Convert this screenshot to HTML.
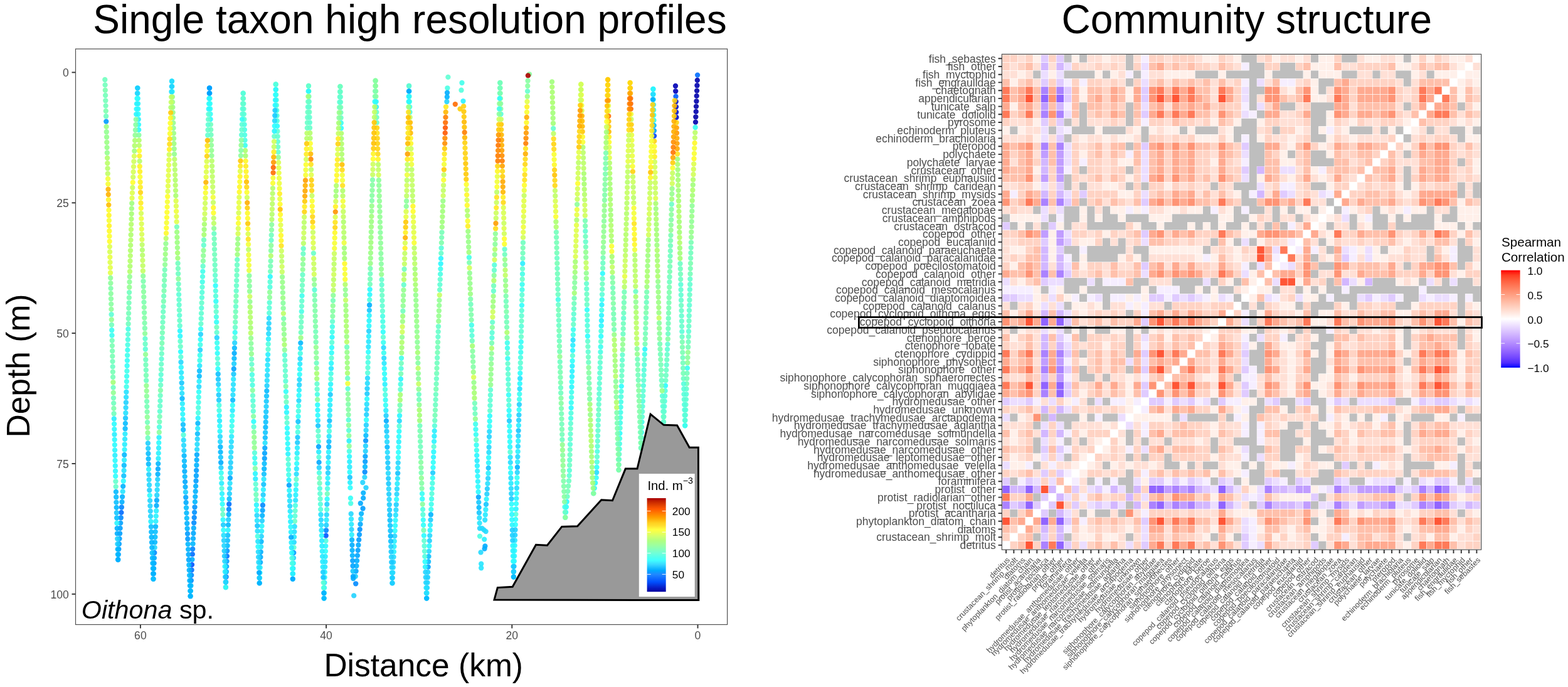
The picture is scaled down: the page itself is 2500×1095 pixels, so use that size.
<!DOCTYPE html>
<html lang="en"><head><meta charset="utf-8"><title>Single taxon high resolution profiles / Community structure</title>
<style>html,body{margin:0;padding:0;background:#fff}svg{display:block}text{font-family:"Liberation Sans", sans-serif}</style></head><body>
<svg width="2500" height="1095" viewBox="0 0 2500 1095">
<rect width="2500" height="1095" fill="#fff"/>
<text x="653.5" y="52.8" font-size="64" text-anchor="middle" fill="#000">Single taxon high resolution profiles</text>
<text x="1987.8" y="52.8" font-size="64" text-anchor="middle" fill="#000">Community structure</text>
<text transform="translate(46.5,583) rotate(-90)" font-size="51.5" text-anchor="middle" fill="#000">Depth (m)</text>
<text x="675.2" y="1078.2" font-size="51.5" text-anchor="middle" fill="#000">Distance (km)</text>
<g stroke="#333" stroke-width="1.9">
<line x1="114.5" y1="115.4" x2="120.5" y2="115.4"/>
<line x1="114.5" y1="323.3" x2="120.5" y2="323.3"/>
<line x1="114.5" y1="531.1" x2="120.5" y2="531.1"/>
<line x1="114.5" y1="739" x2="120.5" y2="739"/>
<line x1="114.5" y1="946.9" x2="120.5" y2="946.9"/>
<line x1="223.9" y1="995.5" x2="223.9" y2="1001.5"/>
<line x1="520.1" y1="995.5" x2="520.1" y2="1001.5"/>
<line x1="816.3" y1="995.5" x2="816.3" y2="1001.5"/>
<line x1="1112.5" y1="995.5" x2="1112.5" y2="1001.5"/>
</g>
<g font-size="17.6" fill="#4d4d4d">
<text x="109.8" y="122.3" text-anchor="end">0</text>
<text x="109.8" y="330.2" text-anchor="end">25</text>
<text x="109.8" y="538" text-anchor="end">50</text>
<text x="109.8" y="745.9" text-anchor="end">75</text>
<text x="109.8" y="953.8" text-anchor="end">100</text>
<text x="223.9" y="1018.8" text-anchor="middle">60</text>
<text x="520.1" y="1018.8" text-anchor="middle">40</text>
<text x="816.3" y="1018.8" text-anchor="middle">20</text>
<text x="1112.5" y="1018.8" text-anchor="middle">0</text>
</g>
<g fill-opacity="0.9">
<circle cx="844" cy="118.3" r="4.15" fill="#8cff9c"/><circle cx="1112.1" cy="119.6" r="4.15" fill="#006dff"/><circle cx="1111.8" cy="127.9" r="4.15" fill="#0000ab"/><circle cx="1111.4" cy="136.2" r="4.15" fill="#0000af"/><circle cx="1111.1" cy="144.6" r="4.15" fill="#0000a7"/><circle cx="1110.7" cy="152.9" r="4.15" fill="#0000ad"/><circle cx="1110.4" cy="161.3" r="4.15" fill="#0000ab"/><circle cx="1110" cy="169.6" r="4.15" fill="#0000a7"/><circle cx="1109.7" cy="177.9" r="4.15" fill="#0000ad"/><circle cx="1109.3" cy="186.3" r="4.15" fill="#0000a6"/><circle cx="1109" cy="194.6" r="4.15" fill="#0000ac"/><circle cx="1108.6" cy="203" r="4.15" fill="#39fff2"/><circle cx="1108.3" cy="211.3" r="4.15" fill="#bbff68"/><circle cx="1107.9" cy="219.6" r="4.15" fill="#c3ff64"/><circle cx="1107.6" cy="228" r="4.15" fill="#fff827"/><circle cx="1107.2" cy="236.3" r="4.15" fill="#f7ff33"/><circle cx="1106.9" cy="244.7" r="4.15" fill="#f9ff31"/><circle cx="1106.5" cy="253" r="4.15" fill="#fffe2a"/><circle cx="1106.2" cy="261.3" r="4.15" fill="#deff4d"/><circle cx="1105.8" cy="269.7" r="4.15" fill="#d5ff55"/><circle cx="1105.5" cy="278" r="4.15" fill="#d1ff5a"/><circle cx="1105.1" cy="286.4" r="4.15" fill="#b4ff6c"/><circle cx="1104.8" cy="294.7" r="4.15" fill="#a2ff7b"/><circle cx="1104.4" cy="303" r="4.15" fill="#b1ff6d"/><circle cx="1104.1" cy="311.4" r="4.15" fill="#a5ff75"/><circle cx="1103.7" cy="319.7" r="4.15" fill="#a3ff79"/><circle cx="1103.5" cy="328.1" r="4.15" fill="#8fff98"/><circle cx="1103.3" cy="336.4" r="4.15" fill="#92ff94"/><circle cx="1103" cy="344.7" r="4.15" fill="#99ff88"/><circle cx="1102.8" cy="353.1" r="4.15" fill="#90ff96"/><circle cx="1102.6" cy="361.4" r="4.15" fill="#96ff8e"/><circle cx="1102.3" cy="369.8" r="4.15" fill="#97ff8c"/><circle cx="1102.1" cy="378.1" r="4.15" fill="#93ff92"/><circle cx="1101.9" cy="386.4" r="4.15" fill="#78ffb4"/><circle cx="1101.7" cy="394.8" r="4.15" fill="#70ffbe"/><circle cx="1101.4" cy="403.1" r="4.15" fill="#70ffbe"/><circle cx="1101.2" cy="411.5" r="4.15" fill="#72ffbb"/><circle cx="1101" cy="419.8" r="4.15" fill="#7affb1"/><circle cx="1100.8" cy="428.1" r="4.15" fill="#76ffb6"/><circle cx="1100.5" cy="436.5" r="4.15" fill="#74ffb9"/><circle cx="1100.3" cy="444.8" r="4.15" fill="#65ffcd"/><circle cx="1100.1" cy="453.2" r="4.15" fill="#63ffd0"/><circle cx="1099.8" cy="461.5" r="4.15" fill="#60ffd4"/><circle cx="1099.6" cy="469.8" r="4.15" fill="#68ffc9"/><circle cx="1099.4" cy="478.2" r="4.15" fill="#67ffcb"/><circle cx="1099.2" cy="486.5" r="4.15" fill="#5fffd5"/><circle cx="1098.9" cy="494.8" r="4.15" fill="#65ffce"/><circle cx="1098.7" cy="503.2" r="4.15" fill="#64ffcf"/><circle cx="1098.5" cy="511.5" r="4.15" fill="#6affc7"/><circle cx="1098.3" cy="519.9" r="4.15" fill="#67ffca"/><circle cx="1098" cy="528.2" r="4.15" fill="#60ffd4"/><circle cx="1097.8" cy="536.5" r="4.15" fill="#6bffc5"/><circle cx="1097.5" cy="544.9" r="4.15" fill="#71ffbd"/><circle cx="1097.2" cy="553.2" r="4.15" fill="#76ffb7"/><circle cx="1096.9" cy="561.6" r="4.15" fill="#93ff92"/><circle cx="1096.5" cy="569.9" r="4.15" fill="#89ff9f"/><circle cx="1096.2" cy="578.2" r="4.15" fill="#8fff98"/><circle cx="1095.9" cy="586.6" r="4.15" fill="#38fff2"/><circle cx="1095.5" cy="594.9" r="4.15" fill="#73ffba"/><circle cx="1095.2" cy="603.3" r="4.15" fill="#75ffb8"/><circle cx="1094.9" cy="611.6" r="4.15" fill="#72ffbc"/><circle cx="1094.5" cy="619.9" r="4.15" fill="#63ffd0"/><circle cx="1094.2" cy="628.3" r="4.15" fill="#58ffda"/><circle cx="1093.9" cy="636.6" r="4.15" fill="#60ffd4"/><circle cx="1093.5" cy="645" r="4.15" fill="#5effd5"/><circle cx="1093.2" cy="653.3" r="4.15" fill="#5effd6"/><circle cx="1092.9" cy="661.6" r="4.15" fill="#5bffd8"/><circle cx="1092.5" cy="670" r="4.15" fill="#62ffd1"/><circle cx="1092.2" cy="678.3" r="4.15" fill="#33fff7"/><circle cx="1077" cy="137" r="4.15" fill="#0000b5"/><circle cx="1077.2" cy="145.3" r="4.15" fill="#0000b7"/><circle cx="1077.5" cy="153.7" r="4.15" fill="#005dff"/><circle cx="1077.7" cy="162" r="4.15" fill="#000bc6"/><circle cx="1077.9" cy="170.3" r="4.15" fill="#000ac5"/><circle cx="1078.1" cy="178.7" r="4.15" fill="#000eca"/><circle cx="1078.4" cy="187" r="4.15" fill="#000cc8"/><circle cx="1078.6" cy="195.3" r="4.15" fill="#ffd20e"/><circle cx="1078.8" cy="203.6" r="4.15" fill="#ffa100"/><circle cx="1079" cy="212" r="4.15" fill="#ff9900"/><circle cx="1079.3" cy="220.3" r="4.15" fill="#ffab00"/><circle cx="1079.5" cy="228.6" r="4.15" fill="#ff9f00"/><circle cx="1079.7" cy="237" r="4.15" fill="#ffa700"/><circle cx="1080" cy="245.3" r="4.15" fill="#ffe01b"/><circle cx="1080.2" cy="253.6" r="4.15" fill="#a2ff7a"/><circle cx="1080.4" cy="261.9" r="4.15" fill="#afff6e"/><circle cx="1080.6" cy="270.3" r="4.15" fill="#a3ff79"/><circle cx="1080.9" cy="278.6" r="4.15" fill="#a4ff76"/><circle cx="1081.1" cy="286.9" r="4.15" fill="#a6ff73"/><circle cx="1081.3" cy="295.2" r="4.15" fill="#b1ff6d"/><circle cx="1081.6" cy="303.6" r="4.15" fill="#a2ff7a"/><circle cx="1081.8" cy="311.9" r="4.15" fill="#a7ff72"/><circle cx="1082" cy="320.2" r="4.15" fill="#aaff71"/><circle cx="1082.2" cy="328.6" r="4.15" fill="#b2ff6d"/><circle cx="1082.4" cy="336.9" r="4.15" fill="#b0ff6d"/><circle cx="1082.6" cy="345.2" r="4.15" fill="#b1ff6d"/><circle cx="1082.9" cy="353.5" r="4.15" fill="#a5ff76"/><circle cx="1083.1" cy="361.9" r="4.15" fill="#a7ff73"/><circle cx="1083.3" cy="370.2" r="4.15" fill="#a6ff74"/><circle cx="1083.5" cy="378.5" r="4.15" fill="#b2ff6d"/><circle cx="1083.7" cy="386.9" r="4.15" fill="#b3ff6c"/><circle cx="1083.9" cy="395.2" r="4.15" fill="#a3ff78"/><circle cx="1084.1" cy="403.5" r="4.15" fill="#a3ff78"/><circle cx="1084.3" cy="411.8" r="4.15" fill="#a4ff77"/><circle cx="1084.5" cy="420.2" r="4.15" fill="#6cffc3"/><circle cx="1084.8" cy="428.5" r="4.15" fill="#70ffbe"/><circle cx="1085" cy="436.8" r="4.15" fill="#72ffbc"/><circle cx="1085.2" cy="445.1" r="4.15" fill="#6dffc3"/><circle cx="1085.4" cy="453.5" r="4.15" fill="#5affd8"/><circle cx="1085.6" cy="461.8" r="4.15" fill="#62ffd1"/><circle cx="1085.8" cy="470.1" r="4.15" fill="#61ffd2"/><circle cx="1086" cy="478.5" r="4.15" fill="#65ffce"/><circle cx="1086.2" cy="486.8" r="4.15" fill="#6bffc5"/><circle cx="1086.5" cy="495.1" r="4.15" fill="#67ffcb"/><circle cx="1086.7" cy="503.4" r="4.15" fill="#64ffcf"/><circle cx="1086.9" cy="511.8" r="4.15" fill="#65ffcd"/><circle cx="1087.1" cy="520.1" r="4.15" fill="#66ffcb"/><circle cx="1087.3" cy="528.4" r="4.15" fill="#5bffd8"/><circle cx="1087.5" cy="536.8" r="4.15" fill="#6affc6"/><circle cx="1087.8" cy="545.1" r="4.15" fill="#79ffb3"/><circle cx="1088" cy="553.4" r="4.15" fill="#7affb1"/><circle cx="1088.3" cy="561.7" r="4.15" fill="#79ffb3"/><circle cx="1088.6" cy="570.1" r="4.15" fill="#72ffbc"/><circle cx="1088.9" cy="578.4" r="4.15" fill="#72ffbb"/><circle cx="1089.1" cy="586.7" r="4.15" fill="#6dffc2"/><circle cx="1089.4" cy="595" r="4.15" fill="#76ffb6"/><circle cx="1089.7" cy="603.4" r="4.15" fill="#6dffc3"/><circle cx="1090" cy="611.7" r="4.15" fill="#57ffdb"/><circle cx="1090.3" cy="620" r="4.15" fill="#5affd8"/><circle cx="1090.5" cy="628.4" r="4.15" fill="#59ffd9"/><circle cx="1090.8" cy="636.7" r="4.15" fill="#5dffd6"/><circle cx="1091.1" cy="645" r="4.15" fill="#56ffdb"/><circle cx="1091.4" cy="653.3" r="4.15" fill="#55ffdc"/><circle cx="1091.6" cy="661.7" r="4.15" fill="#59ffd9"/><circle cx="1091.9" cy="670" r="4.15" fill="#57ffda"/><circle cx="1092.2" cy="678.3" r="4.15" fill="#3effed"/><circle cx="1075.6" cy="160.3" r="4.15" fill="#ffd612"/><circle cx="1075.4" cy="168.6" r="4.15" fill="#ffba00"/><circle cx="1075.1" cy="176.8" r="4.15" fill="#ffc101"/><circle cx="1074.9" cy="185.1" r="4.15" fill="#ffcd09"/><circle cx="1074.6" cy="193.3" r="4.15" fill="#ffb000"/><circle cx="1074.4" cy="201.6" r="4.15" fill="#ffad00"/><circle cx="1074.2" cy="209.9" r="4.15" fill="#ffad00"/><circle cx="1073.9" cy="218.1" r="4.15" fill="#ffa300"/><circle cx="1073.7" cy="226.4" r="4.15" fill="#ff8f00"/><circle cx="1073.5" cy="234.7" r="4.15" fill="#ff8000"/><circle cx="1073.2" cy="242.9" r="4.15" fill="#ff7300"/><circle cx="1073" cy="251.2" r="4.15" fill="#ffa900"/><circle cx="1072.7" cy="259.4" r="4.15" fill="#ffce0b"/><circle cx="1072.5" cy="267.7" r="4.15" fill="#faff30"/><circle cx="1072.3" cy="276" r="4.15" fill="#c6ff62"/><circle cx="1072" cy="284.2" r="4.15" fill="#c4ff63"/><circle cx="1071.8" cy="292.5" r="4.15" fill="#d2ff59"/><circle cx="1071.6" cy="300.7" r="4.15" fill="#98ff8a"/><circle cx="1071.3" cy="309" r="4.15" fill="#96ff8d"/><circle cx="1071.1" cy="317.3" r="4.15" fill="#a3ff78"/><circle cx="1070.8" cy="325.5" r="4.15" fill="#6bffc6"/><circle cx="1070.6" cy="333.8" r="4.15" fill="#86ffa3"/><circle cx="1070.4" cy="342.1" r="4.15" fill="#8cff9b"/><circle cx="1070.2" cy="350.3" r="4.15" fill="#84ffa6"/><circle cx="1069.9" cy="358.6" r="4.15" fill="#8cff9b"/><circle cx="1069.7" cy="366.8" r="4.15" fill="#93ff92"/><circle cx="1069.5" cy="375.1" r="4.15" fill="#7affb1"/><circle cx="1069.2" cy="383.4" r="4.15" fill="#77ffb5"/><circle cx="1069" cy="391.6" r="4.15" fill="#70ffbe"/><circle cx="1068.8" cy="399.9" r="4.15" fill="#72ffbc"/><circle cx="1068.6" cy="408.1" r="4.15" fill="#6effc1"/><circle cx="1068.3" cy="416.4" r="4.15" fill="#78ffb3"/><circle cx="1068.1" cy="424.7" r="4.15" fill="#75ffb8"/><circle cx="1067.9" cy="432.9" r="4.15" fill="#79ffb3"/><circle cx="1067.6" cy="441.2" r="4.15" fill="#71ffbd"/><circle cx="1067.4" cy="449.4" r="4.15" fill="#6fffbf"/><circle cx="1067.2" cy="457.7" r="4.15" fill="#79ffb2"/><circle cx="1067" cy="466" r="4.15" fill="#7cffaf"/><circle cx="1066.7" cy="474.2" r="4.15" fill="#7affb1"/><circle cx="1066.5" cy="482.5" r="4.15" fill="#79ffb2"/><circle cx="1066.3" cy="490.8" r="4.15" fill="#79ffb2"/><circle cx="1066" cy="499" r="4.15" fill="#78ffb4"/><circle cx="1065.8" cy="507.3" r="4.15" fill="#6fffbf"/><circle cx="1065.6" cy="515.5" r="4.15" fill="#74ffb9"/><circle cx="1065.4" cy="523.8" r="4.15" fill="#72ffbc"/><circle cx="1065.1" cy="532.1" r="4.15" fill="#6cffc4"/><circle cx="1064.9" cy="540.3" r="4.15" fill="#84ffa6"/><circle cx="1064.5" cy="548.6" r="4.15" fill="#60ffd4"/><circle cx="1064" cy="556.8" r="4.15" fill="#5fffd4"/><circle cx="1063.6" cy="565.1" r="4.15" fill="#67ffcb"/><circle cx="1063.2" cy="573.4" r="4.15" fill="#6bffc5"/><circle cx="1062.7" cy="581.6" r="4.15" fill="#63ffd0"/><circle cx="1062.3" cy="589.9" r="4.15" fill="#6bffc6"/><circle cx="1061.9" cy="598.2" r="4.15" fill="#6cffc4"/><circle cx="1061.4" cy="606.4" r="4.15" fill="#6bffc5"/><circle cx="1061" cy="614.7" r="4.15" fill="#2afdff"/><circle cx="1060.6" cy="622.9" r="4.15" fill="#56ffdc"/><circle cx="1060.2" cy="631.2" r="4.15" fill="#56ffdb"/><circle cx="1059.7" cy="639.5" r="4.15" fill="#55ffdc"/><circle cx="1059.3" cy="647.7" r="4.15" fill="#55ffdc"/><circle cx="1058.9" cy="656" r="4.15" fill="#5fffd5"/><circle cx="1058.4" cy="664.2" r="4.15" fill="#63ffcf"/><circle cx="1058" cy="672.5" r="4.15" fill="#62ffd0"/><circle cx="1041.4" cy="142" r="4.15" fill="#29f8ff"/><circle cx="1041.6" cy="150.3" r="4.15" fill="#2afbff"/><circle cx="1041.8" cy="158.6" r="4.15" fill="#2afaff"/><circle cx="1042" cy="166.9" r="4.15" fill="#27edff"/><circle cx="1042.1" cy="175.2" r="4.15" fill="#29f7ff"/><circle cx="1042.3" cy="183.5" r="4.15" fill="#2afcff"/><circle cx="1042.5" cy="191.7" r="4.15" fill="#2afaff"/><circle cx="1042.7" cy="200" r="4.15" fill="#07bdff"/><circle cx="1042.9" cy="208.3" r="4.15" fill="#00a2ff"/><circle cx="1043.1" cy="216.6" r="4.15" fill="#0044ff"/><circle cx="1043.3" cy="224.9" r="4.15" fill="#ffd310"/><circle cx="1043.4" cy="233.2" r="4.15" fill="#feff2c"/><circle cx="1043.6" cy="241.5" r="4.15" fill="#fff325"/><circle cx="1043.8" cy="249.8" r="4.15" fill="#ffef22"/><circle cx="1044" cy="258.1" r="4.15" fill="#d1ff5a"/><circle cx="1044.2" cy="266.3" r="4.15" fill="#d1ff5a"/><circle cx="1044.4" cy="274.6" r="4.15" fill="#deff4d"/><circle cx="1044.6" cy="282.9" r="4.15" fill="#d9ff52"/><circle cx="1044.8" cy="291.2" r="4.15" fill="#ccff5f"/><circle cx="1044.9" cy="299.5" r="4.15" fill="#cbff60"/><circle cx="1045.1" cy="307.8" r="4.15" fill="#cbff60"/><circle cx="1045.3" cy="316.1" r="4.15" fill="#ddff4e"/><circle cx="1045.5" cy="324.4" r="4.15" fill="#abff70"/><circle cx="1045.8" cy="332.7" r="4.15" fill="#a0ff7d"/><circle cx="1046" cy="340.9" r="4.15" fill="#abff70"/><circle cx="1046.2" cy="349.2" r="4.15" fill="#afff6e"/><circle cx="1046.5" cy="357.5" r="4.15" fill="#a7ff72"/><circle cx="1046.7" cy="365.8" r="4.15" fill="#a3ff78"/><circle cx="1046.9" cy="374.1" r="4.15" fill="#a6ff74"/><circle cx="1047.2" cy="382.4" r="4.15" fill="#a0ff7d"/><circle cx="1047.4" cy="390.7" r="4.15" fill="#9fff80"/><circle cx="1047.7" cy="399" r="4.15" fill="#afff6e"/><circle cx="1047.9" cy="407.3" r="4.15" fill="#a7ff72"/><circle cx="1048.1" cy="415.5" r="4.15" fill="#a6ff75"/><circle cx="1048.4" cy="423.8" r="4.15" fill="#aeff6e"/><circle cx="1048.6" cy="432.1" r="4.15" fill="#a4ff77"/><circle cx="1048.8" cy="440.4" r="4.15" fill="#adff6f"/><circle cx="1049.1" cy="448.7" r="4.15" fill="#97ff8d"/><circle cx="1049.3" cy="457" r="4.15" fill="#8dff9a"/><circle cx="1049.6" cy="465.3" r="4.15" fill="#9cff83"/><circle cx="1049.8" cy="473.6" r="4.15" fill="#9dff82"/><circle cx="1050" cy="481.9" r="4.15" fill="#9cff84"/><circle cx="1050.3" cy="490.1" r="4.15" fill="#a1ff7c"/><circle cx="1050.5" cy="498.4" r="4.15" fill="#9cff83"/><circle cx="1050.7" cy="506.7" r="4.15" fill="#c8ff61"/><circle cx="1051" cy="515" r="4.15" fill="#89ff9f"/><circle cx="1051.2" cy="523.3" r="4.15" fill="#95ff8f"/><circle cx="1051.5" cy="531.6" r="4.15" fill="#8cff9b"/><circle cx="1051.7" cy="539.9" r="4.15" fill="#8eff99"/><circle cx="1052.1" cy="548.2" r="4.15" fill="#75ffb7"/><circle cx="1052.5" cy="556.5" r="4.15" fill="#7bffb0"/><circle cx="1052.9" cy="564.7" r="4.15" fill="#73ffbb"/><circle cx="1053.3" cy="573" r="4.15" fill="#7bffb0"/><circle cx="1053.7" cy="581.3" r="4.15" fill="#74ffb9"/><circle cx="1054.1" cy="589.6" r="4.15" fill="#75ffb8"/><circle cx="1054.4" cy="597.9" r="4.15" fill="#74ffb9"/><circle cx="1054.8" cy="606.2" r="4.15" fill="#6cffc4"/><circle cx="1055.2" cy="614.5" r="4.15" fill="#73ffba"/><circle cx="1055.6" cy="622.8" r="4.15" fill="#9bff85"/><circle cx="1056" cy="631.1" r="4.15" fill="#5affd8"/><circle cx="1056.4" cy="639.3" r="4.15" fill="#68ffc9"/><circle cx="1056.8" cy="647.6" r="4.15" fill="#5dffd6"/><circle cx="1057.2" cy="655.9" r="4.15" fill="#63ffd0"/><circle cx="1057.6" cy="664.2" r="4.15" fill="#67ffca"/><circle cx="1058" cy="672.5" r="4.15" fill="#64ffce"/><circle cx="1041.4" cy="142" r="4.15" fill="#29f5ff"/><circle cx="1041.1" cy="150.3" r="4.15" fill="#23dbff"/><circle cx="1040.9" cy="158.6" r="4.15" fill="#00adff"/><circle cx="1040.6" cy="166.9" r="4.15" fill="#ffd310"/><circle cx="1040.4" cy="175.2" r="4.15" fill="#ffce0a"/><circle cx="1040.1" cy="183.5" r="4.15" fill="#ffc302"/><circle cx="1039.8" cy="191.8" r="4.15" fill="#ffdc19"/><circle cx="1039.6" cy="200" r="4.15" fill="#ffdc18"/><circle cx="1039.3" cy="208.3" r="4.15" fill="#ffe920"/><circle cx="1039.1" cy="216.6" r="4.15" fill="#f7ff33"/><circle cx="1038.8" cy="224.9" r="4.15" fill="#f8ff32"/><circle cx="1038.5" cy="233.2" r="4.15" fill="#fbff2f"/><circle cx="1038.3" cy="241.5" r="4.15" fill="#feff2c"/><circle cx="1038" cy="249.8" r="4.15" fill="#f6ff35"/><circle cx="1037.7" cy="258.1" r="4.15" fill="#f9ff32"/><circle cx="1037.5" cy="266.4" r="4.15" fill="#fff123"/><circle cx="1037.2" cy="274.7" r="4.15" fill="#ffc403"/><circle cx="1037" cy="283" r="4.15" fill="#fff626"/><circle cx="1036.7" cy="291.2" r="4.15" fill="#c9ff61"/><circle cx="1036.4" cy="299.5" r="4.15" fill="#cbff60"/><circle cx="1036.2" cy="307.8" r="4.15" fill="#c9ff61"/><circle cx="1035.9" cy="316.1" r="4.15" fill="#d5ff56"/><circle cx="1035.7" cy="324.4" r="4.15" fill="#cfff5c"/><circle cx="1035.4" cy="332.7" r="4.15" fill="#d3ff58"/><circle cx="1035.1" cy="341" r="4.15" fill="#d5ff56"/><circle cx="1034.9" cy="349.3" r="4.15" fill="#c4ff63"/><circle cx="1034.6" cy="357.6" r="4.15" fill="#cbff5f"/><circle cx="1034.3" cy="365.9" r="4.15" fill="#d5ff56"/><circle cx="1034.1" cy="374.2" r="4.15" fill="#d2ff59"/><circle cx="1033.8" cy="382.4" r="4.15" fill="#a0ff7d"/><circle cx="1033.6" cy="390.7" r="4.15" fill="#a0ff7d"/><circle cx="1033.3" cy="399" r="4.15" fill="#a4ff76"/><circle cx="1033" cy="407.3" r="4.15" fill="#9fff7e"/><circle cx="1032.8" cy="415.6" r="4.15" fill="#a2ff7b"/><circle cx="1032.5" cy="423.9" r="4.15" fill="#9fff7e"/><circle cx="1032.2" cy="432.2" r="4.15" fill="#a8ff72"/><circle cx="1032" cy="440.5" r="4.15" fill="#aaff70"/><circle cx="1031.7" cy="448.8" r="4.15" fill="#adff6f"/><circle cx="1031.4" cy="457.1" r="4.15" fill="#a0ff7d"/><circle cx="1031.2" cy="465.4" r="4.15" fill="#78ffb4"/><circle cx="1030.9" cy="473.6" r="4.15" fill="#77ffb6"/><circle cx="1030.7" cy="481.9" r="4.15" fill="#6effc1"/><circle cx="1030.4" cy="490.2" r="4.15" fill="#7affb1"/><circle cx="1030.1" cy="498.5" r="4.15" fill="#7cffaf"/><circle cx="1029.9" cy="506.8" r="4.15" fill="#6fffbf"/><circle cx="1029.6" cy="515.1" r="4.15" fill="#7bffaf"/><circle cx="1029.3" cy="523.4" r="4.15" fill="#72ffbb"/><circle cx="1029.1" cy="531.7" r="4.15" fill="#74ffb9"/><circle cx="1028.8" cy="540" r="4.15" fill="#7cffaf"/><circle cx="1028.5" cy="548.3" r="4.15" fill="#76ffb6"/><circle cx="1028.2" cy="556.6" r="4.15" fill="#2af9ff"/><circle cx="1027.8" cy="564.8" r="4.15" fill="#44ffe9"/><circle cx="1027.5" cy="573.1" r="4.15" fill="#60ffd3"/><circle cx="1027.2" cy="581.4" r="4.15" fill="#58ffda"/><circle cx="1026.8" cy="589.7" r="4.15" fill="#55ffdc"/><circle cx="1026.5" cy="598" r="4.15" fill="#58ffda"/><circle cx="1026.2" cy="606.3" r="4.15" fill="#61ffd3"/><circle cx="1025.9" cy="614.6" r="4.15" fill="#51ffdf"/><circle cx="1025.5" cy="622.9" r="4.15" fill="#5dffd6"/><circle cx="1025.2" cy="631.2" r="4.15" fill="#5affd8"/><circle cx="1024.9" cy="639.5" r="4.15" fill="#51ffdf"/><circle cx="1024.5" cy="647.8" r="4.15" fill="#58ffda"/><circle cx="1024.2" cy="656" r="4.15" fill="#5fffd5"/><circle cx="1023.9" cy="664.3" r="4.15" fill="#5cffd7"/><circle cx="1023.5" cy="672.6" r="4.15" fill="#41ffeb"/><circle cx="1023.2" cy="680.9" r="4.15" fill="#55ffdc"/><circle cx="1022.9" cy="689.2" r="4.15" fill="#3dffee"/><circle cx="1022.6" cy="697.5" r="4.15" fill="#55ffdc"/><circle cx="1022.2" cy="705.8" r="4.15" fill="#41ffeb"/><circle cx="1021.9" cy="714.1" r="4.15" fill="#45ffe8"/><circle cx="1004.6" cy="132" r="4.15" fill="#fffd2a"/><circle cx="1004.9" cy="140.3" r="4.15" fill="#ffb200"/><circle cx="1005.1" cy="148.7" r="4.15" fill="#ffb800"/><circle cx="1005.4" cy="157" r="4.15" fill="#ff6b00"/><circle cx="1005.6" cy="165.3" r="4.15" fill="#ff6700"/><circle cx="1005.9" cy="173.6" r="4.15" fill="#ff6d00"/><circle cx="1006.1" cy="181.9" r="4.15" fill="#f2ff39"/><circle cx="1006.4" cy="190.2" r="4.15" fill="#ccff5f"/><circle cx="1006.6" cy="198.6" r="4.15" fill="#ffcd09"/><circle cx="1006.9" cy="206.9" r="4.15" fill="#ffd10d"/><circle cx="1007.1" cy="215.2" r="4.15" fill="#e8ff42"/><circle cx="1007.4" cy="223.5" r="4.15" fill="#ecff3f"/><circle cx="1007.6" cy="231.8" r="4.15" fill="#ddff4e"/><circle cx="1007.9" cy="240.1" r="4.15" fill="#dcff4f"/><circle cx="1008.1" cy="248.4" r="4.15" fill="#ebff40"/><circle cx="1008.4" cy="256.8" r="4.15" fill="#e5ff46"/><circle cx="1008.6" cy="265.1" r="4.15" fill="#faff30"/><circle cx="1008.9" cy="273.4" r="4.15" fill="#ffd10d"/><circle cx="1009.1" cy="281.7" r="4.15" fill="#c8ff61"/><circle cx="1009.4" cy="290" r="4.15" fill="#ccff5e"/><circle cx="1009.6" cy="298.3" r="4.15" fill="#bbff68"/><circle cx="1009.9" cy="306.6" r="4.15" fill="#ceff5d"/><circle cx="1010.1" cy="315" r="4.15" fill="#bbff68"/><circle cx="1010.4" cy="323.3" r="4.15" fill="#ceff5d"/><circle cx="1010.6" cy="331.6" r="4.15" fill="#f6ff34"/><circle cx="1010.7" cy="339.9" r="4.15" fill="#f4ff37"/><circle cx="1010.9" cy="348.2" r="4.15" fill="#f8ff33"/><circle cx="1011.1" cy="356.5" r="4.15" fill="#ffe51d"/><circle cx="1011.3" cy="364.9" r="4.15" fill="#fff727"/><circle cx="1011.5" cy="373.2" r="4.15" fill="#fffb29"/><circle cx="1011.6" cy="381.5" r="4.15" fill="#fff023"/><circle cx="1011.8" cy="389.8" r="4.15" fill="#fff827"/><circle cx="1012" cy="398.1" r="4.15" fill="#f0ff3b"/><circle cx="1012.2" cy="406.4" r="4.15" fill="#b8ff69"/><circle cx="1012.4" cy="414.7" r="4.15" fill="#b6ff6b"/><circle cx="1012.5" cy="423.1" r="4.15" fill="#b9ff69"/><circle cx="1012.7" cy="431.4" r="4.15" fill="#bcff68"/><circle cx="1012.9" cy="439.7" r="4.15" fill="#bcff68"/><circle cx="1013.1" cy="448" r="4.15" fill="#c7ff62"/><circle cx="1013.3" cy="456.3" r="4.15" fill="#bbff68"/><circle cx="1013.5" cy="464.6" r="4.15" fill="#6affc6"/><circle cx="1013.6" cy="472.9" r="4.15" fill="#aaff70"/><circle cx="1013.8" cy="481.3" r="4.15" fill="#90ff97"/><circle cx="1014" cy="489.6" r="4.15" fill="#9aff87"/><circle cx="1014.2" cy="497.9" r="4.15" fill="#b1ff6d"/><circle cx="1014.4" cy="506.2" r="4.15" fill="#abff70"/><circle cx="1014.5" cy="514.5" r="4.15" fill="#bcff67"/><circle cx="1014.7" cy="522.8" r="4.15" fill="#b8ff69"/><circle cx="1014.9" cy="531.1" r="4.15" fill="#c3ff64"/><circle cx="1015.1" cy="539.5" r="4.15" fill="#bbff68"/><circle cx="1015.4" cy="547.8" r="4.15" fill="#bcff67"/><circle cx="1015.7" cy="556.1" r="4.15" fill="#88ffa0"/><circle cx="1016" cy="564.4" r="4.15" fill="#94ff91"/><circle cx="1016.4" cy="572.7" r="4.15" fill="#73ffbb"/><circle cx="1016.7" cy="581" r="4.15" fill="#74ffb9"/><circle cx="1017" cy="589.4" r="4.15" fill="#7affb2"/><circle cx="1017.3" cy="597.7" r="4.15" fill="#72ffbc"/><circle cx="1017.7" cy="606" r="4.15" fill="#74ffb9"/><circle cx="1018" cy="614.3" r="4.15" fill="#81ffa8"/><circle cx="1018.3" cy="622.6" r="4.15" fill="#86ffa2"/><circle cx="1018.6" cy="630.9" r="4.15" fill="#7bffaf"/><circle cx="1019" cy="639.2" r="4.15" fill="#84ffa6"/><circle cx="1019.3" cy="647.6" r="4.15" fill="#81ffa8"/><circle cx="1019.6" cy="655.9" r="4.15" fill="#80ffaa"/><circle cx="1019.9" cy="664.2" r="4.15" fill="#7cffae"/><circle cx="1020.3" cy="672.5" r="4.15" fill="#7bffaf"/><circle cx="1020.6" cy="680.8" r="4.15" fill="#77ffb6"/><circle cx="1020.9" cy="689.1" r="4.15" fill="#78ffb4"/><circle cx="1021.2" cy="697.4" r="4.15" fill="#77ffb5"/><circle cx="1021.6" cy="705.8" r="4.15" fill="#82ffa7"/><circle cx="1021.9" cy="714.1" r="4.15" fill="#7affb1"/><circle cx="1004.6" cy="132" r="4.15" fill="#ffd410"/><circle cx="1004.4" cy="140.4" r="4.15" fill="#ffd511"/><circle cx="1004.2" cy="148.7" r="4.15" fill="#ffa500"/><circle cx="1003.9" cy="157" r="4.15" fill="#ff7900"/><circle cx="1003.7" cy="165.4" r="4.15" fill="#ff7e00"/><circle cx="1003.5" cy="173.7" r="4.15" fill="#ff8900"/><circle cx="1003.3" cy="182.1" r="4.15" fill="#ffd20f"/><circle cx="1003" cy="190.4" r="4.15" fill="#ffd10e"/><circle cx="1002.8" cy="198.7" r="4.15" fill="#ffd30f"/><circle cx="1002.6" cy="207.1" r="4.15" fill="#ffdf1a"/><circle cx="1002.4" cy="215.4" r="4.15" fill="#d2ff59"/><circle cx="1002.2" cy="223.7" r="4.15" fill="#ceff5d"/><circle cx="1001.9" cy="232.1" r="4.15" fill="#dfff4c"/><circle cx="1001.7" cy="240.4" r="4.15" fill="#dfff4c"/><circle cx="1001.5" cy="248.8" r="4.15" fill="#d5ff56"/><circle cx="1001.3" cy="257.1" r="4.15" fill="#e5ff45"/><circle cx="1001.1" cy="265.4" r="4.15" fill="#d0ff5b"/><circle cx="1000.8" cy="273.8" r="4.15" fill="#c1ff65"/><circle cx="1000.6" cy="282.1" r="4.15" fill="#c2ff65"/><circle cx="1000.4" cy="290.4" r="4.15" fill="#b9ff69"/><circle cx="1000.2" cy="298.8" r="4.15" fill="#c2ff64"/><circle cx="999.9" cy="307.1" r="4.15" fill="#c5ff63"/><circle cx="999.7" cy="315.5" r="4.15" fill="#c5ff63"/><circle cx="999.5" cy="323.8" r="4.15" fill="#b9ff69"/><circle cx="999.2" cy="332.1" r="4.15" fill="#c0ff65"/><circle cx="999" cy="340.5" r="4.15" fill="#b5ff6b"/><circle cx="998.8" cy="348.8" r="4.15" fill="#bbff68"/><circle cx="998.5" cy="357.1" r="4.15" fill="#b7ff6a"/><circle cx="998.3" cy="365.5" r="4.15" fill="#beff67"/><circle cx="998" cy="373.8" r="4.15" fill="#b5ff6b"/><circle cx="997.8" cy="382.2" r="4.15" fill="#b5ff6b"/><circle cx="997.6" cy="390.5" r="4.15" fill="#bcff68"/><circle cx="997.3" cy="398.8" r="4.15" fill="#baff69"/><circle cx="997.1" cy="407.2" r="4.15" fill="#c2ff64"/><circle cx="996.8" cy="415.5" r="4.15" fill="#cbff60"/><circle cx="996.6" cy="423.8" r="4.15" fill="#d0ff5b"/><circle cx="996.3" cy="432.2" r="4.15" fill="#ceff5d"/><circle cx="996.1" cy="440.5" r="4.15" fill="#e7ff44"/><circle cx="995.9" cy="448.9" r="4.15" fill="#c5ff63"/><circle cx="995.6" cy="457.2" r="4.15" fill="#b9ff69"/><circle cx="995.4" cy="465.5" r="4.15" fill="#74ffb9"/><circle cx="995.1" cy="473.9" r="4.15" fill="#7fffab"/><circle cx="994.9" cy="482.2" r="4.15" fill="#71ffbc"/><circle cx="994.6" cy="490.5" r="4.15" fill="#7bffb0"/><circle cx="994.4" cy="498.9" r="4.15" fill="#6cffc3"/><circle cx="994.2" cy="507.2" r="4.15" fill="#63ffd0"/><circle cx="993.9" cy="515.6" r="4.15" fill="#70ffbf"/><circle cx="993.7" cy="523.9" r="4.15" fill="#71ffbe"/><circle cx="993.4" cy="532.2" r="4.15" fill="#6cffc4"/><circle cx="993.2" cy="540.6" r="4.15" fill="#93ff93"/><circle cx="992.9" cy="548.9" r="4.15" fill="#94ff91"/><circle cx="992.7" cy="557.2" r="4.15" fill="#89ff9f"/><circle cx="992.4" cy="565.6" r="4.15" fill="#64ffcf"/><circle cx="992.1" cy="573.9" r="4.15" fill="#64ffcf"/><circle cx="991.9" cy="582.3" r="4.15" fill="#69ffc8"/><circle cx="991.6" cy="590.6" r="4.15" fill="#69ffc8"/><circle cx="991.3" cy="598.9" r="4.15" fill="#69ffc8"/><circle cx="991.1" cy="607.3" r="4.15" fill="#65ffcd"/><circle cx="990.8" cy="615.6" r="4.15" fill="#2bffff"/><circle cx="990.5" cy="623.9" r="4.15" fill="#4effe1"/><circle cx="990.2" cy="632.3" r="4.15" fill="#4effe1"/><circle cx="990" cy="640.6" r="4.15" fill="#44ffe9"/><circle cx="989.7" cy="649" r="4.15" fill="#40ffec"/><circle cx="989.4" cy="657.3" r="4.15" fill="#42ffea"/><circle cx="989.2" cy="665.6" r="4.15" fill="#47ffe6"/><circle cx="988.9" cy="674" r="4.15" fill="#41ffeb"/><circle cx="988.6" cy="682.3" r="4.15" fill="#52ffdf"/><circle cx="988.4" cy="690.6" r="4.15" fill="#2cfffe"/><circle cx="988.1" cy="699" r="4.15" fill="#44ffe9"/><circle cx="987.8" cy="707.3" r="4.15" fill="#44ffe9"/><circle cx="987.6" cy="715.7" r="4.15" fill="#45ffe8"/><circle cx="987.3" cy="724" r="4.15" fill="#5cffd7"/><circle cx="987" cy="732.3" r="4.15" fill="#51ffdf"/><circle cx="986.8" cy="740.7" r="4.15" fill="#62ffd1"/><circle cx="986.5" cy="749" r="4.15" fill="#61ffd3"/><circle cx="969.1" cy="127" r="4.15" fill="#ffd815"/><circle cx="969.3" cy="135.3" r="4.15" fill="#ffd814"/><circle cx="969.4" cy="143.6" r="4.15" fill="#ffd512"/><circle cx="969.6" cy="151.9" r="4.15" fill="#ffe11b"/><circle cx="969.8" cy="160.2" r="4.15" fill="#ffa200"/><circle cx="970" cy="168.5" r="4.15" fill="#e6ff45"/><circle cx="970.1" cy="176.8" r="4.15" fill="#e1ff4a"/><circle cx="970.3" cy="185.1" r="4.15" fill="#ff6e00"/><circle cx="970.5" cy="193.4" r="4.15" fill="#ffbe00"/><circle cx="970.6" cy="201.7" r="4.15" fill="#ffcc08"/><circle cx="970.8" cy="210" r="4.15" fill="#ffbe00"/><circle cx="971" cy="218.3" r="4.15" fill="#ffef22"/><circle cx="971.2" cy="226.6" r="4.15" fill="#fffc29"/><circle cx="971.3" cy="234.8" r="4.15" fill="#daff51"/><circle cx="971.5" cy="243.1" r="4.15" fill="#ddff4e"/><circle cx="971.7" cy="251.4" r="4.15" fill="#e2ff49"/><circle cx="971.9" cy="259.7" r="4.15" fill="#b4ff6c"/><circle cx="972" cy="268" r="4.15" fill="#b0ff6d"/><circle cx="972.2" cy="276.3" r="4.15" fill="#b1ff6d"/><circle cx="972.4" cy="284.6" r="4.15" fill="#a5ff76"/><circle cx="972.5" cy="292.9" r="4.15" fill="#a6ff74"/><circle cx="972.7" cy="301.2" r="4.15" fill="#a7ff72"/><circle cx="972.9" cy="309.5" r="4.15" fill="#b3ff6c"/><circle cx="973.1" cy="317.8" r="4.15" fill="#a9ff71"/><circle cx="973.3" cy="326.1" r="4.15" fill="#afff6e"/><circle cx="973.5" cy="334.4" r="4.15" fill="#a4ff77"/><circle cx="973.8" cy="342.7" r="4.15" fill="#a5ff76"/><circle cx="974" cy="350.9" r="4.15" fill="#a8ff72"/><circle cx="974.2" cy="359.2" r="4.15" fill="#b1ff6d"/><circle cx="974.5" cy="367.5" r="4.15" fill="#b2ff6d"/><circle cx="974.7" cy="375.8" r="4.15" fill="#b1ff6d"/><circle cx="975" cy="384.1" r="4.15" fill="#a8ff71"/><circle cx="975.2" cy="392.4" r="4.15" fill="#faff30"/><circle cx="975.4" cy="400.7" r="4.15" fill="#faff31"/><circle cx="975.7" cy="409" r="4.15" fill="#a8ff72"/><circle cx="975.9" cy="417.3" r="4.15" fill="#a3ff79"/><circle cx="976.2" cy="425.6" r="4.15" fill="#c5ff63"/><circle cx="976.4" cy="433.9" r="4.15" fill="#b4ff6b"/><circle cx="976.6" cy="442.2" r="4.15" fill="#83ffa7"/><circle cx="976.9" cy="450.5" r="4.15" fill="#82ffa7"/><circle cx="977.1" cy="458.8" r="4.15" fill="#73ffbb"/><circle cx="977.4" cy="467" r="4.15" fill="#7affb1"/><circle cx="977.6" cy="475.3" r="4.15" fill="#80ffaa"/><circle cx="977.9" cy="483.6" r="4.15" fill="#83ffa7"/><circle cx="978.1" cy="491.9" r="4.15" fill="#7affb1"/><circle cx="978.3" cy="500.2" r="4.15" fill="#77ffb5"/><circle cx="978.6" cy="508.5" r="4.15" fill="#76ffb7"/><circle cx="978.8" cy="516.8" r="4.15" fill="#82ffa7"/><circle cx="979.1" cy="525.1" r="4.15" fill="#76ffb7"/><circle cx="979.3" cy="533.4" r="4.15" fill="#99ff89"/><circle cx="979.5" cy="541.7" r="4.15" fill="#b3ff6c"/><circle cx="979.8" cy="550" r="4.15" fill="#aeff6f"/><circle cx="980.1" cy="558.3" r="4.15" fill="#b8ff69"/><circle cx="980.4" cy="566.6" r="4.15" fill="#a6ff74"/><circle cx="980.7" cy="574.9" r="4.15" fill="#a4ff77"/><circle cx="980.9" cy="583.1" r="4.15" fill="#a0ff7e"/><circle cx="981.2" cy="591.4" r="4.15" fill="#a5ff75"/><circle cx="981.5" cy="599.7" r="4.15" fill="#b7ff6a"/><circle cx="981.8" cy="608" r="4.15" fill="#8aff9d"/><circle cx="982" cy="616.3" r="4.15" fill="#95ff8f"/><circle cx="982.3" cy="624.6" r="4.15" fill="#8fff98"/><circle cx="982.6" cy="632.9" r="4.15" fill="#87ffa2"/><circle cx="982.9" cy="641.2" r="4.15" fill="#b0ff6e"/><circle cx="983.2" cy="649.5" r="4.15" fill="#bbff68"/><circle cx="983.4" cy="657.8" r="4.15" fill="#7dffad"/><circle cx="983.7" cy="666.1" r="4.15" fill="#7bffb0"/><circle cx="984" cy="674.4" r="4.15" fill="#78ffb4"/><circle cx="984.3" cy="682.7" r="4.15" fill="#7bffaf"/><circle cx="984.6" cy="691" r="4.15" fill="#7bffb0"/><circle cx="984.8" cy="699.2" r="4.15" fill="#84ffa5"/><circle cx="985.1" cy="707.5" r="4.15" fill="#76ffb7"/><circle cx="985.4" cy="715.8" r="4.15" fill="#82ffa7"/><circle cx="985.7" cy="724.1" r="4.15" fill="#84ffa5"/><circle cx="985.9" cy="732.4" r="4.15" fill="#78ffb4"/><circle cx="986.2" cy="740.7" r="4.15" fill="#85ffa4"/><circle cx="986.5" cy="749" r="4.15" fill="#82ffa8"/><circle cx="969.1" cy="127" r="4.15" fill="#ffca07"/><circle cx="968.9" cy="135.4" r="4.15" fill="#ffd511"/><circle cx="968.7" cy="143.7" r="4.15" fill="#ffd310"/><circle cx="968.4" cy="152.1" r="4.15" fill="#ffd310"/><circle cx="968.2" cy="160.4" r="4.15" fill="#ff9b00"/><circle cx="968" cy="168.8" r="4.15" fill="#ffc201"/><circle cx="967.8" cy="177.1" r="4.15" fill="#ffda17"/><circle cx="967.5" cy="185.5" r="4.15" fill="#ffd916"/><circle cx="967.3" cy="193.8" r="4.15" fill="#fdff2d"/><circle cx="967.1" cy="202.2" r="4.15" fill="#ceff5d"/><circle cx="966.9" cy="210.5" r="4.15" fill="#a2ff7a"/><circle cx="966.6" cy="218.9" r="4.15" fill="#b0ff6d"/><circle cx="966.4" cy="227.2" r="4.15" fill="#a5ff75"/><circle cx="966.2" cy="235.5" r="4.15" fill="#b3ff6c"/><circle cx="966" cy="243.9" r="4.15" fill="#7affb1"/><circle cx="965.7" cy="252.2" r="4.15" fill="#7affb1"/><circle cx="965.5" cy="260.6" r="4.15" fill="#7effac"/><circle cx="965.3" cy="268.9" r="4.15" fill="#79ffb3"/><circle cx="965.1" cy="277.3" r="4.15" fill="#7cffaf"/><circle cx="964.8" cy="285.6" r="4.15" fill="#86ffa3"/><circle cx="964.6" cy="294" r="4.15" fill="#85ffa4"/><circle cx="964.4" cy="302.3" r="4.15" fill="#83ffa6"/><circle cx="964.2" cy="310.7" r="4.15" fill="#80ffaa"/><circle cx="963.9" cy="319" r="4.15" fill="#85ffa4"/><circle cx="963.7" cy="327.4" r="4.15" fill="#98ff8a"/><circle cx="963.5" cy="335.7" r="4.15" fill="#93ff93"/><circle cx="963.3" cy="344.1" r="4.15" fill="#95ff8f"/><circle cx="963" cy="352.4" r="4.15" fill="#8bff9d"/><circle cx="962.8" cy="360.7" r="4.15" fill="#95ff8f"/><circle cx="962.6" cy="369.1" r="4.15" fill="#91ff95"/><circle cx="962.4" cy="377.4" r="4.15" fill="#96ff8e"/><circle cx="962.2" cy="385.8" r="4.15" fill="#94ff91"/><circle cx="961.9" cy="394.1" r="4.15" fill="#8fff98"/><circle cx="961.7" cy="402.5" r="4.15" fill="#8bff9d"/><circle cx="961.5" cy="410.8" r="4.15" fill="#78ffb4"/><circle cx="961.3" cy="419.2" r="4.15" fill="#6bffc6"/><circle cx="961.1" cy="427.5" r="4.15" fill="#70ffbe"/><circle cx="960.8" cy="435.9" r="4.15" fill="#2afdff"/><circle cx="960.6" cy="444.2" r="4.15" fill="#67ffcb"/><circle cx="960.4" cy="452.6" r="4.15" fill="#6effc1"/><circle cx="960.2" cy="460.9" r="4.15" fill="#68ffc9"/><circle cx="960" cy="469.3" r="4.15" fill="#5bffd8"/><circle cx="959.8" cy="477.6" r="4.15" fill="#39fff2"/><circle cx="959.5" cy="485.9" r="4.15" fill="#29f4ff"/><circle cx="959.3" cy="494.3" r="4.15" fill="#43ffea"/><circle cx="959.1" cy="502.6" r="4.15" fill="#29f6ff"/><circle cx="958.9" cy="511" r="4.15" fill="#28f2ff"/><circle cx="958.7" cy="519.3" r="4.15" fill="#2af9ff"/><circle cx="958.4" cy="527.7" r="4.15" fill="#4dffe2"/><circle cx="958.2" cy="536" r="4.15" fill="#2bffff"/><circle cx="958" cy="544.4" r="4.15" fill="#60ffd4"/><circle cx="957.7" cy="552.7" r="4.15" fill="#3bffef"/><circle cx="957.4" cy="561.1" r="4.15" fill="#4affe4"/><circle cx="957.2" cy="569.4" r="4.15" fill="#68ffc9"/><circle cx="956.9" cy="577.8" r="4.15" fill="#5fffd4"/><circle cx="956.6" cy="586.1" r="4.15" fill="#5dffd6"/><circle cx="956.3" cy="594.4" r="4.15" fill="#5effd5"/><circle cx="956.1" cy="602.8" r="4.15" fill="#5cffd7"/><circle cx="955.8" cy="611.1" r="4.15" fill="#61ffd3"/><circle cx="955.5" cy="619.5" r="4.15" fill="#5cffd7"/><circle cx="955.3" cy="627.8" r="4.15" fill="#5fffd5"/><circle cx="955" cy="636.2" r="4.15" fill="#5fffd4"/><circle cx="954.7" cy="644.5" r="4.15" fill="#65ffce"/><circle cx="954.5" cy="652.9" r="4.15" fill="#6affc7"/><circle cx="954.2" cy="661.2" r="4.15" fill="#68ffca"/><circle cx="953.9" cy="669.6" r="4.15" fill="#62ffd1"/><circle cx="953.6" cy="677.9" r="4.15" fill="#62ffd1"/><circle cx="953.4" cy="686.3" r="4.15" fill="#64ffcf"/><circle cx="953.1" cy="694.6" r="4.15" fill="#61ffd2"/><circle cx="952.8" cy="703" r="4.15" fill="#61ffd3"/><circle cx="952.6" cy="711.3" r="4.15" fill="#5bffd8"/><circle cx="952.3" cy="719.6" r="4.15" fill="#4effe1"/><circle cx="952" cy="728" r="4.15" fill="#61ffd2"/><circle cx="951.8" cy="736.3" r="4.15" fill="#4fffe0"/><circle cx="951.5" cy="744.7" r="4.15" fill="#31fff9"/><circle cx="951.2" cy="753" r="4.15" fill="#24ddff"/><circle cx="950.7" cy="761.4" r="4.15" fill="#32fff9"/><circle cx="949.2" cy="769.7" r="4.15" fill="#2afaff"/><circle cx="947.8" cy="778.1" r="4.15" fill="#2afbff"/><circle cx="946.3" cy="786.4" r="4.15" fill="#2afbff"/><circle cx="926.3" cy="134.5" r="4.15" fill="#e4ff47"/><circle cx="926.6" cy="142.9" r="4.15" fill="#e5ff45"/><circle cx="926.8" cy="151.2" r="4.15" fill="#f1ff3a"/><circle cx="927.1" cy="159.6" r="4.15" fill="#efff3c"/><circle cx="927.4" cy="168" r="4.15" fill="#efff3c"/><circle cx="927.7" cy="176.3" r="4.15" fill="#dbff50"/><circle cx="927.9" cy="184.7" r="4.15" fill="#ffb600"/><circle cx="928.2" cy="193" r="4.15" fill="#ffbf00"/><circle cx="928.5" cy="201.4" r="4.15" fill="#ffba00"/><circle cx="928.7" cy="209.7" r="4.15" fill="#ffc504"/><circle cx="929" cy="218.1" r="4.15" fill="#fff928"/><circle cx="929.3" cy="226.5" r="4.15" fill="#f8ff32"/><circle cx="929.5" cy="234.8" r="4.15" fill="#afff6e"/><circle cx="929.8" cy="243.2" r="4.15" fill="#bcff67"/><circle cx="930.1" cy="251.5" r="4.15" fill="#baff69"/><circle cx="930.4" cy="259.9" r="4.15" fill="#bbff68"/><circle cx="930.6" cy="268.2" r="4.15" fill="#bdff67"/><circle cx="930.9" cy="276.6" r="4.15" fill="#acff70"/><circle cx="931.2" cy="285" r="4.15" fill="#a9ff71"/><circle cx="931.4" cy="293.3" r="4.15" fill="#aaff71"/><circle cx="931.7" cy="301.7" r="4.15" fill="#b3ff6c"/><circle cx="932" cy="310" r="4.15" fill="#b6ff6a"/><circle cx="932.2" cy="318.4" r="4.15" fill="#bdff67"/><circle cx="932.4" cy="326.8" r="4.15" fill="#cfff5c"/><circle cx="932.6" cy="335.1" r="4.15" fill="#ceff5d"/><circle cx="932.8" cy="343.5" r="4.15" fill="#d0ff5b"/><circle cx="933" cy="351.8" r="4.15" fill="#77ffb6"/><circle cx="933.2" cy="360.2" r="4.15" fill="#78ffb4"/><circle cx="933.3" cy="368.5" r="4.15" fill="#62ffd1"/><circle cx="933.5" cy="376.9" r="4.15" fill="#6fffc0"/><circle cx="933.7" cy="385.3" r="4.15" fill="#66ffcc"/><circle cx="933.9" cy="393.6" r="4.15" fill="#71ffbd"/><circle cx="934" cy="402" r="4.15" fill="#94ff91"/><circle cx="934.2" cy="410.3" r="4.15" fill="#8fff98"/><circle cx="934.4" cy="418.7" r="4.15" fill="#c1ff65"/><circle cx="934.6" cy="427" r="4.15" fill="#c4ff63"/><circle cx="934.8" cy="435.4" r="4.15" fill="#94ff91"/><circle cx="934.9" cy="443.8" r="4.15" fill="#95ff8f"/><circle cx="935.1" cy="452.1" r="4.15" fill="#64ffcf"/><circle cx="935.3" cy="460.5" r="4.15" fill="#63ffd0"/><circle cx="935.5" cy="468.8" r="4.15" fill="#6affc6"/><circle cx="935.7" cy="477.2" r="4.15" fill="#6bffc5"/><circle cx="935.8" cy="485.5" r="4.15" fill="#68ffc9"/><circle cx="936" cy="493.9" r="4.15" fill="#31fff9"/><circle cx="936.2" cy="502.3" r="4.15" fill="#5affd9"/><circle cx="936.4" cy="510.6" r="4.15" fill="#4dffe2"/><circle cx="936.5" cy="519" r="4.15" fill="#53ffdd"/><circle cx="936.7" cy="527.3" r="4.15" fill="#57ffdb"/><circle cx="936.9" cy="535.7" r="4.15" fill="#2cfffe"/><circle cx="937.1" cy="544" r="4.15" fill="#63ffd0"/><circle cx="937.4" cy="552.4" r="4.15" fill="#67ffcb"/><circle cx="937.7" cy="560.8" r="4.15" fill="#60ffd4"/><circle cx="938" cy="569.1" r="4.15" fill="#6cffc3"/><circle cx="938.3" cy="577.5" r="4.15" fill="#6dffc3"/><circle cx="938.5" cy="585.8" r="4.15" fill="#89ff9f"/><circle cx="938.8" cy="594.2" r="4.15" fill="#85ffa4"/><circle cx="939.1" cy="602.6" r="4.15" fill="#7effac"/><circle cx="939.4" cy="610.9" r="4.15" fill="#79ffb2"/><circle cx="939.7" cy="619.3" r="4.15" fill="#81ffa8"/><circle cx="939.9" cy="627.6" r="4.15" fill="#84ffa5"/><circle cx="940.2" cy="636" r="4.15" fill="#80ffaa"/><circle cx="940.5" cy="644.3" r="4.15" fill="#a2ff7a"/><circle cx="940.8" cy="652.7" r="4.15" fill="#a8ff72"/><circle cx="941.1" cy="661.1" r="4.15" fill="#98ff8a"/><circle cx="941.4" cy="669.4" r="4.15" fill="#abff70"/><circle cx="941.6" cy="677.8" r="4.15" fill="#a7ff72"/><circle cx="941.9" cy="686.1" r="4.15" fill="#aeff6e"/><circle cx="942.2" cy="694.5" r="4.15" fill="#b0ff6d"/><circle cx="942.5" cy="702.8" r="4.15" fill="#b6ff6a"/><circle cx="942.8" cy="711.2" r="4.15" fill="#abff70"/><circle cx="943" cy="719.6" r="4.15" fill="#a4ff77"/><circle cx="943.3" cy="727.9" r="4.15" fill="#a3ff79"/><circle cx="943.6" cy="736.3" r="4.15" fill="#b2ff6c"/><circle cx="943.9" cy="744.6" r="4.15" fill="#9cff84"/><circle cx="944.2" cy="753" r="4.15" fill="#a6ff74"/><circle cx="944.5" cy="761.3" r="4.15" fill="#9dff82"/><circle cx="945.1" cy="769.7" r="4.15" fill="#a4ff77"/><circle cx="945.7" cy="778.1" r="4.15" fill="#9cff84"/><circle cx="946.3" cy="786.4" r="4.15" fill="#8eff99"/><circle cx="926.3" cy="134.5" r="4.15" fill="#d0ff5b"/><circle cx="926" cy="142.8" r="4.15" fill="#c5ff63"/><circle cx="925.8" cy="151.2" r="4.15" fill="#d5ff56"/><circle cx="925.5" cy="159.5" r="4.15" fill="#caff61"/><circle cx="925.2" cy="167.8" r="4.15" fill="#ffcc09"/><circle cx="925" cy="176.1" r="4.15" fill="#ffa000"/><circle cx="924.7" cy="184.4" r="4.15" fill="#ff9b00"/><circle cx="924.4" cy="192.7" r="4.15" fill="#ffb500"/><circle cx="924.1" cy="201" r="4.15" fill="#ffad00"/><circle cx="923.9" cy="209.4" r="4.15" fill="#ffd714"/><circle cx="923.6" cy="217.7" r="4.15" fill="#ffd310"/><circle cx="923.3" cy="226" r="4.15" fill="#ffd613"/><circle cx="923.1" cy="234.3" r="4.15" fill="#ffc805"/><circle cx="922.8" cy="242.6" r="4.15" fill="#e3ff48"/><circle cx="922.5" cy="250.9" r="4.15" fill="#e1ff4a"/><circle cx="922.3" cy="259.2" r="4.15" fill="#bfff66"/><circle cx="922" cy="267.6" r="4.15" fill="#c7ff62"/><circle cx="921.7" cy="275.9" r="4.15" fill="#d4ff57"/><circle cx="921.5" cy="284.2" r="4.15" fill="#d3ff58"/><circle cx="921.2" cy="292.5" r="4.15" fill="#feff2c"/><circle cx="920.9" cy="300.8" r="4.15" fill="#d6ff55"/><circle cx="920.6" cy="309.1" r="4.15" fill="#d4ff57"/><circle cx="920.4" cy="317.5" r="4.15" fill="#c6ff63"/><circle cx="920.1" cy="325.8" r="4.15" fill="#8dff9a"/><circle cx="919.9" cy="334.1" r="4.15" fill="#ecff3e"/><circle cx="919.6" cy="342.4" r="4.15" fill="#e8ff43"/><circle cx="919.4" cy="350.7" r="4.15" fill="#b0ff6d"/><circle cx="919.1" cy="359" r="4.15" fill="#e6ff45"/><circle cx="918.9" cy="367.3" r="4.15" fill="#dfff4c"/><circle cx="918.6" cy="375.7" r="4.15" fill="#dfff4c"/><circle cx="918.4" cy="384" r="4.15" fill="#deff4d"/><circle cx="918.1" cy="392.3" r="4.15" fill="#daff51"/><circle cx="917.8" cy="400.6" r="4.15" fill="#d6ff55"/><circle cx="917.6" cy="408.9" r="4.15" fill="#ddff4e"/><circle cx="917.3" cy="417.2" r="4.15" fill="#a6ff74"/><circle cx="917.1" cy="425.5" r="4.15" fill="#b3ff6c"/><circle cx="916.8" cy="433.9" r="4.15" fill="#a3ff79"/><circle cx="916.6" cy="442.2" r="4.15" fill="#93ff92"/><circle cx="916.3" cy="450.5" r="4.15" fill="#87ffa2"/><circle cx="916.1" cy="458.8" r="4.15" fill="#89ff9f"/><circle cx="915.8" cy="467.1" r="4.15" fill="#a4ff77"/><circle cx="915.6" cy="475.4" r="4.15" fill="#76ffb6"/><circle cx="915.3" cy="483.8" r="4.15" fill="#70ffbf"/><circle cx="915.1" cy="492.1" r="4.15" fill="#69ffc7"/><circle cx="914.8" cy="500.4" r="4.15" fill="#60ffd4"/><circle cx="914.6" cy="508.7" r="4.15" fill="#5dffd6"/><circle cx="914.3" cy="517" r="4.15" fill="#67ffca"/><circle cx="914.1" cy="525.3" r="4.15" fill="#3bfff0"/><circle cx="913.8" cy="533.6" r="4.15" fill="#3effed"/><circle cx="913.6" cy="542" r="4.15" fill="#25e2ff"/><circle cx="913.3" cy="550.3" r="4.15" fill="#28efff"/><circle cx="913.1" cy="558.6" r="4.15" fill="#29f6ff"/><circle cx="912.9" cy="566.9" r="4.15" fill="#5affd8"/><circle cx="912.6" cy="575.2" r="4.15" fill="#30fffa"/><circle cx="912.4" cy="583.5" r="4.15" fill="#28f3ff"/><circle cx="912.2" cy="591.8" r="4.15" fill="#28f3ff"/><circle cx="912" cy="600.2" r="4.15" fill="#28f4ff"/><circle cx="911.7" cy="608.5" r="4.15" fill="#2ffffb"/><circle cx="911.5" cy="616.8" r="4.15" fill="#29f7ff"/><circle cx="911.3" cy="625.1" r="4.15" fill="#3effed"/><circle cx="911.1" cy="633.4" r="4.15" fill="#41ffeb"/><circle cx="910.8" cy="641.7" r="4.15" fill="#36fff4"/><circle cx="910.6" cy="650.1" r="4.15" fill="#2afbff"/><circle cx="910.4" cy="658.4" r="4.15" fill="#50ffe0"/><circle cx="910.1" cy="666.7" r="4.15" fill="#48ffe5"/><circle cx="909.9" cy="675" r="4.15" fill="#5fffd4"/><circle cx="909.7" cy="683.3" r="4.15" fill="#67ffca"/><circle cx="909.5" cy="691.6" r="4.15" fill="#60ffd3"/><circle cx="909.2" cy="699.9" r="4.15" fill="#60ffd4"/><circle cx="909" cy="708.3" r="4.15" fill="#5affd8"/><circle cx="908.8" cy="716.6" r="4.15" fill="#68ffca"/><circle cx="908.6" cy="724.9" r="4.15" fill="#6affc6"/><circle cx="908.3" cy="733.2" r="4.15" fill="#66ffcc"/><circle cx="908.1" cy="741.5" r="4.15" fill="#6bffc5"/><circle cx="907.9" cy="749.8" r="4.15" fill="#5affd8"/><circle cx="907.6" cy="758.1" r="4.15" fill="#5fffd5"/><circle cx="907" cy="766.5" r="4.15" fill="#6dffc3"/><circle cx="906.1" cy="774.8" r="4.15" fill="#75ffb8"/><circle cx="905.3" cy="783.1" r="4.15" fill="#75ffb8"/><circle cx="904.5" cy="791.4" r="4.15" fill="#6cffc4"/><circle cx="903.7" cy="799.7" r="4.15" fill="#2afbff"/><circle cx="902.9" cy="808" r="4.15" fill="#2bfeff"/><circle cx="902.1" cy="816.4" r="4.15" fill="#2bffff"/><circle cx="901.3" cy="824.7" r="4.15" fill="#33fff8"/><circle cx="880.1" cy="130.4" r="4.15" fill="#a1ff7c"/><circle cx="880.3" cy="138.6" r="4.15" fill="#abff70"/><circle cx="880.6" cy="146.9" r="4.15" fill="#a9ff71"/><circle cx="880.8" cy="155.2" r="4.15" fill="#abff70"/><circle cx="881" cy="163.4" r="4.15" fill="#aaff70"/><circle cx="881.3" cy="171.7" r="4.15" fill="#a7ff73"/><circle cx="881.5" cy="180" r="4.15" fill="#a3ff79"/><circle cx="881.7" cy="188.2" r="4.15" fill="#a3ff79"/><circle cx="882" cy="196.5" r="4.15" fill="#a3ff78"/><circle cx="882.2" cy="204.8" r="4.15" fill="#65ffcd"/><circle cx="882.5" cy="213" r="4.15" fill="#c0ff66"/><circle cx="882.7" cy="221.3" r="4.15" fill="#ffde1a"/><circle cx="882.9" cy="229.6" r="4.15" fill="#ffd410"/><circle cx="883.2" cy="237.8" r="4.15" fill="#ffdc19"/><circle cx="883.4" cy="246.1" r="4.15" fill="#faff31"/><circle cx="883.6" cy="254.3" r="4.15" fill="#f9ff31"/><circle cx="883.9" cy="262.6" r="4.15" fill="#fffa28"/><circle cx="884.1" cy="270.9" r="4.15" fill="#ffd10d"/><circle cx="884.3" cy="279.1" r="4.15" fill="#ffc202"/><circle cx="884.6" cy="287.4" r="4.15" fill="#ffd815"/><circle cx="884.8" cy="295.7" r="4.15" fill="#ffd713"/><circle cx="885" cy="303.9" r="4.15" fill="#c4ff63"/><circle cx="885.3" cy="312.2" r="4.15" fill="#c0ff66"/><circle cx="885.5" cy="320.5" r="4.15" fill="#d8ff53"/><circle cx="885.7" cy="328.7" r="4.15" fill="#e2ff49"/><circle cx="886" cy="337" r="4.15" fill="#e7ff44"/><circle cx="886.2" cy="345.3" r="4.15" fill="#f9ff31"/><circle cx="886.4" cy="353.5" r="4.15" fill="#acff70"/><circle cx="886.7" cy="361.8" r="4.15" fill="#b0ff6e"/><circle cx="886.9" cy="370.1" r="4.15" fill="#73ffbb"/><circle cx="887.1" cy="378.3" r="4.15" fill="#74ffba"/><circle cx="887.4" cy="386.6" r="4.15" fill="#75ffb8"/><circle cx="887.6" cy="394.9" r="4.15" fill="#76ffb6"/><circle cx="887.8" cy="403.1" r="4.15" fill="#73ffba"/><circle cx="888.1" cy="411.4" r="4.15" fill="#6affc6"/><circle cx="888.3" cy="419.7" r="4.15" fill="#76ffb6"/><circle cx="888.5" cy="427.9" r="4.15" fill="#6dffc2"/><circle cx="888.8" cy="436.2" r="4.15" fill="#72ffbc"/><circle cx="889" cy="444.5" r="4.15" fill="#6fffc0"/><circle cx="889.2" cy="452.7" r="4.15" fill="#75ffb8"/><circle cx="889.5" cy="461" r="4.15" fill="#6cffc4"/><circle cx="889.7" cy="469.3" r="4.15" fill="#6dffc3"/><circle cx="889.9" cy="477.5" r="4.15" fill="#45ffe8"/><circle cx="890.2" cy="485.8" r="4.15" fill="#68ffca"/><circle cx="890.4" cy="494" r="4.15" fill="#74ffba"/><circle cx="890.6" cy="502.3" r="4.15" fill="#6fffc0"/><circle cx="890.9" cy="510.6" r="4.15" fill="#6bffc6"/><circle cx="891.1" cy="518.8" r="4.15" fill="#6cffc4"/><circle cx="891.3" cy="527.1" r="4.15" fill="#76ffb7"/><circle cx="891.6" cy="535.4" r="4.15" fill="#6dffc2"/><circle cx="891.8" cy="543.6" r="4.15" fill="#70ffbf"/><circle cx="892" cy="551.9" r="4.15" fill="#79ffb2"/><circle cx="892.3" cy="560.2" r="4.15" fill="#77ffb6"/><circle cx="892.5" cy="568.4" r="4.15" fill="#93ff92"/><circle cx="892.8" cy="576.7" r="4.15" fill="#6dffc2"/><circle cx="893" cy="585" r="4.15" fill="#74ffba"/><circle cx="893.3" cy="593.2" r="4.15" fill="#79ffb2"/><circle cx="893.5" cy="601.5" r="4.15" fill="#7affb2"/><circle cx="893.8" cy="609.8" r="4.15" fill="#7bffb0"/><circle cx="894" cy="618" r="4.15" fill="#6cffc3"/><circle cx="894.2" cy="626.3" r="4.15" fill="#71ffbe"/><circle cx="894.5" cy="634.6" r="4.15" fill="#85ffa4"/><circle cx="894.7" cy="642.8" r="4.15" fill="#86ffa2"/><circle cx="895" cy="651.1" r="4.15" fill="#7cffaf"/><circle cx="895.2" cy="659.4" r="4.15" fill="#75ffb7"/><circle cx="895.5" cy="667.6" r="4.15" fill="#7bffb0"/><circle cx="895.7" cy="675.9" r="4.15" fill="#72ffbc"/><circle cx="896" cy="684.2" r="4.15" fill="#7affb1"/><circle cx="896.2" cy="692.4" r="4.15" fill="#73ffba"/><circle cx="896.4" cy="700.7" r="4.15" fill="#70ffbe"/><circle cx="896.7" cy="709" r="4.15" fill="#93ff92"/><circle cx="896.9" cy="717.2" r="4.15" fill="#95ff8e"/><circle cx="897.2" cy="725.5" r="4.15" fill="#88ffa0"/><circle cx="897.4" cy="733.7" r="4.15" fill="#91ff96"/><circle cx="897.7" cy="742" r="4.15" fill="#91ff95"/><circle cx="897.9" cy="750.3" r="4.15" fill="#8aff9e"/><circle cx="898.2" cy="758.5" r="4.15" fill="#8dff9b"/><circle cx="898.5" cy="766.8" r="4.15" fill="#7fffab"/><circle cx="898.9" cy="775.1" r="4.15" fill="#80ffaa"/><circle cx="899.3" cy="783.3" r="4.15" fill="#81ffa9"/><circle cx="899.7" cy="791.6" r="4.15" fill="#86ffa2"/><circle cx="900.1" cy="799.9" r="4.15" fill="#87ffa1"/><circle cx="900.5" cy="808.1" r="4.15" fill="#44ffe9"/><circle cx="900.9" cy="816.4" r="4.15" fill="#69ffc7"/><circle cx="901.3" cy="824.7" r="4.15" fill="#8fff97"/><circle cx="841.9" cy="120.4" r="4.15" fill="#ad0000"/><circle cx="841.6" cy="128.7" r="4.15" fill="#86ffa2"/><circle cx="841.3" cy="137" r="4.15" fill="#88ffa0"/><circle cx="841.1" cy="145.4" r="4.15" fill="#65ffcd"/><circle cx="840.8" cy="153.7" r="4.15" fill="#9cff85"/><circle cx="840.5" cy="162" r="4.15" fill="#e3ff48"/><circle cx="840.2" cy="170.3" r="4.15" fill="#fff224"/><circle cx="840" cy="178.7" r="4.15" fill="#faff30"/><circle cx="839.7" cy="187" r="4.15" fill="#ffac00"/><circle cx="839.4" cy="195.3" r="4.15" fill="#fffa28"/><circle cx="839.1" cy="203.6" r="4.15" fill="#ffb600"/><circle cx="838.9" cy="211.9" r="4.15" fill="#ff9900"/><circle cx="838.6" cy="220.3" r="4.15" fill="#ff8c00"/><circle cx="838.3" cy="228.6" r="4.15" fill="#ff7d00"/><circle cx="838" cy="236.9" r="4.15" fill="#ffe31c"/><circle cx="837.8" cy="245.2" r="4.15" fill="#ffaf00"/><circle cx="837.5" cy="253.6" r="4.15" fill="#ffdb18"/><circle cx="837.2" cy="261.9" r="4.15" fill="#ffd714"/><circle cx="836.9" cy="270.2" r="4.15" fill="#feff2c"/><circle cx="836.7" cy="278.5" r="4.15" fill="#ffdf1a"/><circle cx="836.4" cy="286.9" r="4.15" fill="#ffe41d"/><circle cx="836.1" cy="295.2" r="4.15" fill="#fffe2a"/><circle cx="835.8" cy="303.5" r="4.15" fill="#ebff40"/><circle cx="835.6" cy="311.8" r="4.15" fill="#c7ff62"/><circle cx="835.3" cy="320.2" r="4.15" fill="#e3ff47"/><circle cx="835.1" cy="328.5" r="4.15" fill="#dfff4b"/><circle cx="835" cy="336.8" r="4.15" fill="#ecff3f"/><circle cx="834.8" cy="345.1" r="4.15" fill="#e0ff4b"/><circle cx="834.6" cy="353.5" r="4.15" fill="#dbff50"/><circle cx="834.5" cy="361.8" r="4.15" fill="#f0ff3b"/><circle cx="834.3" cy="370.1" r="4.15" fill="#e5ff46"/><circle cx="834.1" cy="378.4" r="4.15" fill="#d2ff59"/><circle cx="834" cy="386.7" r="4.15" fill="#6fffc0"/><circle cx="833.8" cy="395.1" r="4.15" fill="#77ffb5"/><circle cx="833.6" cy="403.4" r="4.15" fill="#70ffbe"/><circle cx="833.5" cy="411.7" r="4.15" fill="#6bffc5"/><circle cx="833.3" cy="420" r="4.15" fill="#28efff"/><circle cx="833.1" cy="428.4" r="4.15" fill="#61ffd2"/><circle cx="833" cy="436.7" r="4.15" fill="#44ffe8"/><circle cx="832.8" cy="445" r="4.15" fill="#67ffcb"/><circle cx="832.6" cy="453.3" r="4.15" fill="#39fff2"/><circle cx="832.5" cy="461.7" r="4.15" fill="#44ffe9"/><circle cx="832.3" cy="470" r="4.15" fill="#5dffd6"/><circle cx="832.1" cy="478.3" r="4.15" fill="#60ffd3"/><circle cx="832" cy="486.6" r="4.15" fill="#30fffb"/><circle cx="831.8" cy="495" r="4.15" fill="#5bffd7"/><circle cx="831.6" cy="503.3" r="4.15" fill="#61ffd3"/><circle cx="831.5" cy="511.6" r="4.15" fill="#67ffca"/><circle cx="831.3" cy="519.9" r="4.15" fill="#58ffda"/><circle cx="831.1" cy="528.2" r="4.15" fill="#60ffd4"/><circle cx="831" cy="536.6" r="4.15" fill="#65ffcd"/><circle cx="830.8" cy="544.9" r="4.15" fill="#33fff7"/><circle cx="830.5" cy="553.2" r="4.15" fill="#3bfff0"/><circle cx="830.3" cy="561.5" r="4.15" fill="#3afff1"/><circle cx="830" cy="569.9" r="4.15" fill="#4bffe3"/><circle cx="829.8" cy="578.2" r="4.15" fill="#5dffd6"/><circle cx="829.6" cy="586.5" r="4.15" fill="#53ffde"/><circle cx="829.3" cy="594.8" r="4.15" fill="#2efffc"/><circle cx="829.1" cy="603.2" r="4.15" fill="#25e2ff"/><circle cx="828.8" cy="611.5" r="4.15" fill="#2afdff"/><circle cx="828.6" cy="619.8" r="4.15" fill="#25e2ff"/><circle cx="828.3" cy="628.1" r="4.15" fill="#38fff3"/><circle cx="828.1" cy="636.5" r="4.15" fill="#3cffef"/><circle cx="827.9" cy="644.8" r="4.15" fill="#22d4ff"/><circle cx="827.6" cy="653.1" r="4.15" fill="#30fffa"/><circle cx="827.4" cy="661.4" r="4.15" fill="#20d2ff"/><circle cx="827.1" cy="669.8" r="4.15" fill="#22d5ff"/><circle cx="826.9" cy="678.1" r="4.15" fill="#27ecff"/><circle cx="826.6" cy="686.4" r="4.15" fill="#14c8ff"/><circle cx="826.4" cy="694.7" r="4.15" fill="#22d5ff"/><circle cx="826.2" cy="703" r="4.15" fill="#28f3ff"/><circle cx="825.9" cy="711.4" r="4.15" fill="#23d9ff"/><circle cx="825.7" cy="719.7" r="4.15" fill="#28f1ff"/><circle cx="825.4" cy="728" r="4.15" fill="#23d8ff"/><circle cx="825.2" cy="736.3" r="4.15" fill="#26eaff"/><circle cx="824.9" cy="744.7" r="4.15" fill="#00b5ff"/><circle cx="824.7" cy="753" r="4.15" fill="#23d7ff"/><circle cx="824.4" cy="761.3" r="4.15" fill="#32fff8"/><circle cx="824.2" cy="769.6" r="4.15" fill="#29f7ff"/><circle cx="823.9" cy="778" r="4.15" fill="#24dcff"/><circle cx="823.6" cy="786.3" r="4.15" fill="#2cfffe"/><circle cx="823.3" cy="794.6" r="4.15" fill="#28f3ff"/><circle cx="823" cy="802.9" r="4.15" fill="#2efffc"/><circle cx="822.7" cy="811.3" r="4.15" fill="#29f5ff"/><circle cx="822.4" cy="819.6" r="4.15" fill="#55ffdc"/><circle cx="822.1" cy="827.9" r="4.15" fill="#2cfffe"/><circle cx="821.8" cy="836.2" r="4.15" fill="#2dfffd"/><circle cx="821.5" cy="844.5" r="4.15" fill="#1dd0ff"/><circle cx="821.2" cy="852.9" r="4.15" fill="#20d2ff"/><circle cx="820.9" cy="861.2" r="4.15" fill="#26e7ff"/><circle cx="820.7" cy="869.5" r="4.15" fill="#29f7ff"/><circle cx="820.4" cy="877.8" r="4.15" fill="#2afbff"/><circle cx="820.1" cy="886.2" r="4.15" fill="#29f7ff"/><circle cx="819.8" cy="894.5" r="4.15" fill="#29f7ff"/><circle cx="819.5" cy="902.8" r="4.15" fill="#10c5ff"/><circle cx="819.2" cy="911.1" r="4.15" fill="#1cceff"/><circle cx="818.9" cy="919.5" r="4.15" fill="#19ccff"/><circle cx="797.3" cy="132" r="4.15" fill="#7affb2"/><circle cx="797.5" cy="140.3" r="4.15" fill="#82ffa7"/><circle cx="797.7" cy="148.6" r="4.15" fill="#83ffa7"/><circle cx="798" cy="156.9" r="4.15" fill="#8bff9d"/><circle cx="798.2" cy="165.2" r="4.15" fill="#86ffa3"/><circle cx="798.4" cy="173.5" r="4.15" fill="#8bff9d"/><circle cx="798.6" cy="181.8" r="4.15" fill="#58ffda"/><circle cx="798.9" cy="190.1" r="4.15" fill="#c6ff62"/><circle cx="799.1" cy="198.3" r="4.15" fill="#ffc704"/><circle cx="799.3" cy="206.6" r="4.15" fill="#ffce0a"/><circle cx="799.5" cy="214.9" r="4.15" fill="#ffb700"/><circle cx="799.8" cy="223.2" r="4.15" fill="#ffa300"/><circle cx="800" cy="231.5" r="4.15" fill="#ffb000"/><circle cx="800.2" cy="239.8" r="4.15" fill="#ffa000"/><circle cx="800.4" cy="248.1" r="4.15" fill="#ff8e00"/><circle cx="800.7" cy="256.4" r="4.15" fill="#ff7c00"/><circle cx="800.9" cy="264.6" r="4.15" fill="#ffa100"/><circle cx="801.1" cy="272.9" r="4.15" fill="#ffd814"/><circle cx="801.3" cy="281.2" r="4.15" fill="#ffcf0b"/><circle cx="801.6" cy="289.5" r="4.15" fill="#ffa900"/><circle cx="801.8" cy="297.8" r="4.15" fill="#ffac00"/><circle cx="802" cy="306.1" r="4.15" fill="#ffb800"/><circle cx="802.2" cy="314.4" r="4.15" fill="#fff023"/><circle cx="802.5" cy="322.7" r="4.15" fill="#ffd915"/><circle cx="802.7" cy="331" r="4.15" fill="#dfff4b"/><circle cx="802.9" cy="339.2" r="4.15" fill="#d9ff52"/><circle cx="803.2" cy="347.5" r="4.15" fill="#dbff50"/><circle cx="803.4" cy="355.8" r="4.15" fill="#ccff5f"/><circle cx="803.6" cy="364.1" r="4.15" fill="#dfff4c"/><circle cx="803.9" cy="372.4" r="4.15" fill="#d3ff58"/><circle cx="804.1" cy="380.7" r="4.15" fill="#ffff2b"/><circle cx="804.3" cy="389" r="4.15" fill="#feff2c"/><circle cx="804.6" cy="397.3" r="4.15" fill="#65ffce"/><circle cx="804.8" cy="405.6" r="4.15" fill="#6fffc0"/><circle cx="805" cy="413.8" r="4.15" fill="#98ff8a"/><circle cx="805.3" cy="422.1" r="4.15" fill="#8bff9d"/><circle cx="805.5" cy="430.4" r="4.15" fill="#b8ff69"/><circle cx="805.7" cy="438.7" r="4.15" fill="#c2ff65"/><circle cx="806" cy="447" r="4.15" fill="#93ff92"/><circle cx="806.2" cy="455.3" r="4.15" fill="#9dff82"/><circle cx="806.4" cy="463.6" r="4.15" fill="#94ff90"/><circle cx="806.7" cy="471.9" r="4.15" fill="#7dffae"/><circle cx="806.9" cy="480.2" r="4.15" fill="#71ffbd"/><circle cx="807.1" cy="488.4" r="4.15" fill="#77ffb5"/><circle cx="807.4" cy="496.7" r="4.15" fill="#7effac"/><circle cx="807.6" cy="505" r="4.15" fill="#72ffbb"/><circle cx="807.8" cy="513.3" r="4.15" fill="#73ffba"/><circle cx="808.1" cy="521.6" r="4.15" fill="#77ffb5"/><circle cx="808.3" cy="529.9" r="4.15" fill="#aeff6f"/><circle cx="808.5" cy="538.2" r="4.15" fill="#84ffa5"/><circle cx="808.8" cy="546.5" r="4.15" fill="#3fffed"/><circle cx="809" cy="554.8" r="4.15" fill="#3effed"/><circle cx="809.2" cy="563" r="4.15" fill="#67ffca"/><circle cx="809.4" cy="571.3" r="4.15" fill="#39fff2"/><circle cx="809.6" cy="579.6" r="4.15" fill="#63ffcf"/><circle cx="809.9" cy="587.9" r="4.15" fill="#55ffdc"/><circle cx="810.1" cy="596.2" r="4.15" fill="#62ffd2"/><circle cx="810.3" cy="604.5" r="4.15" fill="#53ffdd"/><circle cx="810.5" cy="612.8" r="4.15" fill="#5cffd6"/><circle cx="810.7" cy="621.1" r="4.15" fill="#5fffd5"/><circle cx="811" cy="629.4" r="4.15" fill="#33fff7"/><circle cx="811.2" cy="637.6" r="4.15" fill="#57ffdb"/><circle cx="811.4" cy="645.9" r="4.15" fill="#50ffe0"/><circle cx="811.6" cy="654.2" r="4.15" fill="#2dfffd"/><circle cx="811.8" cy="662.5" r="4.15" fill="#29f8ff"/><circle cx="812" cy="670.8" r="4.15" fill="#1acdff"/><circle cx="812.3" cy="679.1" r="4.15" fill="#2dfffd"/><circle cx="812.5" cy="687.4" r="4.15" fill="#2afbff"/><circle cx="812.7" cy="695.7" r="4.15" fill="#2afaff"/><circle cx="812.9" cy="704" r="4.15" fill="#2dfffd"/><circle cx="813.1" cy="712.2" r="4.15" fill="#29f7ff"/><circle cx="813.4" cy="720.5" r="4.15" fill="#55ffdc"/><circle cx="813.6" cy="728.8" r="4.15" fill="#25e3ff"/><circle cx="813.8" cy="737.1" r="4.15" fill="#24dfff"/><circle cx="814" cy="745.4" r="4.15" fill="#2afdff"/><circle cx="814.2" cy="753.7" r="4.15" fill="#29f7ff"/><circle cx="814.5" cy="762" r="4.15" fill="#24e0ff"/><circle cx="814.7" cy="770.3" r="4.15" fill="#26eaff"/><circle cx="814.9" cy="778.6" r="4.15" fill="#24ddff"/><circle cx="815.2" cy="786.8" r="4.15" fill="#22d5ff"/><circle cx="815.4" cy="795.1" r="4.15" fill="#19ccff"/><circle cx="815.6" cy="803.4" r="4.15" fill="#2afbff"/><circle cx="815.9" cy="811.7" r="4.15" fill="#2dfffd"/><circle cx="816.1" cy="820" r="4.15" fill="#2afaff"/><circle cx="816.3" cy="828.3" r="4.15" fill="#2afbff"/><circle cx="816.6" cy="836.6" r="4.15" fill="#29f5ff"/><circle cx="816.8" cy="844.9" r="4.15" fill="#1bceff"/><circle cx="817" cy="853.2" r="4.15" fill="#1ccfff"/><circle cx="817.3" cy="861.4" r="4.15" fill="#1ed1ff"/><circle cx="817.5" cy="869.7" r="4.15" fill="#29f7ff"/><circle cx="817.7" cy="878" r="4.15" fill="#28f3ff"/><circle cx="818" cy="886.3" r="4.15" fill="#29f5ff"/><circle cx="818.2" cy="894.6" r="4.15" fill="#2afcff"/><circle cx="818.4" cy="902.9" r="4.15" fill="#1acdff"/><circle cx="818.7" cy="911.2" r="4.15" fill="#1ccfff"/><circle cx="818.9" cy="919.5" r="4.15" fill="#06bbff"/><circle cx="797.3" cy="132" r="4.15" fill="#73ffbb"/><circle cx="797.1" cy="140.3" r="4.15" fill="#72ffbb"/><circle cx="796.8" cy="148.6" r="4.15" fill="#78ffb4"/><circle cx="796.6" cy="156.9" r="4.15" fill="#2ffffb"/><circle cx="796.3" cy="165.2" r="4.15" fill="#90ff97"/><circle cx="796.1" cy="173.5" r="4.15" fill="#44ffe9"/><circle cx="795.8" cy="181.8" r="4.15" fill="#8bff9d"/><circle cx="795.6" cy="190.1" r="4.15" fill="#ccff5f"/><circle cx="795.3" cy="198.4" r="4.15" fill="#ffd30f"/><circle cx="795.1" cy="206.7" r="4.15" fill="#ffc805"/><circle cx="794.8" cy="215" r="4.15" fill="#ff9900"/><circle cx="794.6" cy="223.3" r="4.15" fill="#ff7c00"/><circle cx="794.3" cy="231.6" r="4.15" fill="#ff7700"/><circle cx="794.1" cy="239.9" r="4.15" fill="#ff8a00"/><circle cx="793.8" cy="248.2" r="4.15" fill="#ff7c00"/><circle cx="793.6" cy="256.5" r="4.15" fill="#ff7d00"/><circle cx="793.3" cy="264.8" r="4.15" fill="#ffd612"/><circle cx="793.1" cy="273" r="4.15" fill="#fff727"/><circle cx="792.9" cy="281.3" r="4.15" fill="#e9ff42"/><circle cx="792.6" cy="289.6" r="4.15" fill="#f2ff38"/><circle cx="792.4" cy="297.9" r="4.15" fill="#fdff2d"/><circle cx="792.1" cy="306.2" r="4.15" fill="#beff66"/><circle cx="791.9" cy="314.5" r="4.15" fill="#ffe21c"/><circle cx="791.6" cy="322.8" r="4.15" fill="#cbff5f"/><circle cx="791.3" cy="331.1" r="4.15" fill="#ffea20"/><circle cx="791" cy="339.4" r="4.15" fill="#cdff5d"/><circle cx="790.8" cy="347.7" r="4.15" fill="#c9ff61"/><circle cx="790.5" cy="356" r="4.15" fill="#ff9d00"/><circle cx="790.2" cy="364.3" r="4.15" fill="#ffdb17"/><circle cx="789.9" cy="372.6" r="4.15" fill="#8eff99"/><circle cx="789.7" cy="380.9" r="4.15" fill="#98ff8b"/><circle cx="789.4" cy="389.2" r="4.15" fill="#8bff9d"/><circle cx="789.1" cy="397.5" r="4.15" fill="#b3ff6c"/><circle cx="788.8" cy="405.8" r="4.15" fill="#91ff96"/><circle cx="788.5" cy="414.1" r="4.15" fill="#d2ff59"/><circle cx="788.3" cy="422.4" r="4.15" fill="#56ffdb"/><circle cx="788" cy="430.7" r="4.15" fill="#65ffcd"/><circle cx="787.7" cy="439" r="4.15" fill="#8aff9e"/><circle cx="787.4" cy="447.2" r="4.15" fill="#b3ff6c"/><circle cx="787.1" cy="455.5" r="4.15" fill="#71ffbd"/><circle cx="786.9" cy="463.8" r="4.15" fill="#64ffce"/><circle cx="786.6" cy="472.1" r="4.15" fill="#9cff84"/><circle cx="786.3" cy="480.4" r="4.15" fill="#a1ff7c"/><circle cx="786" cy="488.7" r="4.15" fill="#a0ff7e"/><circle cx="785.8" cy="497" r="4.15" fill="#cdff5e"/><circle cx="785.5" cy="505.3" r="4.15" fill="#d1ff59"/><circle cx="785.2" cy="513.6" r="4.15" fill="#65ffce"/><circle cx="784.9" cy="521.9" r="4.15" fill="#88ffa0"/><circle cx="784.6" cy="530.2" r="4.15" fill="#5cffd7"/><circle cx="784.4" cy="538.5" r="4.15" fill="#56ffdb"/><circle cx="784.1" cy="546.8" r="4.15" fill="#77ffb5"/><circle cx="783.9" cy="555.1" r="4.15" fill="#afff6e"/><circle cx="783.7" cy="563.4" r="4.15" fill="#8fff98"/><circle cx="783.4" cy="571.7" r="4.15" fill="#83ffa6"/><circle cx="783.2" cy="580" r="4.15" fill="#91ff95"/><circle cx="783" cy="588.3" r="4.15" fill="#98ff8a"/><circle cx="782.8" cy="596.6" r="4.15" fill="#94ff90"/><circle cx="782.5" cy="604.9" r="4.15" fill="#98ff8a"/><circle cx="782.3" cy="613.2" r="4.15" fill="#94ff90"/><circle cx="782.1" cy="621.4" r="4.15" fill="#5fffd5"/><circle cx="781.9" cy="629.7" r="4.15" fill="#5cffd7"/><circle cx="781.6" cy="638" r="4.15" fill="#5fffd5"/><circle cx="781.4" cy="646.3" r="4.15" fill="#5affd8"/><circle cx="781.2" cy="654.6" r="4.15" fill="#61ffd3"/><circle cx="780.9" cy="662.9" r="4.15" fill="#2afdff"/><circle cx="780.7" cy="671.2" r="4.15" fill="#2ffffb"/><circle cx="780.5" cy="679.5" r="4.15" fill="#31fff9"/><circle cx="780.3" cy="687.8" r="4.15" fill="#23dbff"/><circle cx="780" cy="696.1" r="4.15" fill="#21d3ff"/><circle cx="779.8" cy="704.4" r="4.15" fill="#2af9ff"/><circle cx="779.6" cy="712.7" r="4.15" fill="#23d9ff"/><circle cx="779.4" cy="721" r="4.15" fill="#24e0ff"/><circle cx="779.1" cy="729.3" r="4.15" fill="#29f9ff"/><circle cx="778.9" cy="737.6" r="4.15" fill="#28f4ff"/><circle cx="778.7" cy="745.9" r="4.15" fill="#11c5ff"/><circle cx="778.5" cy="754.2" r="4.15" fill="#27eeff"/><circle cx="778.1" cy="762.5" r="4.15" fill="#22d5ff"/><circle cx="777.5" cy="770.8" r="4.15" fill="#25e1ff"/><circle cx="776.9" cy="779.1" r="4.15" fill="#1cceff"/><circle cx="776.3" cy="787.4" r="4.15" fill="#20d2ff"/><circle cx="775.6" cy="795.6" r="4.15" fill="#28f3ff"/><circle cx="775" cy="803.9" r="4.15" fill="#13c7ff"/><circle cx="774.4" cy="812.2" r="4.15" fill="#27eeff"/><circle cx="773.8" cy="820.5" r="4.15" fill="#26eaff"/><circle cx="773.2" cy="828.8" r="4.15" fill="#25e2ff"/><circle cx="739.2" cy="169.4" r="4.15" fill="#ffd20e"/><circle cx="739.5" cy="177.8" r="4.15" fill="#ffc906"/><circle cx="739.8" cy="186.1" r="4.15" fill="#ffcb08"/><circle cx="740.1" cy="194.4" r="4.15" fill="#ffb900"/><circle cx="740.4" cy="202.7" r="4.15" fill="#ffc101"/><circle cx="740.7" cy="211" r="4.15" fill="#ff7e00"/><circle cx="741" cy="219.3" r="4.15" fill="#ffb500"/><circle cx="741.2" cy="227.6" r="4.15" fill="#ffd00c"/><circle cx="741.5" cy="235.9" r="4.15" fill="#ffd915"/><circle cx="741.8" cy="244.2" r="4.15" fill="#ffd20f"/><circle cx="742.1" cy="252.5" r="4.15" fill="#ffd511"/><circle cx="742.4" cy="260.8" r="4.15" fill="#ffc604"/><circle cx="742.7" cy="269.1" r="4.15" fill="#ffcf0b"/><circle cx="743" cy="277.4" r="4.15" fill="#ffc906"/><circle cx="743.3" cy="285.7" r="4.15" fill="#ffcd09"/><circle cx="743.6" cy="294" r="4.15" fill="#feff2c"/><circle cx="743.9" cy="302.3" r="4.15" fill="#dbff50"/><circle cx="744.2" cy="310.6" r="4.15" fill="#fff827"/><circle cx="744.5" cy="318.9" r="4.15" fill="#d8ff53"/><circle cx="744.8" cy="327.2" r="4.15" fill="#fffb29"/><circle cx="745.1" cy="335.5" r="4.15" fill="#b3ff6c"/><circle cx="745.4" cy="343.8" r="4.15" fill="#b0ff6d"/><circle cx="745.7" cy="352.2" r="4.15" fill="#faff30"/><circle cx="746" cy="360.5" r="4.15" fill="#fff023"/><circle cx="746.3" cy="368.8" r="4.15" fill="#9eff81"/><circle cx="746.6" cy="377.1" r="4.15" fill="#9bff86"/><circle cx="746.9" cy="385.4" r="4.15" fill="#99ff88"/><circle cx="747.2" cy="393.7" r="4.15" fill="#99ff88"/><circle cx="747.6" cy="402" r="4.15" fill="#a2ff7a"/><circle cx="747.9" cy="410.3" r="4.15" fill="#44ffe8"/><circle cx="748.2" cy="418.6" r="4.15" fill="#7bffb0"/><circle cx="748.5" cy="426.9" r="4.15" fill="#d0ff5b"/><circle cx="748.8" cy="435.2" r="4.15" fill="#92ff94"/><circle cx="749.1" cy="443.5" r="4.15" fill="#99ff89"/><circle cx="749.4" cy="451.8" r="4.15" fill="#96ff8e"/><circle cx="749.7" cy="460.1" r="4.15" fill="#9cff84"/><circle cx="750" cy="468.4" r="4.15" fill="#9cff84"/><circle cx="750.3" cy="476.7" r="4.15" fill="#7effac"/><circle cx="750.6" cy="485" r="4.15" fill="#70ffbe"/><circle cx="751" cy="493.3" r="4.15" fill="#7dffad"/><circle cx="751.3" cy="501.6" r="4.15" fill="#7effac"/><circle cx="751.6" cy="509.9" r="4.15" fill="#7fffab"/><circle cx="751.9" cy="518.2" r="4.15" fill="#42ffeb"/><circle cx="752.2" cy="526.6" r="4.15" fill="#5affd8"/><circle cx="752.5" cy="534.9" r="4.15" fill="#58ffda"/><circle cx="752.8" cy="543.2" r="4.15" fill="#70ffbf"/><circle cx="753.2" cy="551.5" r="4.15" fill="#a4ff76"/><circle cx="753.5" cy="559.8" r="4.15" fill="#87ffa2"/><circle cx="753.8" cy="568.1" r="4.15" fill="#84ffa5"/><circle cx="754.2" cy="576.4" r="4.15" fill="#87ffa2"/><circle cx="754.5" cy="584.7" r="4.15" fill="#84ffa6"/><circle cx="754.8" cy="593" r="4.15" fill="#9dff83"/><circle cx="755.2" cy="601.3" r="4.15" fill="#d8ff53"/><circle cx="755.5" cy="609.6" r="4.15" fill="#98ff8b"/><circle cx="755.8" cy="617.9" r="4.15" fill="#a0ff7d"/><circle cx="756.2" cy="626.2" r="4.15" fill="#a7ff73"/><circle cx="756.5" cy="634.5" r="4.15" fill="#a9ff71"/><circle cx="756.9" cy="642.8" r="4.15" fill="#73ffbb"/><circle cx="757.2" cy="651.1" r="4.15" fill="#6cffc4"/><circle cx="757.5" cy="659.4" r="4.15" fill="#70ffbf"/><circle cx="757.9" cy="667.7" r="4.15" fill="#95ff90"/><circle cx="758.2" cy="676" r="4.15" fill="#3dffee"/><circle cx="758.5" cy="684.3" r="4.15" fill="#37fff4"/><circle cx="758.9" cy="692.6" r="4.15" fill="#36fff4"/><circle cx="759.2" cy="701" r="4.15" fill="#68ffc9"/><circle cx="759.6" cy="709.3" r="4.15" fill="#36fff5"/><circle cx="759.9" cy="717.6" r="4.15" fill="#3cffef"/><circle cx="760.2" cy="725.9" r="4.15" fill="#29f7ff"/><circle cx="760.6" cy="734.2" r="4.15" fill="#27ecff"/><circle cx="760.9" cy="742.5" r="4.15" fill="#28f3ff"/><circle cx="761.2" cy="750.8" r="4.15" fill="#28f3ff"/><circle cx="761.6" cy="759.1" r="4.15" fill="#2af9ff"/><circle cx="761.9" cy="767.4" r="4.15" fill="#29f5ff"/><circle cx="762.2" cy="775.7" r="4.15" fill="#2afcff"/><circle cx="762.6" cy="784" r="4.15" fill="#2af9ff"/><circle cx="762.9" cy="792.3" r="4.15" fill="#00a7ff"/><circle cx="763.3" cy="800.6" r="4.15" fill="#15c9ff"/><circle cx="763.6" cy="808.9" r="4.15" fill="#06bcff"/><circle cx="763.9" cy="817.2" r="4.15" fill="#14c8ff"/><circle cx="764.3" cy="825.5" r="4.15" fill="#24dfff"/><circle cx="764.6" cy="833.8" r="4.15" fill="#26e7ff"/><circle cx="764.9" cy="842.1" r="4.15" fill="#22d5ff"/><circle cx="711" cy="170.3" r="4.15" fill="#ffea20"/><circle cx="710.7" cy="178.6" r="4.15" fill="#ffb700"/><circle cx="710.5" cy="186.9" r="4.15" fill="#ff8000"/><circle cx="710.2" cy="195.3" r="4.15" fill="#ff6b00"/><circle cx="710" cy="203.6" r="4.15" fill="#ff5400"/><circle cx="709.7" cy="211.9" r="4.15" fill="#ff5800"/><circle cx="709.4" cy="220.3" r="4.15" fill="#ff8b00"/><circle cx="709.2" cy="228.6" r="4.15" fill="#ff8e00"/><circle cx="708.9" cy="236.9" r="4.15" fill="#ffc906"/><circle cx="708.6" cy="245.3" r="4.15" fill="#ffe81f"/><circle cx="708.4" cy="253.6" r="4.15" fill="#fff727"/><circle cx="708.1" cy="261.9" r="4.15" fill="#f4ff37"/><circle cx="707.9" cy="270.3" r="4.15" fill="#ffcb07"/><circle cx="707.6" cy="278.6" r="4.15" fill="#c3ff64"/><circle cx="707.3" cy="286.9" r="4.15" fill="#faff30"/><circle cx="707.1" cy="295.3" r="4.15" fill="#caff61"/><circle cx="706.8" cy="303.6" r="4.15" fill="#c1ff65"/><circle cx="706.6" cy="311.9" r="4.15" fill="#cdff5e"/><circle cx="706.3" cy="320.3" r="4.15" fill="#9aff87"/><circle cx="706" cy="328.6" r="4.15" fill="#a4ff78"/><circle cx="705.7" cy="336.9" r="4.15" fill="#a2ff7a"/><circle cx="705.4" cy="345.3" r="4.15" fill="#a4ff78"/><circle cx="705.1" cy="353.6" r="4.15" fill="#a1ff7b"/><circle cx="704.8" cy="361.9" r="4.15" fill="#9eff81"/><circle cx="704.5" cy="370.3" r="4.15" fill="#76ffb7"/><circle cx="704.2" cy="378.6" r="4.15" fill="#76ffb7"/><circle cx="703.9" cy="386.9" r="4.15" fill="#7effac"/><circle cx="703.6" cy="395.3" r="4.15" fill="#57ffda"/><circle cx="703.3" cy="403.6" r="4.15" fill="#67ffcb"/><circle cx="703" cy="411.9" r="4.15" fill="#29f7ff"/><circle cx="702.7" cy="420.3" r="4.15" fill="#2afaff"/><circle cx="702.4" cy="428.6" r="4.15" fill="#3cffef"/><circle cx="702.1" cy="436.9" r="4.15" fill="#4affe4"/><circle cx="701.8" cy="445.3" r="4.15" fill="#60ffd4"/><circle cx="701.4" cy="453.6" r="4.15" fill="#5effd6"/><circle cx="701.1" cy="461.9" r="4.15" fill="#67ffcb"/><circle cx="700.8" cy="470.3" r="4.15" fill="#c4ff64"/><circle cx="700.5" cy="478.6" r="4.15" fill="#92ff95"/><circle cx="700.2" cy="486.9" r="4.15" fill="#93ff93"/><circle cx="699.9" cy="495.3" r="4.15" fill="#96ff8e"/><circle cx="699.6" cy="503.6" r="4.15" fill="#96ff8e"/><circle cx="699.3" cy="511.9" r="4.15" fill="#94ff91"/><circle cx="699" cy="520.3" r="4.15" fill="#68ffca"/><circle cx="698.7" cy="528.6" r="4.15" fill="#67ffca"/><circle cx="698.4" cy="536.9" r="4.15" fill="#64ffce"/><circle cx="698.1" cy="545.3" r="4.15" fill="#76ffb6"/><circle cx="697.8" cy="553.6" r="4.15" fill="#73ffba"/><circle cx="697.5" cy="561.9" r="4.15" fill="#75ffb8"/><circle cx="697.2" cy="570.2" r="4.15" fill="#6bffc5"/><circle cx="696.8" cy="578.6" r="4.15" fill="#70ffbf"/><circle cx="696.5" cy="586.9" r="4.15" fill="#75ffb8"/><circle cx="696.2" cy="595.2" r="4.15" fill="#72ffbc"/><circle cx="695.9" cy="603.6" r="4.15" fill="#6bffc6"/><circle cx="695.6" cy="611.9" r="4.15" fill="#70ffbe"/><circle cx="695.2" cy="620.2" r="4.15" fill="#77ffb5"/><circle cx="694.9" cy="628.6" r="4.15" fill="#6cffc3"/><circle cx="694.6" cy="636.9" r="4.15" fill="#6cffc4"/><circle cx="694.3" cy="645.2" r="4.15" fill="#6dffc2"/><circle cx="694" cy="653.6" r="4.15" fill="#74ffb9"/><circle cx="693.6" cy="661.9" r="4.15" fill="#76ffb6"/><circle cx="693.3" cy="670.2" r="4.15" fill="#6bffc5"/><circle cx="693" cy="678.6" r="4.15" fill="#59ffd9"/><circle cx="692.7" cy="686.9" r="4.15" fill="#28f0ff"/><circle cx="692.4" cy="695.2" r="4.15" fill="#28f1ff"/><circle cx="692.1" cy="703.6" r="4.15" fill="#29f5ff"/><circle cx="691.7" cy="711.9" r="4.15" fill="#59ffd9"/><circle cx="691.4" cy="720.2" r="4.15" fill="#29f9ff"/><circle cx="691.1" cy="728.6" r="4.15" fill="#29f6ff"/><circle cx="690.8" cy="736.9" r="4.15" fill="#30fffa"/><circle cx="690.5" cy="745.2" r="4.15" fill="#2cfffe"/><circle cx="690.1" cy="753.6" r="4.15" fill="#1acdff"/><circle cx="689.8" cy="761.9" r="4.15" fill="#33fff7"/><circle cx="689.4" cy="770.2" r="4.15" fill="#4affe4"/><circle cx="689" cy="778.6" r="4.15" fill="#3fffed"/><circle cx="688.5" cy="786.9" r="4.15" fill="#55ffdc"/><circle cx="688.1" cy="795.2" r="4.15" fill="#3fffec"/><circle cx="687.7" cy="803.6" r="4.15" fill="#3effed"/><circle cx="687.3" cy="811.9" r="4.15" fill="#38fff2"/><circle cx="686.9" cy="820.2" r="4.15" fill="#00b4ff"/><circle cx="686.5" cy="828.6" r="4.15" fill="#1ccfff"/><circle cx="686" cy="836.9" r="4.15" fill="#28f1ff"/><circle cx="685.6" cy="845.2" r="4.15" fill="#28f3ff"/><circle cx="685.2" cy="853.6" r="4.15" fill="#23d8ff"/><circle cx="684.8" cy="861.9" r="4.15" fill="#20d2ff"/><circle cx="684.4" cy="870.2" r="4.15" fill="#29f6ff"/><circle cx="684" cy="878.6" r="4.15" fill="#23d8ff"/><circle cx="683.5" cy="886.9" r="4.15" fill="#0abfff"/><circle cx="683.1" cy="895.2" r="4.15" fill="#07bcff"/><circle cx="682.7" cy="903.6" r="4.15" fill="#00a4ff"/><circle cx="682.3" cy="911.9" r="4.15" fill="#20d2ff"/><circle cx="681.9" cy="920.2" r="4.15" fill="#1acdff"/><circle cx="681.5" cy="928.6" r="4.15" fill="#22d5ff"/><circle cx="681" cy="936.9" r="4.15" fill="#1fd2ff"/><circle cx="680.6" cy="945.2" r="4.15" fill="#29f5ff"/><circle cx="680.2" cy="953.6" r="4.15" fill="#03b9ff"/><circle cx="652.1" cy="137" r="4.15" fill="#20d2ff"/><circle cx="652.4" cy="145.4" r="4.15" fill="#22d4ff"/><circle cx="652.6" cy="153.7" r="4.15" fill="#47ffe7"/><circle cx="652.9" cy="162" r="4.15" fill="#40ffec"/><circle cx="653.2" cy="170.3" r="4.15" fill="#3cffef"/><circle cx="653.5" cy="178.7" r="4.15" fill="#46ffe7"/><circle cx="653.7" cy="187" r="4.15" fill="#c5ff63"/><circle cx="654" cy="195.3" r="4.15" fill="#ffbd00"/><circle cx="654.3" cy="203.7" r="4.15" fill="#ffbf00"/><circle cx="654.6" cy="212" r="4.15" fill="#ffbb00"/><circle cx="654.8" cy="220.3" r="4.15" fill="#fff727"/><circle cx="655.1" cy="228.7" r="4.15" fill="#fff827"/><circle cx="655.4" cy="237" r="4.15" fill="#ceff5d"/><circle cx="655.7" cy="245.3" r="4.15" fill="#f3ff37"/><circle cx="655.9" cy="253.7" r="4.15" fill="#f9ff31"/><circle cx="656.2" cy="262" r="4.15" fill="#f0ff3b"/><circle cx="656.5" cy="270.3" r="4.15" fill="#beff66"/><circle cx="656.7" cy="278.7" r="4.15" fill="#c7ff62"/><circle cx="657" cy="287" r="4.15" fill="#c5ff63"/><circle cx="657.3" cy="295.3" r="4.15" fill="#c3ff64"/><circle cx="657.6" cy="303.7" r="4.15" fill="#baff68"/><circle cx="657.8" cy="312" r="4.15" fill="#bfff66"/><circle cx="658.1" cy="320.3" r="4.15" fill="#bfff66"/><circle cx="658.4" cy="328.7" r="4.15" fill="#fff827"/><circle cx="658.6" cy="337" r="4.15" fill="#fffe2a"/><circle cx="658.9" cy="345.3" r="4.15" fill="#e6ff45"/><circle cx="659.2" cy="353.7" r="4.15" fill="#ecff3f"/><circle cx="659.5" cy="362" r="4.15" fill="#daff51"/><circle cx="659.7" cy="370.3" r="4.15" fill="#e6ff45"/><circle cx="660" cy="378.6" r="4.15" fill="#e9ff42"/><circle cx="660.3" cy="387" r="4.15" fill="#f8ff32"/><circle cx="660.5" cy="395.3" r="4.15" fill="#bbff68"/><circle cx="660.8" cy="403.6" r="4.15" fill="#c7ff62"/><circle cx="661.1" cy="412" r="4.15" fill="#b1ff6d"/><circle cx="661.3" cy="420.3" r="4.15" fill="#bdff67"/><circle cx="661.6" cy="428.6" r="4.15" fill="#a3ff78"/><circle cx="661.9" cy="437" r="4.15" fill="#afff6e"/><circle cx="662.1" cy="445.3" r="4.15" fill="#b3ff6c"/><circle cx="662.4" cy="453.6" r="4.15" fill="#a9ff71"/><circle cx="662.7" cy="462" r="4.15" fill="#a2ff7a"/><circle cx="662.9" cy="470.3" r="4.15" fill="#96ff8e"/><circle cx="663.2" cy="478.6" r="4.15" fill="#95ff8e"/><circle cx="663.5" cy="487" r="4.15" fill="#98ff8b"/><circle cx="663.7" cy="495.3" r="4.15" fill="#95ff8f"/><circle cx="664" cy="503.6" r="4.15" fill="#97ff8c"/><circle cx="664.3" cy="512" r="4.15" fill="#99ff88"/><circle cx="664.6" cy="520.3" r="4.15" fill="#95ff8f"/><circle cx="664.8" cy="528.6" r="4.15" fill="#94ff91"/><circle cx="665.1" cy="537" r="4.15" fill="#9bff86"/><circle cx="665.4" cy="545.3" r="4.15" fill="#8dff9a"/><circle cx="665.6" cy="553.6" r="4.15" fill="#95ff90"/><circle cx="665.9" cy="561.9" r="4.15" fill="#a6ff73"/><circle cx="666.1" cy="570.3" r="4.15" fill="#90ff97"/><circle cx="666.4" cy="578.6" r="4.15" fill="#85ffa4"/><circle cx="666.6" cy="586.9" r="4.15" fill="#beff67"/><circle cx="666.9" cy="595.3" r="4.15" fill="#90ff97"/><circle cx="667.1" cy="603.6" r="4.15" fill="#8bff9d"/><circle cx="667.4" cy="611.9" r="4.15" fill="#c5ff63"/><circle cx="667.6" cy="620.3" r="4.15" fill="#91ff96"/><circle cx="667.9" cy="628.6" r="4.15" fill="#6cffc4"/><circle cx="668.1" cy="636.9" r="4.15" fill="#73ffbb"/><circle cx="668.4" cy="645.3" r="4.15" fill="#91ff95"/><circle cx="668.6" cy="653.6" r="4.15" fill="#a8ff71"/><circle cx="668.9" cy="661.9" r="4.15" fill="#a3ff78"/><circle cx="669.1" cy="670.3" r="4.15" fill="#a2ff7a"/><circle cx="669.4" cy="678.6" r="4.15" fill="#6fffbf"/><circle cx="669.6" cy="686.9" r="4.15" fill="#78ffb4"/><circle cx="669.9" cy="695.3" r="4.15" fill="#7bffb0"/><circle cx="670.1" cy="703.6" r="4.15" fill="#74ffb9"/><circle cx="670.4" cy="711.9" r="4.15" fill="#6fffbf"/><circle cx="670.6" cy="720.3" r="4.15" fill="#79ffb3"/><circle cx="670.9" cy="728.6" r="4.15" fill="#72ffbc"/><circle cx="671.1" cy="736.9" r="4.15" fill="#87ffa2"/><circle cx="671.4" cy="745.3" r="4.15" fill="#85ffa4"/><circle cx="671.6" cy="753.6" r="4.15" fill="#79ffb3"/><circle cx="671.9" cy="761.9" r="4.15" fill="#91ff96"/><circle cx="672.3" cy="770.2" r="4.15" fill="#84ffa5"/><circle cx="672.6" cy="778.6" r="4.15" fill="#81ffa9"/><circle cx="673" cy="786.9" r="4.15" fill="#37fff4"/><circle cx="673.3" cy="795.2" r="4.15" fill="#31fff9"/><circle cx="673.7" cy="803.6" r="4.15" fill="#89ff9f"/><circle cx="674.1" cy="811.9" r="4.15" fill="#50ffe0"/><circle cx="674.4" cy="820.2" r="4.15" fill="#56ffdb"/><circle cx="674.8" cy="828.6" r="4.15" fill="#31fff9"/><circle cx="675.1" cy="836.9" r="4.15" fill="#31fff9"/><circle cx="675.5" cy="845.2" r="4.15" fill="#77ffb5"/><circle cx="675.9" cy="853.6" r="4.15" fill="#2afcff"/><circle cx="676.2" cy="861.9" r="4.15" fill="#61ffd3"/><circle cx="676.6" cy="870.2" r="4.15" fill="#58ffda"/><circle cx="676.9" cy="878.6" r="4.15" fill="#5affd8"/><circle cx="677.3" cy="886.9" r="4.15" fill="#50ffe0"/><circle cx="677.7" cy="895.2" r="4.15" fill="#2bffff"/><circle cx="678" cy="903.6" r="4.15" fill="#28f4ff"/><circle cx="678.4" cy="911.9" r="4.15" fill="#22d4ff"/><circle cx="678.8" cy="920.2" r="4.15" fill="#20d2ff"/><circle cx="679.1" cy="928.6" r="4.15" fill="#22d5ff"/><circle cx="679.5" cy="936.9" r="4.15" fill="#24e0ff"/><circle cx="679.8" cy="945.2" r="4.15" fill="#24dcff"/><circle cx="680.2" cy="953.6" r="4.15" fill="#07bdff"/><circle cx="652.1" cy="137" r="4.15" fill="#66ffcb"/><circle cx="651.9" cy="145.4" r="4.15" fill="#00a8ff"/><circle cx="651.7" cy="153.7" r="4.15" fill="#29f4ff"/><circle cx="651.6" cy="162" r="4.15" fill="#29f8ff"/><circle cx="651.4" cy="170.4" r="4.15" fill="#9fff7f"/><circle cx="651.2" cy="178.7" r="4.15" fill="#ffe21c"/><circle cx="651" cy="187.1" r="4.15" fill="#ffc000"/><circle cx="650.8" cy="195.4" r="4.15" fill="#ffc806"/><circle cx="650.6" cy="203.7" r="4.15" fill="#ffe51d"/><circle cx="650.5" cy="212.1" r="4.15" fill="#ffe71e"/><circle cx="650.3" cy="220.4" r="4.15" fill="#ffcf0b"/><circle cx="650.1" cy="228.8" r="4.15" fill="#ffbc00"/><circle cx="649.9" cy="237.1" r="4.15" fill="#d4ff57"/><circle cx="649.7" cy="245.5" r="4.15" fill="#ffa100"/><circle cx="649.5" cy="253.8" r="4.15" fill="#ffea20"/><circle cx="649.4" cy="262.1" r="4.15" fill="#c4ff64"/><circle cx="649.2" cy="270.5" r="4.15" fill="#bfff66"/><circle cx="649" cy="278.8" r="4.15" fill="#eeff3d"/><circle cx="648.8" cy="287.2" r="4.15" fill="#b9ff69"/><circle cx="648.6" cy="295.5" r="4.15" fill="#d0ff5b"/><circle cx="648.5" cy="303.8" r="4.15" fill="#c9ff61"/><circle cx="648.3" cy="312.2" r="4.15" fill="#bfff66"/><circle cx="648.1" cy="320.5" r="4.15" fill="#8cff9c"/><circle cx="647.8" cy="328.9" r="4.15" fill="#8cff9b"/><circle cx="647.5" cy="337.2" r="4.15" fill="#dcff4f"/><circle cx="647.3" cy="345.6" r="4.15" fill="#e9ff42"/><circle cx="647" cy="353.9" r="4.15" fill="#ffc906"/><circle cx="646.7" cy="362.2" r="4.15" fill="#ffcd09"/><circle cx="646.5" cy="370.6" r="4.15" fill="#fff123"/><circle cx="646.2" cy="378.9" r="4.15" fill="#ffb100"/><circle cx="645.9" cy="387.3" r="4.15" fill="#daff51"/><circle cx="645.7" cy="395.6" r="4.15" fill="#fff124"/><circle cx="645.4" cy="403.9" r="4.15" fill="#c3ff64"/><circle cx="645.1" cy="412.3" r="4.15" fill="#c7ff62"/><circle cx="644.9" cy="420.6" r="4.15" fill="#c4ff63"/><circle cx="644.6" cy="429" r="4.15" fill="#71ffbe"/><circle cx="644.3" cy="437.3" r="4.15" fill="#b9ff69"/><circle cx="644" cy="445.6" r="4.15" fill="#baff68"/><circle cx="643.8" cy="454" r="4.15" fill="#65ffcd"/><circle cx="643.5" cy="462.3" r="4.15" fill="#95ff8f"/><circle cx="643.2" cy="470.7" r="4.15" fill="#93ff93"/><circle cx="643" cy="479" r="4.15" fill="#95ff8e"/><circle cx="642.7" cy="487.4" r="4.15" fill="#91ff95"/><circle cx="642.4" cy="495.7" r="4.15" fill="#70ffbe"/><circle cx="642.2" cy="504" r="4.15" fill="#a0ff7d"/><circle cx="641.9" cy="512.4" r="4.15" fill="#9dff83"/><circle cx="641.6" cy="520.7" r="4.15" fill="#d2ff59"/><circle cx="641.4" cy="529.1" r="4.15" fill="#d0ff5b"/><circle cx="641.1" cy="537.4" r="4.15" fill="#92ff94"/><circle cx="640.8" cy="545.7" r="4.15" fill="#b1ff6d"/><circle cx="640.6" cy="554.1" r="4.15" fill="#a5ff76"/><circle cx="640.3" cy="562.4" r="4.15" fill="#a0ff7d"/><circle cx="640" cy="570.8" r="4.15" fill="#41ffeb"/><circle cx="639.8" cy="579.1" r="4.15" fill="#71ffbe"/><circle cx="639.5" cy="587.4" r="4.15" fill="#54ffdd"/><circle cx="639.2" cy="595.8" r="4.15" fill="#77ffb6"/><circle cx="639" cy="604.1" r="4.15" fill="#29f6ff"/><circle cx="638.7" cy="612.5" r="4.15" fill="#49ffe5"/><circle cx="638.4" cy="620.8" r="4.15" fill="#5fffd4"/><circle cx="638.2" cy="629.2" r="4.15" fill="#a6ff74"/><circle cx="637.9" cy="637.5" r="4.15" fill="#a8ff72"/><circle cx="637.6" cy="645.8" r="4.15" fill="#76ffb6"/><circle cx="637.4" cy="654.2" r="4.15" fill="#6fffc0"/><circle cx="637.1" cy="662.5" r="4.15" fill="#29f7ff"/><circle cx="636.8" cy="670.9" r="4.15" fill="#24dcff"/><circle cx="636.6" cy="679.2" r="4.15" fill="#57ffdb"/><circle cx="636.3" cy="687.5" r="4.15" fill="#2bfeff"/><circle cx="636" cy="695.9" r="4.15" fill="#2bfeff"/><circle cx="635.8" cy="704.2" r="4.15" fill="#28f3ff"/><circle cx="635.5" cy="712.6" r="4.15" fill="#2bfeff"/><circle cx="635.2" cy="720.9" r="4.15" fill="#2bffff"/><circle cx="635" cy="729.2" r="4.15" fill="#2ffffb"/><circle cx="634.7" cy="737.6" r="4.15" fill="#23d7ff"/><circle cx="634.4" cy="745.9" r="4.15" fill="#25e3ff"/><circle cx="634.2" cy="754.3" r="4.15" fill="#0ec3ff"/><circle cx="633.9" cy="762.6" r="4.15" fill="#25e5ff"/><circle cx="633.4" cy="771" r="4.15" fill="#27edff"/><circle cx="633" cy="779.3" r="4.15" fill="#24ddff"/><circle cx="632.6" cy="787.6" r="4.15" fill="#23d7ff"/><circle cx="632.2" cy="796" r="4.15" fill="#2afaff"/><circle cx="631.8" cy="804.3" r="4.15" fill="#1ed0ff"/><circle cx="631.4" cy="812.7" r="4.15" fill="#23daff"/><circle cx="630.9" cy="821" r="4.15" fill="#25e3ff"/><circle cx="630.5" cy="829.3" r="4.15" fill="#2afbff"/><circle cx="630.1" cy="837.7" r="4.15" fill="#2afcff"/><circle cx="629.7" cy="846" r="4.15" fill="#2cfffd"/><circle cx="629.3" cy="854.4" r="4.15" fill="#22d5ff"/><circle cx="628.8" cy="862.7" r="4.15" fill="#28efff"/><circle cx="628.4" cy="871" r="4.15" fill="#28efff"/><circle cx="628" cy="879.4" r="4.15" fill="#28f2ff"/><circle cx="627.6" cy="887.7" r="4.15" fill="#24ddff"/><circle cx="627.2" cy="896.1" r="4.15" fill="#21d3ff"/><circle cx="626.8" cy="904.4" r="4.15" fill="#24ddff"/><circle cx="626.3" cy="912.8" r="4.15" fill="#22d5ff"/><circle cx="625.9" cy="921.1" r="4.15" fill="#23d7ff"/><circle cx="625.5" cy="929.4" r="4.15" fill="#21d3ff"/><circle cx="598.6" cy="128.7" r="4.15" fill="#85ffa4"/><circle cx="598.9" cy="137" r="4.15" fill="#8dff9a"/><circle cx="599.2" cy="145.4" r="4.15" fill="#87ffa1"/><circle cx="599.4" cy="153.7" r="4.15" fill="#8aff9e"/><circle cx="599.7" cy="162.1" r="4.15" fill="#29f5ff"/><circle cx="600" cy="170.4" r="4.15" fill="#29f5ff"/><circle cx="600.3" cy="178.7" r="4.15" fill="#67ffcb"/><circle cx="600.6" cy="187.1" r="4.15" fill="#6cffc4"/><circle cx="600.8" cy="195.4" r="4.15" fill="#6cffc3"/><circle cx="601.1" cy="203.8" r="4.15" fill="#ffd310"/><circle cx="601.4" cy="212.1" r="4.15" fill="#ffe21c"/><circle cx="601.7" cy="220.5" r="4.15" fill="#ffd411"/><circle cx="601.9" cy="228.8" r="4.15" fill="#ffd20e"/><circle cx="602.2" cy="237.1" r="4.15" fill="#ffd410"/><circle cx="602.5" cy="245.5" r="4.15" fill="#ffdc19"/><circle cx="602.8" cy="253.8" r="4.15" fill="#fff626"/><circle cx="603.1" cy="262.2" r="4.15" fill="#beff66"/><circle cx="603.3" cy="270.5" r="4.15" fill="#c3ff64"/><circle cx="603.6" cy="278.8" r="4.15" fill="#d4ff57"/><circle cx="603.9" cy="287.2" r="4.15" fill="#8dff9a"/><circle cx="604.2" cy="295.5" r="4.15" fill="#8eff99"/><circle cx="604.5" cy="303.9" r="4.15" fill="#90ff96"/><circle cx="604.7" cy="312.2" r="4.15" fill="#92ff93"/><circle cx="605" cy="320.5" r="4.15" fill="#91ff96"/><circle cx="605.2" cy="328.9" r="4.15" fill="#91ff96"/><circle cx="605.5" cy="337.2" r="4.15" fill="#91ff95"/><circle cx="605.7" cy="345.6" r="4.15" fill="#92ff94"/><circle cx="605.9" cy="353.9" r="4.15" fill="#91ff96"/><circle cx="606.2" cy="362.3" r="4.15" fill="#92ff94"/><circle cx="606.4" cy="370.6" r="4.15" fill="#8aff9e"/><circle cx="606.6" cy="378.9" r="4.15" fill="#92ff94"/><circle cx="606.9" cy="387.3" r="4.15" fill="#8eff99"/><circle cx="607.1" cy="395.6" r="4.15" fill="#93ff92"/><circle cx="607.3" cy="404" r="4.15" fill="#88ffa0"/><circle cx="607.6" cy="412.3" r="4.15" fill="#8aff9e"/><circle cx="607.8" cy="420.6" r="4.15" fill="#87ffa1"/><circle cx="608" cy="429" r="4.15" fill="#93ff92"/><circle cx="608.2" cy="437.3" r="4.15" fill="#95ff8f"/><circle cx="608.5" cy="445.7" r="4.15" fill="#66ffcc"/><circle cx="608.7" cy="454" r="4.15" fill="#61ffd2"/><circle cx="608.9" cy="462.3" r="4.15" fill="#69ffc8"/><circle cx="609.2" cy="470.7" r="4.15" fill="#68ffc9"/><circle cx="609.4" cy="479" r="4.15" fill="#65ffce"/><circle cx="609.6" cy="487.4" r="4.15" fill="#5fffd4"/><circle cx="609.9" cy="495.7" r="4.15" fill="#60ffd4"/><circle cx="610.1" cy="504" r="4.15" fill="#48ffe5"/><circle cx="610.3" cy="512.4" r="4.15" fill="#46ffe7"/><circle cx="610.6" cy="520.7" r="4.15" fill="#49ffe5"/><circle cx="610.8" cy="529.1" r="4.15" fill="#2efffc"/><circle cx="611" cy="537.4" r="4.15" fill="#5dffd6"/><circle cx="611.3" cy="545.8" r="4.15" fill="#39fff2"/><circle cx="611.6" cy="554.1" r="4.15" fill="#24dcff"/><circle cx="611.9" cy="562.4" r="4.15" fill="#38fff2"/><circle cx="612.2" cy="570.8" r="4.15" fill="#24deff"/><circle cx="612.5" cy="579.1" r="4.15" fill="#27ebff"/><circle cx="612.8" cy="587.5" r="4.15" fill="#2afdff"/><circle cx="613.1" cy="595.8" r="4.15" fill="#2ffffb"/><circle cx="613.4" cy="604.1" r="4.15" fill="#2afbff"/><circle cx="613.7" cy="612.5" r="4.15" fill="#28f3ff"/><circle cx="614" cy="620.8" r="4.15" fill="#48ffe6"/><circle cx="614.3" cy="629.2" r="4.15" fill="#4cffe3"/><circle cx="614.6" cy="637.5" r="4.15" fill="#33fff7"/><circle cx="614.9" cy="645.8" r="4.15" fill="#34fff7"/><circle cx="615.3" cy="654.2" r="4.15" fill="#28f0ff"/><circle cx="615.6" cy="662.5" r="4.15" fill="#20d2ff"/><circle cx="615.9" cy="670.9" r="4.15" fill="#00acff"/><circle cx="616.2" cy="679.2" r="4.15" fill="#20d2ff"/><circle cx="616.5" cy="687.5" r="4.15" fill="#18cbff"/><circle cx="616.8" cy="695.9" r="4.15" fill="#23dbff"/><circle cx="617.1" cy="704.2" r="4.15" fill="#23d9ff"/><circle cx="617.4" cy="712.6" r="4.15" fill="#05bbff"/><circle cx="617.7" cy="720.9" r="4.15" fill="#24deff"/><circle cx="618" cy="729.3" r="4.15" fill="#22d3ff"/><circle cx="618.3" cy="737.6" r="4.15" fill="#17caff"/><circle cx="618.6" cy="745.9" r="4.15" fill="#19ccff"/><circle cx="618.9" cy="754.3" r="4.15" fill="#23daff"/><circle cx="619.2" cy="762.6" r="4.15" fill="#1acdff"/><circle cx="619.5" cy="771" r="4.15" fill="#18cbff"/><circle cx="619.8" cy="779.3" r="4.15" fill="#23d7ff"/><circle cx="620.1" cy="787.6" r="4.15" fill="#1ccfff"/><circle cx="620.5" cy="796" r="4.15" fill="#23d7ff"/><circle cx="620.8" cy="804.3" r="4.15" fill="#1bceff"/><circle cx="621.1" cy="812.7" r="4.15" fill="#19ccff"/><circle cx="621.4" cy="821" r="4.15" fill="#10c4ff"/><circle cx="621.7" cy="829.3" r="4.15" fill="#0ec3ff"/><circle cx="622" cy="837.7" r="4.15" fill="#11c5ff"/><circle cx="622.4" cy="846" r="4.15" fill="#0fc3ff"/><circle cx="622.7" cy="854.4" r="4.15" fill="#02b9ff"/><circle cx="623" cy="862.7" r="4.15" fill="#0dc2ff"/><circle cx="623.3" cy="871.1" r="4.15" fill="#1ed0ff"/><circle cx="623.6" cy="879.4" r="4.15" fill="#19ccff"/><circle cx="623.9" cy="887.7" r="4.15" fill="#22d4ff"/><circle cx="624.2" cy="896.1" r="4.15" fill="#15c9ff"/><circle cx="624.6" cy="904.4" r="4.15" fill="#22d4ff"/><circle cx="624.9" cy="912.8" r="4.15" fill="#23dbff"/><circle cx="625.2" cy="921.1" r="4.15" fill="#1cceff"/><circle cx="625.5" cy="929.4" r="4.15" fill="#1cceff"/><circle cx="598.6" cy="128.7" r="4.15" fill="#87ffa1"/><circle cx="598.4" cy="137" r="4.15" fill="#8aff9e"/><circle cx="598.1" cy="145.3" r="4.15" fill="#7effad"/><circle cx="597.9" cy="153.6" r="4.15" fill="#82ffa8"/><circle cx="597.6" cy="162" r="4.15" fill="#2ffffb"/><circle cx="597.4" cy="170.3" r="4.15" fill="#b4ff6c"/><circle cx="597.1" cy="178.6" r="4.15" fill="#c4ff63"/><circle cx="596.9" cy="186.9" r="4.15" fill="#bbff68"/><circle cx="596.7" cy="195.2" r="4.15" fill="#ffc604"/><circle cx="596.4" cy="203.5" r="4.15" fill="#ffc806"/><circle cx="596.2" cy="211.9" r="4.15" fill="#ffc302"/><circle cx="595.9" cy="220.2" r="4.15" fill="#ffc604"/><circle cx="595.7" cy="228.5" r="4.15" fill="#ffc000"/><circle cx="595.4" cy="236.8" r="4.15" fill="#ffcd0a"/><circle cx="595.2" cy="245.1" r="4.15" fill="#fff425"/><circle cx="594.9" cy="253.4" r="4.15" fill="#ffff2b"/><circle cx="594.7" cy="261.7" r="4.15" fill="#cdff5d"/><circle cx="594.5" cy="270.1" r="4.15" fill="#cdff5e"/><circle cx="594.2" cy="278.4" r="4.15" fill="#c8ff61"/><circle cx="594" cy="286.7" r="4.15" fill="#7fffab"/><circle cx="593.7" cy="295" r="4.15" fill="#86ffa2"/><circle cx="593.5" cy="303.3" r="4.15" fill="#89ff9f"/><circle cx="593.2" cy="311.6" r="4.15" fill="#86ffa2"/><circle cx="593" cy="319.9" r="4.15" fill="#83ffa7"/><circle cx="592.8" cy="328.3" r="4.15" fill="#97ff8b"/><circle cx="592.6" cy="336.6" r="4.15" fill="#94ff90"/><circle cx="592.4" cy="344.9" r="4.15" fill="#a1ff7c"/><circle cx="592.2" cy="353.2" r="4.15" fill="#9dff82"/><circle cx="592" cy="361.5" r="4.15" fill="#9fff7f"/><circle cx="591.8" cy="369.8" r="4.15" fill="#98ff8a"/><circle cx="591.6" cy="378.2" r="4.15" fill="#9cff84"/><circle cx="591.4" cy="386.5" r="4.15" fill="#a1ff7c"/><circle cx="591.2" cy="394.8" r="4.15" fill="#9fff7f"/><circle cx="591" cy="403.1" r="4.15" fill="#9cff84"/><circle cx="590.8" cy="411.4" r="4.15" fill="#98ff8b"/><circle cx="590.6" cy="419.7" r="4.15" fill="#99ff88"/><circle cx="590.4" cy="428" r="4.15" fill="#77ffb5"/><circle cx="590.3" cy="436.4" r="4.15" fill="#6fffc0"/><circle cx="590.1" cy="444.7" r="4.15" fill="#74ffba"/><circle cx="589.9" cy="453" r="4.15" fill="#72ffbb"/><circle cx="589.7" cy="461.3" r="4.15" fill="#2afcff"/><circle cx="589.5" cy="469.6" r="4.15" fill="#2afaff"/><circle cx="589.3" cy="477.9" r="4.15" fill="#4effe1"/><circle cx="589.1" cy="486.2" r="4.15" fill="#00b1ff"/><circle cx="588.9" cy="494.6" r="4.15" fill="#15c9ff"/><circle cx="588.7" cy="502.9" r="4.15" fill="#28f3ff"/><circle cx="588.5" cy="511.2" r="4.15" fill="#29f6ff"/><circle cx="588.3" cy="519.5" r="4.15" fill="#2afaff"/><circle cx="588.1" cy="527.8" r="4.15" fill="#21d3ff"/><circle cx="587.9" cy="536.1" r="4.15" fill="#28f0ff"/><circle cx="587.7" cy="544.5" r="4.15" fill="#26e8ff"/><circle cx="587.4" cy="552.8" r="4.15" fill="#26e8ff"/><circle cx="587.2" cy="561.1" r="4.15" fill="#2bffff"/><circle cx="587" cy="569.4" r="4.15" fill="#50ffe0"/><circle cx="586.7" cy="577.7" r="4.15" fill="#4affe5"/><circle cx="586.5" cy="586" r="4.15" fill="#56ffdb"/><circle cx="586.2" cy="594.3" r="4.15" fill="#55ffdc"/><circle cx="586" cy="602.7" r="4.15" fill="#23daff"/><circle cx="585.8" cy="611" r="4.15" fill="#24deff"/><circle cx="585.5" cy="619.3" r="4.15" fill="#1ed1ff"/><circle cx="585.3" cy="627.6" r="4.15" fill="#19ccff"/><circle cx="585.1" cy="635.9" r="4.15" fill="#2af9ff"/><circle cx="584.8" cy="644.2" r="4.15" fill="#24e0ff"/><circle cx="584.6" cy="652.5" r="4.15" fill="#22d5ff"/><circle cx="584.3" cy="660.9" r="4.15" fill="#1ed1ff"/><circle cx="584.1" cy="669.2" r="4.15" fill="#2cfffe"/><circle cx="583.9" cy="677.5" r="4.15" fill="#20d2ff"/><circle cx="583.6" cy="685.8" r="4.15" fill="#23d9ff"/><circle cx="583.4" cy="694.1" r="4.15" fill="#06bcff"/><circle cx="583.1" cy="702.4" r="4.15" fill="#0097ff"/><circle cx="582.9" cy="710.8" r="4.15" fill="#1fd2ff"/><circle cx="582.7" cy="719.1" r="4.15" fill="#20d2ff"/><circle cx="582.4" cy="727.4" r="4.15" fill="#00a6ff"/><circle cx="582.2" cy="735.7" r="4.15" fill="#009dff"/><circle cx="582" cy="744" r="4.15" fill="#02b8ff"/><circle cx="581.7" cy="752.3" r="4.15" fill="#008aff"/><circle cx="581.4" cy="760.6" r="4.15" fill="#22d5ff"/><circle cx="578.3" cy="769" r="4.15" fill="#22d4ff"/><circle cx="583.5" cy="777.3" r="4.15" fill="#1fd1ff"/><circle cx="579.3" cy="785.6" r="4.15" fill="#00b2ff"/><circle cx="579.2" cy="793.9" r="4.15" fill="#00abff"/><circle cx="574.8" cy="802.2" r="4.15" fill="#00abff"/><circle cx="578.6" cy="810.5" r="4.15" fill="#009dff"/><circle cx="576.1" cy="818.8" r="4.15" fill="#00b5ff"/><circle cx="575.3" cy="827.2" r="4.15" fill="#1bceff"/><circle cx="574.5" cy="835.5" r="4.15" fill="#00aaff"/><circle cx="573.7" cy="843.8" r="4.15" fill="#0092ff"/><circle cx="573" cy="852.1" r="4.15" fill="#009cff"/><circle cx="572.2" cy="860.4" r="4.15" fill="#009bff"/><circle cx="571.4" cy="868.7" r="4.15" fill="#00aaff"/><circle cx="570.7" cy="877.1" r="4.15" fill="#00a0ff"/><circle cx="569.9" cy="885.4" r="4.15" fill="#00a5ff"/><circle cx="569.1" cy="893.7" r="4.15" fill="#00aeff"/><circle cx="568.4" cy="902" r="4.15" fill="#00b1ff"/><circle cx="567.6" cy="910.3" r="4.15" fill="#00a6ff"/><circle cx="566.8" cy="918.6" r="4.15" fill="#1bceff"/><circle cx="542.4" cy="137.9" r="4.15" fill="#68ffca"/><circle cx="542.6" cy="146.2" r="4.15" fill="#6affc6"/><circle cx="542.8" cy="154.5" r="4.15" fill="#62ffd1"/><circle cx="543" cy="162.8" r="4.15" fill="#62ffd1"/><circle cx="543.2" cy="171.1" r="4.15" fill="#72ffbc"/><circle cx="543.4" cy="179.4" r="4.15" fill="#70ffbe"/><circle cx="543.6" cy="187.7" r="4.15" fill="#6affc7"/><circle cx="543.8" cy="196" r="4.15" fill="#37fff4"/><circle cx="544" cy="204.3" r="4.15" fill="#32fff9"/><circle cx="544.2" cy="212.6" r="4.15" fill="#afff6e"/><circle cx="544.4" cy="220.9" r="4.15" fill="#a7ff72"/><circle cx="544.6" cy="229.2" r="4.15" fill="#b3ff6c"/><circle cx="544.8" cy="237.5" r="4.15" fill="#afff6e"/><circle cx="545" cy="245.8" r="4.15" fill="#b0ff6d"/><circle cx="545.2" cy="254.1" r="4.15" fill="#b4ff6c"/><circle cx="545.4" cy="262.4" r="4.15" fill="#ffc000"/><circle cx="545.6" cy="270.7" r="4.15" fill="#ffd916"/><circle cx="545.8" cy="279.1" r="4.15" fill="#f5ff35"/><circle cx="546" cy="287.4" r="4.15" fill="#f5ff36"/><circle cx="546.2" cy="295.7" r="4.15" fill="#ffe11b"/><circle cx="546.4" cy="304" r="4.15" fill="#b1ff6d"/><circle cx="546.6" cy="312.3" r="4.15" fill="#bdff67"/><circle cx="546.8" cy="320.6" r="4.15" fill="#f3ff38"/><circle cx="547" cy="328.9" r="4.15" fill="#ebff40"/><circle cx="547.3" cy="337.2" r="4.15" fill="#c6ff62"/><circle cx="547.5" cy="345.5" r="4.15" fill="#c5ff63"/><circle cx="547.7" cy="353.8" r="4.15" fill="#b1ff6d"/><circle cx="547.9" cy="362.1" r="4.15" fill="#beff67"/><circle cx="548.2" cy="370.4" r="4.15" fill="#b9ff69"/><circle cx="548.4" cy="378.7" r="4.15" fill="#b2ff6c"/><circle cx="548.6" cy="387" r="4.15" fill="#edff3e"/><circle cx="548.9" cy="395.3" r="4.15" fill="#a2ff7a"/><circle cx="549.1" cy="403.6" r="4.15" fill="#a6ff74"/><circle cx="549.3" cy="412" r="4.15" fill="#a7ff72"/><circle cx="549.5" cy="420.3" r="4.15" fill="#fffa28"/><circle cx="549.8" cy="428.6" r="4.15" fill="#fdff2d"/><circle cx="550" cy="436.9" r="4.15" fill="#f8ff32"/><circle cx="550.2" cy="445.2" r="4.15" fill="#f9ff31"/><circle cx="550.4" cy="453.5" r="4.15" fill="#b3ff6c"/><circle cx="550.7" cy="461.8" r="4.15" fill="#93ff92"/><circle cx="550.9" cy="470.1" r="4.15" fill="#93ff92"/><circle cx="551.1" cy="478.4" r="4.15" fill="#c3ff64"/><circle cx="551.3" cy="486.7" r="4.15" fill="#9fff7f"/><circle cx="551.6" cy="495" r="4.15" fill="#a2ff7b"/><circle cx="551.8" cy="503.3" r="4.15" fill="#a3ff78"/><circle cx="552" cy="511.6" r="4.15" fill="#adff6f"/><circle cx="552.2" cy="519.9" r="4.15" fill="#adff6f"/><circle cx="552.5" cy="528.2" r="4.15" fill="#acff70"/><circle cx="552.7" cy="536.5" r="4.15" fill="#9fff7f"/><circle cx="552.9" cy="544.9" r="4.15" fill="#b9ff69"/><circle cx="553.1" cy="553.2" r="4.15" fill="#6effc2"/><circle cx="553.3" cy="561.5" r="4.15" fill="#97ff8c"/><circle cx="553.5" cy="569.8" r="4.15" fill="#9bff85"/><circle cx="553.7" cy="578.1" r="4.15" fill="#9fff7f"/><circle cx="553.8" cy="586.4" r="4.15" fill="#a0ff7d"/><circle cx="554" cy="594.7" r="4.15" fill="#aaff71"/><circle cx="554.2" cy="603" r="4.15" fill="#67ffca"/><circle cx="554.4" cy="611.3" r="4.15" fill="#efff3b"/><circle cx="554.6" cy="619.6" r="4.15" fill="#5cffd7"/><circle cx="554.8" cy="627.9" r="4.15" fill="#8aff9e"/><circle cx="555" cy="636.2" r="4.15" fill="#8dff9b"/><circle cx="555.2" cy="644.5" r="4.15" fill="#81ffa8"/><circle cx="555.4" cy="652.8" r="4.15" fill="#85ffa4"/><circle cx="555.6" cy="661.1" r="4.15" fill="#84ffa5"/><circle cx="555.7" cy="669.4" r="4.15" fill="#58ffda"/><circle cx="555.9" cy="677.8" r="4.15" fill="#8bff9c"/><circle cx="556.1" cy="686.1" r="4.15" fill="#59ffd9"/><circle cx="556.3" cy="694.4" r="4.15" fill="#8eff99"/><circle cx="556.5" cy="702.7" r="4.15" fill="#28f1ff"/><circle cx="556.7" cy="711" r="4.15" fill="#8fff98"/><circle cx="556.9" cy="719.3" r="4.15" fill="#48ffe6"/><circle cx="557.1" cy="727.6" r="4.15" fill="#29f8ff"/><circle cx="557.3" cy="735.9" r="4.15" fill="#27efff"/><circle cx="557.4" cy="744.2" r="4.15" fill="#27ecff"/><circle cx="557.6" cy="752.5" r="4.15" fill="#2afcff"/><circle cx="557.8" cy="760.8" r="4.15" fill="#14c8ff"/><circle cx="558.1" cy="769.1" r="4.15" fill="#28f1ff"/><circle cx="558.4" cy="777.4" r="4.15" fill="#2bffff"/><circle cx="558.9" cy="794" r="4.15" fill="#32fff8"/><circle cx="559.2" cy="802.3" r="4.15" fill="#48ffe5"/><circle cx="559.7" cy="819" r="4.15" fill="#23d9ff"/><circle cx="560" cy="827.3" r="4.15" fill="#26e8ff"/><circle cx="560.3" cy="835.6" r="4.15" fill="#26eaff"/><circle cx="560.5" cy="843.9" r="4.15" fill="#22d5ff"/><circle cx="560.8" cy="852.2" r="4.15" fill="#28f0ff"/><circle cx="561.1" cy="860.5" r="4.15" fill="#00b6ff"/><circle cx="561.4" cy="868.8" r="4.15" fill="#00adff"/><circle cx="561.6" cy="877.1" r="4.15" fill="#00b3ff"/><circle cx="561.9" cy="885.4" r="4.15" fill="#00b2ff"/><circle cx="562.2" cy="893.7" r="4.15" fill="#00a2ff"/><circle cx="562.5" cy="902" r="4.15" fill="#00a4ff"/><circle cx="562.7" cy="910.3" r="4.15" fill="#13c7ff"/><circle cx="563" cy="918.6" r="4.15" fill="#00a8ff"/><circle cx="542.4" cy="137.9" r="4.15" fill="#70ffbf"/><circle cx="542.1" cy="146.2" r="4.15" fill="#67ffca"/><circle cx="541.8" cy="154.5" r="4.15" fill="#65ffce"/><circle cx="541.4" cy="162.8" r="4.15" fill="#60ffd4"/><circle cx="541.1" cy="171.1" r="4.15" fill="#77ffb5"/><circle cx="540.8" cy="179.5" r="4.15" fill="#98ff8b"/><circle cx="540.5" cy="187.8" r="4.15" fill="#8cff9c"/><circle cx="540.1" cy="196.1" r="4.15" fill="#a9ff71"/><circle cx="539.8" cy="204.4" r="4.15" fill="#b1ff6d"/><circle cx="539.5" cy="212.8" r="4.15" fill="#c5ff63"/><circle cx="539.2" cy="221.1" r="4.15" fill="#ffec21"/><circle cx="538.8" cy="229.4" r="4.15" fill="#ffd30f"/><circle cx="538.5" cy="237.7" r="4.15" fill="#e1ff49"/><circle cx="538.2" cy="246.1" r="4.15" fill="#ddff4e"/><circle cx="537.9" cy="254.4" r="4.15" fill="#ffec21"/><circle cx="537.5" cy="262.7" r="4.15" fill="#ffee22"/><circle cx="537.2" cy="271" r="4.15" fill="#f8ff32"/><circle cx="536.9" cy="279.3" r="4.15" fill="#fff928"/><circle cx="536.6" cy="287.7" r="4.15" fill="#fff928"/><circle cx="536.2" cy="296" r="4.15" fill="#b3ff6c"/><circle cx="535.9" cy="304.3" r="4.15" fill="#a2ff7a"/><circle cx="535.6" cy="312.6" r="4.15" fill="#a5ff75"/><circle cx="535.3" cy="321" r="4.15" fill="#d3ff57"/><circle cx="535" cy="329.3" r="4.15" fill="#fff224"/><circle cx="534.8" cy="337.6" r="4.15" fill="#ff9200"/><circle cx="534.6" cy="345.9" r="4.15" fill="#ddff4e"/><circle cx="534.4" cy="354.3" r="4.15" fill="#ffe41d"/><circle cx="534.2" cy="362.6" r="4.15" fill="#ffd613"/><circle cx="533.9" cy="370.9" r="4.15" fill="#fff928"/><circle cx="533.7" cy="379.2" r="4.15" fill="#fbff2f"/><circle cx="533.5" cy="387.6" r="4.15" fill="#f7ff33"/><circle cx="533.3" cy="395.9" r="4.15" fill="#f5ff35"/><circle cx="533" cy="404.2" r="4.15" fill="#cdff5e"/><circle cx="532.8" cy="412.5" r="4.15" fill="#c6ff63"/><circle cx="532.6" cy="420.8" r="4.15" fill="#beff67"/><circle cx="532.4" cy="429.2" r="4.15" fill="#c4ff64"/><circle cx="532.2" cy="437.5" r="4.15" fill="#cfff5c"/><circle cx="531.9" cy="445.8" r="4.15" fill="#beff66"/><circle cx="531.7" cy="454.1" r="4.15" fill="#c7ff62"/><circle cx="531.5" cy="462.5" r="4.15" fill="#bcff67"/><circle cx="531.3" cy="470.8" r="4.15" fill="#8dff9a"/><circle cx="531" cy="479.1" r="4.15" fill="#75ffb8"/><circle cx="530.8" cy="487.4" r="4.15" fill="#8fff98"/><circle cx="530.6" cy="495.8" r="4.15" fill="#86ffa2"/><circle cx="530.4" cy="504.1" r="4.15" fill="#84ffa5"/><circle cx="530.1" cy="512.4" r="4.15" fill="#63ffcf"/><circle cx="529.9" cy="520.7" r="4.15" fill="#44ffe9"/><circle cx="529.7" cy="529.1" r="4.15" fill="#41ffeb"/><circle cx="529.5" cy="537.4" r="4.15" fill="#2afbff"/><circle cx="529.2" cy="545.7" r="4.15" fill="#5affd8"/><circle cx="529" cy="554" r="4.15" fill="#2dfffd"/><circle cx="528.7" cy="562.3" r="4.15" fill="#2ffffb"/><circle cx="528.5" cy="570.7" r="4.15" fill="#5affd8"/><circle cx="528.2" cy="579" r="4.15" fill="#2afaff"/><circle cx="528" cy="587.3" r="4.15" fill="#27ebff"/><circle cx="527.7" cy="595.6" r="4.15" fill="#45ffe8"/><circle cx="527.5" cy="604" r="4.15" fill="#54ffdd"/><circle cx="527.2" cy="612.3" r="4.15" fill="#29f6ff"/><circle cx="526.9" cy="620.6" r="4.15" fill="#2afcff"/><circle cx="526.7" cy="628.9" r="4.15" fill="#19ccff"/><circle cx="526.4" cy="637.3" r="4.15" fill="#29f6ff"/><circle cx="526.2" cy="645.6" r="4.15" fill="#27eeff"/><circle cx="525.9" cy="653.9" r="4.15" fill="#27ecff"/><circle cx="525.7" cy="662.2" r="4.15" fill="#27ecff"/><circle cx="525.4" cy="670.6" r="4.15" fill="#0ec3ff"/><circle cx="525.2" cy="678.9" r="4.15" fill="#26e8ff"/><circle cx="524.9" cy="687.2" r="4.15" fill="#4affe4"/><circle cx="524.7" cy="695.5" r="4.15" fill="#25e5ff"/><circle cx="524.4" cy="703.8" r="4.15" fill="#0ec2ff"/><circle cx="524.2" cy="712.2" r="4.15" fill="#02b8ff"/><circle cx="523.9" cy="720.5" r="4.15" fill="#28f2ff"/><circle cx="523.6" cy="728.8" r="4.15" fill="#23d9ff"/><circle cx="523.4" cy="737.1" r="4.15" fill="#29f6ff"/><circle cx="523.1" cy="745.5" r="4.15" fill="#1bceff"/><circle cx="522.9" cy="753.8" r="4.15" fill="#1fd1ff"/><circle cx="522.6" cy="762.1" r="4.15" fill="#29f6ff"/><circle cx="522.4" cy="770.4" r="4.15" fill="#27ebff"/><circle cx="522.1" cy="778.8" r="4.15" fill="#4bffe4"/><circle cx="521.8" cy="787.1" r="4.15" fill="#70ffbf"/><circle cx="521.6" cy="795.4" r="4.15" fill="#2bfffe"/><circle cx="521.3" cy="803.7" r="4.15" fill="#22d3ff"/><circle cx="521.1" cy="812.1" r="4.15" fill="#4fffe1"/><circle cx="520.8" cy="820.4" r="4.15" fill="#23d9ff"/><circle cx="520.5" cy="828.7" r="4.15" fill="#27ecff"/><circle cx="520.3" cy="837" r="4.15" fill="#1ed0ff"/><circle cx="520" cy="845.3" r="4.15" fill="#0084ff"/><circle cx="519.7" cy="853.7" r="4.15" fill="#0055ff"/><circle cx="519.5" cy="862" r="4.15" fill="#50ffe0"/><circle cx="519.2" cy="870.3" r="4.15" fill="#29f7ff"/><circle cx="519" cy="878.6" r="4.15" fill="#32fff8"/><circle cx="518.7" cy="887" r="4.15" fill="#27eeff"/><circle cx="518.4" cy="895.3" r="4.15" fill="#26e5ff"/><circle cx="518.2" cy="903.6" r="4.15" fill="#26e6ff"/><circle cx="517.9" cy="911.9" r="4.15" fill="#28f1ff"/><circle cx="517.6" cy="920.3" r="4.15" fill="#28f1ff"/><circle cx="517.4" cy="928.6" r="4.15" fill="#26e8ff"/><circle cx="517.1" cy="936.9" r="4.15" fill="#2af9ff"/><circle cx="516.9" cy="945.2" r="4.15" fill="#27ecff"/><circle cx="516.6" cy="953.6" r="4.15" fill="#27ebff"/><circle cx="492" cy="137" r="4.15" fill="#60ffd4"/><circle cx="492.3" cy="145.4" r="4.15" fill="#63ffd0"/><circle cx="492.5" cy="153.7" r="4.15" fill="#6cffc4"/><circle cx="492.8" cy="162" r="4.15" fill="#5fffd5"/><circle cx="493" cy="170.3" r="4.15" fill="#60ffd4"/><circle cx="493.3" cy="178.7" r="4.15" fill="#6affc6"/><circle cx="493.5" cy="187" r="4.15" fill="#62ffd1"/><circle cx="493.8" cy="195.3" r="4.15" fill="#5effd5"/><circle cx="494" cy="203.7" r="4.15" fill="#68ffc9"/><circle cx="494.3" cy="212" r="4.15" fill="#b4ff6c"/><circle cx="494.6" cy="220.3" r="4.15" fill="#b3ff6c"/><circle cx="494.8" cy="228.7" r="4.15" fill="#feff2c"/><circle cx="495.1" cy="237" r="4.15" fill="#f3ff37"/><circle cx="495.3" cy="245.3" r="4.15" fill="#ffba00"/><circle cx="495.6" cy="253.7" r="4.15" fill="#ff8800"/><circle cx="495.8" cy="262" r="4.15" fill="#ffe21c"/><circle cx="496.1" cy="270.3" r="4.15" fill="#c1ff65"/><circle cx="496.3" cy="278.7" r="4.15" fill="#e2ff49"/><circle cx="496.6" cy="287" r="4.15" fill="#ffce0a"/><circle cx="496.8" cy="295.3" r="4.15" fill="#ffd20e"/><circle cx="497.1" cy="303.7" r="4.15" fill="#ffd411"/><circle cx="497.4" cy="312" r="4.15" fill="#c8ff62"/><circle cx="497.6" cy="320.3" r="4.15" fill="#fbff2f"/><circle cx="497.8" cy="328.7" r="4.15" fill="#fff928"/><circle cx="498.1" cy="337" r="4.15" fill="#fff224"/><circle cx="498.3" cy="345.3" r="4.15" fill="#ffd714"/><circle cx="498.5" cy="353.7" r="4.15" fill="#ffd00c"/><circle cx="498.7" cy="362" r="4.15" fill="#fff526"/><circle cx="499" cy="370.3" r="4.15" fill="#ccff5f"/><circle cx="499.2" cy="378.6" r="4.15" fill="#dbff50"/><circle cx="499.4" cy="387" r="4.15" fill="#deff4d"/><circle cx="499.7" cy="395.3" r="4.15" fill="#d1ff5a"/><circle cx="499.9" cy="403.6" r="4.15" fill="#69ffc8"/><circle cx="500.1" cy="412" r="4.15" fill="#d2ff59"/><circle cx="500.3" cy="420.3" r="4.15" fill="#cbff60"/><circle cx="500.6" cy="428.6" r="4.15" fill="#c7ff62"/><circle cx="500.8" cy="437" r="4.15" fill="#d5ff56"/><circle cx="501" cy="445.3" r="4.15" fill="#96ff8e"/><circle cx="501.2" cy="453.6" r="4.15" fill="#90ff97"/><circle cx="501.5" cy="462" r="4.15" fill="#5affd8"/><circle cx="501.7" cy="470.3" r="4.15" fill="#78ffb4"/><circle cx="501.9" cy="478.6" r="4.15" fill="#7affb2"/><circle cx="502.1" cy="487" r="4.15" fill="#83ffa7"/><circle cx="502.4" cy="495.3" r="4.15" fill="#80ffaa"/><circle cx="502.6" cy="503.6" r="4.15" fill="#82ffa8"/><circle cx="502.8" cy="512" r="4.15" fill="#80ffaa"/><circle cx="503.1" cy="520.3" r="4.15" fill="#80ffa9"/><circle cx="503.3" cy="528.6" r="4.15" fill="#73ffba"/><circle cx="503.5" cy="537" r="4.15" fill="#7bffb0"/><circle cx="503.7" cy="545.3" r="4.15" fill="#78ffb4"/><circle cx="503.9" cy="553.6" r="4.15" fill="#95ff8f"/><circle cx="504.2" cy="561.9" r="4.15" fill="#8bff9d"/><circle cx="504.4" cy="570.3" r="4.15" fill="#8eff99"/><circle cx="504.6" cy="578.6" r="4.15" fill="#6cffc3"/><circle cx="504.8" cy="586.9" r="4.15" fill="#90ff97"/><circle cx="505" cy="595.3" r="4.15" fill="#a9ff71"/><circle cx="505.2" cy="603.6" r="4.15" fill="#a2ff7a"/><circle cx="505.4" cy="611.9" r="4.15" fill="#62ffd1"/><circle cx="505.6" cy="620.3" r="4.15" fill="#64ffcf"/><circle cx="505.9" cy="628.6" r="4.15" fill="#48ffe5"/><circle cx="506.1" cy="636.9" r="4.15" fill="#85ffa3"/><circle cx="506.3" cy="645.3" r="4.15" fill="#2afdff"/><circle cx="506.5" cy="653.6" r="4.15" fill="#2afaff"/><circle cx="506.7" cy="661.9" r="4.15" fill="#2afdff"/><circle cx="506.9" cy="670.3" r="4.15" fill="#26e8ff"/><circle cx="507.1" cy="678.6" r="4.15" fill="#14c8ff"/><circle cx="507.3" cy="686.9" r="4.15" fill="#63ffd0"/><circle cx="507.6" cy="695.3" r="4.15" fill="#63ffd0"/><circle cx="507.8" cy="703.6" r="4.15" fill="#52ffdf"/><circle cx="508" cy="711.9" r="4.15" fill="#00a4ff"/><circle cx="508.2" cy="720.3" r="4.15" fill="#27ecff"/><circle cx="508.4" cy="728.6" r="4.15" fill="#57ffdb"/><circle cx="508.6" cy="736.9" r="4.15" fill="#00a8ff"/><circle cx="508.8" cy="745.3" r="4.15" fill="#22d4ff"/><circle cx="509" cy="753.6" r="4.15" fill="#4bffe4"/><circle cx="509.3" cy="761.9" r="4.15" fill="#73ffbb"/><circle cx="509.6" cy="770.2" r="4.15" fill="#6dffc3"/><circle cx="509.9" cy="778.6" r="4.15" fill="#53ffdd"/><circle cx="510.2" cy="786.9" r="4.15" fill="#5fffd5"/><circle cx="510.6" cy="795.2" r="4.15" fill="#61ffd2"/><circle cx="510.9" cy="803.6" r="4.15" fill="#53ffde"/><circle cx="511.2" cy="811.9" r="4.15" fill="#53ffdd"/><circle cx="511.5" cy="820.2" r="4.15" fill="#25e1ff"/><circle cx="511.8" cy="828.6" r="4.15" fill="#23d7ff"/><circle cx="512.1" cy="836.9" r="4.15" fill="#24e0ff"/><circle cx="512.5" cy="845.2" r="4.15" fill="#26e7ff"/><circle cx="512.8" cy="853.6" r="4.15" fill="#29f8ff"/><circle cx="513.1" cy="861.9" r="4.15" fill="#27ecff"/><circle cx="513.4" cy="870.2" r="4.15" fill="#28f0ff"/><circle cx="513.7" cy="878.6" r="4.15" fill="#28f1ff"/><circle cx="514.1" cy="886.9" r="4.15" fill="#27eaff"/><circle cx="514.4" cy="895.2" r="4.15" fill="#26eaff"/><circle cx="514.7" cy="903.6" r="4.15" fill="#26eaff"/><circle cx="515" cy="911.9" r="4.15" fill="#1dd0ff"/><circle cx="515.3" cy="920.2" r="4.15" fill="#15c9ff"/><circle cx="515.6" cy="928.6" r="4.15" fill="#5cffd7"/><circle cx="516" cy="936.9" r="4.15" fill="#4dffe2"/><circle cx="516.3" cy="945.2" r="4.15" fill="#00afff"/><circle cx="516.6" cy="953.6" r="4.15" fill="#00b6ff"/><circle cx="492" cy="137" r="4.15" fill="#66ffcc"/><circle cx="491.7" cy="145.4" r="4.15" fill="#2afaff"/><circle cx="491.4" cy="153.7" r="4.15" fill="#a1ff7c"/><circle cx="491.2" cy="162.1" r="4.15" fill="#69ffc7"/><circle cx="490.9" cy="170.5" r="4.15" fill="#62ffd1"/><circle cx="490.6" cy="178.8" r="4.15" fill="#6affc6"/><circle cx="490.3" cy="187.2" r="4.15" fill="#66ffcc"/><circle cx="490" cy="195.5" r="4.15" fill="#68ffca"/><circle cx="489.8" cy="203.9" r="4.15" fill="#69ffc8"/><circle cx="489.5" cy="212.3" r="4.15" fill="#bbff68"/><circle cx="489.2" cy="220.6" r="4.15" fill="#b7ff6a"/><circle cx="488.9" cy="229" r="4.15" fill="#ffcb08"/><circle cx="488.7" cy="237.3" r="4.15" fill="#fff325"/><circle cx="488.4" cy="245.7" r="4.15" fill="#ffeb20"/><circle cx="488.1" cy="254" r="4.15" fill="#d6ff55"/><circle cx="487.8" cy="262.4" r="4.15" fill="#fcff2e"/><circle cx="487.5" cy="270.8" r="4.15" fill="#f2ff39"/><circle cx="487.3" cy="279.1" r="4.15" fill="#f8ff33"/><circle cx="487" cy="287.5" r="4.15" fill="#ff9f00"/><circle cx="486.7" cy="295.8" r="4.15" fill="#ffb000"/><circle cx="486.4" cy="304.2" r="4.15" fill="#ffa700"/><circle cx="486.1" cy="312.6" r="4.15" fill="#ffa900"/><circle cx="485.9" cy="320.9" r="4.15" fill="#ffcb07"/><circle cx="485.6" cy="329.3" r="4.15" fill="#ffee22"/><circle cx="485.4" cy="337.6" r="4.15" fill="#ffd511"/><circle cx="485.1" cy="346" r="4.15" fill="#ccff5f"/><circle cx="484.9" cy="354.4" r="4.15" fill="#bdff67"/><circle cx="484.7" cy="362.7" r="4.15" fill="#bbff68"/><circle cx="484.4" cy="371.1" r="4.15" fill="#ceff5d"/><circle cx="484.2" cy="379.4" r="4.15" fill="#c4ff64"/><circle cx="483.9" cy="387.8" r="4.15" fill="#bbff68"/><circle cx="483.7" cy="396.2" r="4.15" fill="#68ffc9"/><circle cx="483.4" cy="404.5" r="4.15" fill="#69ffc8"/><circle cx="483.2" cy="412.9" r="4.15" fill="#95ff8f"/><circle cx="483" cy="421.2" r="4.15" fill="#8cff9c"/><circle cx="482.7" cy="429.6" r="4.15" fill="#8eff99"/><circle cx="482.5" cy="438" r="4.15" fill="#68ffc9"/><circle cx="482.2" cy="446.3" r="4.15" fill="#75ffb8"/><circle cx="482" cy="454.7" r="4.15" fill="#6bffc5"/><circle cx="481.7" cy="463" r="4.15" fill="#6effc1"/><circle cx="481.5" cy="471.4" r="4.15" fill="#3effed"/><circle cx="481.3" cy="479.7" r="4.15" fill="#63ffd0"/><circle cx="481" cy="488.1" r="4.15" fill="#62ffd1"/><circle cx="480.8" cy="496.5" r="4.15" fill="#49ffe5"/><circle cx="480.5" cy="504.8" r="4.15" fill="#6fffbf"/><circle cx="480.3" cy="513.2" r="4.15" fill="#6affc6"/><circle cx="480" cy="521.5" r="4.15" fill="#6effc1"/><circle cx="479.8" cy="529.9" r="4.15" fill="#6effc1"/><circle cx="479.6" cy="538.3" r="4.15" fill="#9bff85"/><circle cx="479.3" cy="546.6" r="4.15" fill="#02b9ff"/><circle cx="479" cy="555" r="4.15" fill="#24e0ff"/><circle cx="478.8" cy="563.3" r="4.15" fill="#46ffe7"/><circle cx="478.5" cy="571.7" r="4.15" fill="#23dbff"/><circle cx="478.2" cy="580.1" r="4.15" fill="#27edff"/><circle cx="478" cy="588.4" r="4.15" fill="#2afbff"/><circle cx="477.7" cy="596.8" r="4.15" fill="#2dfffd"/><circle cx="477.4" cy="605.1" r="4.15" fill="#24dcff"/><circle cx="477.2" cy="613.5" r="4.15" fill="#23d8ff"/><circle cx="476.9" cy="621.9" r="4.15" fill="#29f4ff"/><circle cx="476.6" cy="630.2" r="4.15" fill="#2afdff"/><circle cx="476.4" cy="638.6" r="4.15" fill="#24dcff"/><circle cx="476.1" cy="646.9" r="4.15" fill="#40ffec"/><circle cx="475.8" cy="655.3" r="4.15" fill="#48ffe6"/><circle cx="475.6" cy="663.7" r="4.15" fill="#32fff8"/><circle cx="475.3" cy="672" r="4.15" fill="#10c4ff"/><circle cx="475" cy="680.4" r="4.15" fill="#4cffe3"/><circle cx="474.8" cy="688.7" r="4.15" fill="#4effe2"/><circle cx="474.5" cy="697.1" r="4.15" fill="#15c9ff"/><circle cx="474.2" cy="705.4" r="4.15" fill="#1acdff"/><circle cx="474" cy="713.8" r="4.15" fill="#27edff"/><circle cx="473.7" cy="722.2" r="4.15" fill="#27efff"/><circle cx="473.4" cy="730.5" r="4.15" fill="#43ffea"/><circle cx="473.2" cy="738.9" r="4.15" fill="#2afdff"/><circle cx="472.9" cy="747.2" r="4.15" fill="#27eaff"/><circle cx="472.6" cy="755.6" r="4.15" fill="#24e0ff"/><circle cx="472.4" cy="764" r="4.15" fill="#63ffd0"/><circle cx="472.1" cy="772.3" r="4.15" fill="#3fffed"/><circle cx="471.8" cy="780.7" r="4.15" fill="#29f7ff"/><circle cx="471.5" cy="789" r="4.15" fill="#28f2ff"/><circle cx="471.2" cy="797.4" r="4.15" fill="#26e6ff"/><circle cx="470.9" cy="805.8" r="4.15" fill="#4bffe3"/><circle cx="470.6" cy="814.1" r="4.15" fill="#61ffd2"/><circle cx="470.3" cy="822.5" r="4.15" fill="#5cffd7"/><circle cx="470" cy="830.8" r="4.15" fill="#6affc7"/><circle cx="469.7" cy="839.2" r="4.15" fill="#25e2ff"/><circle cx="469.4" cy="847.6" r="4.15" fill="#24dfff"/><circle cx="469.1" cy="855.9" r="4.15" fill="#26e8ff"/><circle cx="468.8" cy="864.3" r="4.15" fill="#23d9ff"/><circle cx="468.6" cy="872.6" r="4.15" fill="#5dffd6"/><circle cx="468.3" cy="881" r="4.15" fill="#009dff"/><circle cx="468" cy="889.3" r="4.15" fill="#20d2ff"/><circle cx="467.7" cy="897.7" r="4.15" fill="#27edff"/><circle cx="467.4" cy="906.1" r="4.15" fill="#26e6ff"/><circle cx="467.1" cy="914.4" r="4.15" fill="#28f0ff"/><circle cx="466.8" cy="922.8" r="4.15" fill="#2af9ff"/><circle cx="439.7" cy="134.5" r="4.15" fill="#57ffda"/><circle cx="440" cy="142.8" r="4.15" fill="#61ffd3"/><circle cx="440.3" cy="151.1" r="4.15" fill="#5dffd6"/><circle cx="440.6" cy="159.4" r="4.15" fill="#4bffe3"/><circle cx="440.9" cy="167.7" r="4.15" fill="#55ffdc"/><circle cx="441.2" cy="176" r="4.15" fill="#4bffe4"/><circle cx="441.5" cy="184.3" r="4.15" fill="#4bffe4"/><circle cx="441.8" cy="192.6" r="4.15" fill="#4effe1"/><circle cx="442.1" cy="200.9" r="4.15" fill="#2afdff"/><circle cx="442.4" cy="209.2" r="4.15" fill="#5dffd6"/><circle cx="442.7" cy="217.5" r="4.15" fill="#62ffd1"/><circle cx="442.9" cy="225.8" r="4.15" fill="#5dffd6"/><circle cx="443.2" cy="234.1" r="4.15" fill="#68ffca"/><circle cx="443.5" cy="242.4" r="4.15" fill="#63ffd0"/><circle cx="443.8" cy="250.7" r="4.15" fill="#92ff93"/><circle cx="444.1" cy="259" r="4.15" fill="#d8ff53"/><circle cx="444.4" cy="267.3" r="4.15" fill="#dfff4c"/><circle cx="444.7" cy="275.6" r="4.15" fill="#e9ff42"/><circle cx="445" cy="283.9" r="4.15" fill="#edff3e"/><circle cx="445.3" cy="292.2" r="4.15" fill="#edff3e"/><circle cx="445.6" cy="300.5" r="4.15" fill="#f3ff38"/><circle cx="445.9" cy="308.8" r="4.15" fill="#ffef23"/><circle cx="446.2" cy="317.1" r="4.15" fill="#ebff40"/><circle cx="446.5" cy="325.4" r="4.15" fill="#fffd2a"/><circle cx="446.7" cy="333.7" r="4.15" fill="#ffc101"/><circle cx="447" cy="342" r="4.15" fill="#fff928"/><circle cx="447.2" cy="350.3" r="4.15" fill="#f7ff33"/><circle cx="447.5" cy="358.6" r="4.15" fill="#e3ff48"/><circle cx="447.8" cy="366.9" r="4.15" fill="#eaff41"/><circle cx="448" cy="375.2" r="4.15" fill="#fffa28"/><circle cx="448.3" cy="383.4" r="4.15" fill="#fff626"/><circle cx="448.5" cy="391.7" r="4.15" fill="#ffe41d"/><circle cx="448.8" cy="400" r="4.15" fill="#cdff5e"/><circle cx="449.1" cy="408.3" r="4.15" fill="#c5ff63"/><circle cx="449.3" cy="416.6" r="4.15" fill="#bcff68"/><circle cx="449.6" cy="424.9" r="4.15" fill="#cfff5c"/><circle cx="449.8" cy="433.2" r="4.15" fill="#caff61"/><circle cx="450.1" cy="441.5" r="4.15" fill="#96ff8d"/><circle cx="450.4" cy="449.8" r="4.15" fill="#99ff89"/><circle cx="450.6" cy="458.1" r="4.15" fill="#97ff8b"/><circle cx="450.9" cy="466.4" r="4.15" fill="#91ff95"/><circle cx="451.1" cy="474.7" r="4.15" fill="#9bff85"/><circle cx="451.4" cy="483" r="4.15" fill="#88ffa0"/><circle cx="451.7" cy="491.3" r="4.15" fill="#8cff9c"/><circle cx="451.9" cy="499.6" r="4.15" fill="#bcff68"/><circle cx="452.2" cy="507.9" r="4.15" fill="#7cffaf"/><circle cx="452.4" cy="516.2" r="4.15" fill="#8dff9a"/><circle cx="452.7" cy="524.5" r="4.15" fill="#94ff91"/><circle cx="453" cy="532.8" r="4.15" fill="#93ff91"/><circle cx="453.2" cy="541.1" r="4.15" fill="#a0ff7d"/><circle cx="453.5" cy="549.4" r="4.15" fill="#abff70"/><circle cx="453.8" cy="557.7" r="4.15" fill="#8eff99"/><circle cx="454" cy="566" r="4.15" fill="#5bffd8"/><circle cx="454.3" cy="574.3" r="4.15" fill="#62ffd1"/><circle cx="454.6" cy="582.6" r="4.15" fill="#68ffc9"/><circle cx="454.9" cy="590.9" r="4.15" fill="#60ffd3"/><circle cx="455.1" cy="599.2" r="4.15" fill="#67ffcb"/><circle cx="455.4" cy="607.5" r="4.15" fill="#5affd8"/><circle cx="455.7" cy="615.8" r="4.15" fill="#7effac"/><circle cx="455.9" cy="624.1" r="4.15" fill="#31fff9"/><circle cx="456.2" cy="632.4" r="4.15" fill="#6bffc4"/><circle cx="456.5" cy="640.7" r="4.15" fill="#6dffc3"/><circle cx="456.8" cy="649" r="4.15" fill="#28f2ff"/><circle cx="457" cy="657.3" r="4.15" fill="#29f8ff"/><circle cx="457.3" cy="665.6" r="4.15" fill="#61ffd2"/><circle cx="457.6" cy="673.9" r="4.15" fill="#5bffd7"/><circle cx="457.9" cy="682.2" r="4.15" fill="#2bffff"/><circle cx="458.1" cy="690.5" r="4.15" fill="#2afcff"/><circle cx="458.4" cy="698.8" r="4.15" fill="#30fffa"/><circle cx="458.7" cy="707.1" r="4.15" fill="#2afdff"/><circle cx="458.9" cy="715.3" r="4.15" fill="#2afaff"/><circle cx="459.2" cy="723.6" r="4.15" fill="#29f5ff"/><circle cx="459.5" cy="731.9" r="4.15" fill="#59ffd9"/><circle cx="459.8" cy="740.2" r="4.15" fill="#50ffe0"/><circle cx="460" cy="748.5" r="4.15" fill="#42ffeb"/><circle cx="460.3" cy="756.8" r="4.15" fill="#41ffeb"/><circle cx="460.6" cy="765.1" r="4.15" fill="#28f2ff"/><circle cx="460.9" cy="773.4" r="4.15" fill="#00a2ff"/><circle cx="461.3" cy="781.7" r="4.15" fill="#29f7ff"/><circle cx="461.6" cy="790" r="4.15" fill="#24e0ff"/><circle cx="461.9" cy="798.3" r="4.15" fill="#25e4ff"/><circle cx="462.2" cy="806.6" r="4.15" fill="#22d6ff"/><circle cx="462.6" cy="814.9" r="4.15" fill="#27ebff"/><circle cx="462.9" cy="823.2" r="4.15" fill="#2af9ff"/><circle cx="463.2" cy="831.5" r="4.15" fill="#28f1ff"/><circle cx="463.5" cy="839.8" r="4.15" fill="#29f8ff"/><circle cx="463.9" cy="848.1" r="4.15" fill="#28f2ff"/><circle cx="464.2" cy="856.4" r="4.15" fill="#00adff"/><circle cx="464.5" cy="864.7" r="4.15" fill="#28f0ff"/><circle cx="464.8" cy="873" r="4.15" fill="#27edff"/><circle cx="465.2" cy="881.3" r="4.15" fill="#2afcff"/><circle cx="465.5" cy="889.6" r="4.15" fill="#4cffe3"/><circle cx="465.8" cy="897.9" r="4.15" fill="#47ffe7"/><circle cx="466.1" cy="906.2" r="4.15" fill="#2ffffb"/><circle cx="466.5" cy="914.5" r="4.15" fill="#27efff"/><circle cx="466.8" cy="922.8" r="4.15" fill="#00a5ff"/><circle cx="439.7" cy="134.5" r="4.15" fill="#53ffde"/><circle cx="439.5" cy="142.8" r="4.15" fill="#2afaff"/><circle cx="439.2" cy="151.1" r="4.15" fill="#2cfffe"/><circle cx="439" cy="159.4" r="4.15" fill="#29f7ff"/><circle cx="438.7" cy="167.6" r="4.15" fill="#2afaff"/><circle cx="438.5" cy="175.9" r="4.15" fill="#1ccfff"/><circle cx="438.3" cy="184.2" r="4.15" fill="#18ccff"/><circle cx="438" cy="192.5" r="4.15" fill="#23dbff"/><circle cx="437.8" cy="200.8" r="4.15" fill="#2bffff"/><circle cx="437.5" cy="209" r="4.15" fill="#29f5ff"/><circle cx="437.3" cy="217.3" r="4.15" fill="#67ffcb"/><circle cx="437" cy="225.6" r="4.15" fill="#d2ff59"/><circle cx="436.8" cy="233.9" r="4.15" fill="#c5ff63"/><circle cx="436.6" cy="242.2" r="4.15" fill="#ffee22"/><circle cx="436.3" cy="250.4" r="4.15" fill="#ffb800"/><circle cx="436.1" cy="258.7" r="4.15" fill="#ff9800"/><circle cx="435.8" cy="267" r="4.15" fill="#ff6600"/><circle cx="435.6" cy="275.3" r="4.15" fill="#ff6e00"/><circle cx="435.4" cy="283.6" r="4.15" fill="#f5ff36"/><circle cx="435.1" cy="291.9" r="4.15" fill="#faff30"/><circle cx="434.9" cy="300.1" r="4.15" fill="#b5ff6b"/><circle cx="434.6" cy="308.4" r="4.15" fill="#b7ff6a"/><circle cx="434.4" cy="316.7" r="4.15" fill="#c5ff63"/><circle cx="434.2" cy="325" r="4.15" fill="#bbff68"/><circle cx="433.9" cy="333.3" r="4.15" fill="#c3ff64"/><circle cx="433.7" cy="341.5" r="4.15" fill="#b5ff6b"/><circle cx="433.4" cy="349.8" r="4.15" fill="#b4ff6c"/><circle cx="433.2" cy="358.1" r="4.15" fill="#89ff9f"/><circle cx="433" cy="366.4" r="4.15" fill="#86ffa2"/><circle cx="432.7" cy="374.7" r="4.15" fill="#72ffbc"/><circle cx="432.5" cy="382.9" r="4.15" fill="#67ffcb"/><circle cx="432.3" cy="391.2" r="4.15" fill="#8dff9b"/><circle cx="432" cy="399.5" r="4.15" fill="#85ffa4"/><circle cx="431.8" cy="407.8" r="4.15" fill="#b3ff6c"/><circle cx="431.6" cy="416.1" r="4.15" fill="#75ffb7"/><circle cx="431.3" cy="424.3" r="4.15" fill="#76ffb7"/><circle cx="431.1" cy="432.6" r="4.15" fill="#70ffbe"/><circle cx="430.8" cy="440.9" r="4.15" fill="#29f9ff"/><circle cx="430.6" cy="449.2" r="4.15" fill="#5affd8"/><circle cx="430.4" cy="457.5" r="4.15" fill="#50ffe0"/><circle cx="430.1" cy="465.7" r="4.15" fill="#8eff99"/><circle cx="429.9" cy="474" r="4.15" fill="#8dff9a"/><circle cx="429.7" cy="482.3" r="4.15" fill="#5bffd7"/><circle cx="429.4" cy="490.6" r="4.15" fill="#5affd8"/><circle cx="429.2" cy="498.9" r="4.15" fill="#56ffdb"/><circle cx="428.9" cy="507.1" r="4.15" fill="#24ddff"/><circle cx="428.7" cy="515.4" r="4.15" fill="#23d7ff"/><circle cx="428.5" cy="523.7" r="4.15" fill="#22d4ff"/><circle cx="428.2" cy="532" r="4.15" fill="#24deff"/><circle cx="428" cy="540.3" r="4.15" fill="#28f1ff"/><circle cx="427.7" cy="548.5" r="4.15" fill="#4effe1"/><circle cx="427.5" cy="556.8" r="4.15" fill="#5affd8"/><circle cx="427.2" cy="565.1" r="4.15" fill="#28f1ff"/><circle cx="426.9" cy="573.4" r="4.15" fill="#25e1ff"/><circle cx="426.6" cy="581.7" r="4.15" fill="#26e8ff"/><circle cx="426.4" cy="589.9" r="4.15" fill="#26e7ff"/><circle cx="426.1" cy="598.2" r="4.15" fill="#23dcff"/><circle cx="425.8" cy="606.5" r="4.15" fill="#24dfff"/><circle cx="425.6" cy="614.8" r="4.15" fill="#20d2ff"/><circle cx="425.3" cy="623.1" r="4.15" fill="#04baff"/><circle cx="425" cy="631.3" r="4.15" fill="#0fc4ff"/><circle cx="424.7" cy="639.6" r="4.15" fill="#16caff"/><circle cx="424.5" cy="647.9" r="4.15" fill="#1ed1ff"/><circle cx="424.2" cy="656.2" r="4.15" fill="#16c9ff"/><circle cx="423.9" cy="664.5" r="4.15" fill="#11c5ff"/><circle cx="423.7" cy="672.7" r="4.15" fill="#0dc2ff"/><circle cx="423.4" cy="681" r="4.15" fill="#07bdff"/><circle cx="423.1" cy="689.3" r="4.15" fill="#12c6ff"/><circle cx="422.8" cy="697.6" r="4.15" fill="#0abfff"/><circle cx="422.6" cy="705.9" r="4.15" fill="#25e2ff"/><circle cx="422.3" cy="714.1" r="4.15" fill="#00a7ff"/><circle cx="422" cy="722.4" r="4.15" fill="#00a3ff"/><circle cx="421.8" cy="730.7" r="4.15" fill="#00a1ff"/><circle cx="421.5" cy="739" r="4.15" fill="#09beff"/><circle cx="421.2" cy="747.3" r="4.15" fill="#01b8ff"/><circle cx="420.9" cy="755.6" r="4.15" fill="#0ec2ff"/><circle cx="420.6" cy="763.8" r="4.15" fill="#26eaff"/><circle cx="420.3" cy="772.1" r="4.15" fill="#0ec3ff"/><circle cx="419.9" cy="780.4" r="4.15" fill="#28f1ff"/><circle cx="419.6" cy="788.7" r="4.15" fill="#1dcfff"/><circle cx="419.2" cy="797" r="4.15" fill="#29f6ff"/><circle cx="418.9" cy="805.2" r="4.15" fill="#0089ff"/><circle cx="418.6" cy="813.5" r="4.15" fill="#00a5ff"/><circle cx="418.2" cy="821.8" r="4.15" fill="#00b4ff"/><circle cx="417.9" cy="830.1" r="4.15" fill="#1ed0ff"/><circle cx="417.5" cy="838.4" r="4.15" fill="#29f6ff"/><circle cx="417.2" cy="846.6" r="4.15" fill="#28f0ff"/><circle cx="416.8" cy="854.9" r="4.15" fill="#22d4ff"/><circle cx="416.5" cy="863.2" r="4.15" fill="#02b8ff"/><circle cx="416.1" cy="871.5" r="4.15" fill="#25e2ff"/><circle cx="415.8" cy="879.8" r="4.15" fill="#00afff"/><circle cx="415.4" cy="888" r="4.15" fill="#00acff"/><circle cx="415.1" cy="896.3" r="4.15" fill="#00adff"/><circle cx="414.7" cy="904.6" r="4.15" fill="#27eeff"/><circle cx="414.4" cy="912.9" r="4.15" fill="#28f1ff"/><circle cx="414" cy="921.2" r="4.15" fill="#27edff"/><circle cx="413.7" cy="929.4" r="4.15" fill="#26e9ff"/><circle cx="387.7" cy="148.7" r="4.15" fill="#5cffd7"/><circle cx="388" cy="157" r="4.15" fill="#5affd8"/><circle cx="388.3" cy="165.3" r="4.15" fill="#58ffda"/><circle cx="388.6" cy="173.6" r="4.15" fill="#64ffcf"/><circle cx="388.9" cy="181.9" r="4.15" fill="#5bffd7"/><circle cx="389.3" cy="190.2" r="4.15" fill="#5effd5"/><circle cx="389.6" cy="198.5" r="4.15" fill="#4affe4"/><circle cx="389.9" cy="206.8" r="4.15" fill="#47ffe6"/><circle cx="390.2" cy="215.1" r="4.15" fill="#4affe4"/><circle cx="390.5" cy="223.4" r="4.15" fill="#49ffe5"/><circle cx="390.8" cy="231.7" r="4.15" fill="#3afff1"/><circle cx="391.1" cy="240" r="4.15" fill="#adff6f"/><circle cx="391.4" cy="248.3" r="4.15" fill="#a7ff72"/><circle cx="391.7" cy="256.6" r="4.15" fill="#fff727"/><circle cx="392" cy="264.9" r="4.15" fill="#ffec21"/><circle cx="392.4" cy="273.3" r="4.15" fill="#fff526"/><circle cx="392.7" cy="281.6" r="4.15" fill="#fff325"/><circle cx="393" cy="289.9" r="4.15" fill="#ffc000"/><circle cx="393.3" cy="298.2" r="4.15" fill="#ffd714"/><circle cx="393.6" cy="306.5" r="4.15" fill="#fdff2d"/><circle cx="393.9" cy="314.8" r="4.15" fill="#d2ff59"/><circle cx="394.2" cy="323.1" r="4.15" fill="#ffad00"/><circle cx="394.4" cy="331.4" r="4.15" fill="#ffcc09"/><circle cx="394.6" cy="339.7" r="4.15" fill="#fff928"/><circle cx="394.9" cy="348" r="4.15" fill="#fffb29"/><circle cx="395.1" cy="356.3" r="4.15" fill="#ffca07"/><circle cx="395.3" cy="364.6" r="4.15" fill="#fff727"/><circle cx="395.5" cy="372.9" r="4.15" fill="#ddff4d"/><circle cx="395.8" cy="381.2" r="4.15" fill="#ffe21c"/><circle cx="396" cy="389.5" r="4.15" fill="#f2ff38"/><circle cx="396.2" cy="397.8" r="4.15" fill="#c2ff65"/><circle cx="396.4" cy="406.2" r="4.15" fill="#eeff3d"/><circle cx="396.7" cy="414.5" r="4.15" fill="#f0ff3b"/><circle cx="396.9" cy="422.8" r="4.15" fill="#f1ff3a"/><circle cx="397.1" cy="431.1" r="4.15" fill="#eaff41"/><circle cx="397.4" cy="439.4" r="4.15" fill="#88ffa0"/><circle cx="397.6" cy="447.7" r="4.15" fill="#8eff99"/><circle cx="397.8" cy="456" r="4.15" fill="#86ffa2"/><circle cx="398" cy="464.3" r="4.15" fill="#91ff95"/><circle cx="398.3" cy="472.6" r="4.15" fill="#ccff5f"/><circle cx="398.5" cy="480.9" r="4.15" fill="#95ff8f"/><circle cx="398.7" cy="489.2" r="4.15" fill="#acff6f"/><circle cx="398.9" cy="497.5" r="4.15" fill="#b0ff6d"/><circle cx="399.2" cy="505.8" r="4.15" fill="#b6ff6a"/><circle cx="399.4" cy="514.1" r="4.15" fill="#aeff6e"/><circle cx="399.6" cy="522.4" r="4.15" fill="#a7ff73"/><circle cx="399.8" cy="530.7" r="4.15" fill="#baff68"/><circle cx="400.1" cy="539" r="4.15" fill="#96ff8e"/><circle cx="400.3" cy="547.4" r="4.15" fill="#8bff9c"/><circle cx="400.6" cy="555.7" r="4.15" fill="#87ffa1"/><circle cx="400.9" cy="564" r="4.15" fill="#94ff90"/><circle cx="401.1" cy="572.3" r="4.15" fill="#6cffc4"/><circle cx="401.4" cy="580.6" r="4.15" fill="#63ffd0"/><circle cx="401.7" cy="588.9" r="4.15" fill="#83ffa6"/><circle cx="401.9" cy="597.2" r="4.15" fill="#4affe4"/><circle cx="402.2" cy="605.5" r="4.15" fill="#59ffd9"/><circle cx="402.5" cy="613.8" r="4.15" fill="#4dffe2"/><circle cx="402.7" cy="622.1" r="4.15" fill="#88ffa0"/><circle cx="403" cy="630.4" r="4.15" fill="#64ffce"/><circle cx="403.3" cy="638.7" r="4.15" fill="#57ffda"/><circle cx="403.6" cy="647" r="4.15" fill="#63ffcf"/><circle cx="403.8" cy="655.3" r="4.15" fill="#5effd5"/><circle cx="404.1" cy="663.6" r="4.15" fill="#86ffa3"/><circle cx="404.4" cy="671.9" r="4.15" fill="#2bfeff"/><circle cx="404.6" cy="680.3" r="4.15" fill="#5bffd7"/><circle cx="404.9" cy="688.6" r="4.15" fill="#88ffa0"/><circle cx="405.2" cy="696.9" r="4.15" fill="#95ff8e"/><circle cx="405.4" cy="705.2" r="4.15" fill="#8eff99"/><circle cx="405.7" cy="713.5" r="4.15" fill="#95ff8f"/><circle cx="406" cy="721.8" r="4.15" fill="#55ffdc"/><circle cx="406.2" cy="730.1" r="4.15" fill="#3afff1"/><circle cx="406.5" cy="738.4" r="4.15" fill="#3cffef"/><circle cx="406.8" cy="746.7" r="4.15" fill="#84ffa6"/><circle cx="407" cy="755" r="4.15" fill="#29f7ff"/><circle cx="407.3" cy="763.3" r="4.15" fill="#28f0ff"/><circle cx="407.7" cy="771.6" r="4.15" fill="#60ffd4"/><circle cx="408" cy="779.9" r="4.15" fill="#5affd8"/><circle cx="408.3" cy="788.2" r="4.15" fill="#71ffbd"/><circle cx="408.6" cy="796.5" r="4.15" fill="#67ffca"/><circle cx="408.9" cy="804.8" r="4.15" fill="#29f5ff"/><circle cx="409.2" cy="813.2" r="4.15" fill="#2cfffe"/><circle cx="409.6" cy="821.5" r="4.15" fill="#23d9ff"/><circle cx="409.9" cy="829.8" r="4.15" fill="#26e6ff"/><circle cx="410.2" cy="838.1" r="4.15" fill="#14c8ff"/><circle cx="410.5" cy="846.4" r="4.15" fill="#25e1ff"/><circle cx="410.8" cy="854.7" r="4.15" fill="#4bffe3"/><circle cx="411.2" cy="863" r="4.15" fill="#25e3ff"/><circle cx="411.5" cy="871.3" r="4.15" fill="#2afbff"/><circle cx="411.8" cy="879.6" r="4.15" fill="#23dbff"/><circle cx="412.1" cy="887.9" r="4.15" fill="#22d6ff"/><circle cx="412.4" cy="896.2" r="4.15" fill="#24ddff"/><circle cx="412.7" cy="904.5" r="4.15" fill="#25e3ff"/><circle cx="413.1" cy="912.8" r="4.15" fill="#00aaff"/><circle cx="413.4" cy="921.1" r="4.15" fill="#14c8ff"/><circle cx="413.7" cy="929.4" r="4.15" fill="#00afff"/><circle cx="387.7" cy="148.7" r="4.15" fill="#58ffda"/><circle cx="387.4" cy="156.9" r="4.15" fill="#64ffcf"/><circle cx="387.1" cy="165.2" r="4.15" fill="#63ffd0"/><circle cx="386.7" cy="173.5" r="4.15" fill="#5affd8"/><circle cx="386.4" cy="181.8" r="4.15" fill="#5bffd8"/><circle cx="386.1" cy="190.1" r="4.15" fill="#36fff4"/><circle cx="385.8" cy="198.4" r="4.15" fill="#5bffd8"/><circle cx="385.5" cy="206.7" r="4.15" fill="#64ffce"/><circle cx="385.1" cy="215" r="4.15" fill="#59ffd9"/><circle cx="384.8" cy="223.3" r="4.15" fill="#88ffa0"/><circle cx="384.5" cy="231.5" r="4.15" fill="#92ff94"/><circle cx="384.2" cy="239.8" r="4.15" fill="#85ffa3"/><circle cx="383.9" cy="248.1" r="4.15" fill="#8dff9b"/><circle cx="383.5" cy="256.4" r="4.15" fill="#ffc906"/><circle cx="383.2" cy="264.7" r="4.15" fill="#ffe81f"/><circle cx="382.9" cy="273" r="4.15" fill="#e3ff48"/><circle cx="382.6" cy="281.3" r="4.15" fill="#fff525"/><circle cx="382.3" cy="289.6" r="4.15" fill="#fbff2f"/><circle cx="382" cy="297.9" r="4.15" fill="#fff727"/><circle cx="381.6" cy="306.1" r="4.15" fill="#fff928"/><circle cx="381.3" cy="314.4" r="4.15" fill="#e1ff4a"/><circle cx="381" cy="322.7" r="4.15" fill="#e8ff43"/><circle cx="380.8" cy="331" r="4.15" fill="#eaff41"/><circle cx="380.5" cy="339.3" r="4.15" fill="#d9ff52"/><circle cx="380.3" cy="347.6" r="4.15" fill="#faff30"/><circle cx="380" cy="355.9" r="4.15" fill="#fbff2f"/><circle cx="379.8" cy="364.2" r="4.15" fill="#dbff50"/><circle cx="379.5" cy="372.5" r="4.15" fill="#d7ff53"/><circle cx="379.3" cy="380.7" r="4.15" fill="#9dff83"/><circle cx="379" cy="389" r="4.15" fill="#9cff85"/><circle cx="378.7" cy="397.3" r="4.15" fill="#a2ff7a"/><circle cx="378.5" cy="405.6" r="4.15" fill="#9fff7f"/><circle cx="378.2" cy="413.9" r="4.15" fill="#67ffca"/><circle cx="378" cy="422.2" r="4.15" fill="#6affc6"/><circle cx="377.7" cy="430.5" r="4.15" fill="#6dffc3"/><circle cx="377.5" cy="438.8" r="4.15" fill="#6bffc5"/><circle cx="377.2" cy="447.1" r="4.15" fill="#68ffc9"/><circle cx="377" cy="455.3" r="4.15" fill="#66ffcb"/><circle cx="376.7" cy="463.6" r="4.15" fill="#65ffcd"/><circle cx="376.5" cy="471.9" r="4.15" fill="#75ffb7"/><circle cx="376.2" cy="480.2" r="4.15" fill="#72ffbc"/><circle cx="376" cy="488.5" r="4.15" fill="#67ffcb"/><circle cx="375.7" cy="496.8" r="4.15" fill="#71ffbd"/><circle cx="375.5" cy="505.1" r="4.15" fill="#75ffb7"/><circle cx="375.2" cy="513.4" r="4.15" fill="#6effc1"/><circle cx="375" cy="521.7" r="4.15" fill="#67ffcb"/><circle cx="374.7" cy="529.9" r="4.15" fill="#36fff5"/><circle cx="374.5" cy="538.2" r="4.15" fill="#5fffd5"/><circle cx="374.2" cy="546.5" r="4.15" fill="#22d5ff"/><circle cx="373.9" cy="554.8" r="4.15" fill="#04baff"/><circle cx="373.6" cy="563.1" r="4.15" fill="#00aeff"/><circle cx="373.4" cy="571.4" r="4.15" fill="#07bdff"/><circle cx="373.1" cy="579.7" r="4.15" fill="#1ccfff"/><circle cx="372.8" cy="588" r="4.15" fill="#00a4ff"/><circle cx="372.5" cy="596.3" r="4.15" fill="#16caff"/><circle cx="372.2" cy="604.5" r="4.15" fill="#26e8ff"/><circle cx="372" cy="612.8" r="4.15" fill="#25e1ff"/><circle cx="371.7" cy="621.1" r="4.15" fill="#25e1ff"/><circle cx="371.4" cy="629.4" r="4.15" fill="#24dfff"/><circle cx="371.1" cy="637.7" r="4.15" fill="#05bbff"/><circle cx="370.8" cy="646" r="4.15" fill="#30fffa"/><circle cx="370.6" cy="654.3" r="4.15" fill="#27ecff"/><circle cx="370.3" cy="662.6" r="4.15" fill="#36fff5"/><circle cx="370" cy="670.9" r="4.15" fill="#34fff7"/><circle cx="369.7" cy="679.1" r="4.15" fill="#3cffef"/><circle cx="369.4" cy="687.4" r="4.15" fill="#40ffec"/><circle cx="369.2" cy="695.7" r="4.15" fill="#27edff"/><circle cx="368.9" cy="704" r="4.15" fill="#24dfff"/><circle cx="368.6" cy="712.3" r="4.15" fill="#24dcff"/><circle cx="368.3" cy="720.6" r="4.15" fill="#24ddff"/><circle cx="368" cy="728.9" r="4.15" fill="#23dbff"/><circle cx="367.8" cy="737.2" r="4.15" fill="#1ed0ff"/><circle cx="367.5" cy="745.4" r="4.15" fill="#1bceff"/><circle cx="367.2" cy="753.7" r="4.15" fill="#23d9ff"/><circle cx="366.9" cy="762" r="4.15" fill="#00a9ff"/><circle cx="366.6" cy="770.3" r="4.15" fill="#25e3ff"/><circle cx="366.2" cy="778.6" r="4.15" fill="#22d4ff"/><circle cx="365.9" cy="786.9" r="4.15" fill="#1fd1ff"/><circle cx="365.6" cy="795.2" r="4.15" fill="#09beff"/><circle cx="365.2" cy="803.5" r="4.15" fill="#0170ff"/><circle cx="364.9" cy="811.8" r="4.15" fill="#008aff"/><circle cx="364.6" cy="820" r="4.15" fill="#00b3ff"/><circle cx="364.2" cy="828.3" r="4.15" fill="#1ccfff"/><circle cx="363.9" cy="836.6" r="4.15" fill="#01b8ff"/><circle cx="363.6" cy="844.9" r="4.15" fill="#29f5ff"/><circle cx="363.2" cy="853.2" r="4.15" fill="#0ac0ff"/><circle cx="362.9" cy="861.5" r="4.15" fill="#0bc0ff"/><circle cx="362.6" cy="869.8" r="4.15" fill="#03b9ff"/><circle cx="362.2" cy="878.1" r="4.15" fill="#0098ff"/><circle cx="361.9" cy="886.4" r="4.15" fill="#0272ff"/><circle cx="361.6" cy="894.6" r="4.15" fill="#009fff"/><circle cx="361.2" cy="902.9" r="4.15" fill="#00a3ff"/><circle cx="360.9" cy="911.2" r="4.15" fill="#00acff"/><circle cx="360.6" cy="919.5" r="4.15" fill="#0374ff"/><circle cx="360.2" cy="927.8" r="4.15" fill="#00adff"/><circle cx="359.9" cy="936.1" r="4.15" fill="#00b1ff"/><circle cx="334" cy="140.3" r="4.15" fill="#04baff"/><circle cx="334.3" cy="148.6" r="4.15" fill="#00acff"/><circle cx="334.5" cy="156.9" r="4.15" fill="#2afbff"/><circle cx="334.8" cy="165.2" r="4.15" fill="#2efffc"/><circle cx="335.1" cy="173.5" r="4.15" fill="#2afeff"/><circle cx="335.4" cy="181.8" r="4.15" fill="#33fff8"/><circle cx="335.6" cy="190.1" r="4.15" fill="#2afaff"/><circle cx="335.9" cy="198.4" r="4.15" fill="#70ffbf"/><circle cx="336.2" cy="206.7" r="4.15" fill="#70ffbf"/><circle cx="336.5" cy="214.9" r="4.15" fill="#6fffc0"/><circle cx="336.7" cy="223.2" r="4.15" fill="#91ff95"/><circle cx="337" cy="231.5" r="4.15" fill="#8fff98"/><circle cx="337.3" cy="239.8" r="4.15" fill="#94ff90"/><circle cx="337.5" cy="248.1" r="4.15" fill="#92ff93"/><circle cx="337.8" cy="256.4" r="4.15" fill="#baff69"/><circle cx="338.1" cy="264.7" r="4.15" fill="#b8ff6a"/><circle cx="338.4" cy="273" r="4.15" fill="#baff68"/><circle cx="338.6" cy="281.3" r="4.15" fill="#c0ff66"/><circle cx="338.9" cy="289.5" r="4.15" fill="#c3ff64"/><circle cx="339.2" cy="297.8" r="4.15" fill="#c5ff63"/><circle cx="339.4" cy="306.1" r="4.15" fill="#d4ff57"/><circle cx="339.7" cy="314.4" r="4.15" fill="#f3ff37"/><circle cx="340" cy="322.7" r="4.15" fill="#c9ff61"/><circle cx="340.2" cy="331" r="4.15" fill="#fffa28"/><circle cx="340.4" cy="339.3" r="4.15" fill="#feff2b"/><circle cx="340.7" cy="347.6" r="4.15" fill="#c3ff64"/><circle cx="340.9" cy="355.9" r="4.15" fill="#c0ff65"/><circle cx="341.1" cy="364.1" r="4.15" fill="#8fff97"/><circle cx="341.3" cy="372.4" r="4.15" fill="#69ffc7"/><circle cx="341.6" cy="380.7" r="4.15" fill="#72ffbc"/><circle cx="341.8" cy="389" r="4.15" fill="#71ffbd"/><circle cx="342" cy="397.3" r="4.15" fill="#70ffbe"/><circle cx="342.2" cy="405.6" r="4.15" fill="#72ffbc"/><circle cx="342.5" cy="413.9" r="4.15" fill="#72ffbc"/><circle cx="342.7" cy="422.2" r="4.15" fill="#6cffc4"/><circle cx="342.9" cy="430.5" r="4.15" fill="#6fffc0"/><circle cx="343.1" cy="438.7" r="4.15" fill="#63ffd0"/><circle cx="343.4" cy="447" r="4.15" fill="#5effd5"/><circle cx="343.6" cy="455.3" r="4.15" fill="#2dfffd"/><circle cx="343.8" cy="463.6" r="4.15" fill="#4fffe1"/><circle cx="344" cy="471.9" r="4.15" fill="#55ffdc"/><circle cx="344.3" cy="480.2" r="4.15" fill="#33fff7"/><circle cx="344.5" cy="488.5" r="4.15" fill="#60ffd4"/><circle cx="344.7" cy="496.8" r="4.15" fill="#63ffd0"/><circle cx="344.9" cy="505.1" r="4.15" fill="#47ffe6"/><circle cx="345.2" cy="513.4" r="4.15" fill="#33fff7"/><circle cx="345.4" cy="521.6" r="4.15" fill="#70ffbe"/><circle cx="345.6" cy="529.9" r="4.15" fill="#62ffd1"/><circle cx="345.8" cy="538.2" r="4.15" fill="#22d5ff"/><circle cx="346.1" cy="546.5" r="4.15" fill="#39fff2"/><circle cx="346.4" cy="554.8" r="4.15" fill="#35fff6"/><circle cx="346.6" cy="563.1" r="4.15" fill="#2efffc"/><circle cx="346.9" cy="571.4" r="4.15" fill="#57ffdb"/><circle cx="347.2" cy="579.7" r="4.15" fill="#50ffe0"/><circle cx="347.4" cy="588" r="4.15" fill="#2dfffd"/><circle cx="347.7" cy="596.2" r="4.15" fill="#0dc1ff"/><circle cx="347.9" cy="604.5" r="4.15" fill="#17caff"/><circle cx="348.2" cy="612.8" r="4.15" fill="#22d4ff"/><circle cx="348.5" cy="621.1" r="4.15" fill="#29f6ff"/><circle cx="348.7" cy="629.4" r="4.15" fill="#1acdff"/><circle cx="349" cy="637.7" r="4.15" fill="#1bceff"/><circle cx="349.3" cy="646" r="4.15" fill="#4affe4"/><circle cx="349.5" cy="654.3" r="4.15" fill="#42ffea"/><circle cx="349.8" cy="662.6" r="4.15" fill="#29f8ff"/><circle cx="350.1" cy="670.8" r="4.15" fill="#27edff"/><circle cx="350.3" cy="679.1" r="4.15" fill="#2afbff"/><circle cx="350.6" cy="687.4" r="4.15" fill="#29f8ff"/><circle cx="350.9" cy="695.7" r="4.15" fill="#23dbff"/><circle cx="351.1" cy="704" r="4.15" fill="#22d6ff"/><circle cx="351.4" cy="712.3" r="4.15" fill="#02b9ff"/><circle cx="351.6" cy="720.6" r="4.15" fill="#04baff"/><circle cx="351.9" cy="728.9" r="4.15" fill="#14c8ff"/><circle cx="352.2" cy="737.2" r="4.15" fill="#00adff"/><circle cx="352.4" cy="745.4" r="4.15" fill="#21d3ff"/><circle cx="352.7" cy="753.7" r="4.15" fill="#36fff4"/><circle cx="353" cy="762" r="4.15" fill="#4cffe3"/><circle cx="353.3" cy="770.3" r="4.15" fill="#28f0ff"/><circle cx="353.6" cy="778.6" r="4.15" fill="#51ffdf"/><circle cx="354" cy="786.9" r="4.15" fill="#29f4ff"/><circle cx="354.3" cy="795.2" r="4.15" fill="#2afbff"/><circle cx="354.6" cy="803.5" r="4.15" fill="#2efffc"/><circle cx="355" cy="811.8" r="4.15" fill="#64ffce"/><circle cx="355.3" cy="820" r="4.15" fill="#67ffca"/><circle cx="355.6" cy="828.3" r="4.15" fill="#2afdff"/><circle cx="356" cy="836.6" r="4.15" fill="#1acdff"/><circle cx="356.3" cy="844.9" r="4.15" fill="#2dfffd"/><circle cx="356.6" cy="853.2" r="4.15" fill="#24dfff"/><circle cx="356.9" cy="861.5" r="4.15" fill="#21d3ff"/><circle cx="357.3" cy="869.8" r="4.15" fill="#22d5ff"/><circle cx="357.6" cy="878.1" r="4.15" fill="#1bceff"/><circle cx="357.9" cy="886.4" r="4.15" fill="#17caff"/><circle cx="358.3" cy="894.6" r="4.15" fill="#23d8ff"/><circle cx="358.6" cy="902.9" r="4.15" fill="#28f2ff"/><circle cx="358.9" cy="911.2" r="4.15" fill="#27ebff"/><circle cx="359.2" cy="919.5" r="4.15" fill="#1acdff"/><circle cx="359.6" cy="927.8" r="4.15" fill="#23d8ff"/><circle cx="359.9" cy="936.1" r="4.15" fill="#39fff2"/><circle cx="334" cy="140.3" r="4.15" fill="#009eff"/><circle cx="333.7" cy="148.7" r="4.15" fill="#00a0ff"/><circle cx="333.4" cy="157" r="4.15" fill="#29f7ff"/><circle cx="333.1" cy="165.4" r="4.15" fill="#2dfffd"/><circle cx="332.7" cy="173.7" r="4.15" fill="#2afaff"/><circle cx="332.4" cy="182.1" r="4.15" fill="#5cffd7"/><circle cx="332.1" cy="190.4" r="4.15" fill="#64ffcf"/><circle cx="331.8" cy="198.8" r="4.15" fill="#5fffd5"/><circle cx="331.5" cy="207.1" r="4.15" fill="#67ffcb"/><circle cx="331.2" cy="215.5" r="4.15" fill="#62ffd1"/><circle cx="330.8" cy="223.8" r="4.15" fill="#ffba00"/><circle cx="330.5" cy="232.2" r="4.15" fill="#ffe01b"/><circle cx="330.2" cy="240.5" r="4.15" fill="#fffb29"/><circle cx="329.9" cy="248.9" r="4.15" fill="#ffd20e"/><circle cx="329.6" cy="257.2" r="4.15" fill="#daff51"/><circle cx="329.3" cy="265.6" r="4.15" fill="#e8ff43"/><circle cx="328.9" cy="273.9" r="4.15" fill="#deff4d"/><circle cx="328.6" cy="282.3" r="4.15" fill="#e8ff43"/><circle cx="328.3" cy="290.6" r="4.15" fill="#ffb500"/><circle cx="328" cy="299" r="4.15" fill="#fff324"/><circle cx="327.7" cy="307.3" r="4.15" fill="#fbff30"/><circle cx="327.4" cy="315.7" r="4.15" fill="#e5ff46"/><circle cx="327.1" cy="324" r="4.15" fill="#d0ff5b"/><circle cx="326.8" cy="332.4" r="4.15" fill="#d5ff56"/><circle cx="326.5" cy="340.7" r="4.15" fill="#cfff5c"/><circle cx="326.2" cy="349.1" r="4.15" fill="#bfff66"/><circle cx="325.9" cy="357.4" r="4.15" fill="#abff70"/><circle cx="325.6" cy="365.8" r="4.15" fill="#a2ff7a"/><circle cx="325.3" cy="374.1" r="4.15" fill="#aaff71"/><circle cx="325" cy="382.5" r="4.15" fill="#6fffc0"/><circle cx="324.8" cy="390.8" r="4.15" fill="#64ffcf"/><circle cx="324.5" cy="399.2" r="4.15" fill="#92ff93"/><circle cx="324.2" cy="407.5" r="4.15" fill="#8fff98"/><circle cx="323.9" cy="415.9" r="4.15" fill="#87ffa1"/><circle cx="323.6" cy="424.2" r="4.15" fill="#65ffcd"/><circle cx="323.3" cy="432.6" r="4.15" fill="#40ffec"/><circle cx="323" cy="440.9" r="4.15" fill="#49ffe5"/><circle cx="322.7" cy="449.3" r="4.15" fill="#43ffe9"/><circle cx="322.5" cy="457.6" r="4.15" fill="#58ffda"/><circle cx="322.2" cy="466" r="4.15" fill="#56ffdc"/><circle cx="321.9" cy="474.3" r="4.15" fill="#58ffda"/><circle cx="321.6" cy="482.7" r="4.15" fill="#65ffcd"/><circle cx="321.3" cy="491" r="4.15" fill="#59ffd9"/><circle cx="321" cy="499.4" r="4.15" fill="#61ffd2"/><circle cx="320.7" cy="507.7" r="4.15" fill="#5cffd7"/><circle cx="320.4" cy="516.1" r="4.15" fill="#63ffcf"/><circle cx="320.1" cy="524.4" r="4.15" fill="#34fff7"/><circle cx="319.9" cy="532.8" r="4.15" fill="#22d4ff"/><circle cx="319.6" cy="541.1" r="4.15" fill="#2bffff"/><circle cx="319.3" cy="549.5" r="4.15" fill="#42ffea"/><circle cx="319.1" cy="557.8" r="4.15" fill="#22d6ff"/><circle cx="318.8" cy="566.2" r="4.15" fill="#3bfff0"/><circle cx="318.5" cy="574.5" r="4.15" fill="#3effed"/><circle cx="318.3" cy="582.9" r="4.15" fill="#26e8ff"/><circle cx="318" cy="591.2" r="4.15" fill="#0bc0ff"/><circle cx="317.8" cy="599.6" r="4.15" fill="#07bdff"/><circle cx="317.5" cy="607.9" r="4.15" fill="#28f1ff"/><circle cx="317.2" cy="616.3" r="4.15" fill="#23daff"/><circle cx="317" cy="624.6" r="4.15" fill="#30fffa"/><circle cx="316.7" cy="633" r="4.15" fill="#3cffef"/><circle cx="316.5" cy="641.3" r="4.15" fill="#3fffed"/><circle cx="316.2" cy="649.7" r="4.15" fill="#4dffe2"/><circle cx="316" cy="658" r="4.15" fill="#4affe4"/><circle cx="315.7" cy="666.4" r="4.15" fill="#29f6ff"/><circle cx="315.4" cy="674.7" r="4.15" fill="#02b9ff"/><circle cx="315.2" cy="683" r="4.15" fill="#27eaff"/><circle cx="314.9" cy="691.4" r="4.15" fill="#09bfff"/><circle cx="314.7" cy="699.7" r="4.15" fill="#22d5ff"/><circle cx="314.4" cy="708.1" r="4.15" fill="#24deff"/><circle cx="314.1" cy="716.4" r="4.15" fill="#23d9ff"/><circle cx="313.9" cy="724.8" r="4.15" fill="#00abff"/><circle cx="313.6" cy="733.1" r="4.15" fill="#00b0ff"/><circle cx="313.4" cy="741.5" r="4.15" fill="#00b4ff"/><circle cx="313.1" cy="749.8" r="4.15" fill="#009fff"/><circle cx="312.9" cy="758.2" r="4.15" fill="#00a4ff"/><circle cx="312.5" cy="766.5" r="4.15" fill="#009eff"/><circle cx="312.1" cy="774.9" r="4.15" fill="#00b0ff"/><circle cx="311.7" cy="783.2" r="4.15" fill="#00b3ff"/><circle cx="311.3" cy="791.6" r="4.15" fill="#00b5ff"/><circle cx="310.9" cy="799.9" r="4.15" fill="#00b7ff"/><circle cx="310.5" cy="808.3" r="4.15" fill="#0096ff"/><circle cx="310.1" cy="816.6" r="4.15" fill="#0092ff"/><circle cx="309.7" cy="825" r="4.15" fill="#008cff"/><circle cx="309.2" cy="833.3" r="4.15" fill="#008cff"/><circle cx="308.8" cy="841.7" r="4.15" fill="#00acff"/><circle cx="308.4" cy="850" r="4.15" fill="#00a7ff"/><circle cx="308" cy="858.4" r="4.15" fill="#00aeff"/><circle cx="307.6" cy="866.7" r="4.15" fill="#01b7ff"/><circle cx="307.2" cy="875.1" r="4.15" fill="#0083ff"/><circle cx="306.8" cy="883.4" r="4.15" fill="#006bff"/><circle cx="306.4" cy="891.8" r="4.15" fill="#00afff"/><circle cx="306" cy="900.1" r="4.15" fill="#0052ff"/><circle cx="305.6" cy="908.5" r="4.15" fill="#0170ff"/><circle cx="305.2" cy="916.8" r="4.15" fill="#008bff"/><circle cx="304.8" cy="925.2" r="4.15" fill="#008dff"/><circle cx="304.4" cy="933.5" r="4.15" fill="#08bdff"/><circle cx="304" cy="941.9" r="4.15" fill="#07bdff"/><circle cx="303.6" cy="950.2" r="4.15" fill="#0fc4ff"/><circle cx="274" cy="129.5" r="4.15" fill="#34fff6"/><circle cx="274.3" cy="137.8" r="4.15" fill="#29f7ff"/><circle cx="274.6" cy="146.1" r="4.15" fill="#2cfffe"/><circle cx="274.9" cy="154.4" r="4.15" fill="#9bff85"/><circle cx="275.1" cy="162.7" r="4.15" fill="#9dff83"/><circle cx="275.4" cy="171" r="4.15" fill="#9bff85"/><circle cx="275.7" cy="179.3" r="4.15" fill="#99ff88"/><circle cx="276" cy="187.6" r="4.15" fill="#99ff88"/><circle cx="276.3" cy="195.9" r="4.15" fill="#96ff8e"/><circle cx="276.6" cy="204.1" r="4.15" fill="#95ff90"/><circle cx="276.9" cy="212.4" r="4.15" fill="#9cff85"/><circle cx="277.2" cy="220.7" r="4.15" fill="#9dff83"/><circle cx="277.4" cy="229" r="4.15" fill="#9eff81"/><circle cx="277.7" cy="237.3" r="4.15" fill="#9aff87"/><circle cx="278" cy="245.6" r="4.15" fill="#95ff8f"/><circle cx="278.3" cy="253.9" r="4.15" fill="#bdff67"/><circle cx="278.6" cy="262.2" r="4.15" fill="#bdff67"/><circle cx="278.9" cy="270.5" r="4.15" fill="#b7ff6a"/><circle cx="279.2" cy="278.8" r="4.15" fill="#baff68"/><circle cx="279.5" cy="287" r="4.15" fill="#b3ff6c"/><circle cx="279.7" cy="295.3" r="4.15" fill="#b8ff69"/><circle cx="280" cy="303.6" r="4.15" fill="#b5ff6b"/><circle cx="280.3" cy="311.9" r="4.15" fill="#acff6f"/><circle cx="280.6" cy="320.2" r="4.15" fill="#deff4d"/><circle cx="280.9" cy="328.5" r="4.15" fill="#deff4d"/><circle cx="281.1" cy="336.8" r="4.15" fill="#eeff3d"/><circle cx="281.4" cy="345.1" r="4.15" fill="#e2ff49"/><circle cx="281.6" cy="353.4" r="4.15" fill="#dfff4c"/><circle cx="281.9" cy="361.6" r="4.15" fill="#73ffba"/><circle cx="282.1" cy="369.9" r="4.15" fill="#9fff7f"/><circle cx="282.4" cy="378.2" r="4.15" fill="#a0ff7d"/><circle cx="282.6" cy="386.5" r="4.15" fill="#9dff81"/><circle cx="282.9" cy="394.8" r="4.15" fill="#9cff84"/><circle cx="283.1" cy="403.1" r="4.15" fill="#a8ff72"/><circle cx="283.4" cy="411.4" r="4.15" fill="#a2ff7b"/><circle cx="283.6" cy="419.7" r="4.15" fill="#70ffbf"/><circle cx="283.9" cy="428" r="4.15" fill="#72ffbc"/><circle cx="284.1" cy="436.3" r="4.15" fill="#6dffc2"/><circle cx="284.4" cy="444.5" r="4.15" fill="#8dff9b"/><circle cx="284.6" cy="452.8" r="4.15" fill="#6affc7"/><circle cx="284.9" cy="461.1" r="4.15" fill="#6dffc2"/><circle cx="285.1" cy="469.4" r="4.15" fill="#5cffd7"/><circle cx="285.4" cy="477.7" r="4.15" fill="#64ffcf"/><circle cx="285.6" cy="486" r="4.15" fill="#61ffd2"/><circle cx="285.9" cy="494.3" r="4.15" fill="#67ffca"/><circle cx="286.2" cy="502.6" r="4.15" fill="#5dffd6"/><circle cx="286.4" cy="510.9" r="4.15" fill="#67ffca"/><circle cx="286.7" cy="519.2" r="4.15" fill="#62ffd2"/><circle cx="286.9" cy="527.4" r="4.15" fill="#29f8ff"/><circle cx="287.2" cy="535.7" r="4.15" fill="#2afaff"/><circle cx="287.4" cy="544" r="4.15" fill="#62ffd2"/><circle cx="287.7" cy="552.3" r="4.15" fill="#68ffc9"/><circle cx="288" cy="560.6" r="4.15" fill="#2afdff"/><circle cx="288.3" cy="568.9" r="4.15" fill="#59ffd9"/><circle cx="288.5" cy="577.2" r="4.15" fill="#23d9ff"/><circle cx="288.8" cy="585.5" r="4.15" fill="#29f8ff"/><circle cx="289.1" cy="593.8" r="4.15" fill="#26e9ff"/><circle cx="289.4" cy="602.1" r="4.15" fill="#28f0ff"/><circle cx="289.7" cy="610.3" r="4.15" fill="#16c9ff"/><circle cx="289.9" cy="618.6" r="4.15" fill="#25e1ff"/><circle cx="290.2" cy="626.9" r="4.15" fill="#25e1ff"/><circle cx="290.5" cy="635.2" r="4.15" fill="#05bbff"/><circle cx="290.8" cy="643.5" r="4.15" fill="#27eeff"/><circle cx="291.1" cy="651.8" r="4.15" fill="#28f0ff"/><circle cx="291.3" cy="660.1" r="4.15" fill="#29f8ff"/><circle cx="291.6" cy="668.4" r="4.15" fill="#28efff"/><circle cx="291.9" cy="676.7" r="4.15" fill="#0cc1ff"/><circle cx="292.2" cy="685" r="4.15" fill="#08beff"/><circle cx="292.5" cy="693.2" r="4.15" fill="#55ffdc"/><circle cx="292.7" cy="701.5" r="4.15" fill="#24ddff"/><circle cx="293" cy="709.8" r="4.15" fill="#23d9ff"/><circle cx="293.3" cy="718.1" r="4.15" fill="#1fd1ff"/><circle cx="293.6" cy="726.4" r="4.15" fill="#03b9ff"/><circle cx="293.9" cy="734.7" r="4.15" fill="#08bdff"/><circle cx="294.1" cy="743" r="4.15" fill="#01b7ff"/><circle cx="294.4" cy="751.3" r="4.15" fill="#00afff"/><circle cx="294.7" cy="759.6" r="4.15" fill="#05bbff"/><circle cx="295.1" cy="767.9" r="4.15" fill="#00a8ff"/><circle cx="295.5" cy="776.1" r="4.15" fill="#00b0ff"/><circle cx="295.9" cy="784.4" r="4.15" fill="#1acdff"/><circle cx="296.2" cy="792.7" r="4.15" fill="#00a7ff"/><circle cx="296.6" cy="801" r="4.15" fill="#00acff"/><circle cx="297" cy="809.3" r="4.15" fill="#06bcff"/><circle cx="297.4" cy="817.6" r="4.15" fill="#02b8ff"/><circle cx="297.8" cy="825.9" r="4.15" fill="#07bdff"/><circle cx="298.2" cy="834.2" r="4.15" fill="#00b1ff"/><circle cx="298.6" cy="842.5" r="4.15" fill="#00b3ff"/><circle cx="299" cy="850.7" r="4.15" fill="#009cff"/><circle cx="299.3" cy="859" r="4.15" fill="#009bff"/><circle cx="299.7" cy="867.3" r="4.15" fill="#01b7ff"/><circle cx="300.1" cy="875.6" r="4.15" fill="#00b2ff"/><circle cx="300.5" cy="883.9" r="4.15" fill="#00acff"/><circle cx="300.9" cy="892.2" r="4.15" fill="#00a8ff"/><circle cx="301.3" cy="900.5" r="4.15" fill="#01b8ff"/><circle cx="301.7" cy="908.8" r="4.15" fill="#00b2ff"/><circle cx="302.1" cy="917.1" r="4.15" fill="#05bbff"/><circle cx="302.4" cy="925.4" r="4.15" fill="#00b6ff"/><circle cx="302.8" cy="933.6" r="4.15" fill="#03b9ff"/><circle cx="303.2" cy="941.9" r="4.15" fill="#05bbff"/><circle cx="303.6" cy="950.2" r="4.15" fill="#00b5ff"/><circle cx="274" cy="129.5" r="4.15" fill="#23daff"/><circle cx="273.7" cy="137.9" r="4.15" fill="#20d2ff"/><circle cx="273.4" cy="146.2" r="4.15" fill="#25e2ff"/><circle cx="273.1" cy="154.6" r="4.15" fill="#bdff67"/><circle cx="272.8" cy="162.9" r="4.15" fill="#c7ff62"/><circle cx="272.5" cy="171.3" r="4.15" fill="#b1ff6d"/><circle cx="272.2" cy="179.6" r="4.15" fill="#ffcc08"/><circle cx="271.9" cy="188" r="4.15" fill="#fff626"/><circle cx="271.5" cy="196.3" r="4.15" fill="#feff2c"/><circle cx="271.2" cy="204.7" r="4.15" fill="#faff30"/><circle cx="270.9" cy="213" r="4.15" fill="#fbff2f"/><circle cx="270.6" cy="221.4" r="4.15" fill="#ffdf1a"/><circle cx="270.3" cy="229.7" r="4.15" fill="#ffdf1a"/><circle cx="270" cy="238.1" r="4.15" fill="#fff124"/><circle cx="269.7" cy="246.4" r="4.15" fill="#d2ff59"/><circle cx="269.4" cy="254.8" r="4.15" fill="#e0ff4b"/><circle cx="269.1" cy="263.1" r="4.15" fill="#e3ff48"/><circle cx="268.8" cy="271.5" r="4.15" fill="#e4ff47"/><circle cx="268.5" cy="279.8" r="4.15" fill="#e3ff48"/><circle cx="268.2" cy="288.2" r="4.15" fill="#e6ff45"/><circle cx="267.9" cy="296.5" r="4.15" fill="#e4ff47"/><circle cx="267.6" cy="304.9" r="4.15" fill="#deff4d"/><circle cx="267.2" cy="313.2" r="4.15" fill="#feff2b"/><circle cx="266.9" cy="321.6" r="4.15" fill="#f6ff34"/><circle cx="266.6" cy="329.9" r="4.15" fill="#feff2c"/><circle cx="266.3" cy="338.3" r="4.15" fill="#ffff2b"/><circle cx="266" cy="346.6" r="4.15" fill="#ffff2b"/><circle cx="265.6" cy="355" r="4.15" fill="#f7ff33"/><circle cx="265.3" cy="363.3" r="4.15" fill="#ffff2b"/><circle cx="265" cy="371.7" r="4.15" fill="#fffa28"/><circle cx="264.7" cy="380" r="4.15" fill="#baff68"/><circle cx="264.4" cy="388.4" r="4.15" fill="#95ff90"/><circle cx="264" cy="396.7" r="4.15" fill="#98ff8a"/><circle cx="263.7" cy="405.1" r="4.15" fill="#9eff81"/><circle cx="263.4" cy="413.4" r="4.15" fill="#93ff93"/><circle cx="263.1" cy="421.8" r="4.15" fill="#91ff96"/><circle cx="262.7" cy="430.1" r="4.15" fill="#74ffba"/><circle cx="262.4" cy="438.5" r="4.15" fill="#77ffb6"/><circle cx="262.1" cy="446.8" r="4.15" fill="#79ffb3"/><circle cx="261.8" cy="455.2" r="4.15" fill="#72ffbc"/><circle cx="261.5" cy="463.5" r="4.15" fill="#7cffaf"/><circle cx="261.1" cy="471.9" r="4.15" fill="#6fffbf"/><circle cx="260.8" cy="480.2" r="4.15" fill="#78ffb4"/><circle cx="260.5" cy="488.6" r="4.15" fill="#6dffc2"/><circle cx="260.2" cy="496.9" r="4.15" fill="#6cffc4"/><circle cx="259.9" cy="505.3" r="4.15" fill="#6effc1"/><circle cx="259.5" cy="513.6" r="4.15" fill="#6dffc3"/><circle cx="259.2" cy="522" r="4.15" fill="#74ffb9"/><circle cx="258.9" cy="530.3" r="4.15" fill="#75ffb8"/><circle cx="258.6" cy="538.7" r="4.15" fill="#6bffc5"/><circle cx="258.3" cy="547" r="4.15" fill="#78ffb4"/><circle cx="258" cy="555.4" r="4.15" fill="#6effc1"/><circle cx="257.8" cy="563.7" r="4.15" fill="#6bffc5"/><circle cx="257.5" cy="572.1" r="4.15" fill="#5dffd6"/><circle cx="257.2" cy="580.4" r="4.15" fill="#67ffca"/><circle cx="257" cy="588.8" r="4.15" fill="#6affc6"/><circle cx="256.7" cy="597.1" r="4.15" fill="#5dffd6"/><circle cx="256.4" cy="605.5" r="4.15" fill="#5affd8"/><circle cx="256.2" cy="613.8" r="4.15" fill="#68ffc9"/><circle cx="255.9" cy="622.2" r="4.15" fill="#7dffad"/><circle cx="255.6" cy="630.5" r="4.15" fill="#6bffc5"/><circle cx="255.4" cy="638.9" r="4.15" fill="#63ffcf"/><circle cx="255.1" cy="647.2" r="4.15" fill="#66ffcc"/><circle cx="254.8" cy="655.6" r="4.15" fill="#61ffd3"/><circle cx="254.6" cy="663.9" r="4.15" fill="#76ffb7"/><circle cx="254.3" cy="672.3" r="4.15" fill="#70ffbe"/><circle cx="254" cy="680.6" r="4.15" fill="#4fffe0"/><circle cx="253.8" cy="689" r="4.15" fill="#88ffa0"/><circle cx="253.5" cy="697.3" r="4.15" fill="#28f1ff"/><circle cx="253.2" cy="705.7" r="4.15" fill="#2afcff"/><circle cx="253" cy="714" r="4.15" fill="#28f0ff"/><circle cx="252.7" cy="722.4" r="4.15" fill="#28f3ff"/><circle cx="252.4" cy="730.7" r="4.15" fill="#27efff"/><circle cx="252.2" cy="739.1" r="4.15" fill="#02b8ff"/><circle cx="251.9" cy="747.4" r="4.15" fill="#00abff"/><circle cx="251.6" cy="755.8" r="4.15" fill="#00b3ff"/><circle cx="251.3" cy="764.1" r="4.15" fill="#1fd2ff"/><circle cx="251" cy="772.5" r="4.15" fill="#23dbff"/><circle cx="250.6" cy="780.8" r="4.15" fill="#23dbff"/><circle cx="250.2" cy="789.2" r="4.15" fill="#22d5ff"/><circle cx="249.9" cy="797.5" r="4.15" fill="#00aeff"/><circle cx="249.5" cy="805.9" r="4.15" fill="#00aeff"/><circle cx="249.2" cy="814.2" r="4.15" fill="#28f0ff"/><circle cx="248.8" cy="822.6" r="4.15" fill="#28f3ff"/><circle cx="248.4" cy="830.9" r="4.15" fill="#28efff"/><circle cx="248.1" cy="839.3" r="4.15" fill="#01b7ff"/><circle cx="247.7" cy="847.6" r="4.15" fill="#0bc0ff"/><circle cx="247.4" cy="856" r="4.15" fill="#09bfff"/><circle cx="247" cy="864.3" r="4.15" fill="#03b9ff"/><circle cx="246.7" cy="872.7" r="4.15" fill="#22d5ff"/><circle cx="246.3" cy="881" r="4.15" fill="#008cff"/><circle cx="245.9" cy="889.4" r="4.15" fill="#00a6ff"/><circle cx="245.6" cy="897.7" r="4.15" fill="#00a0ff"/><circle cx="245.2" cy="906.1" r="4.15" fill="#00abff"/><circle cx="244.9" cy="914.4" r="4.15" fill="#00abff"/><circle cx="244.5" cy="922.8" r="4.15" fill="#00a2ff"/><circle cx="219.3" cy="140.3" r="4.15" fill="#2afdff"/><circle cx="219.5" cy="148.7" r="4.15" fill="#2bfeff"/><circle cx="219.8" cy="157" r="4.15" fill="#29f4ff"/><circle cx="220" cy="165.3" r="4.15" fill="#29f5ff"/><circle cx="220.2" cy="173.6" r="4.15" fill="#29f8ff"/><circle cx="220.5" cy="182" r="4.15" fill="#2bffff"/><circle cx="220.7" cy="190.3" r="4.15" fill="#28f2ff"/><circle cx="221" cy="198.6" r="4.15" fill="#2afcff"/><circle cx="221.2" cy="206.9" r="4.15" fill="#2afaff"/><circle cx="221.4" cy="215.3" r="4.15" fill="#87ffa1"/><circle cx="221.7" cy="223.6" r="4.15" fill="#b4ff6c"/><circle cx="221.9" cy="231.9" r="4.15" fill="#bbff68"/><circle cx="222.1" cy="240.2" r="4.15" fill="#fcff2e"/><circle cx="222.4" cy="248.6" r="4.15" fill="#fff124"/><circle cx="222.6" cy="256.9" r="4.15" fill="#b8ff69"/><circle cx="222.8" cy="265.2" r="4.15" fill="#fff425"/><circle cx="223.1" cy="273.5" r="4.15" fill="#fff224"/><circle cx="223.3" cy="281.9" r="4.15" fill="#fcff2e"/><circle cx="223.6" cy="290.2" r="4.15" fill="#fff224"/><circle cx="223.8" cy="298.5" r="4.15" fill="#ffee22"/><circle cx="224" cy="306.8" r="4.15" fill="#ffd511"/><circle cx="224.3" cy="315.1" r="4.15" fill="#f9ff31"/><circle cx="224.5" cy="323.5" r="4.15" fill="#ffeb20"/><circle cx="224.8" cy="331.8" r="4.15" fill="#fff928"/><circle cx="225" cy="340.1" r="4.15" fill="#d6ff55"/><circle cx="225.3" cy="348.4" r="4.15" fill="#ecff3f"/><circle cx="225.6" cy="356.8" r="4.15" fill="#daff51"/><circle cx="225.8" cy="365.1" r="4.15" fill="#e8ff43"/><circle cx="226.1" cy="373.4" r="4.15" fill="#d8ff53"/><circle cx="226.4" cy="381.7" r="4.15" fill="#daff51"/><circle cx="226.6" cy="390.1" r="4.15" fill="#c0ff66"/><circle cx="226.9" cy="398.4" r="4.15" fill="#b2ff6d"/><circle cx="227.2" cy="406.7" r="4.15" fill="#b8ff6a"/><circle cx="227.4" cy="415" r="4.15" fill="#c6ff63"/><circle cx="227.7" cy="423.4" r="4.15" fill="#c1ff65"/><circle cx="227.9" cy="431.7" r="4.15" fill="#c5ff63"/><circle cx="228.2" cy="440" r="4.15" fill="#8dff9a"/><circle cx="228.5" cy="448.3" r="4.15" fill="#7dffae"/><circle cx="228.7" cy="456.7" r="4.15" fill="#80ffaa"/><circle cx="229" cy="465" r="4.15" fill="#8aff9e"/><circle cx="229.3" cy="473.3" r="4.15" fill="#88ffa0"/><circle cx="229.5" cy="481.6" r="4.15" fill="#7dffae"/><circle cx="229.8" cy="489.9" r="4.15" fill="#85ffa4"/><circle cx="230.1" cy="498.3" r="4.15" fill="#80ffaa"/><circle cx="230.3" cy="506.6" r="4.15" fill="#84ffa6"/><circle cx="230.6" cy="514.9" r="4.15" fill="#7effac"/><circle cx="230.9" cy="523.2" r="4.15" fill="#7dffae"/><circle cx="231.1" cy="531.6" r="4.15" fill="#8dff9a"/><circle cx="231.4" cy="539.9" r="4.15" fill="#60ffd3"/><circle cx="231.6" cy="548.2" r="4.15" fill="#6affc7"/><circle cx="231.8" cy="556.5" r="4.15" fill="#5cffd7"/><circle cx="232.1" cy="564.9" r="4.15" fill="#92ff94"/><circle cx="232.3" cy="573.2" r="4.15" fill="#6effc1"/><circle cx="232.5" cy="581.5" r="4.15" fill="#73ffbb"/><circle cx="232.8" cy="589.8" r="4.15" fill="#6fffc0"/><circle cx="233" cy="598.2" r="4.15" fill="#77ffb5"/><circle cx="233.2" cy="606.5" r="4.15" fill="#6effc1"/><circle cx="233.4" cy="614.8" r="4.15" fill="#95ff8f"/><circle cx="233.7" cy="623.1" r="4.15" fill="#92ff94"/><circle cx="233.9" cy="631.5" r="4.15" fill="#8cff9c"/><circle cx="234.1" cy="639.8" r="4.15" fill="#75ffb8"/><circle cx="234.3" cy="648.1" r="4.15" fill="#77ffb5"/><circle cx="234.6" cy="656.4" r="4.15" fill="#7effac"/><circle cx="234.8" cy="664.7" r="4.15" fill="#90ff97"/><circle cx="235" cy="673.1" r="4.15" fill="#73ffbb"/><circle cx="235.3" cy="681.4" r="4.15" fill="#93ff92"/><circle cx="235.5" cy="689.7" r="4.15" fill="#92ff94"/><circle cx="235.7" cy="698" r="4.15" fill="#6effc1"/><circle cx="235.9" cy="706.4" r="4.15" fill="#1dcfff"/><circle cx="236.2" cy="714.7" r="4.15" fill="#1bceff"/><circle cx="236.4" cy="723" r="4.15" fill="#0abfff"/><circle cx="236.6" cy="731.3" r="4.15" fill="#06bcff"/><circle cx="236.8" cy="739.7" r="4.15" fill="#05bbff"/><circle cx="237.1" cy="748" r="4.15" fill="#28f1ff"/><circle cx="237.3" cy="756.3" r="4.15" fill="#1fd2ff"/><circle cx="237.6" cy="764.6" r="4.15" fill="#23dbff"/><circle cx="238" cy="773" r="4.15" fill="#23d8ff"/><circle cx="238.3" cy="781.3" r="4.15" fill="#1fd2ff"/><circle cx="238.7" cy="789.6" r="4.15" fill="#2afcff"/><circle cx="239.1" cy="797.9" r="4.15" fill="#22d6ff"/><circle cx="239.4" cy="806.3" r="4.15" fill="#22d4ff"/><circle cx="239.8" cy="814.6" r="4.15" fill="#22d4ff"/><circle cx="240.1" cy="822.9" r="4.15" fill="#22d7ff"/><circle cx="240.5" cy="831.2" r="4.15" fill="#27efff"/><circle cx="240.9" cy="839.5" r="4.15" fill="#0abfff"/><circle cx="241.2" cy="847.9" r="4.15" fill="#07bcff"/><circle cx="241.6" cy="856.2" r="4.15" fill="#01b7ff"/><circle cx="242" cy="864.5" r="4.15" fill="#00b6ff"/><circle cx="242.3" cy="872.8" r="4.15" fill="#01b8ff"/><circle cx="242.7" cy="881.2" r="4.15" fill="#0cc1ff"/><circle cx="243" cy="889.5" r="4.15" fill="#01b7ff"/><circle cx="243.4" cy="897.8" r="4.15" fill="#01b7ff"/><circle cx="243.8" cy="906.1" r="4.15" fill="#01b7ff"/><circle cx="244.1" cy="914.5" r="4.15" fill="#00b3ff"/><circle cx="244.5" cy="922.8" r="4.15" fill="#0cc1ff"/><circle cx="219.3" cy="140.3" r="4.15" fill="#18cbff"/><circle cx="218.9" cy="148.7" r="4.15" fill="#22d5ff"/><circle cx="218.5" cy="157" r="4.15" fill="#2cfffe"/><circle cx="218" cy="165.4" r="4.15" fill="#28f4ff"/><circle cx="217.6" cy="173.8" r="4.15" fill="#2afaff"/><circle cx="217.2" cy="182.1" r="4.15" fill="#29f6ff"/><circle cx="216.8" cy="190.5" r="4.15" fill="#87ffa1"/><circle cx="216.4" cy="198.8" r="4.15" fill="#86ffa2"/><circle cx="216" cy="207.2" r="4.15" fill="#85ffa4"/><circle cx="215.5" cy="215.5" r="4.15" fill="#91ff95"/><circle cx="215.1" cy="223.9" r="4.15" fill="#afff6e"/><circle cx="214.7" cy="232.2" r="4.15" fill="#b2ff6c"/><circle cx="214.3" cy="240.6" r="4.15" fill="#a2ff7b"/><circle cx="213.9" cy="248.9" r="4.15" fill="#d8ff53"/><circle cx="213.4" cy="257.3" r="4.15" fill="#cfff5c"/><circle cx="213" cy="265.6" r="4.15" fill="#d7ff54"/><circle cx="212.6" cy="274" r="4.15" fill="#d5ff56"/><circle cx="212.2" cy="282.3" r="4.15" fill="#cfff5c"/><circle cx="211.8" cy="290.7" r="4.15" fill="#ffff2b"/><circle cx="211.3" cy="299" r="4.15" fill="#ccff5e"/><circle cx="210.9" cy="307.4" r="4.15" fill="#deff4d"/><circle cx="210.5" cy="315.7" r="4.15" fill="#e1ff4a"/><circle cx="210.2" cy="324.1" r="4.15" fill="#a0ff7e"/><circle cx="209.9" cy="332.4" r="4.15" fill="#a1ff7c"/><circle cx="209.7" cy="340.8" r="4.15" fill="#a6ff73"/><circle cx="209.5" cy="349.1" r="4.15" fill="#acff70"/><circle cx="209.2" cy="357.5" r="4.15" fill="#b5ff6b"/><circle cx="209" cy="365.8" r="4.15" fill="#b8ff6a"/><circle cx="208.7" cy="374.2" r="4.15" fill="#afff6e"/><circle cx="208.5" cy="382.6" r="4.15" fill="#b7ff6a"/><circle cx="208.2" cy="390.9" r="4.15" fill="#afff6e"/><circle cx="208" cy="399.3" r="4.15" fill="#b3ff6c"/><circle cx="207.8" cy="407.6" r="4.15" fill="#b5ff6b"/><circle cx="207.5" cy="416" r="4.15" fill="#b6ff6a"/><circle cx="207.3" cy="424.3" r="4.15" fill="#aeff6f"/><circle cx="207" cy="432.7" r="4.15" fill="#b5ff6b"/><circle cx="206.8" cy="441" r="4.15" fill="#93ff93"/><circle cx="206.5" cy="449.4" r="4.15" fill="#8eff99"/><circle cx="206.3" cy="457.7" r="4.15" fill="#94ff91"/><circle cx="206.1" cy="466.1" r="4.15" fill="#70ffbe"/><circle cx="205.8" cy="474.4" r="4.15" fill="#7bffb0"/><circle cx="205.6" cy="482.8" r="4.15" fill="#74ffba"/><circle cx="205.3" cy="491.1" r="4.15" fill="#78ffb4"/><circle cx="205.1" cy="499.5" r="4.15" fill="#74ffb9"/><circle cx="204.8" cy="507.8" r="4.15" fill="#74ffba"/><circle cx="204.6" cy="516.2" r="4.15" fill="#6fffbf"/><circle cx="204.4" cy="524.5" r="4.15" fill="#47ffe7"/><circle cx="204.1" cy="532.9" r="4.15" fill="#58ffda"/><circle cx="203.9" cy="541.2" r="4.15" fill="#4bffe4"/><circle cx="203.6" cy="549.6" r="4.15" fill="#4bffe4"/><circle cx="203.4" cy="557.9" r="4.15" fill="#3afff1"/><circle cx="203.1" cy="566.3" r="4.15" fill="#3fffec"/><circle cx="202.9" cy="574.6" r="4.15" fill="#35fff6"/><circle cx="202.6" cy="583" r="4.15" fill="#34fff7"/><circle cx="202.4" cy="591.4" r="4.15" fill="#40ffec"/><circle cx="202.1" cy="599.7" r="4.15" fill="#39fff2"/><circle cx="201.9" cy="608.1" r="4.15" fill="#3cffef"/><circle cx="201.6" cy="616.4" r="4.15" fill="#40ffec"/><circle cx="201.4" cy="624.8" r="4.15" fill="#25e2ff"/><circle cx="201.1" cy="633.1" r="4.15" fill="#25e1ff"/><circle cx="200.9" cy="641.5" r="4.15" fill="#20d2ff"/><circle cx="200.6" cy="649.8" r="4.15" fill="#23d8ff"/><circle cx="200.4" cy="658.2" r="4.15" fill="#25e1ff"/><circle cx="200.1" cy="666.5" r="4.15" fill="#14c8ff"/><circle cx="199.9" cy="674.9" r="4.15" fill="#07bdff"/><circle cx="199.6" cy="683.2" r="4.15" fill="#08bdff"/><circle cx="199.4" cy="691.6" r="4.15" fill="#27ecff"/><circle cx="199.1" cy="699.9" r="4.15" fill="#26e9ff"/><circle cx="198.8" cy="708.3" r="4.15" fill="#27eeff"/><circle cx="198.6" cy="716.6" r="4.15" fill="#29f6ff"/><circle cx="198.3" cy="725" r="4.15" fill="#03b9ff"/><circle cx="198.1" cy="733.3" r="4.15" fill="#28f0ff"/><circle cx="197.8" cy="741.7" r="4.15" fill="#06bcff"/><circle cx="197.6" cy="750" r="4.15" fill="#25e4ff"/><circle cx="197.3" cy="758.4" r="4.15" fill="#0cc1ff"/><circle cx="196.8" cy="766.7" r="4.15" fill="#2afcff"/><circle cx="196.2" cy="775.1" r="4.15" fill="#00b2ff"/><circle cx="195.7" cy="783.4" r="4.15" fill="#25e5ff"/><circle cx="195.1" cy="791.8" r="4.15" fill="#00b1ff"/><circle cx="194.5" cy="800.1" r="4.15" fill="#00b0ff"/><circle cx="193.9" cy="808.5" r="4.15" fill="#0085ff"/><circle cx="193.4" cy="816.9" r="4.15" fill="#006aff"/><circle cx="192.8" cy="825.2" r="4.15" fill="#0088ff"/><circle cx="192.2" cy="833.6" r="4.15" fill="#00a2ff"/><circle cx="191.6" cy="841.9" r="4.15" fill="#009eff"/><circle cx="191.1" cy="850.3" r="4.15" fill="#00a0ff"/><circle cx="190.5" cy="858.6" r="4.15" fill="#009fff"/><circle cx="189.9" cy="867" r="4.15" fill="#00a0ff"/><circle cx="189.3" cy="875.3" r="4.15" fill="#009aff"/><circle cx="188.8" cy="883.7" r="4.15" fill="#009dff"/><circle cx="188.2" cy="892" r="4.15" fill="#00a3ff"/><circle cx="167.3" cy="127" r="4.15" fill="#70ffbf"/><circle cx="167.6" cy="135.4" r="4.15" fill="#72ffbc"/><circle cx="167.8" cy="143.7" r="4.15" fill="#7bffb0"/><circle cx="168.1" cy="152" r="4.15" fill="#74ffba"/><circle cx="168.3" cy="160.3" r="4.15" fill="#74ffb9"/><circle cx="168.6" cy="168.6" r="4.15" fill="#73ffba"/><circle cx="168.8" cy="176.9" r="4.15" fill="#7dffae"/><circle cx="169.1" cy="185.2" r="4.15" fill="#71ffbe"/><circle cx="169.3" cy="193.6" r="4.15" fill="#009aff"/><circle cx="169.6" cy="201.9" r="4.15" fill="#9cff83"/><circle cx="169.8" cy="210.2" r="4.15" fill="#93ff91"/><circle cx="170.1" cy="218.5" r="4.15" fill="#96ff8d"/><circle cx="170.3" cy="226.8" r="4.15" fill="#9cff85"/><circle cx="170.6" cy="235.1" r="4.15" fill="#99ff88"/><circle cx="170.8" cy="243.5" r="4.15" fill="#96ff8e"/><circle cx="171.1" cy="251.8" r="4.15" fill="#b1ff6d"/><circle cx="171.3" cy="260.1" r="4.15" fill="#baff68"/><circle cx="171.6" cy="268.4" r="4.15" fill="#b8ff69"/><circle cx="171.8" cy="276.7" r="4.15" fill="#c1ff65"/><circle cx="172.1" cy="285" r="4.15" fill="#f3ff37"/><circle cx="172.3" cy="293.3" r="4.15" fill="#f5ff35"/><circle cx="172.5" cy="301.7" r="4.15" fill="#ffb500"/><circle cx="172.8" cy="310" r="4.15" fill="#ffb100"/><circle cx="173" cy="318.3" r="4.15" fill="#fff526"/><circle cx="173.3" cy="326.6" r="4.15" fill="#ffbd00"/><circle cx="173.5" cy="334.9" r="4.15" fill="#ffff2b"/><circle cx="173.7" cy="343.2" r="4.15" fill="#fff626"/><circle cx="173.9" cy="351.5" r="4.15" fill="#f8ff32"/><circle cx="174.1" cy="359.9" r="4.15" fill="#fff425"/><circle cx="174.3" cy="368.2" r="4.15" fill="#fffb29"/><circle cx="174.5" cy="376.5" r="4.15" fill="#fbff2f"/><circle cx="174.7" cy="384.8" r="4.15" fill="#fffd2a"/><circle cx="174.9" cy="393.1" r="4.15" fill="#deff4d"/><circle cx="175.1" cy="401.4" r="4.15" fill="#d8ff53"/><circle cx="175.3" cy="409.8" r="4.15" fill="#e8ff43"/><circle cx="175.5" cy="418.1" r="4.15" fill="#dfff4c"/><circle cx="175.8" cy="426.4" r="4.15" fill="#e3ff48"/><circle cx="176" cy="434.7" r="4.15" fill="#e2ff49"/><circle cx="176.2" cy="443" r="4.15" fill="#8fff98"/><circle cx="176.4" cy="451.3" r="4.15" fill="#8dff9b"/><circle cx="176.6" cy="459.6" r="4.15" fill="#80ffaa"/><circle cx="176.8" cy="468" r="4.15" fill="#8aff9e"/><circle cx="177" cy="476.3" r="4.15" fill="#88ffa1"/><circle cx="177.2" cy="484.6" r="4.15" fill="#88ffa1"/><circle cx="177.4" cy="492.9" r="4.15" fill="#8eff99"/><circle cx="177.6" cy="501.2" r="4.15" fill="#5effd5"/><circle cx="177.8" cy="509.5" r="4.15" fill="#92ff94"/><circle cx="178" cy="517.8" r="4.15" fill="#71ffbe"/><circle cx="178.2" cy="526.2" r="4.15" fill="#38fff2"/><circle cx="178.5" cy="534.5" r="4.15" fill="#39fff1"/><circle cx="178.7" cy="542.8" r="4.15" fill="#74ffb9"/><circle cx="178.9" cy="551.1" r="4.15" fill="#79ffb2"/><circle cx="179.1" cy="559.4" r="4.15" fill="#77ffb5"/><circle cx="179.3" cy="567.7" r="4.15" fill="#78ffb4"/><circle cx="179.5" cy="576.1" r="4.15" fill="#72ffbb"/><circle cx="179.7" cy="584.4" r="4.15" fill="#6cffc3"/><circle cx="179.9" cy="592.7" r="4.15" fill="#77ffb5"/><circle cx="180.1" cy="601" r="4.15" fill="#75ffb8"/><circle cx="180.4" cy="609.3" r="4.15" fill="#a3ff78"/><circle cx="180.6" cy="617.6" r="4.15" fill="#6fffc0"/><circle cx="180.8" cy="625.9" r="4.15" fill="#92ff93"/><circle cx="181" cy="634.3" r="4.15" fill="#73ffbb"/><circle cx="181.2" cy="642.6" r="4.15" fill="#70ffbe"/><circle cx="181.4" cy="650.9" r="4.15" fill="#7dffae"/><circle cx="181.6" cy="659.2" r="4.15" fill="#71ffbe"/><circle cx="181.8" cy="667.5" r="4.15" fill="#28f0ff"/><circle cx="182.1" cy="675.8" r="4.15" fill="#2afdff"/><circle cx="182.3" cy="684.1" r="4.15" fill="#2af9ff"/><circle cx="182.5" cy="692.5" r="4.15" fill="#28f0ff"/><circle cx="182.7" cy="700.8" r="4.15" fill="#2afbff"/><circle cx="182.9" cy="709.1" r="4.15" fill="#2afcff"/><circle cx="183.1" cy="717.4" r="4.15" fill="#29f8ff"/><circle cx="183.3" cy="725.7" r="4.15" fill="#28f0ff"/><circle cx="183.5" cy="734" r="4.15" fill="#2afcff"/><circle cx="183.8" cy="742.4" r="4.15" fill="#29f7ff"/><circle cx="184" cy="750.7" r="4.15" fill="#2afaff"/><circle cx="184.2" cy="759" r="4.15" fill="#2dfffd"/><circle cx="184.4" cy="767.3" r="4.15" fill="#65ffcd"/><circle cx="184.7" cy="775.6" r="4.15" fill="#66ffcb"/><circle cx="184.9" cy="783.9" r="4.15" fill="#04baff"/><circle cx="185.2" cy="792.2" r="4.15" fill="#07bdff"/><circle cx="185.4" cy="800.6" r="4.15" fill="#0bc0ff"/><circle cx="185.7" cy="808.9" r="4.15" fill="#01b7ff"/><circle cx="185.9" cy="817.2" r="4.15" fill="#14c7ff"/><circle cx="186.2" cy="825.5" r="4.15" fill="#06bcff"/><circle cx="186.4" cy="833.8" r="4.15" fill="#28f4ff"/><circle cx="186.7" cy="842.1" r="4.15" fill="#00afff"/><circle cx="186.9" cy="850.4" r="4.15" fill="#00aeff"/><circle cx="187.2" cy="858.8" r="4.15" fill="#20d2ff"/><circle cx="187.4" cy="867.1" r="4.15" fill="#1bcdff"/><circle cx="187.7" cy="875.4" r="4.15" fill="#03b9ff"/><circle cx="187.9" cy="883.7" r="4.15" fill="#01b8ff"/><circle cx="188.2" cy="892" r="4.15" fill="#00b2ff"/><circle cx="563.2" cy="922" r="4.15" fill="#00acff"/><circle cx="567.2" cy="930.3" r="4.15" fill="#008bff"/><circle cx="564.2" cy="949.4" r="4.15" fill="#21d3ff"/><circle cx="768.6" cy="842.1" r="4.15" fill="#23daff"/><circle cx="771.6" cy="844.6" r="4.15" fill="#23daff"/><circle cx="774.6" cy="847.1" r="4.15" fill="#23daff"/><circle cx="765" cy="854.6" r="4.15" fill="#4affe4"/><circle cx="772.2" cy="859.6" r="4.15" fill="#28f1ff"/><circle cx="773.4" cy="870.4" r="4.15" fill="#00acff"/><circle cx="772.6" cy="874.6" r="4.15" fill="#00acff"/><circle cx="766.6" cy="880.4" r="4.15" fill="#23daff"/><circle cx="767.2" cy="898.7" r="4.15" fill="#26e6ff"/><circle cx="767.2" cy="905.3" r="4.15" fill="#26e6ff"/><circle cx="714.4" cy="122.9" r="4.15" fill="#60ffd4"/><circle cx="713.4" cy="140.3" r="4.15" fill="#4affe4"/><circle cx="713" cy="147.8" r="4.15" fill="#00acff"/><circle cx="712.8" cy="154.5" r="4.15" fill="#00b2ff"/><circle cx="712.4" cy="162" r="4.15" fill="#21d3ff"/><circle cx="725.8" cy="166.1" r="4.15" fill="#ff6b00"/><circle cx="733.5" cy="173.6" r="4.15" fill="#ffce0a"/><circle cx="736.5" cy="132" r="4.15" fill="#41ffeb"/><circle cx="735.5" cy="143.7" r="4.15" fill="#53ffde"/><circle cx="738.5" cy="161.1" r="4.15" fill="#28f1ff"/>
</g>
<polygon points="788,956.1 793.3,936.6 817.2,935.3 854.5,868.3 872.5,869.2 895.8,839.4 920.6,838.8 958.8,796.8 976.5,797.8 997.3,747.1 1016,747.1 1037.1,660.2 1058.2,677.3 1079.6,677.9 1099.2,713.3 1113.4,713.3 1113.8,956.6" fill="#999" stroke="#000" stroke-width="3" stroke-linejoin="miter"/>
<rect x="1018.8" y="755.1" width="88.9" height="196" fill="#fff"/>
<defs><linearGradient id="jet" x1="0" y1="1" x2="0" y2="0">
<stop offset="0%" stop-color="#0000a0"/>
<stop offset="4.5%" stop-color="#0820c8"/>
<stop offset="10.5%" stop-color="#0050ff"/>
<stop offset="18.6%" stop-color="#2088ff"/>
<stop offset="22.7%" stop-color="#00a8ff"/>
<stop offset="29%" stop-color="#38d8ff"/>
<stop offset="33.5%" stop-color="#40ffff"/>
<stop offset="36.4%" stop-color="#50fff0"/>
<stop offset="41.1%" stop-color="#70ffd8"/>
<stop offset="45.8%" stop-color="#88ffb8"/>
<stop offset="49.6%" stop-color="#9cffa0"/>
<stop offset="54.6%" stop-color="#b0ff80"/>
<stop offset="59.1%" stop-color="#d0ff70"/>
<stop offset="63.6%" stop-color="#f0ff50"/>
<stop offset="66.5%" stop-color="#ffff40"/>
<stop offset="70.3%" stop-color="#ffe030"/>
<stop offset="73.5%" stop-color="#ffd020"/>
<stop offset="79.3%" stop-color="#ffa000"/>
<stop offset="86.1%" stop-color="#ff6a00"/>
<stop offset="88.8%" stop-color="#ff5500"/>
<stop offset="91.5%" stop-color="#e84800"/>
<stop offset="96%" stop-color="#c82800"/>
<stop offset="100%" stop-color="#a80000"/>
</linearGradient><linearGradient id="div" x1="0" y1="1" x2="0" y2="0">
<stop offset="0%" stop-color="#0000ff"/>
<stop offset="5%" stop-color="#502bff"/>
<stop offset="10%" stop-color="#7145ff"/>
<stop offset="15%" stop-color="#8a5dff"/>
<stop offset="20%" stop-color="#a074ff"/>
<stop offset="25%" stop-color="#b38bff"/>
<stop offset="30%" stop-color="#c4a2ff"/>
<stop offset="35%" stop-color="#d4b9ff"/>
<stop offset="40%" stop-color="#e3d0ff"/>
<stop offset="45%" stop-color="#f2e7ff"/>
<stop offset="50%" stop-color="#ffffff"/>
<stop offset="55%" stop-color="#ffece5"/>
<stop offset="60%" stop-color="#ffd9cb"/>
<stop offset="65%" stop-color="#ffc6b2"/>
<stop offset="70%" stop-color="#ffb299"/>
<stop offset="75%" stop-color="#ff9e81"/>
<stop offset="80%" stop-color="#ff8969"/>
<stop offset="85%" stop-color="#ff7352"/>
<stop offset="90%" stop-color="#ff5b3a"/>
<stop offset="95%" stop-color="#ff3e22"/>
<stop offset="100%" stop-color="#ff0000"/>
</linearGradient></defs>
<rect x="1031.6" y="794" width="30.1" height="149.2" fill="url(#jet)"/>
<g stroke="#fff" stroke-width="0.9">
<line x1="1031.6" y1="915.4" x2="1037.6" y2="915.4"/><line x1="1055.7" y1="915.4" x2="1061.7" y2="915.4"/>
<line x1="1031.6" y1="881.8" x2="1037.6" y2="881.8"/><line x1="1055.7" y1="881.8" x2="1061.7" y2="881.8"/>
<line x1="1031.6" y1="848.2" x2="1037.6" y2="848.2"/><line x1="1055.7" y1="848.2" x2="1061.7" y2="848.2"/>
<line x1="1031.6" y1="814.6" x2="1037.6" y2="814.6"/><line x1="1055.7" y1="814.6" x2="1061.7" y2="814.6"/>
</g>
<g font-size="17.3" fill="#000">
<text x="1071.8" y="921.6">50</text>
<text x="1071.8" y="888">100</text>
<text x="1071.8" y="854.4">150</text>
<text x="1071.8" y="820.8">200</text>
</g>
<text x="1032.4" y="780.5" font-size="20.3" fill="#000">Ind. m<tspan font-size="14.2" dy="-9.5">−3</tspan></text>
<rect x="120.5" y="78.0" width="1039.1" height="917.5" fill="none" stroke="#505050" stroke-width="1.2"/>
<text x="129.8" y="985.8" font-size="41.3" fill="#000"><tspan font-style="italic">Oithona</tspan> sp.</text>
<path fill="#bebebe" d="M1696.1 86.7h12.8v13.2h-12.8zM1720.7 86.7h12.8v13.2h-12.8zM1794.5 86.7h12.8v13.2h-12.8zM1979 86.7h12.8v13.2h-12.8zM1991.3 86.7h12.8v13.2h-12.8zM2089.7 86.7h12.8v13.2h-12.8zM2138.9 86.7h12.8v13.2h-12.8zM2151.2 86.7h12.8v13.2h-12.8zM2237.3 86.7h12.8v13.2h-12.8zM1794.5 99.4h12.8v13.2h-12.8zM1991.3 99.4h12.8v13.2h-12.8zM2003.6 99.4h12.8v13.2h-12.8zM2040.5 99.4h12.8v13.2h-12.8zM2052.8 99.4h12.8v13.2h-12.8zM1646.9 112.1h12.8v13.2h-12.8zM1696.1 112.1h12.8v13.2h-12.8zM1708.4 112.1h12.8v13.2h-12.8zM1720.7 112.1h12.8v13.2h-12.8zM1733 112.1h12.8v13.2h-12.8zM1757.6 112.1h12.8v13.2h-12.8zM1806.8 112.1h12.8v13.2h-12.8zM1905.2 112.1h12.8v13.2h-12.8zM1917.5 112.1h12.8v13.2h-12.8zM1929.8 112.1h12.8v13.2h-12.8zM1954.4 112.1h12.8v13.2h-12.8zM1966.7 112.1h12.8v13.2h-12.8zM1979 112.1h12.8v13.2h-12.8zM1991.3 112.1h12.8v13.2h-12.8zM2003.6 112.1h12.8v13.2h-12.8zM2028.2 112.1h12.8v13.2h-12.8zM2040.5 112.1h12.8v13.2h-12.8zM2052.8 112.1h12.8v13.2h-12.8zM2065.1 112.1h12.8v13.2h-12.8zM2089.7 112.1h12.8v13.2h-12.8zM2138.9 112.1h12.8v13.2h-12.8zM2151.2 112.1h12.8v13.2h-12.8zM2188.1 112.1h12.8v13.2h-12.8zM2225 112.1h12.8v13.2h-12.8zM2237.3 112.1h12.8v13.2h-12.8zM2274.2 112.1h12.8v13.2h-12.8zM1794.5 124.8h12.8v13.2h-12.8zM1991.3 124.8h12.8v13.2h-12.8zM2102 124.8h12.8v13.2h-12.8zM2114.3 124.8h12.8v13.2h-12.8zM2237.3 124.8h12.8v13.2h-12.8zM1991.3 137.6h12.8v13.2h-12.8zM2003.6 137.6h12.8v13.2h-12.8zM2102 137.6h12.8v13.2h-12.8zM1991.3 150.3h12.8v13.2h-12.8zM1720.7 163h12.8v13.2h-12.8zM1794.5 163h12.8v13.2h-12.8zM1991.3 163h12.8v13.2h-12.8zM2040.5 163h12.8v13.2h-12.8zM2052.8 163h12.8v13.2h-12.8zM2089.7 163h12.8v13.2h-12.8zM2102 163h12.8v13.2h-12.8zM2114.3 163h12.8v13.2h-12.8zM2237.3 163h12.8v13.2h-12.8zM2323.4 163h12.8v13.2h-12.8zM1720.7 175.7h12.8v13.2h-12.8zM1794.5 175.7h12.8v13.2h-12.8zM2003.6 175.7h12.8v13.2h-12.8zM2089.7 175.7h12.8v13.2h-12.8zM2102 175.7h12.8v13.2h-12.8zM1696.1 188.4h12.8v13.2h-12.8zM1720.7 188.4h12.8v13.2h-12.8zM1794.5 188.4h12.8v13.2h-12.8zM1979 188.4h12.8v13.2h-12.8zM1991.3 188.4h12.8v13.2h-12.8zM2089.7 188.4h12.8v13.2h-12.8zM2102 188.4h12.8v13.2h-12.8zM1610 201.1h12.8v13.2h-12.8zM1671.5 201.1h12.8v13.2h-12.8zM1708.4 201.1h12.8v13.2h-12.8zM1720.7 201.1h12.8v13.2h-12.8zM1733 201.1h12.8v13.2h-12.8zM1757.6 201.1h12.8v13.2h-12.8zM1769.9 201.1h12.8v13.2h-12.8zM1782.2 201.1h12.8v13.2h-12.8zM1819.1 201.1h12.8v13.2h-12.8zM1880.6 201.1h12.8v13.2h-12.8zM1905.2 201.1h12.8v13.2h-12.8zM1917.5 201.1h12.8v13.2h-12.8zM1929.8 201.1h12.8v13.2h-12.8zM1966.7 201.1h12.8v13.2h-12.8zM1979 201.1h12.8v13.2h-12.8zM1991.3 201.1h12.8v13.2h-12.8zM2028.2 201.1h12.8v13.2h-12.8zM2089.7 201.1h12.8v13.2h-12.8zM2151.2 201.1h12.8v13.2h-12.8zM2163.5 201.1h12.8v13.2h-12.8zM2175.8 201.1h12.8v13.2h-12.8zM2200.4 201.1h12.8v13.2h-12.8zM2225 201.1h12.8v13.2h-12.8zM2274.2 201.1h12.8v13.2h-12.8zM2311.1 201.1h12.8v13.2h-12.8zM2323.4 201.1h12.8v13.2h-12.8zM2348 201.1h12.8v13.2h-12.8zM1696.1 213.8h12.8v13.2h-12.8zM1819.1 213.8h12.8v13.2h-12.8zM1966.7 213.8h12.8v13.2h-12.8zM1991.3 213.8h12.8v13.2h-12.8zM2089.7 213.8h12.8v13.2h-12.8zM2102 213.8h12.8v13.2h-12.8zM2237.3 213.8h12.8v13.2h-12.8zM2323.4 213.8h12.8v13.2h-12.8zM1794.5 226.6h12.8v13.2h-12.8zM1991.3 226.6h12.8v13.2h-12.8zM2003.6 226.6h12.8v13.2h-12.8zM1991.3 239.3h12.8v13.2h-12.8zM2003.6 239.3h12.8v13.2h-12.8zM2052.8 239.3h12.8v13.2h-12.8zM2089.7 239.3h12.8v13.2h-12.8zM2102 239.3h12.8v13.2h-12.8zM2237.3 239.3h12.8v13.2h-12.8zM1991.3 252h12.8v13.2h-12.8zM2003.6 252h12.8v13.2h-12.8zM2089.7 252h12.8v13.2h-12.8zM2102 252h12.8v13.2h-12.8zM2114.3 252h12.8v13.2h-12.8zM2323.4 252h12.8v13.2h-12.8zM1720.7 264.7h12.8v13.2h-12.8zM1794.5 264.7h12.8v13.2h-12.8zM1991.3 264.7h12.8v13.2h-12.8zM2237.3 264.7h12.8v13.2h-12.8zM1696.1 277.4h12.8v13.2h-12.8zM1991.3 277.4h12.8v13.2h-12.8zM2237.3 277.4h12.8v13.2h-12.8zM1696.1 290.1h12.8v13.2h-12.8zM1720.7 290.1h12.8v13.2h-12.8zM1794.5 290.1h12.8v13.2h-12.8zM1819.1 290.1h12.8v13.2h-12.8zM1929.8 290.1h12.8v13.2h-12.8zM1966.7 290.1h12.8v13.2h-12.8zM1979 290.1h12.8v13.2h-12.8zM1991.3 290.1h12.8v13.2h-12.8zM2089.7 290.1h12.8v13.2h-12.8zM2102 290.1h12.8v13.2h-12.8zM2237.3 290.1h12.8v13.2h-12.8zM2323.4 290.1h12.8v13.2h-12.8zM2348 290.1h12.8v13.2h-12.8zM1979 302.8h12.8v13.2h-12.8zM2323.4 302.8h12.8v13.2h-12.8zM2348 302.8h12.8v13.2h-12.8zM1720.7 315.6h12.8v13.2h-12.8zM1979 315.6h12.8v13.2h-12.8zM1991.3 315.6h12.8v13.2h-12.8zM2114.3 315.6h12.8v13.2h-12.8zM1646.9 328.3h12.8v13.2h-12.8zM1696.1 328.3h12.8v13.2h-12.8zM1708.4 328.3h12.8v13.2h-12.8zM1733 328.3h12.8v13.2h-12.8zM1757.6 328.3h12.8v13.2h-12.8zM1917.5 328.3h12.8v13.2h-12.8zM1966.7 328.3h12.8v13.2h-12.8zM1991.3 328.3h12.8v13.2h-12.8zM2003.6 328.3h12.8v13.2h-12.8zM2028.2 328.3h12.8v13.2h-12.8zM2052.8 328.3h12.8v13.2h-12.8zM2089.7 328.3h12.8v13.2h-12.8zM2126.6 328.3h12.8v13.2h-12.8zM2188.1 328.3h12.8v13.2h-12.8zM2274.2 328.3h12.8v13.2h-12.8zM2311.1 328.3h12.8v13.2h-12.8zM1597.7 341h12.8v13.2h-12.8zM1671.5 341h12.8v13.2h-12.8zM1696.1 341h12.8v13.2h-12.8zM1708.4 341h12.8v13.2h-12.8zM1733 341h12.8v13.2h-12.8zM1757.6 341h12.8v13.2h-12.8zM1769.9 341h12.8v13.2h-12.8zM1794.5 341h12.8v13.2h-12.8zM1806.8 341h12.8v13.2h-12.8zM1819.1 341h12.8v13.2h-12.8zM1868.3 341h12.8v13.2h-12.8zM1880.6 341h12.8v13.2h-12.8zM1892.9 341h12.8v13.2h-12.8zM1905.2 341h12.8v13.2h-12.8zM1917.5 341h12.8v13.2h-12.8zM1929.8 341h12.8v13.2h-12.8zM1966.7 341h12.8v13.2h-12.8zM1979 341h12.8v13.2h-12.8zM2028.2 341h12.8v13.2h-12.8zM2065.1 341h12.8v13.2h-12.8zM2151.2 341h12.8v13.2h-12.8zM2188.1 341h12.8v13.2h-12.8zM2200.4 341h12.8v13.2h-12.8zM2225 341h12.8v13.2h-12.8zM2249.6 341h12.8v13.2h-12.8zM2261.9 341h12.8v13.2h-12.8zM2274.2 341h12.8v13.2h-12.8zM2298.8 341h12.8v13.2h-12.8zM2311.1 341h12.8v13.2h-12.8zM1610 353.7h12.8v13.2h-12.8zM1634.6 353.7h12.8v13.2h-12.8zM1659.2 353.7h12.8v13.2h-12.8zM1696.1 353.7h12.8v13.2h-12.8zM1733 353.7h12.8v13.2h-12.8zM1745.3 353.7h12.8v13.2h-12.8zM1757.6 353.7h12.8v13.2h-12.8zM1769.9 353.7h12.8v13.2h-12.8zM1782.2 353.7h12.8v13.2h-12.8zM1819.1 353.7h12.8v13.2h-12.8zM1831.4 353.7h12.8v13.2h-12.8zM1856 353.7h12.8v13.2h-12.8zM1868.3 353.7h12.8v13.2h-12.8zM1880.6 353.7h12.8v13.2h-12.8zM1905.2 353.7h12.8v13.2h-12.8zM1929.8 353.7h12.8v13.2h-12.8zM1954.4 353.7h12.8v13.2h-12.8zM1966.7 353.7h12.8v13.2h-12.8zM1991.3 353.7h12.8v13.2h-12.8zM2015.9 353.7h12.8v13.2h-12.8zM2040.5 353.7h12.8v13.2h-12.8zM2114.3 353.7h12.8v13.2h-12.8zM2151.2 353.7h12.8v13.2h-12.8zM2188.1 353.7h12.8v13.2h-12.8zM2200.4 353.7h12.8v13.2h-12.8zM2225 353.7h12.8v13.2h-12.8zM2237.3 353.7h12.8v13.2h-12.8zM2249.6 353.7h12.8v13.2h-12.8zM2261.9 353.7h12.8v13.2h-12.8zM2274.2 353.7h12.8v13.2h-12.8zM2323.4 353.7h12.8v13.2h-12.8zM2348 353.7h12.8v13.2h-12.8zM1757.6 379.1h12.8v13.2h-12.8zM1782.2 379.1h12.8v13.2h-12.8zM1929.8 379.1h12.8v13.2h-12.8zM1966.7 379.1h12.8v13.2h-12.8zM1991.3 379.1h12.8v13.2h-12.8zM2102 379.1h12.8v13.2h-12.8zM2323.4 379.1h12.8v13.2h-12.8zM1696.1 391.9h12.8v13.2h-12.8zM1708.4 391.9h12.8v13.2h-12.8zM1733 391.9h12.8v13.2h-12.8zM1745.3 391.9h12.8v13.2h-12.8zM1757.6 391.9h12.8v13.2h-12.8zM1769.9 391.9h12.8v13.2h-12.8zM1782.2 391.9h12.8v13.2h-12.8zM1806.8 391.9h12.8v13.2h-12.8zM1819.1 391.9h12.8v13.2h-12.8zM1917.5 391.9h12.8v13.2h-12.8zM2114.3 391.9h12.8v13.2h-12.8zM2200.4 391.9h12.8v13.2h-12.8zM2274.2 391.9h12.8v13.2h-12.8zM2323.4 391.9h12.8v13.2h-12.8zM2335.7 391.9h12.8v13.2h-12.8zM1708.4 404.6h12.8v13.2h-12.8zM1733 404.6h12.8v13.2h-12.8zM1745.3 404.6h12.8v13.2h-12.8zM1757.6 404.6h12.8v13.2h-12.8zM1769.9 404.6h12.8v13.2h-12.8zM1819.1 404.6h12.8v13.2h-12.8zM2089.7 404.6h12.8v13.2h-12.8zM2274.2 404.6h12.8v13.2h-12.8zM2323.4 404.6h12.8v13.2h-12.8zM2335.7 404.6h12.8v13.2h-12.8zM1991.3 417.3h12.8v13.2h-12.8zM2102 417.3h12.8v13.2h-12.8zM2114.3 417.3h12.8v13.2h-12.8zM2237.3 417.3h12.8v13.2h-12.8zM2323.4 417.3h12.8v13.2h-12.8zM2089.7 430h12.8v13.2h-12.8zM1696.1 442.7h12.8v13.2h-12.8zM1708.4 442.7h12.8v13.2h-12.8zM1720.7 442.7h12.8v13.2h-12.8zM1745.3 442.7h12.8v13.2h-12.8zM1806.8 442.7h12.8v13.2h-12.8zM1819.1 442.7h12.8v13.2h-12.8zM1868.3 442.7h12.8v13.2h-12.8zM1880.6 442.7h12.8v13.2h-12.8zM1892.9 442.7h12.8v13.2h-12.8zM1905.2 442.7h12.8v13.2h-12.8zM1929.8 442.7h12.8v13.2h-12.8zM1966.7 442.7h12.8v13.2h-12.8zM2114.3 442.7h12.8v13.2h-12.8zM2188.1 442.7h12.8v13.2h-12.8zM2200.4 442.7h12.8v13.2h-12.8zM2212.7 442.7h12.8v13.2h-12.8zM2261.9 442.7h12.8v13.2h-12.8zM2298.8 442.7h12.8v13.2h-12.8zM2323.4 442.7h12.8v13.2h-12.8zM2335.7 442.7h12.8v13.2h-12.8zM1659.2 455.4h12.8v13.2h-12.8zM1696.1 455.4h12.8v13.2h-12.8zM1708.4 455.4h12.8v13.2h-12.8zM1733 455.4h12.8v13.2h-12.8zM1745.3 455.4h12.8v13.2h-12.8zM1757.6 455.4h12.8v13.2h-12.8zM1769.9 455.4h12.8v13.2h-12.8zM1782.2 455.4h12.8v13.2h-12.8zM1794.5 455.4h12.8v13.2h-12.8zM1806.8 455.4h12.8v13.2h-12.8zM1831.4 455.4h12.8v13.2h-12.8zM1880.6 455.4h12.8v13.2h-12.8zM1892.9 455.4h12.8v13.2h-12.8zM1917.5 455.4h12.8v13.2h-12.8zM1942.1 455.4h12.8v13.2h-12.8zM1954.4 455.4h12.8v13.2h-12.8zM2028.2 455.4h12.8v13.2h-12.8zM2065.1 455.4h12.8v13.2h-12.8zM2089.7 455.4h12.8v13.2h-12.8zM2114.3 455.4h12.8v13.2h-12.8zM2126.6 455.4h12.8v13.2h-12.8zM2151.2 455.4h12.8v13.2h-12.8zM2163.5 455.4h12.8v13.2h-12.8zM2175.8 455.4h12.8v13.2h-12.8zM2188.1 455.4h12.8v13.2h-12.8zM2200.4 455.4h12.8v13.2h-12.8zM2212.7 455.4h12.8v13.2h-12.8zM2225 455.4h12.8v13.2h-12.8zM2237.3 455.4h12.8v13.2h-12.8zM2249.6 455.4h12.8v13.2h-12.8zM2274.2 455.4h12.8v13.2h-12.8zM2286.5 455.4h12.8v13.2h-12.8zM2298.8 455.4h12.8v13.2h-12.8zM2311.1 455.4h12.8v13.2h-12.8zM2323.4 455.4h12.8v13.2h-12.8zM2335.7 455.4h12.8v13.2h-12.8zM2348 455.4h12.8v13.2h-12.8zM1720.7 468.1h12.8v13.2h-12.8zM1757.6 468.1h12.8v13.2h-12.8zM1966.7 468.1h12.8v13.2h-12.8zM2102 468.1h12.8v13.2h-12.8zM2126.6 468.1h12.8v13.2h-12.8zM2138.9 468.1h12.8v13.2h-12.8zM2151.2 468.1h12.8v13.2h-12.8zM2237.3 468.1h12.8v13.2h-12.8zM2249.6 468.1h12.8v13.2h-12.8zM2323.4 468.1h12.8v13.2h-12.8zM2348 468.1h12.8v13.2h-12.8zM1610 480.9h12.8v13.2h-12.8zM1696.1 480.9h12.8v13.2h-12.8zM1757.6 480.9h12.8v13.2h-12.8zM1856 480.9h12.8v13.2h-12.8zM1979 480.9h12.8v13.2h-12.8zM2003.6 480.9h12.8v13.2h-12.8zM2065.1 480.9h12.8v13.2h-12.8zM2089.7 480.9h12.8v13.2h-12.8zM2102 480.9h12.8v13.2h-12.8zM2114.3 480.9h12.8v13.2h-12.8zM2151.2 480.9h12.8v13.2h-12.8zM2225 480.9h12.8v13.2h-12.8zM2237.3 480.9h12.8v13.2h-12.8zM2323.4 480.9h12.8v13.2h-12.8zM1794.5 493.6h12.8v13.2h-12.8zM1991.3 493.6h12.8v13.2h-12.8zM2089.7 493.6h12.8v13.2h-12.8zM2323.4 493.6h12.8v13.2h-12.8zM1991.3 506.3h12.8v13.2h-12.8zM1610 519h12.8v13.2h-12.8zM1696.1 519h12.8v13.2h-12.8zM1720.7 519h12.8v13.2h-12.8zM1745.3 519h12.8v13.2h-12.8zM1757.6 519h12.8v13.2h-12.8zM1794.5 519h12.8v13.2h-12.8zM1819.1 519h12.8v13.2h-12.8zM2003.6 519h12.8v13.2h-12.8zM2065.1 519h12.8v13.2h-12.8zM2089.7 519h12.8v13.2h-12.8zM2102 519h12.8v13.2h-12.8zM2151.2 519h12.8v13.2h-12.8zM2237.3 519h12.8v13.2h-12.8zM2323.4 519h12.8v13.2h-12.8zM1720.7 531.7h12.8v13.2h-12.8zM1794.5 531.7h12.8v13.2h-12.8zM1991.3 531.7h12.8v13.2h-12.8zM2052.8 531.7h12.8v13.2h-12.8zM2102 531.7h12.8v13.2h-12.8zM2114.3 531.7h12.8v13.2h-12.8zM2237.3 531.7h12.8v13.2h-12.8zM2323.4 531.7h12.8v13.2h-12.8zM1794.5 544.4h12.8v13.2h-12.8zM2003.6 544.4h12.8v13.2h-12.8zM2089.7 544.4h12.8v13.2h-12.8zM2102 544.4h12.8v13.2h-12.8zM2237.3 544.4h12.8v13.2h-12.8zM2323.4 544.4h12.8v13.2h-12.8zM1720.7 557.1h12.8v13.2h-12.8zM1794.5 557.1h12.8v13.2h-12.8zM1991.3 557.1h12.8v13.2h-12.8zM2003.6 557.1h12.8v13.2h-12.8zM2102 557.1h12.8v13.2h-12.8zM1991.3 569.9h12.8v13.2h-12.8zM2003.6 569.9h12.8v13.2h-12.8zM2089.7 569.9h12.8v13.2h-12.8zM2102 569.9h12.8v13.2h-12.8zM2237.3 569.9h12.8v13.2h-12.8zM1720.7 582.6h12.8v13.2h-12.8zM1794.5 582.6h12.8v13.2h-12.8zM2003.6 582.6h12.8v13.2h-12.8zM2089.7 582.6h12.8v13.2h-12.8zM2102 582.6h12.8v13.2h-12.8zM1720.7 595.3h12.8v13.2h-12.8zM1733 595.3h12.8v13.2h-12.8zM1757.6 595.3h12.8v13.2h-12.8zM1966.7 595.3h12.8v13.2h-12.8zM2089.7 595.3h12.8v13.2h-12.8zM1991.3 620.7h12.8v13.2h-12.8zM2089.7 620.7h12.8v13.2h-12.8zM1733 633.4h12.8v13.2h-12.8zM1757.6 633.4h12.8v13.2h-12.8zM1929.8 633.4h12.8v13.2h-12.8zM2003.6 633.4h12.8v13.2h-12.8zM2040.5 633.4h12.8v13.2h-12.8zM2052.8 633.4h12.8v13.2h-12.8zM2089.7 633.4h12.8v13.2h-12.8zM2102 633.4h12.8v13.2h-12.8zM2151.2 633.4h12.8v13.2h-12.8zM2225 633.4h12.8v13.2h-12.8zM2237.3 633.4h12.8v13.2h-12.8zM1991.3 646.2h12.8v13.2h-12.8zM2003.6 646.2h12.8v13.2h-12.8zM2052.8 646.2h12.8v13.2h-12.8zM2102 646.2h12.8v13.2h-12.8zM2323.4 646.2h12.8v13.2h-12.8zM1610 658.9h12.8v13.2h-12.8zM1659.2 658.9h12.8v13.2h-12.8zM1683.8 658.9h12.8v13.2h-12.8zM1696.1 658.9h12.8v13.2h-12.8zM1708.4 658.9h12.8v13.2h-12.8zM1733 658.9h12.8v13.2h-12.8zM1757.6 658.9h12.8v13.2h-12.8zM1769.9 658.9h12.8v13.2h-12.8zM1868.3 658.9h12.8v13.2h-12.8zM1892.9 658.9h12.8v13.2h-12.8zM1905.2 658.9h12.8v13.2h-12.8zM1917.5 658.9h12.8v13.2h-12.8zM1929.8 658.9h12.8v13.2h-12.8zM1954.4 658.9h12.8v13.2h-12.8zM1991.3 658.9h12.8v13.2h-12.8zM2102 658.9h12.8v13.2h-12.8zM2151.2 658.9h12.8v13.2h-12.8zM2175.8 658.9h12.8v13.2h-12.8zM2212.7 658.9h12.8v13.2h-12.8zM2249.6 658.9h12.8v13.2h-12.8zM2261.9 658.9h12.8v13.2h-12.8zM2274.2 658.9h12.8v13.2h-12.8zM2311.1 658.9h12.8v13.2h-12.8zM2335.7 658.9h12.8v13.2h-12.8zM2348 658.9h12.8v13.2h-12.8zM1646.9 671.6h12.8v13.2h-12.8zM1696.1 671.6h12.8v13.2h-12.8zM1991.3 671.6h12.8v13.2h-12.8zM2052.8 671.6h12.8v13.2h-12.8zM2065.1 671.6h12.8v13.2h-12.8zM2089.7 671.6h12.8v13.2h-12.8zM2237.3 671.6h12.8v13.2h-12.8zM1794.5 684.3h12.8v13.2h-12.8zM1991.3 684.3h12.8v13.2h-12.8zM2040.5 684.3h12.8v13.2h-12.8zM2052.8 684.3h12.8v13.2h-12.8zM2089.7 684.3h12.8v13.2h-12.8zM2102 684.3h12.8v13.2h-12.8zM2237.3 684.3h12.8v13.2h-12.8zM1646.9 697h12.8v13.2h-12.8zM1696.1 697h12.8v13.2h-12.8zM1720.7 697h12.8v13.2h-12.8zM1794.5 697h12.8v13.2h-12.8zM1819.1 697h12.8v13.2h-12.8zM1856 697h12.8v13.2h-12.8zM1929.8 697h12.8v13.2h-12.8zM1966.7 697h12.8v13.2h-12.8zM1979 697h12.8v13.2h-12.8zM1991.3 697h12.8v13.2h-12.8zM2040.5 697h12.8v13.2h-12.8zM2052.8 697h12.8v13.2h-12.8zM2065.1 697h12.8v13.2h-12.8zM2089.7 697h12.8v13.2h-12.8zM2102 697h12.8v13.2h-12.8zM2114.3 697h12.8v13.2h-12.8zM2237.3 697h12.8v13.2h-12.8zM2323.4 697h12.8v13.2h-12.8zM1646.9 709.7h12.8v13.2h-12.8zM1929.8 709.7h12.8v13.2h-12.8zM1991.3 709.7h12.8v13.2h-12.8zM2003.6 709.7h12.8v13.2h-12.8zM2040.5 709.7h12.8v13.2h-12.8zM2052.8 709.7h12.8v13.2h-12.8zM2089.7 709.7h12.8v13.2h-12.8zM1696.1 722.4h12.8v13.2h-12.8zM1794.5 722.4h12.8v13.2h-12.8zM1819.1 722.4h12.8v13.2h-12.8zM1856 722.4h12.8v13.2h-12.8zM1991.3 722.4h12.8v13.2h-12.8zM2040.5 722.4h12.8v13.2h-12.8zM2052.8 722.4h12.8v13.2h-12.8zM2089.7 722.4h12.8v13.2h-12.8zM2102 722.4h12.8v13.2h-12.8zM2114.3 722.4h12.8v13.2h-12.8zM2237.3 722.4h12.8v13.2h-12.8zM2323.4 722.4h12.8v13.2h-12.8zM1646.9 735.2h12.8v13.2h-12.8zM1757.6 735.2h12.8v13.2h-12.8zM1856 735.2h12.8v13.2h-12.8zM1868.3 735.2h12.8v13.2h-12.8zM1892.9 735.2h12.8v13.2h-12.8zM1917.5 735.2h12.8v13.2h-12.8zM1929.8 735.2h12.8v13.2h-12.8zM1979 735.2h12.8v13.2h-12.8zM2003.6 735.2h12.8v13.2h-12.8zM2126.6 735.2h12.8v13.2h-12.8zM2151.2 735.2h12.8v13.2h-12.8zM2175.8 735.2h12.8v13.2h-12.8zM2237.3 735.2h12.8v13.2h-12.8zM2249.6 735.2h12.8v13.2h-12.8zM2261.9 735.2h12.8v13.2h-12.8zM2274.2 735.2h12.8v13.2h-12.8zM2323.4 735.2h12.8v13.2h-12.8zM2348 735.2h12.8v13.2h-12.8zM1794.5 747.9h12.8v13.2h-12.8zM1991.3 747.9h12.8v13.2h-12.8zM2003.6 747.9h12.8v13.2h-12.8zM2040.5 747.9h12.8v13.2h-12.8zM2052.8 747.9h12.8v13.2h-12.8zM2102 747.9h12.8v13.2h-12.8zM2114.3 747.9h12.8v13.2h-12.8zM2237.3 747.9h12.8v13.2h-12.8zM2323.4 747.9h12.8v13.2h-12.8zM1610 760.6h12.8v13.2h-12.8zM1733 760.6h12.8v13.2h-12.8zM1757.6 760.6h12.8v13.2h-12.8zM1782.2 760.6h12.8v13.2h-12.8zM1794.5 760.6h12.8v13.2h-12.8zM1929.8 760.6h12.8v13.2h-12.8zM1966.7 760.6h12.8v13.2h-12.8zM1991.3 760.6h12.8v13.2h-12.8zM2003.6 760.6h12.8v13.2h-12.8zM2052.8 760.6h12.8v13.2h-12.8zM2089.7 760.6h12.8v13.2h-12.8zM2102 760.6h12.8v13.2h-12.8zM2114.3 760.6h12.8v13.2h-12.8zM2151.2 760.6h12.8v13.2h-12.8zM2163.5 760.6h12.8v13.2h-12.8zM2225 760.6h12.8v13.2h-12.8zM2249.6 760.6h12.8v13.2h-12.8zM2323.4 760.6h12.8v13.2h-12.8zM2348 760.6h12.8v13.2h-12.8zM1794.5 773.3h12.8v13.2h-12.8zM1646.9 786h12.8v13.2h-12.8zM2102 786h12.8v13.2h-12.8zM2237.3 786h12.8v13.2h-12.8zM1794.5 798.7h12.8v13.2h-12.8zM1991.3 798.7h12.8v13.2h-12.8zM2089.7 798.7h12.8v13.2h-12.8zM1610 811.4h12.8v13.2h-12.8zM1671.5 811.4h12.8v13.2h-12.8zM1720.7 811.4h12.8v13.2h-12.8zM1745.3 811.4h12.8v13.2h-12.8zM1757.6 811.4h12.8v13.2h-12.8zM1782.2 811.4h12.8v13.2h-12.8zM2114.3 811.4h12.8v13.2h-12.8zM2323.4 811.4h12.8v13.2h-12.8zM2089.7 824.2h12.8v13.2h-12.8zM1646.9 849.6h12.8v13.2h-12.8zM1696.1 849.6h12.8v13.2h-12.8zM1794.5 849.6h12.8v13.2h-12.8zM1929.8 849.6h12.8v13.2h-12.8zM1966.7 849.6h12.8v13.2h-12.8zM2089.7 849.6h12.8v13.2h-12.8zM2237.3 849.6h12.8v13.2h-12.8zM2102 862.3h12.8v13.2h-12.8z"/>
<path fill="#fff" d="M1597.9 86.9h98.5v12.8h-98.5zM1708.6 86.9h12.4v12.8h-12.4zM1733.2 86.9h61.6v12.8h-61.6zM1807 86.9h172.3v12.8h-172.3zM2003.8 86.9h86.2v12.8h-86.2zM2102.2 86.9h37v12.8h-37zM2163.7 86.9h73.9v12.8h-73.9zM2249.8 86.9h110.8v12.8h-110.8zM1597.9 99.6h196.9v12.8h-196.9zM1807 99.6h184.6v12.8h-184.6zM2016.1 99.6h24.7v12.8h-24.7zM2065.3 99.6h295.3v12.8h-295.3zM1597.9 112.3h49.3v12.8h-49.3zM1659.4 112.3h37v12.8h-37zM1745.5 112.3h12.4v12.8h-12.4zM1770.1 112.3h37v12.8h-37zM1819.3 112.3h86.2v12.8h-86.2zM1942.3 112.3h12.4v12.8h-12.4zM2016.1 112.3h12.4v12.8h-12.4zM2077.6 112.3h12.4v12.8h-12.4zM2102.2 112.3h37v12.8h-37zM2163.7 112.3h24.7v12.8h-24.7zM2200.6 112.3h24.7v12.8h-24.7zM2249.8 112.3h24.7v12.8h-24.7zM2286.7 112.3h73.9v12.8h-73.9zM1597.9 125h196.9v12.8h-196.9zM1807 125h184.6v12.8h-184.6zM2003.8 125h98.5v12.8h-98.5zM2126.8 125h110.8v12.8h-110.8zM2249.8 125h110.8v12.8h-110.8zM1597.9 137.8h393.7v12.8h-393.7zM2016.1 137.8h86.2v12.8h-86.2zM2114.5 137.8h246.1v12.8h-246.1zM1597.9 150.5h393.7v12.8h-393.7zM2003.8 150.5h356.8v12.8h-356.8zM1597.9 163.2h123.1v12.8h-123.1zM1733.2 163.2h61.6v12.8h-61.6zM1807 163.2h184.6v12.8h-184.6zM2003.8 163.2h37v12.8h-37zM2065.3 163.2h24.7v12.8h-24.7zM2126.8 163.2h110.8v12.8h-110.8zM2249.8 163.2h73.9v12.8h-73.9zM2335.9 163.2h24.7v12.8h-24.7zM1597.9 175.9h123.1v12.8h-123.1zM1733.2 175.9h61.6v12.8h-61.6zM1807 175.9h196.9v12.8h-196.9zM2016.1 175.9h73.9v12.8h-73.9zM2114.5 175.9h246.1v12.8h-246.1zM1597.9 188.6h98.5v12.8h-98.5zM1708.6 188.6h12.4v12.8h-12.4zM1733.2 188.6h61.6v12.8h-61.6zM1807 188.6h172.3v12.8h-172.3zM2003.8 188.6h86.2v12.8h-86.2zM2114.5 188.6h246.1v12.8h-246.1zM1597.9 201.3h12.4v12.8h-12.4zM1622.5 201.3h49.3v12.8h-49.3zM1684 201.3h24.7v12.8h-24.7zM1745.5 201.3h12.4v12.8h-12.4zM1794.7 201.3h24.7v12.8h-24.7zM1831.6 201.3h49.3v12.8h-49.3zM1893.1 201.3h12.4v12.8h-12.4zM1942.3 201.3h24.7v12.8h-24.7zM2003.8 201.3h24.7v12.8h-24.7zM2040.7 201.3h49.3v12.8h-49.3zM2102.2 201.3h49.3v12.8h-49.3zM2188.3 201.3h12.4v12.8h-12.4zM2212.9 201.3h12.4v12.8h-12.4zM2237.5 201.3h37v12.8h-37zM2286.7 201.3h24.7v12.8h-24.7zM2335.9 201.3h12.4v12.8h-12.4zM1597.9 214h98.5v12.8h-98.5zM1708.6 214h110.8v12.8h-110.8zM1831.6 214h135.4v12.8h-135.4zM1979.2 214h12.4v12.8h-12.4zM2003.8 214h86.2v12.8h-86.2zM2114.5 214h123.1v12.8h-123.1zM2249.8 214h73.9v12.8h-73.9zM2335.9 214h24.7v12.8h-24.7zM1597.9 226.8h196.9v12.8h-196.9zM1807 226.8h184.6v12.8h-184.6zM2016.1 226.8h344.5v12.8h-344.5zM1597.9 239.5h393.7v12.8h-393.7zM2016.1 239.5h37v12.8h-37zM2065.3 239.5h24.7v12.8h-24.7zM2114.5 239.5h123.1v12.8h-123.1zM2249.8 239.5h110.8v12.8h-110.8zM1597.9 252.2h393.7v12.8h-393.7zM2016.1 252.2h73.9v12.8h-73.9zM2126.8 252.2h196.9v12.8h-196.9zM2335.9 252.2h24.7v12.8h-24.7zM1597.9 264.9h123.1v12.8h-123.1zM1733.2 264.9h61.6v12.8h-61.6zM1807 264.9h184.6v12.8h-184.6zM2003.8 264.9h233.8v12.8h-233.8zM2249.8 264.9h110.8v12.8h-110.8zM1597.9 277.6h98.5v12.8h-98.5zM1708.6 277.6h283v12.8h-283zM2003.8 277.6h233.8v12.8h-233.8zM2249.8 277.6h110.8v12.8h-110.8zM1597.9 290.3h98.5v12.8h-98.5zM1708.6 290.3h12.4v12.8h-12.4zM1733.2 290.3h61.6v12.8h-61.6zM1807 290.3h12.4v12.8h-12.4zM1831.6 290.3h98.5v12.8h-98.5zM1942.3 290.3h24.7v12.8h-24.7zM2003.8 290.3h86.2v12.8h-86.2zM2114.5 290.3h123.1v12.8h-123.1zM2249.8 290.3h73.9v12.8h-73.9zM2335.9 290.3h12.4v12.8h-12.4zM1597.9 303h381.4v12.8h-381.4zM1991.5 303h332.2v12.8h-332.2zM2335.9 303h12.4v12.8h-12.4zM1597.9 315.8h123.1v12.8h-123.1zM1733.2 315.8h246.1v12.8h-246.1zM2003.8 315.8h110.8v12.8h-110.8zM2126.8 315.8h233.8v12.8h-233.8zM1597.9 328.5h49.3v12.8h-49.3zM1659.4 328.5h37v12.8h-37zM1720.9 328.5h12.4v12.8h-12.4zM1745.5 328.5h12.4v12.8h-12.4zM1770.1 328.5h147.7v12.8h-147.7zM1930 328.5h37v12.8h-37zM1979.2 328.5h12.4v12.8h-12.4zM2016.1 328.5h12.4v12.8h-12.4zM2040.7 328.5h12.4v12.8h-12.4zM2065.3 328.5h24.7v12.8h-24.7zM2102.2 328.5h24.7v12.8h-24.7zM2139.1 328.5h49.3v12.8h-49.3zM2200.6 328.5h73.9v12.8h-73.9zM2286.7 328.5h24.7v12.8h-24.7zM2323.6 328.5h37v12.8h-37zM1610.2 341.2h61.6v12.8h-61.6zM1684 341.2h12.4v12.8h-12.4zM1720.9 341.2h12.4v12.8h-12.4zM1745.5 341.2h12.4v12.8h-12.4zM1782.4 341.2h12.4v12.8h-12.4zM1831.6 341.2h37v12.8h-37zM1942.3 341.2h24.7v12.8h-24.7zM1991.5 341.2h37v12.8h-37zM2040.7 341.2h24.7v12.8h-24.7zM2077.6 341.2h73.9v12.8h-73.9zM2163.7 341.2h24.7v12.8h-24.7zM2212.9 341.2h12.4v12.8h-12.4zM2237.5 341.2h12.4v12.8h-12.4zM2286.7 341.2h12.4v12.8h-12.4zM2323.6 341.2h37v12.8h-37zM1597.9 353.9h12.4v12.8h-12.4zM1622.5 353.9h12.4v12.8h-12.4zM1647.1 353.9h12.4v12.8h-12.4zM1671.7 353.9h24.7v12.8h-24.7zM1708.6 353.9h24.7v12.8h-24.7zM1794.7 353.9h24.7v12.8h-24.7zM1843.9 353.9h12.4v12.8h-12.4zM1893.1 353.9h12.4v12.8h-12.4zM1917.7 353.9h12.4v12.8h-12.4zM1942.3 353.9h12.4v12.8h-12.4zM1979.2 353.9h12.4v12.8h-12.4zM2003.8 353.9h12.4v12.8h-12.4zM2028.4 353.9h12.4v12.8h-12.4zM2053 353.9h61.6v12.8h-61.6zM2126.8 353.9h24.7v12.8h-24.7zM2163.7 353.9h24.7v12.8h-24.7zM2212.9 353.9h12.4v12.8h-12.4zM2286.7 353.9h37v12.8h-37zM2335.9 353.9h12.4v12.8h-12.4zM1597.9 366.6h762.7v12.8h-762.7zM1597.9 379.3h160v12.8h-160zM1770.1 379.3h12.4v12.8h-12.4zM1794.7 379.3h135.4v12.8h-135.4zM1942.3 379.3h24.7v12.8h-24.7zM1979.2 379.3h12.4v12.8h-12.4zM2003.8 379.3h98.5v12.8h-98.5zM2114.5 379.3h209.2v12.8h-209.2zM2335.9 379.3h24.7v12.8h-24.7zM1597.9 392.1h98.5v12.8h-98.5zM1720.9 392.1h12.4v12.8h-12.4zM1794.7 392.1h12.4v12.8h-12.4zM1831.6 392.1h86.2v12.8h-86.2zM1930 392.1h184.6v12.8h-184.6zM2126.8 392.1h73.9v12.8h-73.9zM2212.9 392.1h61.6v12.8h-61.6zM2286.7 392.1h37v12.8h-37zM2348.2 392.1h12.4v12.8h-12.4zM1597.9 404.8h110.8v12.8h-110.8zM1720.9 404.8h12.4v12.8h-12.4zM1782.4 404.8h37v12.8h-37zM1831.6 404.8h258.4v12.8h-258.4zM2102.2 404.8h172.3v12.8h-172.3zM2286.7 404.8h37v12.8h-37zM2348.2 404.8h12.4v12.8h-12.4zM1597.9 417.5h393.7v12.8h-393.7zM2003.8 417.5h98.5v12.8h-98.5zM2126.8 417.5h110.8v12.8h-110.8zM2249.8 417.5h73.9v12.8h-73.9zM2335.9 417.5h24.7v12.8h-24.7zM1597.9 430.2h492.1v12.8h-492.1zM2102.2 430.2h258.4v12.8h-258.4zM1597.9 442.9h98.5v12.8h-98.5zM1733.2 442.9h12.4v12.8h-12.4zM1757.8 442.9h49.3v12.8h-49.3zM1831.6 442.9h37v12.8h-37zM1917.7 442.9h12.4v12.8h-12.4zM1942.3 442.9h24.7v12.8h-24.7zM1979.2 442.9h135.4v12.8h-135.4zM2126.8 442.9h61.6v12.8h-61.6zM2225.2 442.9h37v12.8h-37zM2274.4 442.9h24.7v12.8h-24.7zM2311.3 442.9h12.4v12.8h-12.4zM2348.2 442.9h12.4v12.8h-12.4zM1597.9 455.6h61.6v12.8h-61.6zM1671.7 455.6h24.7v12.8h-24.7zM1720.9 455.6h12.4v12.8h-12.4zM1819.3 455.6h12.4v12.8h-12.4zM1843.9 455.6h37v12.8h-37zM1905.4 455.6h12.4v12.8h-12.4zM1930 455.6h12.4v12.8h-12.4zM1966.9 455.6h61.6v12.8h-61.6zM2040.7 455.6h24.7v12.8h-24.7zM2077.6 455.6h12.4v12.8h-12.4zM2102.2 455.6h12.4v12.8h-12.4zM2139.1 455.6h12.4v12.8h-12.4zM2262.1 455.6h12.4v12.8h-12.4zM1597.9 468.3h123.1v12.8h-123.1zM1733.2 468.3h24.7v12.8h-24.7zM1770.1 468.3h196.9v12.8h-196.9zM1979.2 468.3h123.1v12.8h-123.1zM2114.5 468.3h12.4v12.8h-12.4zM2163.7 468.3h73.9v12.8h-73.9zM2262.1 468.3h61.6v12.8h-61.6zM2335.9 468.3h12.4v12.8h-12.4zM1597.9 481.1h12.4v12.8h-12.4zM1622.5 481.1h73.9v12.8h-73.9zM1708.6 481.1h49.3v12.8h-49.3zM1770.1 481.1h86.2v12.8h-86.2zM1868.5 481.1h110.8v12.8h-110.8zM1991.5 481.1h12.4v12.8h-12.4zM2016.1 481.1h49.3v12.8h-49.3zM2077.6 481.1h12.4v12.8h-12.4zM2126.8 481.1h24.7v12.8h-24.7zM2163.7 481.1h61.6v12.8h-61.6zM2249.8 481.1h73.9v12.8h-73.9zM2335.9 481.1h24.7v12.8h-24.7zM1597.9 493.8h196.9v12.8h-196.9zM1807 493.8h184.6v12.8h-184.6zM2003.8 493.8h86.2v12.8h-86.2zM2102.2 493.8h221.5v12.8h-221.5zM2335.9 493.8h24.7v12.8h-24.7zM1597.9 506.5h393.7v12.8h-393.7zM2003.8 506.5h356.8v12.8h-356.8zM1597.9 519.2h12.4v12.8h-12.4zM1622.5 519.2h73.9v12.8h-73.9zM1708.6 519.2h12.4v12.8h-12.4zM1733.2 519.2h12.4v12.8h-12.4zM1770.1 519.2h24.7v12.8h-24.7zM1807 519.2h12.4v12.8h-12.4zM1831.6 519.2h172.3v12.8h-172.3zM2016.1 519.2h49.3v12.8h-49.3zM2077.6 519.2h12.4v12.8h-12.4zM2114.5 519.2h37v12.8h-37zM2163.7 519.2h73.9v12.8h-73.9zM2249.8 519.2h73.9v12.8h-73.9zM2335.9 519.2h24.7v12.8h-24.7zM1597.9 531.9h123.1v12.8h-123.1zM1733.2 531.9h61.6v12.8h-61.6zM1807 531.9h184.6v12.8h-184.6zM2003.8 531.9h49.3v12.8h-49.3zM2065.3 531.9h37v12.8h-37zM2126.8 531.9h110.8v12.8h-110.8zM2249.8 531.9h73.9v12.8h-73.9zM2335.9 531.9h24.7v12.8h-24.7zM1597.9 544.6h196.9v12.8h-196.9zM1807 544.6h196.9v12.8h-196.9zM2016.1 544.6h73.9v12.8h-73.9zM2114.5 544.6h123.1v12.8h-123.1zM2249.8 544.6h73.9v12.8h-73.9zM2335.9 544.6h24.7v12.8h-24.7zM1597.9 557.3h123.1v12.8h-123.1zM1733.2 557.3h61.6v12.8h-61.6zM1807 557.3h184.6v12.8h-184.6zM2016.1 557.3h86.2v12.8h-86.2zM2114.5 557.3h246.1v12.8h-246.1zM1597.9 570.1h393.7v12.8h-393.7zM2016.1 570.1h73.9v12.8h-73.9zM2114.5 570.1h123.1v12.8h-123.1zM2249.8 570.1h110.8v12.8h-110.8zM1597.9 582.8h123.1v12.8h-123.1zM1733.2 582.8h61.6v12.8h-61.6zM1807 582.8h196.9v12.8h-196.9zM2016.1 582.8h73.9v12.8h-73.9zM2114.5 582.8h246.1v12.8h-246.1zM1597.9 595.5h123.1v12.8h-123.1zM1745.5 595.5h12.4v12.8h-12.4zM1770.1 595.5h196.9v12.8h-196.9zM1979.2 595.5h110.8v12.8h-110.8zM2102.2 595.5h258.4v12.8h-258.4zM1597.9 608.2h762.7v12.8h-762.7zM1597.9 620.9h393.7v12.8h-393.7zM2003.8 620.9h86.2v12.8h-86.2zM2102.2 620.9h258.4v12.8h-258.4zM1597.9 633.6h135.4v12.8h-135.4zM1745.5 633.6h12.4v12.8h-12.4zM1770.1 633.6h160v12.8h-160zM1942.3 633.6h61.6v12.8h-61.6zM2016.1 633.6h24.7v12.8h-24.7zM2065.3 633.6h24.7v12.8h-24.7zM2114.5 633.6h37v12.8h-37zM2163.7 633.6h61.6v12.8h-61.6zM2249.8 633.6h110.8v12.8h-110.8zM1597.9 646.4h393.7v12.8h-393.7zM2016.1 646.4h37v12.8h-37zM2065.3 646.4h37v12.8h-37zM2114.5 646.4h209.2v12.8h-209.2zM2335.9 646.4h24.7v12.8h-24.7zM1597.9 659.1h12.4v12.8h-12.4zM1622.5 659.1h37v12.8h-37zM1671.7 659.1h12.4v12.8h-12.4zM1720.9 659.1h12.4v12.8h-12.4zM1745.5 659.1h12.4v12.8h-12.4zM1782.4 659.1h86.2v12.8h-86.2zM1880.8 659.1h12.4v12.8h-12.4zM1942.3 659.1h12.4v12.8h-12.4zM1966.9 659.1h24.7v12.8h-24.7zM2003.8 659.1h98.5v12.8h-98.5zM2114.5 659.1h37v12.8h-37zM2163.7 659.1h12.4v12.8h-12.4zM2188.3 659.1h24.7v12.8h-24.7zM2225.2 659.1h24.7v12.8h-24.7zM2286.7 659.1h24.7v12.8h-24.7zM2323.6 659.1h12.4v12.8h-12.4zM1597.9 671.8h49.3v12.8h-49.3zM1659.4 671.8h37v12.8h-37zM1708.6 671.8h283v12.8h-283zM2003.8 671.8h49.3v12.8h-49.3zM2077.6 671.8h12.4v12.8h-12.4zM2102.2 671.8h135.4v12.8h-135.4zM2249.8 671.8h110.8v12.8h-110.8zM1597.9 684.5h196.9v12.8h-196.9zM1807 684.5h184.6v12.8h-184.6zM2003.8 684.5h37v12.8h-37zM2065.3 684.5h24.7v12.8h-24.7zM2114.5 684.5h123.1v12.8h-123.1zM2249.8 684.5h110.8v12.8h-110.8zM1597.9 697.2h49.3v12.8h-49.3zM1659.4 697.2h37v12.8h-37zM1708.6 697.2h12.4v12.8h-12.4zM1733.2 697.2h61.6v12.8h-61.6zM1807 697.2h12.4v12.8h-12.4zM1831.6 697.2h24.7v12.8h-24.7zM1868.5 697.2h61.6v12.8h-61.6zM1942.3 697.2h24.7v12.8h-24.7zM2003.8 697.2h37v12.8h-37zM2077.6 697.2h12.4v12.8h-12.4zM2126.8 697.2h110.8v12.8h-110.8zM2249.8 697.2h73.9v12.8h-73.9zM2335.9 697.2h24.7v12.8h-24.7zM1597.9 709.9h49.3v12.8h-49.3zM1659.4 709.9h270.7v12.8h-270.7zM1942.3 709.9h49.3v12.8h-49.3zM2016.1 709.9h24.7v12.8h-24.7zM2065.3 709.9h24.7v12.8h-24.7zM2102.2 709.9h258.4v12.8h-258.4zM1597.9 722.6h98.5v12.8h-98.5zM1708.6 722.6h86.2v12.8h-86.2zM1807 722.6h12.4v12.8h-12.4zM1831.6 722.6h24.7v12.8h-24.7zM1868.5 722.6h123.1v12.8h-123.1zM2003.8 722.6h37v12.8h-37zM2065.3 722.6h24.7v12.8h-24.7zM2126.8 722.6h110.8v12.8h-110.8zM2249.8 722.6h73.9v12.8h-73.9zM2335.9 722.6h24.7v12.8h-24.7zM1597.9 735.4h49.3v12.8h-49.3zM1659.4 735.4h98.5v12.8h-98.5zM1770.1 735.4h86.2v12.8h-86.2zM1880.8 735.4h12.4v12.8h-12.4zM1905.4 735.4h12.4v12.8h-12.4zM1942.3 735.4h37v12.8h-37zM1991.5 735.4h12.4v12.8h-12.4zM2016.1 735.4h110.8v12.8h-110.8zM2139.1 735.4h12.4v12.8h-12.4zM2163.7 735.4h12.4v12.8h-12.4zM2188.3 735.4h49.3v12.8h-49.3zM2286.7 735.4h37v12.8h-37zM2335.9 735.4h12.4v12.8h-12.4zM1597.9 748.1h196.9v12.8h-196.9zM1807 748.1h184.6v12.8h-184.6zM2016.1 748.1h24.7v12.8h-24.7zM2065.3 748.1h37v12.8h-37zM2126.8 748.1h110.8v12.8h-110.8zM2249.8 748.1h73.9v12.8h-73.9zM2335.9 748.1h24.7v12.8h-24.7zM1597.9 760.8h12.4v12.8h-12.4zM1622.5 760.8h110.8v12.8h-110.8zM1745.5 760.8h12.4v12.8h-12.4zM1770.1 760.8h12.4v12.8h-12.4zM1807 760.8h123.1v12.8h-123.1zM1942.3 760.8h24.7v12.8h-24.7zM1979.2 760.8h12.4v12.8h-12.4zM2016.1 760.8h37v12.8h-37zM2065.3 760.8h24.7v12.8h-24.7zM2126.8 760.8h24.7v12.8h-24.7zM2176 760.8h49.3v12.8h-49.3zM2237.5 760.8h12.4v12.8h-12.4zM2262.1 760.8h61.6v12.8h-61.6zM2335.9 760.8h12.4v12.8h-12.4zM1597.9 773.5h196.9v12.8h-196.9zM1807 773.5h553.6v12.8h-553.6zM1597.9 786.2h49.3v12.8h-49.3zM1659.4 786.2h442.9v12.8h-442.9zM2114.5 786.2h123.1v12.8h-123.1zM2249.8 786.2h110.8v12.8h-110.8zM1597.9 798.9h196.9v12.8h-196.9zM1807 798.9h184.6v12.8h-184.6zM2003.8 798.9h86.2v12.8h-86.2zM2102.2 798.9h258.4v12.8h-258.4zM1597.9 811.6h12.4v12.8h-12.4zM1622.5 811.6h49.3v12.8h-49.3zM1684 811.6h37v12.8h-37zM1733.2 811.6h12.4v12.8h-12.4zM1770.1 811.6h12.4v12.8h-12.4zM1794.7 811.6h319.9v12.8h-319.9zM2126.8 811.6h196.9v12.8h-196.9zM2335.9 811.6h24.7v12.8h-24.7zM1597.9 824.4h492.1v12.8h-492.1zM2102.2 824.4h258.4v12.8h-258.4zM1597.9 837.1h762.7v12.8h-762.7zM1597.9 849.8h49.3v12.8h-49.3zM1659.4 849.8h37v12.8h-37zM1708.6 849.8h86.2v12.8h-86.2zM1807 849.8h123.1v12.8h-123.1zM1942.3 849.8h24.7v12.8h-24.7zM1979.2 849.8h110.8v12.8h-110.8zM2102.2 849.8h135.4v12.8h-135.4zM2249.8 849.8h110.8v12.8h-110.8zM1597.9 862.5h504.4v12.8h-504.4zM2114.5 862.5h246.1v12.8h-246.1z"/>
<path fill="#ffd3c4" d="M1598.3 87.3h11.6v12h-11.6zM1610.6 87.3h11.6v12h-11.6zM1635.2 87.3h11.6v12h-11.6zM1672.1 87.3h11.6v12h-11.6zM1832 87.3h11.6v12h-11.6zM1844.3 87.3h11.6v12h-11.6zM1868.9 87.3h11.6v12h-11.6zM1881.2 87.3h11.6v12h-11.6zM1893.5 87.3h11.6v12h-11.6zM1942.7 87.3h11.6v12h-11.6zM2016.5 87.3h11.6v12h-11.6zM2127.2 87.3h11.6v12h-11.6zM2262.5 87.3h11.6v12h-11.6zM2287.1 87.3h11.6v12h-11.6zM1598.3 100h11.6v12h-11.6zM1622.9 100h11.6v12h-11.6zM1709 100h11.6v12h-11.6zM1745.9 100h11.6v12h-11.6zM1770.5 100h11.6v12h-11.6zM1807.4 100h11.6v12h-11.6zM1856.6 100h11.6v12h-11.6zM1881.2 100h11.6v12h-11.6zM1905.8 100h11.6v12h-11.6zM1918.1 100h11.6v12h-11.6zM1955 100h11.6v12h-11.6zM2016.5 100h11.6v12h-11.6zM2028.8 100h11.6v12h-11.6zM2065.7 100h11.6v12h-11.6zM2164.1 100h11.6v12h-11.6zM2176.4 100h11.6v12h-11.6zM2188.7 100h11.6v12h-11.6zM2201 100h11.6v12h-11.6zM2274.8 100h11.6v12h-11.6zM1622.9 125.4h11.6v12h-11.6zM1672.1 125.4h11.6v12h-11.6zM1709 125.4h11.6v12h-11.6zM1733.6 125.4h11.6v12h-11.6zM1745.9 125.4h11.6v12h-11.6zM1770.5 125.4h11.6v12h-11.6zM1807.4 125.4h11.6v12h-11.6zM1832 125.4h11.6v12h-11.6zM1881.2 125.4h11.6v12h-11.6zM1905.8 125.4h11.6v12h-11.6zM1967.3 125.4h11.6v12h-11.6zM2078 125.4h11.6v12h-11.6zM2151.8 125.4h11.6v12h-11.6zM2164.1 125.4h11.6v12h-11.6zM2176.4 125.4h11.6v12h-11.6zM2188.7 125.4h11.6v12h-11.6zM2201 125.4h11.6v12h-11.6zM2213.3 125.4h11.6v12h-11.6zM1758.2 138.2h11.6v12h-11.6zM1967.3 138.2h11.6v12h-11.6zM2151.8 138.2h11.6v12h-11.6zM2225.6 138.2h11.6v12h-11.6zM2250.2 138.2h11.6v12h-11.6zM1758.2 150.9h11.6v12h-11.6zM1967.3 150.9h11.6v12h-11.6zM2053.4 150.9h11.6v12h-11.6zM2151.8 150.9h11.6v12h-11.6zM2225.6 150.9h11.6v12h-11.6zM2250.2 150.9h11.6v12h-11.6zM2348.6 150.9h11.6v12h-11.6zM1647.5 163.6h11.6v12h-11.6zM1758.2 163.6h11.6v12h-11.6zM1782.8 163.6h11.6v12h-11.6zM1930.4 163.6h11.6v12h-11.6zM1955 163.6h11.6v12h-11.6zM1967.3 163.6h11.6v12h-11.6zM2016.5 163.6h11.6v12h-11.6zM2078 163.6h11.6v12h-11.6zM2250.2 163.6h11.6v12h-11.6zM2336.3 163.6h11.6v12h-11.6zM1610.6 176.3h11.6v12h-11.6zM1647.5 176.3h11.6v12h-11.6zM1733.6 176.3h11.6v12h-11.6zM1758.2 176.3h11.6v12h-11.6zM1967.3 176.3h11.6v12h-11.6zM2065.7 176.3h11.6v12h-11.6zM2151.8 176.3h11.6v12h-11.6zM2225.6 176.3h11.6v12h-11.6zM2348.6 176.3h11.6v12h-11.6zM1598.3 189h11.6v12h-11.6zM1635.2 189h11.6v12h-11.6zM1672.1 189h11.6v12h-11.6zM1770.5 189h11.6v12h-11.6zM1807.4 189h11.6v12h-11.6zM1832 189h11.6v12h-11.6zM1844.3 189h11.6v12h-11.6zM1881.2 189h11.6v12h-11.6zM1893.5 189h11.6v12h-11.6zM1918.1 189h11.6v12h-11.6zM1955 189h11.6v12h-11.6zM2016.5 189h11.6v12h-11.6zM2028.8 189h11.6v12h-11.6zM2078 189h11.6v12h-11.6zM2127.2 189h11.6v12h-11.6zM2164.1 189h11.6v12h-11.6zM2201 189h11.6v12h-11.6zM2213.3 189h11.6v12h-11.6zM2274.8 189h11.6v12h-11.6zM2287.1 189h11.6v12h-11.6zM2299.4 189h11.6v12h-11.6zM2016.5 201.7h11.6v12h-11.6zM2041.1 201.7h11.6v12h-11.6zM2053.4 201.7h11.6v12h-11.6zM1635.2 214.4h11.6v12h-11.6zM1832 214.4h11.6v12h-11.6zM1844.3 214.4h11.6v12h-11.6zM1868.9 214.4h11.6v12h-11.6zM1893.5 214.4h11.6v12h-11.6zM1942.7 214.4h11.6v12h-11.6zM2016.5 214.4h11.6v12h-11.6zM2078 214.4h11.6v12h-11.6zM2127.2 214.4h11.6v12h-11.6zM2213.3 214.4h11.6v12h-11.6zM2262.5 214.4h11.6v12h-11.6zM2287.1 214.4h11.6v12h-11.6zM2299.4 214.4h11.6v12h-11.6zM1647.5 227.2h11.6v12h-11.6zM1709 227.2h11.6v12h-11.6zM1733.6 227.2h11.6v12h-11.6zM1930.4 227.2h11.6v12h-11.6zM1967.3 227.2h11.6v12h-11.6zM2090.3 227.2h11.6v12h-11.6zM2151.8 227.2h11.6v12h-11.6zM2225.6 227.2h11.6v12h-11.6zM2250.2 227.2h11.6v12h-11.6zM2311.7 227.2h11.6v12h-11.6zM1610.6 239.9h11.6v12h-11.6zM1709 239.9h11.6v12h-11.6zM1733.6 239.9h11.6v12h-11.6zM1782.8 239.9h11.6v12h-11.6zM1856.6 239.9h11.6v12h-11.6zM1905.8 239.9h11.6v12h-11.6zM1918.1 239.9h11.6v12h-11.6zM1967.3 239.9h11.6v12h-11.6zM2028.8 239.9h11.6v12h-11.6zM2065.7 239.9h11.6v12h-11.6zM2139.5 239.9h11.6v12h-11.6zM2151.8 239.9h11.6v12h-11.6zM2188.7 239.9h11.6v12h-11.6zM2250.2 239.9h11.6v12h-11.6zM2311.7 239.9h11.6v12h-11.6zM2336.3 239.9h11.6v12h-11.6zM1647.5 252.6h11.6v12h-11.6zM1709 252.6h11.6v12h-11.6zM1733.6 252.6h11.6v12h-11.6zM1745.9 252.6h11.6v12h-11.6zM1770.5 252.6h11.6v12h-11.6zM1856.6 252.6h11.6v12h-11.6zM1905.8 252.6h11.6v12h-11.6zM1918.1 252.6h11.6v12h-11.6zM1955 252.6h11.6v12h-11.6zM2065.7 252.6h11.6v12h-11.6zM2164.1 252.6h11.6v12h-11.6zM2201 252.6h11.6v12h-11.6zM2311.7 252.6h11.6v12h-11.6zM2336.3 252.6h11.6v12h-11.6zM1672.1 265.3h11.6v12h-11.6zM1709 265.3h11.6v12h-11.6zM1733.6 265.3h11.6v12h-11.6zM1745.9 265.3h11.6v12h-11.6zM1770.5 265.3h11.6v12h-11.6zM1782.8 265.3h11.6v12h-11.6zM1807.4 265.3h11.6v12h-11.6zM1856.6 265.3h11.6v12h-11.6zM1905.8 265.3h11.6v12h-11.6zM1918.1 265.3h11.6v12h-11.6zM1955 265.3h11.6v12h-11.6zM1967.3 265.3h11.6v12h-11.6zM2114.9 265.3h11.6v12h-11.6zM2151.8 265.3h11.6v12h-11.6zM2311.7 265.3h11.6v12h-11.6zM2336.3 265.3h11.6v12h-11.6zM1672.1 278h11.6v12h-11.6zM1709 278h11.6v12h-11.6zM1733.6 278h11.6v12h-11.6zM1782.8 278h11.6v12h-11.6zM1807.4 278h11.6v12h-11.6zM1856.6 278h11.6v12h-11.6zM1905.8 278h11.6v12h-11.6zM1967.3 278h11.6v12h-11.6zM2065.7 278h11.6v12h-11.6zM2139.5 278h11.6v12h-11.6zM2188.7 278h11.6v12h-11.6zM2250.2 278h11.6v12h-11.6zM2311.7 278h11.6v12h-11.6zM2336.3 278h11.6v12h-11.6zM1622.9 290.7h11.6v12h-11.6zM1635.2 290.7h11.6v12h-11.6zM1807.4 290.7h11.6v12h-11.6zM1832 290.7h11.6v12h-11.6zM1844.3 290.7h11.6v12h-11.6zM1868.9 290.7h11.6v12h-11.6zM1893.5 290.7h11.6v12h-11.6zM1942.7 290.7h11.6v12h-11.6zM2028.8 290.7h11.6v12h-11.6zM2078 290.7h11.6v12h-11.6zM2127.2 290.7h11.6v12h-11.6zM2139.5 290.7h11.6v12h-11.6zM2176.4 290.7h11.6v12h-11.6zM2201 290.7h11.6v12h-11.6zM2213.3 290.7h11.6v12h-11.6zM2262.5 290.7h11.6v12h-11.6zM2287.1 290.7h11.6v12h-11.6zM2299.4 290.7h11.6v12h-11.6zM2311.7 290.7h11.6v12h-11.6zM1622.9 303.4h11.6v12h-11.6zM1672.1 303.4h11.6v12h-11.6zM1709 303.4h11.6v12h-11.6zM1733.6 303.4h11.6v12h-11.6zM1745.9 303.4h11.6v12h-11.6zM1758.2 303.4h11.6v12h-11.6zM1770.5 303.4h11.6v12h-11.6zM1807.4 303.4h11.6v12h-11.6zM1832 303.4h11.6v12h-11.6zM1856.6 303.4h11.6v12h-11.6zM2078 303.4h11.6v12h-11.6zM2151.8 303.4h11.6v12h-11.6zM2164.1 303.4h11.6v12h-11.6zM2201 303.4h11.6v12h-11.6zM1610.6 316.2h11.6v12h-11.6zM1733.6 316.2h11.6v12h-11.6zM1782.8 316.2h11.6v12h-11.6zM1930.4 316.2h11.6v12h-11.6zM1967.3 316.2h11.6v12h-11.6zM2065.7 316.2h11.6v12h-11.6zM2151.8 316.2h11.6v12h-11.6zM2225.6 316.2h11.6v12h-11.6zM2250.2 316.2h11.6v12h-11.6zM2348.6 316.2h11.6v12h-11.6zM1610.6 328.9h11.6v12h-11.6zM2176.4 328.9h11.6v12h-11.6zM2004.2 341.6h11.6v12h-11.6zM1795.1 354.3h11.6v12h-11.6zM2213.3 354.3h11.6v12h-11.6zM1598.3 367h11.6v12h-11.6zM1610.6 367h11.6v12h-11.6zM1709 367h11.6v12h-11.6zM1721.3 367h11.6v12h-11.6zM1745.9 367h11.6v12h-11.6zM1770.5 367h11.6v12h-11.6zM1795.1 367h11.6v12h-11.6zM1856.6 367h11.6v12h-11.6zM1905.8 367h11.6v12h-11.6zM1918.1 367h11.6v12h-11.6zM1930.4 367h11.6v12h-11.6zM1967.3 367h11.6v12h-11.6zM2139.5 367h11.6v12h-11.6zM2151.8 367h11.6v12h-11.6zM2225.6 367h11.6v12h-11.6zM2250.2 367h11.6v12h-11.6zM2274.8 367h11.6v12h-11.6zM2311.7 367h11.6v12h-11.6zM1622.9 379.7h11.6v12h-11.6zM1635.2 379.7h11.6v12h-11.6zM1647.5 379.7h11.6v12h-11.6zM1745.9 379.7h11.6v12h-11.6zM1807.4 379.7h11.6v12h-11.6zM1856.6 379.7h11.6v12h-11.6zM1868.9 379.7h11.6v12h-11.6zM1893.5 379.7h11.6v12h-11.6zM2016.5 379.7h11.6v12h-11.6zM2028.8 379.7h11.6v12h-11.6zM2127.2 379.7h11.6v12h-11.6zM2164.1 379.7h11.6v12h-11.6zM2188.7 379.7h11.6v12h-11.6zM2201 379.7h11.6v12h-11.6zM2262.5 379.7h11.6v12h-11.6zM2336.3 379.7h11.6v12h-11.6zM1635.2 392.5h11.6v12h-11.6zM1942.7 392.5h11.6v12h-11.6zM1979.6 392.5h11.6v12h-11.6zM2237.9 392.5h11.6v12h-11.6zM2287.1 392.5h11.6v12h-11.6zM1610.6 405.2h11.6v12h-11.6zM1795.1 405.2h11.6v12h-11.6zM2237.9 405.2h11.6v12h-11.6zM1598.3 417.9h11.6v12h-11.6zM1733.6 417.9h11.6v12h-11.6zM1745.9 417.9h11.6v12h-11.6zM1881.2 417.9h11.6v12h-11.6zM1905.8 417.9h11.6v12h-11.6zM1918.1 417.9h11.6v12h-11.6zM1955 417.9h11.6v12h-11.6zM2065.7 417.9h11.6v12h-11.6zM2151.8 417.9h11.6v12h-11.6zM2201 417.9h11.6v12h-11.6zM2250.2 417.9h11.6v12h-11.6zM2336.3 417.9h11.6v12h-11.6zM1709 430.6h11.6v12h-11.6zM1733.6 430.6h11.6v12h-11.6zM1782.8 430.6h11.6v12h-11.6zM1795.1 430.6h11.6v12h-11.6zM1918.1 430.6h11.6v12h-11.6zM1930.4 430.6h11.6v12h-11.6zM1967.3 430.6h11.6v12h-11.6zM2065.7 430.6h11.6v12h-11.6zM2225.6 430.6h11.6v12h-11.6zM2237.9 430.6h11.6v12h-11.6zM2250.2 430.6h11.6v12h-11.6zM2274.8 430.6h11.6v12h-11.6zM2336.3 430.6h11.6v12h-11.6zM2348.6 430.6h11.6v12h-11.6zM1635.2 443.3h11.6v12h-11.6zM1942.7 443.3h11.6v12h-11.6zM2102.6 443.3h11.6v12h-11.6zM1684.4 468.7h11.6v12h-11.6zM2053.4 468.7h11.6v12h-11.6zM1635.2 481.5h11.6v12h-11.6zM1868.9 481.5h11.6v12h-11.6zM1881.2 481.5h11.6v12h-11.6zM1893.5 481.5h11.6v12h-11.6zM1905.8 481.5h11.6v12h-11.6zM1930.4 481.5h11.6v12h-11.6zM1942.7 481.5h11.6v12h-11.6zM1955 481.5h11.6v12h-11.6zM2016.5 481.5h11.6v12h-11.6zM2078 481.5h11.6v12h-11.6zM2127.2 481.5h11.6v12h-11.6zM2164.1 481.5h11.6v12h-11.6zM2176.4 481.5h11.6v12h-11.6zM2201 481.5h11.6v12h-11.6zM2213.3 481.5h11.6v12h-11.6zM2262.5 481.5h11.6v12h-11.6zM2274.8 481.5h11.6v12h-11.6zM2287.1 481.5h11.6v12h-11.6zM2299.4 481.5h11.6v12h-11.6zM2311.7 481.5h11.6v12h-11.6zM1622.9 494.2h11.6v12h-11.6zM1745.9 494.2h11.6v12h-11.6zM1770.5 494.2h11.6v12h-11.6zM1807.4 494.2h11.6v12h-11.6zM1856.6 494.2h11.6v12h-11.6zM1881.2 494.2h11.6v12h-11.6zM1918.1 494.2h11.6v12h-11.6zM1930.4 494.2h11.6v12h-11.6zM1967.3 494.2h11.6v12h-11.6zM2028.8 494.2h11.6v12h-11.6zM2176.4 494.2h11.6v12h-11.6zM2188.7 494.2h11.6v12h-11.6zM2250.2 494.2h11.6v12h-11.6zM2274.8 494.2h11.6v12h-11.6zM2336.3 494.2h11.6v12h-11.6zM1733.6 506.9h11.6v12h-11.6zM1782.8 506.9h11.6v12h-11.6zM1795.1 506.9h11.6v12h-11.6zM1930.4 506.9h11.6v12h-11.6zM1967.3 506.9h11.6v12h-11.6zM2004.2 506.9h11.6v12h-11.6zM2053.4 506.9h11.6v12h-11.6zM2151.8 506.9h11.6v12h-11.6zM2225.6 506.9h11.6v12h-11.6zM2348.6 506.9h11.6v12h-11.6zM1942.7 519.6h11.6v12h-11.6zM1955 519.6h11.6v12h-11.6zM1967.3 519.6h11.6v12h-11.6zM2016.5 519.6h11.6v12h-11.6zM2078 519.6h11.6v12h-11.6zM2127.2 519.6h11.6v12h-11.6zM2213.3 519.6h11.6v12h-11.6zM2274.8 519.6h11.6v12h-11.6zM1622.9 532.3h11.6v12h-11.6zM1733.6 532.3h11.6v12h-11.6zM1745.9 532.3h11.6v12h-11.6zM1770.5 532.3h11.6v12h-11.6zM1807.4 532.3h11.6v12h-11.6zM1832 532.3h11.6v12h-11.6zM1881.2 532.3h11.6v12h-11.6zM1905.8 532.3h11.6v12h-11.6zM1955 532.3h11.6v12h-11.6zM2016.5 532.3h11.6v12h-11.6zM2028.8 532.3h11.6v12h-11.6zM2078 532.3h11.6v12h-11.6zM2176.4 532.3h11.6v12h-11.6zM2188.7 532.3h11.6v12h-11.6zM2201 532.3h11.6v12h-11.6zM2250.2 532.3h11.6v12h-11.6zM2336.3 532.3h11.6v12h-11.6zM1598.3 545h11.6v12h-11.6zM1672.1 545h11.6v12h-11.6zM1709 545h11.6v12h-11.6zM1733.6 545h11.6v12h-11.6zM1745.9 545h11.6v12h-11.6zM1770.5 545h11.6v12h-11.6zM1782.8 545h11.6v12h-11.6zM1807.4 545h11.6v12h-11.6zM1832 545h11.6v12h-11.6zM1881.2 545h11.6v12h-11.6zM1918.1 545h11.6v12h-11.6zM1967.3 545h11.6v12h-11.6zM2028.8 545h11.6v12h-11.6zM2078 545h11.6v12h-11.6zM2164.1 545h11.6v12h-11.6zM2176.4 545h11.6v12h-11.6zM2188.7 545h11.6v12h-11.6zM2201 545h11.6v12h-11.6zM2311.7 545h11.6v12h-11.6zM2336.3 545h11.6v12h-11.6zM1610.6 557.7h11.6v12h-11.6zM1647.5 557.7h11.6v12h-11.6zM1733.6 557.7h11.6v12h-11.6zM1782.8 557.7h11.6v12h-11.6zM1967.3 557.7h11.6v12h-11.6zM2065.7 557.7h11.6v12h-11.6zM2151.8 557.7h11.6v12h-11.6zM2225.6 557.7h11.6v12h-11.6zM2250.2 557.7h11.6v12h-11.6zM2348.6 557.7h11.6v12h-11.6zM1610.6 570.5h11.6v12h-11.6zM1709 570.5h11.6v12h-11.6zM1733.6 570.5h11.6v12h-11.6zM1905.8 570.5h11.6v12h-11.6zM1918.1 570.5h11.6v12h-11.6zM1955 570.5h11.6v12h-11.6zM1967.3 570.5h11.6v12h-11.6zM2028.8 570.5h11.6v12h-11.6zM2250.2 570.5h11.6v12h-11.6zM2311.7 570.5h11.6v12h-11.6zM2336.3 570.5h11.6v12h-11.6zM2348.6 570.5h11.6v12h-11.6zM1647.5 583.2h11.6v12h-11.6zM1733.6 583.2h11.6v12h-11.6zM1782.8 583.2h11.6v12h-11.6zM1967.3 583.2h11.6v12h-11.6zM2065.7 583.2h11.6v12h-11.6zM2151.8 583.2h11.6v12h-11.6zM2225.6 583.2h11.6v12h-11.6zM2348.6 583.2h11.6v12h-11.6zM1598.3 595.9h11.6v12h-11.6zM1647.5 595.9h11.6v12h-11.6zM1672.1 595.9h11.6v12h-11.6zM1832 595.9h11.6v12h-11.6zM1955 595.9h11.6v12h-11.6zM2065.7 595.9h11.6v12h-11.6zM2078 595.9h11.6v12h-11.6zM2139.5 595.9h11.6v12h-11.6zM2164.1 595.9h11.6v12h-11.6zM2176.4 595.9h11.6v12h-11.6zM2188.7 595.9h11.6v12h-11.6zM2201 595.9h11.6v12h-11.6zM2336.3 595.9h11.6v12h-11.6zM1647.5 608.6h11.6v12h-11.6zM1733.6 608.6h11.6v12h-11.6zM1782.8 608.6h11.6v12h-11.6zM2151.8 608.6h11.6v12h-11.6zM2225.6 608.6h11.6v12h-11.6zM2250.2 608.6h11.6v12h-11.6zM2348.6 608.6h11.6v12h-11.6zM1647.5 621.3h11.6v12h-11.6zM1709 621.3h11.6v12h-11.6zM1733.6 621.3h11.6v12h-11.6zM1782.8 621.3h11.6v12h-11.6zM1856.6 621.3h11.6v12h-11.6zM1905.8 621.3h11.6v12h-11.6zM1918.1 621.3h11.6v12h-11.6zM2139.5 621.3h11.6v12h-11.6zM2151.8 621.3h11.6v12h-11.6zM2225.6 621.3h11.6v12h-11.6zM2250.2 621.3h11.6v12h-11.6zM2311.7 621.3h11.6v12h-11.6zM2348.6 621.3h11.6v12h-11.6zM1684.4 634h11.6v12h-11.6zM1598.3 646.8h11.6v12h-11.6zM1622.9 646.8h11.6v12h-11.6zM1672.1 646.8h11.6v12h-11.6zM1709 646.8h11.6v12h-11.6zM1733.6 646.8h11.6v12h-11.6zM1745.9 646.8h11.6v12h-11.6zM1770.5 646.8h11.6v12h-11.6zM1905.8 646.8h11.6v12h-11.6zM1918.1 646.8h11.6v12h-11.6zM1955 646.8h11.6v12h-11.6zM2065.7 646.8h11.6v12h-11.6zM2139.5 646.8h11.6v12h-11.6zM2151.8 646.8h11.6v12h-11.6zM2164.1 646.8h11.6v12h-11.6zM2176.4 646.8h11.6v12h-11.6zM2250.2 646.8h11.6v12h-11.6zM2311.7 646.8h11.6v12h-11.6zM2336.3 646.8h11.6v12h-11.6zM1942.7 659.5h11.6v12h-11.6zM2016.5 659.5h11.6v12h-11.6zM2041.1 659.5h11.6v12h-11.6zM2078 659.5h11.6v12h-11.6zM2090.3 659.5h11.6v12h-11.6zM1635.2 672.2h11.6v12h-11.6zM1672.1 672.2h11.6v12h-11.6zM1832 672.2h11.6v12h-11.6zM1844.3 672.2h11.6v12h-11.6zM1868.9 672.2h11.6v12h-11.6zM1893.5 672.2h11.6v12h-11.6zM1905.8 672.2h11.6v12h-11.6zM1942.7 672.2h11.6v12h-11.6zM2016.5 672.2h11.6v12h-11.6zM2127.2 672.2h11.6v12h-11.6zM2164.1 672.2h11.6v12h-11.6zM2176.4 672.2h11.6v12h-11.6zM2201 672.2h11.6v12h-11.6zM2274.8 672.2h11.6v12h-11.6zM1622.9 684.9h11.6v12h-11.6zM1672.1 684.9h11.6v12h-11.6zM1709 684.9h11.6v12h-11.6zM1733.6 684.9h11.6v12h-11.6zM1745.9 684.9h11.6v12h-11.6zM1758.2 684.9h11.6v12h-11.6zM1807.4 684.9h11.6v12h-11.6zM1905.8 684.9h11.6v12h-11.6zM1918.1 684.9h11.6v12h-11.6zM1955 684.9h11.6v12h-11.6zM2078 684.9h11.6v12h-11.6zM2139.5 684.9h11.6v12h-11.6zM2176.4 684.9h11.6v12h-11.6zM2188.7 684.9h11.6v12h-11.6zM2250.2 684.9h11.6v12h-11.6zM2311.7 684.9h11.6v12h-11.6zM2336.3 684.9h11.6v12h-11.6zM1635.2 697.6h11.6v12h-11.6zM1770.5 697.6h11.6v12h-11.6zM2139.5 697.6h11.6v12h-11.6zM2262.5 697.6h11.6v12h-11.6zM2274.8 697.6h11.6v12h-11.6zM2287.1 697.6h11.6v12h-11.6zM2299.4 697.6h11.6v12h-11.6zM1610.6 710.3h11.6v12h-11.6zM1622.9 710.3h11.6v12h-11.6zM1709 710.3h11.6v12h-11.6zM1733.6 710.3h11.6v12h-11.6zM1770.5 710.3h11.6v12h-11.6zM1807.4 710.3h11.6v12h-11.6zM1905.8 710.3h11.6v12h-11.6zM1918.1 710.3h11.6v12h-11.6zM1955 710.3h11.6v12h-11.6zM2028.8 710.3h11.6v12h-11.6zM2065.7 710.3h11.6v12h-11.6zM2078 710.3h11.6v12h-11.6zM2139.5 710.3h11.6v12h-11.6zM2176.4 710.3h11.6v12h-11.6zM2188.7 710.3h11.6v12h-11.6zM2311.7 710.3h11.6v12h-11.6zM2336.3 710.3h11.6v12h-11.6zM1598.3 723h11.6v12h-11.6zM1635.2 723h11.6v12h-11.6zM1672.1 723h11.6v12h-11.6zM1709 723h11.6v12h-11.6zM1745.9 723h11.6v12h-11.6zM1770.5 723h11.6v12h-11.6zM1807.4 723h11.6v12h-11.6zM1832 723h11.6v12h-11.6zM1844.3 723h11.6v12h-11.6zM1868.9 723h11.6v12h-11.6zM1881.2 723h11.6v12h-11.6zM1893.5 723h11.6v12h-11.6zM1905.8 723h11.6v12h-11.6zM1918.1 723h11.6v12h-11.6zM1942.7 723h11.6v12h-11.6zM2016.5 723h11.6v12h-11.6zM2028.8 723h11.6v12h-11.6zM2127.2 723h11.6v12h-11.6zM2139.5 723h11.6v12h-11.6zM2164.1 723h11.6v12h-11.6zM2176.4 723h11.6v12h-11.6zM2188.7 723h11.6v12h-11.6zM2201 723h11.6v12h-11.6zM2213.3 723h11.6v12h-11.6zM2262.5 723h11.6v12h-11.6zM2311.7 723h11.6v12h-11.6zM2078 735.8h11.6v12h-11.6zM1598.3 748.5h11.6v12h-11.6zM1622.9 748.5h11.6v12h-11.6zM1672.1 748.5h11.6v12h-11.6zM1733.6 748.5h11.6v12h-11.6zM1745.9 748.5h11.6v12h-11.6zM1770.5 748.5h11.6v12h-11.6zM1807.4 748.5h11.6v12h-11.6zM1832 748.5h11.6v12h-11.6zM1881.2 748.5h11.6v12h-11.6zM1905.8 748.5h11.6v12h-11.6zM2016.5 748.5h11.6v12h-11.6zM2078 748.5h11.6v12h-11.6zM2139.5 748.5h11.6v12h-11.6zM2164.1 748.5h11.6v12h-11.6zM2176.4 748.5h11.6v12h-11.6zM2188.7 748.5h11.6v12h-11.6zM2201 748.5h11.6v12h-11.6zM2213.3 748.5h11.6v12h-11.6zM2311.7 748.5h11.6v12h-11.6zM2336.3 748.5h11.6v12h-11.6zM1659.8 761.2h11.6v12h-11.6zM1819.7 773.9h11.6v12h-11.6zM1979.6 773.9h11.6v12h-11.6zM1610.6 786.6h11.6v12h-11.6zM1622.9 786.6h11.6v12h-11.6zM1709 786.6h11.6v12h-11.6zM1733.6 786.6h11.6v12h-11.6zM1770.5 786.6h11.6v12h-11.6zM1782.8 786.6h11.6v12h-11.6zM1807.4 786.6h11.6v12h-11.6zM1856.6 786.6h11.6v12h-11.6zM1905.8 786.6h11.6v12h-11.6zM2139.5 786.6h11.6v12h-11.6zM2164.1 786.6h11.6v12h-11.6zM2176.4 786.6h11.6v12h-11.6zM2250.2 786.6h11.6v12h-11.6zM2311.7 786.6h11.6v12h-11.6zM2348.6 786.6h11.6v12h-11.6zM1696.7 799.3h11.6v12h-11.6zM1598.3 812h11.6v12h-11.6zM1622.9 812h11.6v12h-11.6zM1832 812h11.6v12h-11.6zM1844.3 812h11.6v12h-11.6zM1856.6 812h11.6v12h-11.6zM1868.9 812h11.6v12h-11.6zM1893.5 812h11.6v12h-11.6zM2065.7 812h11.6v12h-11.6zM2188.7 812h11.6v12h-11.6zM2213.3 812h11.6v12h-11.6zM2262.5 812h11.6v12h-11.6zM2274.8 812h11.6v12h-11.6zM1733.6 824.8h11.6v12h-11.6zM1758.2 824.8h11.6v12h-11.6zM1782.8 824.8h11.6v12h-11.6zM1967.3 824.8h11.6v12h-11.6zM2004.2 824.8h11.6v12h-11.6zM2053.4 824.8h11.6v12h-11.6zM2065.7 824.8h11.6v12h-11.6zM2151.8 824.8h11.6v12h-11.6zM2225.6 824.8h11.6v12h-11.6zM2250.2 824.8h11.6v12h-11.6zM2348.6 824.8h11.6v12h-11.6zM1610.6 837.5h11.6v12h-11.6zM1647.5 837.5h11.6v12h-11.6zM1672.1 837.5h11.6v12h-11.6zM1709 837.5h11.6v12h-11.6zM1745.9 837.5h11.6v12h-11.6zM1770.5 837.5h11.6v12h-11.6zM1807.4 837.5h11.6v12h-11.6zM1918.1 837.5h11.6v12h-11.6zM1955 837.5h11.6v12h-11.6zM2065.7 837.5h11.6v12h-11.6zM2139.5 837.5h11.6v12h-11.6zM2151.8 837.5h11.6v12h-11.6zM2311.7 837.5h11.6v12h-11.6zM2336.3 837.5h11.6v12h-11.6zM1598.3 850.2h11.6v12h-11.6zM1622.9 850.2h11.6v12h-11.6zM1672.1 850.2h11.6v12h-11.6zM1745.9 850.2h11.6v12h-11.6zM1881.2 850.2h11.6v12h-11.6zM1893.5 850.2h11.6v12h-11.6zM2041.1 850.2h11.6v12h-11.6zM2078 850.2h11.6v12h-11.6zM2114.9 850.2h11.6v12h-11.6zM2127.2 850.2h11.6v12h-11.6zM2201 850.2h11.6v12h-11.6zM2262.5 850.2h11.6v12h-11.6zM2348.6 850.2h11.6v12h-11.6zM1610.6 862.9h11.6v12h-11.6zM1647.5 862.9h11.6v12h-11.6zM1709 862.9h11.6v12h-11.6zM1733.6 862.9h11.6v12h-11.6zM1807.4 862.9h11.6v12h-11.6zM1856.6 862.9h11.6v12h-11.6zM1905.8 862.9h11.6v12h-11.6zM2028.8 862.9h11.6v12h-11.6zM2078 862.9h11.6v12h-11.6zM2250.2 862.9h11.6v12h-11.6zM2336.3 862.9h11.6v12h-11.6zM2348.6 862.9h11.6v12h-11.6z"/>
<path fill="#ffe0d6" d="M1622.9 87.3h11.6v12h-11.6zM1733.6 87.3h11.6v12h-11.6zM1745.9 87.3h11.6v12h-11.6zM1770.5 87.3h11.6v12h-11.6zM1782.8 87.3h11.6v12h-11.6zM1807.4 87.3h11.6v12h-11.6zM1856.6 87.3h11.6v12h-11.6zM1905.8 87.3h11.6v12h-11.6zM1955 87.3h11.6v12h-11.6zM2004.2 87.3h11.6v12h-11.6zM2041.1 87.3h11.6v12h-11.6zM2053.4 87.3h11.6v12h-11.6zM2078 87.3h11.6v12h-11.6zM2164.1 87.3h11.6v12h-11.6zM2201 87.3h11.6v12h-11.6zM2213.3 87.3h11.6v12h-11.6zM2299.4 87.3h11.6v12h-11.6zM2336.3 87.3h11.6v12h-11.6zM1610.6 100h11.6v12h-11.6zM1647.5 100h11.6v12h-11.6zM1672.1 100h11.6v12h-11.6zM1721.3 100h11.6v12h-11.6zM1733.6 100h11.6v12h-11.6zM1758.2 100h11.6v12h-11.6zM1782.8 100h11.6v12h-11.6zM1930.4 100h11.6v12h-11.6zM1967.3 100h11.6v12h-11.6zM2139.5 100h11.6v12h-11.6zM2151.8 100h11.6v12h-11.6zM2250.2 100h11.6v12h-11.6zM2311.7 100h11.6v12h-11.6zM2348.6 100h11.6v12h-11.6zM1598.3 112.7h11.6v12h-11.6zM1610.6 112.7h11.6v12h-11.6zM1635.2 112.7h11.6v12h-11.6zM1782.8 112.7h11.6v12h-11.6zM1832 112.7h11.6v12h-11.6zM1844.3 112.7h11.6v12h-11.6zM2164.1 112.7h11.6v12h-11.6zM2176.4 112.7h11.6v12h-11.6zM2201 112.7h11.6v12h-11.6zM2213.3 112.7h11.6v12h-11.6zM2262.5 112.7h11.6v12h-11.6zM1647.5 125.4h11.6v12h-11.6zM1758.2 125.4h11.6v12h-11.6zM1782.8 125.4h11.6v12h-11.6zM1856.6 125.4h11.6v12h-11.6zM1930.4 125.4h11.6v12h-11.6zM1955 125.4h11.6v12h-11.6zM2016.5 125.4h11.6v12h-11.6zM2065.7 125.4h11.6v12h-11.6zM2225.6 125.4h11.6v12h-11.6zM2250.2 125.4h11.6v12h-11.6zM2336.3 125.4h11.6v12h-11.6zM1930.4 138.2h11.6v12h-11.6zM2041.1 138.2h11.6v12h-11.6zM2114.9 138.2h11.6v12h-11.6zM2237.9 138.2h11.6v12h-11.6zM2348.6 138.2h11.6v12h-11.6zM1930.4 150.9h11.6v12h-11.6zM2004.2 150.9h11.6v12h-11.6zM2114.9 150.9h11.6v12h-11.6zM2237.9 150.9h11.6v12h-11.6zM1856.6 163.6h11.6v12h-11.6zM2065.7 163.6h11.6v12h-11.6zM2151.8 163.6h11.6v12h-11.6zM2225.6 163.6h11.6v12h-11.6zM1930.4 176.3h11.6v12h-11.6zM2041.1 176.3h11.6v12h-11.6zM2053.4 176.3h11.6v12h-11.6zM2237.9 176.3h11.6v12h-11.6zM2324 176.3h11.6v12h-11.6zM1610.6 189h11.6v12h-11.6zM1622.9 189h11.6v12h-11.6zM1709 189h11.6v12h-11.6zM1733.6 189h11.6v12h-11.6zM1745.9 189h11.6v12h-11.6zM1758.2 189h11.6v12h-11.6zM1782.8 189h11.6v12h-11.6zM1856.6 189h11.6v12h-11.6zM1905.8 189h11.6v12h-11.6zM2041.1 189h11.6v12h-11.6zM2053.4 189h11.6v12h-11.6zM2065.7 189h11.6v12h-11.6zM2139.5 189h11.6v12h-11.6zM2176.4 189h11.6v12h-11.6zM2188.7 189h11.6v12h-11.6zM2225.6 189h11.6v12h-11.6zM2311.7 189h11.6v12h-11.6zM2336.3 189h11.6v12h-11.6zM1635.2 201.7h11.6v12h-11.6zM1647.5 201.7h11.6v12h-11.6zM1795.1 201.7h11.6v12h-11.6zM1844.3 201.7h11.6v12h-11.6zM1942.7 201.7h11.6v12h-11.6zM2004.2 201.7h11.6v12h-11.6zM2078 201.7h11.6v12h-11.6zM2127.2 201.7h11.6v12h-11.6zM2188.7 201.7h11.6v12h-11.6zM2262.5 201.7h11.6v12h-11.6zM2287.1 201.7h11.6v12h-11.6zM2299.4 201.7h11.6v12h-11.6zM1598.3 214.4h11.6v12h-11.6zM1610.6 214.4h11.6v12h-11.6zM1622.9 214.4h11.6v12h-11.6zM1672.1 214.4h11.6v12h-11.6zM1709 214.4h11.6v12h-11.6zM1733.6 214.4h11.6v12h-11.6zM1745.9 214.4h11.6v12h-11.6zM1770.5 214.4h11.6v12h-11.6zM1807.4 214.4h11.6v12h-11.6zM1856.6 214.4h11.6v12h-11.6zM1881.2 214.4h11.6v12h-11.6zM2028.8 214.4h11.6v12h-11.6zM2041.1 214.4h11.6v12h-11.6zM2065.7 214.4h11.6v12h-11.6zM2139.5 214.4h11.6v12h-11.6zM2164.1 214.4h11.6v12h-11.6zM2176.4 214.4h11.6v12h-11.6zM2188.7 214.4h11.6v12h-11.6zM2201 214.4h11.6v12h-11.6zM2250.2 214.4h11.6v12h-11.6zM2274.8 214.4h11.6v12h-11.6zM2311.7 214.4h11.6v12h-11.6zM1721.3 227.2h11.6v12h-11.6zM1758.2 227.2h11.6v12h-11.6zM2041.1 227.2h11.6v12h-11.6zM2114.9 227.2h11.6v12h-11.6zM2324 227.2h11.6v12h-11.6zM2348.6 227.2h11.6v12h-11.6zM1647.5 239.9h11.6v12h-11.6zM1758.2 239.9h11.6v12h-11.6zM1930.4 239.9h11.6v12h-11.6zM2225.6 239.9h11.6v12h-11.6zM2324 239.9h11.6v12h-11.6zM2348.6 239.9h11.6v12h-11.6zM1610.6 252.6h11.6v12h-11.6zM1758.2 252.6h11.6v12h-11.6zM1967.3 252.6h11.6v12h-11.6zM2151.8 252.6h11.6v12h-11.6zM2225.6 252.6h11.6v12h-11.6zM2237.9 252.6h11.6v12h-11.6zM2250.2 252.6h11.6v12h-11.6zM1758.2 265.3h11.6v12h-11.6zM1930.4 265.3h11.6v12h-11.6zM2065.7 265.3h11.6v12h-11.6zM2225.6 265.3h11.6v12h-11.6zM2250.2 265.3h11.6v12h-11.6zM2324 265.3h11.6v12h-11.6zM1647.5 278h11.6v12h-11.6zM1721.3 278h11.6v12h-11.6zM1758.2 278h11.6v12h-11.6zM1930.4 278h11.6v12h-11.6zM2041.1 278h11.6v12h-11.6zM2090.3 278h11.6v12h-11.6zM2114.9 278h11.6v12h-11.6zM2151.8 278h11.6v12h-11.6zM2225.6 278h11.6v12h-11.6zM2324 278h11.6v12h-11.6zM2348.6 278h11.6v12h-11.6zM1598.3 290.7h11.6v12h-11.6zM1610.6 290.7h11.6v12h-11.6zM1672.1 290.7h11.6v12h-11.6zM1709 290.7h11.6v12h-11.6zM1733.6 290.7h11.6v12h-11.6zM1745.9 290.7h11.6v12h-11.6zM1782.8 290.7h11.6v12h-11.6zM1881.2 290.7h11.6v12h-11.6zM1905.8 290.7h11.6v12h-11.6zM1918.1 290.7h11.6v12h-11.6zM1955 290.7h11.6v12h-11.6zM2016.5 290.7h11.6v12h-11.6zM2065.7 290.7h11.6v12h-11.6zM2164.1 290.7h11.6v12h-11.6zM2188.7 290.7h11.6v12h-11.6zM2274.8 290.7h11.6v12h-11.6zM2336.3 290.7h11.6v12h-11.6zM1905.8 303.4h11.6v12h-11.6zM1930.4 303.4h11.6v12h-11.6zM1955 303.4h11.6v12h-11.6zM2016.5 303.4h11.6v12h-11.6zM2065.7 303.4h11.6v12h-11.6zM2090.3 303.4h11.6v12h-11.6zM2225.6 303.4h11.6v12h-11.6zM2250.2 303.4h11.6v12h-11.6zM2336.3 303.4h11.6v12h-11.6zM1758.2 316.2h11.6v12h-11.6zM1795.1 316.2h11.6v12h-11.6zM2090.3 316.2h11.6v12h-11.6zM2102.6 316.2h11.6v12h-11.6zM2237.9 316.2h11.6v12h-11.6zM1598.3 328.9h11.6v12h-11.6zM1622.9 328.9h11.6v12h-11.6zM1635.2 328.9h11.6v12h-11.6zM1672.1 328.9h11.6v12h-11.6zM1745.9 328.9h11.6v12h-11.6zM1832 328.9h11.6v12h-11.6zM1844.3 328.9h11.6v12h-11.6zM1881.2 328.9h11.6v12h-11.6zM1942.7 328.9h11.6v12h-11.6zM2016.5 328.9h11.6v12h-11.6zM2164.1 328.9h11.6v12h-11.6zM2213.3 328.9h11.6v12h-11.6zM2287.1 328.9h11.6v12h-11.6zM2299.4 328.9h11.6v12h-11.6zM2016.5 341.6h11.6v12h-11.6zM2041.1 341.6h11.6v12h-11.6zM2053.4 341.6h11.6v12h-11.6zM2078 341.6h11.6v12h-11.6zM2127.2 341.6h11.6v12h-11.6zM1647.5 354.3h11.6v12h-11.6zM1709 354.3h11.6v12h-11.6zM1721.3 354.3h11.6v12h-11.6zM2004.2 354.3h11.6v12h-11.6zM2065.7 354.3h11.6v12h-11.6zM2127.2 354.3h11.6v12h-11.6zM2139.5 354.3h11.6v12h-11.6zM2164.1 354.3h11.6v12h-11.6zM1733.6 367h11.6v12h-11.6zM1782.8 367h11.6v12h-11.6zM2102.6 367h11.6v12h-11.6zM2237.9 367h11.6v12h-11.6zM2348.6 367h11.6v12h-11.6zM1598.3 379.7h11.6v12h-11.6zM1610.6 379.7h11.6v12h-11.6zM1709 379.7h11.6v12h-11.6zM1770.5 379.7h11.6v12h-11.6zM1795.1 379.7h11.6v12h-11.6zM1881.2 379.7h11.6v12h-11.6zM1905.8 379.7h11.6v12h-11.6zM1918.1 379.7h11.6v12h-11.6zM2041.1 379.7h11.6v12h-11.6zM2090.3 379.7h11.6v12h-11.6zM2139.5 379.7h11.6v12h-11.6zM2151.8 379.7h11.6v12h-11.6zM2176.4 379.7h11.6v12h-11.6zM2225.6 379.7h11.6v12h-11.6zM2250.2 379.7h11.6v12h-11.6zM2274.8 379.7h11.6v12h-11.6zM2311.7 379.7h11.6v12h-11.6zM1598.3 392.5h11.6v12h-11.6zM1795.1 392.5h11.6v12h-11.6zM1930.4 392.5h11.6v12h-11.6zM1955 392.5h11.6v12h-11.6zM1991.9 392.5h11.6v12h-11.6zM2102.6 392.5h11.6v12h-11.6zM2250.2 392.5h11.6v12h-11.6zM2262.5 392.5h11.6v12h-11.6zM2348.6 392.5h11.6v12h-11.6zM1598.3 405.2h11.6v12h-11.6zM1622.9 405.2h11.6v12h-11.6zM1832 405.2h11.6v12h-11.6zM1844.3 405.2h11.6v12h-11.6zM1856.6 405.2h11.6v12h-11.6zM1868.9 405.2h11.6v12h-11.6zM1881.2 405.2h11.6v12h-11.6zM1893.5 405.2h11.6v12h-11.6zM1955 405.2h11.6v12h-11.6zM1979.6 405.2h11.6v12h-11.6zM1991.9 405.2h11.6v12h-11.6zM2065.7 405.2h11.6v12h-11.6zM2102.6 405.2h11.6v12h-11.6zM2164.1 405.2h11.6v12h-11.6zM2213.3 405.2h11.6v12h-11.6zM2225.6 405.2h11.6v12h-11.6zM2250.2 405.2h11.6v12h-11.6zM2262.5 405.2h11.6v12h-11.6zM2299.4 405.2h11.6v12h-11.6zM2348.6 405.2h11.6v12h-11.6zM1672.1 417.9h11.6v12h-11.6zM1758.2 417.9h11.6v12h-11.6zM1782.8 417.9h11.6v12h-11.6zM1795.1 417.9h11.6v12h-11.6zM1856.6 417.9h11.6v12h-11.6zM1930.4 417.9h11.6v12h-11.6zM1967.3 417.9h11.6v12h-11.6zM2225.6 417.9h11.6v12h-11.6zM1721.3 430.6h11.6v12h-11.6zM1758.2 430.6h11.6v12h-11.6zM2102.6 430.6h11.6v12h-11.6zM2114.9 430.6h11.6v12h-11.6zM2139.5 430.6h11.6v12h-11.6zM2151.8 430.6h11.6v12h-11.6zM2311.7 430.6h11.6v12h-11.6zM1610.6 443.3h11.6v12h-11.6zM1832 443.3h11.6v12h-11.6zM1844.3 443.3h11.6v12h-11.6zM1856.6 443.3h11.6v12h-11.6zM2090.3 443.3h11.6v12h-11.6zM2237.9 443.3h11.6v12h-11.6zM2287.1 443.3h11.6v12h-11.6zM2348.6 443.3h11.6v12h-11.6zM1967.3 456h11.6v12h-11.6zM2041.1 456h11.6v12h-11.6zM2053.4 456h11.6v12h-11.6zM1659.8 468.7h11.6v12h-11.6zM2041.1 468.7h11.6v12h-11.6zM1598.3 481.5h11.6v12h-11.6zM1622.9 481.5h11.6v12h-11.6zM1672.1 481.5h11.6v12h-11.6zM1733.6 481.5h11.6v12h-11.6zM1770.5 481.5h11.6v12h-11.6zM1782.8 481.5h11.6v12h-11.6zM1832 481.5h11.6v12h-11.6zM1844.3 481.5h11.6v12h-11.6zM1918.1 481.5h11.6v12h-11.6zM1991.9 481.5h11.6v12h-11.6zM2028.8 481.5h11.6v12h-11.6zM2188.7 481.5h11.6v12h-11.6zM2336.3 481.5h11.6v12h-11.6zM1647.5 494.2h11.6v12h-11.6zM1709 494.2h11.6v12h-11.6zM1733.6 494.2h11.6v12h-11.6zM1758.2 494.2h11.6v12h-11.6zM1782.8 494.2h11.6v12h-11.6zM2041.1 494.2h11.6v12h-11.6zM2053.4 494.2h11.6v12h-11.6zM2139.5 494.2h11.6v12h-11.6zM2151.8 494.2h11.6v12h-11.6zM2311.7 494.2h11.6v12h-11.6zM2348.6 494.2h11.6v12h-11.6zM1721.3 506.9h11.6v12h-11.6zM1758.2 506.9h11.6v12h-11.6zM2114.9 506.9h11.6v12h-11.6zM2237.9 506.9h11.6v12h-11.6zM1598.3 519.6h11.6v12h-11.6zM1635.2 519.6h11.6v12h-11.6zM1647.5 519.6h11.6v12h-11.6zM1844.3 519.6h11.6v12h-11.6zM1868.9 519.6h11.6v12h-11.6zM1881.2 519.6h11.6v12h-11.6zM1893.5 519.6h11.6v12h-11.6zM1905.8 519.6h11.6v12h-11.6zM2028.8 519.6h11.6v12h-11.6zM2053.4 519.6h11.6v12h-11.6zM2139.5 519.6h11.6v12h-11.6zM2164.1 519.6h11.6v12h-11.6zM2176.4 519.6h11.6v12h-11.6zM2201 519.6h11.6v12h-11.6zM2262.5 519.6h11.6v12h-11.6zM2287.1 519.6h11.6v12h-11.6zM2299.4 519.6h11.6v12h-11.6zM2311.7 519.6h11.6v12h-11.6zM2336.3 519.6h11.6v12h-11.6zM1647.5 532.3h11.6v12h-11.6zM1758.2 532.3h11.6v12h-11.6zM1782.8 532.3h11.6v12h-11.6zM1967.3 532.3h11.6v12h-11.6zM2065.7 532.3h11.6v12h-11.6zM2151.8 532.3h11.6v12h-11.6zM1610.6 545h11.6v12h-11.6zM1622.9 545h11.6v12h-11.6zM1647.5 545h11.6v12h-11.6zM1721.3 545h11.6v12h-11.6zM1856.6 545h11.6v12h-11.6zM1930.4 545h11.6v12h-11.6zM2065.7 545h11.6v12h-11.6zM2139.5 545h11.6v12h-11.6zM2151.8 545h11.6v12h-11.6zM2250.2 545h11.6v12h-11.6zM2348.6 545h11.6v12h-11.6zM1758.2 557.7h11.6v12h-11.6zM1930.4 557.7h11.6v12h-11.6zM2041.1 557.7h11.6v12h-11.6zM1647.5 570.5h11.6v12h-11.6zM1758.2 570.5h11.6v12h-11.6zM1930.4 570.5h11.6v12h-11.6zM2041.1 570.5h11.6v12h-11.6zM2065.7 570.5h11.6v12h-11.6zM2114.9 570.5h11.6v12h-11.6zM2151.8 570.5h11.6v12h-11.6zM2225.6 570.5h11.6v12h-11.6zM1758.2 583.2h11.6v12h-11.6zM1930.4 583.2h11.6v12h-11.6zM2041.1 583.2h11.6v12h-11.6zM1610.6 595.9h11.6v12h-11.6zM1622.9 595.9h11.6v12h-11.6zM1709 595.9h11.6v12h-11.6zM1745.9 595.9h11.6v12h-11.6zM1770.5 595.9h11.6v12h-11.6zM1782.8 595.9h11.6v12h-11.6zM1807.4 595.9h11.6v12h-11.6zM1905.8 595.9h11.6v12h-11.6zM2004.2 595.9h11.6v12h-11.6zM2028.8 595.9h11.6v12h-11.6zM2041.1 595.9h11.6v12h-11.6zM2225.6 595.9h11.6v12h-11.6zM2250.2 595.9h11.6v12h-11.6zM2274.8 595.9h11.6v12h-11.6zM2311.7 595.9h11.6v12h-11.6zM2348.6 595.9h11.6v12h-11.6zM1721.3 608.6h11.6v12h-11.6zM1758.2 608.6h11.6v12h-11.6zM1930.4 608.6h11.6v12h-11.6zM1967.3 608.6h11.6v12h-11.6zM2004.2 608.6h11.6v12h-11.6zM2041.1 608.6h11.6v12h-11.6zM2114.9 608.6h11.6v12h-11.6zM2237.9 608.6h11.6v12h-11.6zM2324 608.6h11.6v12h-11.6zM1758.2 621.3h11.6v12h-11.6zM1967.3 621.3h11.6v12h-11.6zM2004.2 621.3h11.6v12h-11.6zM2041.1 621.3h11.6v12h-11.6zM2114.9 621.3h11.6v12h-11.6zM2324 621.3h11.6v12h-11.6zM1659.8 634h11.6v12h-11.6zM1721.3 634h11.6v12h-11.6zM1610.6 646.8h11.6v12h-11.6zM1647.5 646.8h11.6v12h-11.6zM1721.3 646.8h11.6v12h-11.6zM1758.2 646.8h11.6v12h-11.6zM1782.8 646.8h11.6v12h-11.6zM1856.6 646.8h11.6v12h-11.6zM2225.6 646.8h11.6v12h-11.6zM2348.6 646.8h11.6v12h-11.6zM1635.2 659.5h11.6v12h-11.6zM2028.8 659.5h11.6v12h-11.6zM2053.4 659.5h11.6v12h-11.6zM2065.7 659.5h11.6v12h-11.6zM2127.2 659.5h11.6v12h-11.6zM2237.9 659.5h11.6v12h-11.6zM1598.3 672.2h11.6v12h-11.6zM1610.6 672.2h11.6v12h-11.6zM1622.9 672.2h11.6v12h-11.6zM1709 672.2h11.6v12h-11.6zM1721.3 672.2h11.6v12h-11.6zM1733.6 672.2h11.6v12h-11.6zM1745.9 672.2h11.6v12h-11.6zM1770.5 672.2h11.6v12h-11.6zM1807.4 672.2h11.6v12h-11.6zM1856.6 672.2h11.6v12h-11.6zM1918.1 672.2h11.6v12h-11.6zM1955 672.2h11.6v12h-11.6zM1967.3 672.2h11.6v12h-11.6zM2028.8 672.2h11.6v12h-11.6zM2078 672.2h11.6v12h-11.6zM2151.8 672.2h11.6v12h-11.6zM2250.2 672.2h11.6v12h-11.6zM2311.7 672.2h11.6v12h-11.6zM2324 672.2h11.6v12h-11.6zM2336.3 672.2h11.6v12h-11.6zM2348.6 672.2h11.6v12h-11.6zM1647.5 684.9h11.6v12h-11.6zM1782.8 684.9h11.6v12h-11.6zM1856.6 684.9h11.6v12h-11.6zM1967.3 684.9h11.6v12h-11.6zM2065.7 684.9h11.6v12h-11.6zM2225.6 684.9h11.6v12h-11.6zM2348.6 684.9h11.6v12h-11.6zM1598.3 697.6h11.6v12h-11.6zM1622.9 697.6h11.6v12h-11.6zM1672.1 697.6h11.6v12h-11.6zM1709 697.6h11.6v12h-11.6zM1733.6 697.6h11.6v12h-11.6zM1807.4 697.6h11.6v12h-11.6zM1832 697.6h11.6v12h-11.6zM1844.3 697.6h11.6v12h-11.6zM1868.9 697.6h11.6v12h-11.6zM1881.2 697.6h11.6v12h-11.6zM1893.5 697.6h11.6v12h-11.6zM1918.1 697.6h11.6v12h-11.6zM1942.7 697.6h11.6v12h-11.6zM1955 697.6h11.6v12h-11.6zM2016.5 697.6h11.6v12h-11.6zM2028.8 697.6h11.6v12h-11.6zM2127.2 697.6h11.6v12h-11.6zM2164.1 697.6h11.6v12h-11.6zM2176.4 697.6h11.6v12h-11.6zM2188.7 697.6h11.6v12h-11.6zM2201 697.6h11.6v12h-11.6zM2213.3 697.6h11.6v12h-11.6zM2250.2 697.6h11.6v12h-11.6zM2311.7 697.6h11.6v12h-11.6zM2336.3 697.6h11.6v12h-11.6zM1721.3 710.3h11.6v12h-11.6zM1782.8 710.3h11.6v12h-11.6zM1856.6 710.3h11.6v12h-11.6zM2114.9 710.3h11.6v12h-11.6zM2151.8 710.3h11.6v12h-11.6zM2225.6 710.3h11.6v12h-11.6zM2250.2 710.3h11.6v12h-11.6zM2348.6 710.3h11.6v12h-11.6zM1622.9 723h11.6v12h-11.6zM1758.2 723h11.6v12h-11.6zM1782.8 723h11.6v12h-11.6zM1955 723h11.6v12h-11.6zM1967.3 723h11.6v12h-11.6zM2078 723h11.6v12h-11.6zM2151.8 723h11.6v12h-11.6zM2225.6 723h11.6v12h-11.6zM2250.2 723h11.6v12h-11.6zM2336.3 723h11.6v12h-11.6zM2348.6 723h11.6v12h-11.6zM1659.8 735.8h11.6v12h-11.6zM1684.4 735.8h11.6v12h-11.6zM1696.7 735.8h11.6v12h-11.6zM1745.9 735.8h11.6v12h-11.6zM1782.8 735.8h11.6v12h-11.6zM1807.4 735.8h11.6v12h-11.6zM1819.7 735.8h11.6v12h-11.6zM1844.3 735.8h11.6v12h-11.6zM1905.8 735.8h11.6v12h-11.6zM1942.7 735.8h11.6v12h-11.6zM2016.5 735.8h11.6v12h-11.6zM2090.3 735.8h11.6v12h-11.6zM2164.1 735.8h11.6v12h-11.6zM2213.3 735.8h11.6v12h-11.6zM2336.3 735.8h11.6v12h-11.6zM1610.6 748.5h11.6v12h-11.6zM1647.5 748.5h11.6v12h-11.6zM1758.2 748.5h11.6v12h-11.6zM1782.8 748.5h11.6v12h-11.6zM1856.6 748.5h11.6v12h-11.6zM1955 748.5h11.6v12h-11.6zM2065.7 748.5h11.6v12h-11.6zM2090.3 748.5h11.6v12h-11.6zM2151.8 748.5h11.6v12h-11.6zM2225.6 748.5h11.6v12h-11.6zM2250.2 748.5h11.6v12h-11.6zM1721.3 761.2h11.6v12h-11.6zM1721.3 773.9h11.6v12h-11.6zM1758.2 786.6h11.6v12h-11.6zM1967.3 786.6h11.6v12h-11.6zM2028.8 786.6h11.6v12h-11.6zM2114.9 786.6h11.6v12h-11.6zM2151.8 786.6h11.6v12h-11.6zM2225.6 786.6h11.6v12h-11.6zM2336.3 786.6h11.6v12h-11.6zM1721.3 799.3h11.6v12h-11.6zM1819.7 799.3h11.6v12h-11.6zM1979.6 799.3h11.6v12h-11.6zM1709 812h11.6v12h-11.6zM1770.5 812h11.6v12h-11.6zM1807.4 812h11.6v12h-11.6zM1881.2 812h11.6v12h-11.6zM1905.8 812h11.6v12h-11.6zM1918.1 812h11.6v12h-11.6zM1930.4 812h11.6v12h-11.6zM1955 812h11.6v12h-11.6zM2090.3 812h11.6v12h-11.6zM2164.1 812h11.6v12h-11.6zM2201 812h11.6v12h-11.6zM2237.9 812h11.6v12h-11.6zM2311.7 812h11.6v12h-11.6zM2336.3 812h11.6v12h-11.6zM1795.1 824.8h11.6v12h-11.6zM1930.4 824.8h11.6v12h-11.6zM2114.9 824.8h11.6v12h-11.6zM2237.9 824.8h11.6v12h-11.6zM2324 824.8h11.6v12h-11.6zM1733.6 837.5h11.6v12h-11.6zM1758.2 837.5h11.6v12h-11.6zM1782.8 837.5h11.6v12h-11.6zM1856.6 837.5h11.6v12h-11.6zM1905.8 837.5h11.6v12h-11.6zM1967.3 837.5h11.6v12h-11.6zM2041.1 837.5h11.6v12h-11.6zM2114.9 837.5h11.6v12h-11.6zM2225.6 837.5h11.6v12h-11.6zM2250.2 837.5h11.6v12h-11.6zM2348.6 837.5h11.6v12h-11.6zM1709 850.2h11.6v12h-11.6zM1782.8 850.2h11.6v12h-11.6zM1807.4 850.2h11.6v12h-11.6zM1856.6 850.2h11.6v12h-11.6zM1905.8 850.2h11.6v12h-11.6zM2004.2 850.2h11.6v12h-11.6zM2065.7 850.2h11.6v12h-11.6zM2151.8 850.2h11.6v12h-11.6zM2188.7 850.2h11.6v12h-11.6zM2225.6 850.2h11.6v12h-11.6zM2250.2 850.2h11.6v12h-11.6zM2324 850.2h11.6v12h-11.6zM2336.3 850.2h11.6v12h-11.6zM1758.2 862.9h11.6v12h-11.6zM1782.8 862.9h11.6v12h-11.6zM1930.4 862.9h11.6v12h-11.6zM1967.3 862.9h11.6v12h-11.6zM2041.1 862.9h11.6v12h-11.6zM2053.4 862.9h11.6v12h-11.6zM2065.7 862.9h11.6v12h-11.6zM2114.9 862.9h11.6v12h-11.6zM2151.8 862.9h11.6v12h-11.6zM2225.6 862.9h11.6v12h-11.6zM2324 862.9h11.6v12h-11.6z"/>
<path fill="#fff0ea" d="M1647.5 87.3h11.6v12h-11.6zM1709 87.3h11.6v12h-11.6zM1758.2 87.3h11.6v12h-11.6zM1918.1 87.3h11.6v12h-11.6zM1930.4 87.3h11.6v12h-11.6zM1967.3 87.3h11.6v12h-11.6zM2028.8 87.3h11.6v12h-11.6zM2065.7 87.3h11.6v12h-11.6zM2102.6 87.3h11.6v12h-11.6zM2114.9 87.3h11.6v12h-11.6zM2176.4 87.3h11.6v12h-11.6zM2188.7 87.3h11.6v12h-11.6zM2225.6 87.3h11.6v12h-11.6zM2250.2 87.3h11.6v12h-11.6zM2274.8 87.3h11.6v12h-11.6zM2311.7 87.3h11.6v12h-11.6zM2324 87.3h11.6v12h-11.6zM2090.3 100h11.6v12h-11.6zM2102.6 100h11.6v12h-11.6zM2114.9 100h11.6v12h-11.6zM2225.6 100h11.6v12h-11.6zM2237.9 100h11.6v12h-11.6zM2324 100h11.6v12h-11.6zM1622.9 112.7h11.6v12h-11.6zM1672.1 112.7h11.6v12h-11.6zM1745.9 112.7h11.6v12h-11.6zM1770.5 112.7h11.6v12h-11.6zM1856.6 112.7h11.6v12h-11.6zM1868.9 112.7h11.6v12h-11.6zM1881.2 112.7h11.6v12h-11.6zM1893.5 112.7h11.6v12h-11.6zM1942.7 112.7h11.6v12h-11.6zM2016.5 112.7h11.6v12h-11.6zM2078 112.7h11.6v12h-11.6zM2102.6 112.7h11.6v12h-11.6zM2114.9 112.7h11.6v12h-11.6zM2127.2 112.7h11.6v12h-11.6zM2250.2 112.7h11.6v12h-11.6zM2287.1 112.7h11.6v12h-11.6zM2299.4 112.7h11.6v12h-11.6zM2311.7 112.7h11.6v12h-11.6zM2336.3 112.7h11.6v12h-11.6zM2348.6 112.7h11.6v12h-11.6zM1610.6 125.4h11.6v12h-11.6zM2090.3 125.4h11.6v12h-11.6zM2324 125.4h11.6v12h-11.6zM2348.6 125.4h11.6v12h-11.6zM1721.3 138.2h11.6v12h-11.6zM1795.1 138.2h11.6v12h-11.6zM2053.4 138.2h11.6v12h-11.6zM2090.3 138.2h11.6v12h-11.6zM2324 138.2h11.6v12h-11.6zM1721.3 150.9h11.6v12h-11.6zM1795.1 150.9h11.6v12h-11.6zM2090.3 150.9h11.6v12h-11.6zM2102.6 150.9h11.6v12h-11.6zM2324 150.9h11.6v12h-11.6zM1610.6 163.6h11.6v12h-11.6zM2348.6 163.6h11.6v12h-11.6zM2114.9 176.3h11.6v12h-11.6zM1647.5 189h11.6v12h-11.6zM1930.4 189h11.6v12h-11.6zM1967.3 189h11.6v12h-11.6zM2004.2 189h11.6v12h-11.6zM2114.9 189h11.6v12h-11.6zM2151.8 189h11.6v12h-11.6zM2237.9 189h11.6v12h-11.6zM2324 189h11.6v12h-11.6zM2348.6 189h11.6v12h-11.6zM1598.3 201.7h11.6v12h-11.6zM1622.9 201.7h11.6v12h-11.6zM1745.9 201.7h11.6v12h-11.6zM1807.4 201.7h11.6v12h-11.6zM1832 201.7h11.6v12h-11.6zM1856.6 201.7h11.6v12h-11.6zM1868.9 201.7h11.6v12h-11.6zM1893.5 201.7h11.6v12h-11.6zM1955 201.7h11.6v12h-11.6zM2065.7 201.7h11.6v12h-11.6zM2102.6 201.7h11.6v12h-11.6zM2139.5 201.7h11.6v12h-11.6zM2213.3 201.7h11.6v12h-11.6zM2250.2 201.7h11.6v12h-11.6zM2336.3 201.7h11.6v12h-11.6zM1647.5 214.4h11.6v12h-11.6zM1721.3 214.4h11.6v12h-11.6zM1758.2 214.4h11.6v12h-11.6zM1782.8 214.4h11.6v12h-11.6zM1795.1 214.4h11.6v12h-11.6zM1905.8 214.4h11.6v12h-11.6zM1918.1 214.4h11.6v12h-11.6zM1930.4 214.4h11.6v12h-11.6zM1955 214.4h11.6v12h-11.6zM2004.2 214.4h11.6v12h-11.6zM2053.4 214.4h11.6v12h-11.6zM2114.9 214.4h11.6v12h-11.6zM2151.8 214.4h11.6v12h-11.6zM2336.3 214.4h11.6v12h-11.6zM2348.6 214.4h11.6v12h-11.6zM2053.4 227.2h11.6v12h-11.6zM2102.6 227.2h11.6v12h-11.6zM2237.9 227.2h11.6v12h-11.6zM1721.3 239.9h11.6v12h-11.6zM2041.1 239.9h11.6v12h-11.6zM2114.9 239.9h11.6v12h-11.6zM1782.8 252.6h11.6v12h-11.6zM1795.1 252.6h11.6v12h-11.6zM1930.4 252.6h11.6v12h-11.6zM2041.1 252.6h11.6v12h-11.6zM2053.4 252.6h11.6v12h-11.6zM2348.6 252.6h11.6v12h-11.6zM1647.5 265.3h11.6v12h-11.6zM2090.3 265.3h11.6v12h-11.6zM2348.6 265.3h11.6v12h-11.6zM1795.1 278h11.6v12h-11.6zM2004.2 278h11.6v12h-11.6zM2053.4 278h11.6v12h-11.6zM2102.6 278h11.6v12h-11.6zM1647.5 290.7h11.6v12h-11.6zM1758.2 290.7h11.6v12h-11.6zM1770.5 290.7h11.6v12h-11.6zM1856.6 290.7h11.6v12h-11.6zM2114.9 290.7h11.6v12h-11.6zM2225.6 290.7h11.6v12h-11.6zM2250.2 290.7h11.6v12h-11.6zM1782.8 303.4h11.6v12h-11.6zM1795.1 303.4h11.6v12h-11.6zM1967.3 303.4h11.6v12h-11.6zM2237.9 303.4h11.6v12h-11.6zM2324 316.2h11.6v12h-11.6zM1721.3 328.9h11.6v12h-11.6zM1770.5 328.9h11.6v12h-11.6zM1782.8 328.9h11.6v12h-11.6zM1807.4 328.9h11.6v12h-11.6zM1856.6 328.9h11.6v12h-11.6zM1868.9 328.9h11.6v12h-11.6zM1893.5 328.9h11.6v12h-11.6zM1905.8 328.9h11.6v12h-11.6zM1955 328.9h11.6v12h-11.6zM2041.1 328.9h11.6v12h-11.6zM2065.7 328.9h11.6v12h-11.6zM2078 328.9h11.6v12h-11.6zM2102.6 328.9h11.6v12h-11.6zM2151.8 328.9h11.6v12h-11.6zM2201 328.9h11.6v12h-11.6zM2225.6 328.9h11.6v12h-11.6zM2250.2 328.9h11.6v12h-11.6zM2262.5 328.9h11.6v12h-11.6zM2324 328.9h11.6v12h-11.6zM2336.3 328.9h11.6v12h-11.6zM2348.6 328.9h11.6v12h-11.6zM1610.6 341.6h11.6v12h-11.6zM1622.9 341.6h11.6v12h-11.6zM1635.2 341.6h11.6v12h-11.6zM1647.5 341.6h11.6v12h-11.6zM1721.3 341.6h11.6v12h-11.6zM1745.9 341.6h11.6v12h-11.6zM1782.8 341.6h11.6v12h-11.6zM1832 341.6h11.6v12h-11.6zM1844.3 341.6h11.6v12h-11.6zM1856.6 341.6h11.6v12h-11.6zM1942.7 341.6h11.6v12h-11.6zM1955 341.6h11.6v12h-11.6zM1991.9 341.6h11.6v12h-11.6zM2090.3 341.6h11.6v12h-11.6zM2114.9 341.6h11.6v12h-11.6zM2164.1 341.6h11.6v12h-11.6zM2213.3 341.6h11.6v12h-11.6zM2237.9 341.6h11.6v12h-11.6zM2287.1 341.6h11.6v12h-11.6zM2324 341.6h11.6v12h-11.6zM2336.3 341.6h11.6v12h-11.6zM2348.6 341.6h11.6v12h-11.6zM1622.9 354.3h11.6v12h-11.6zM1684.4 354.3h11.6v12h-11.6zM1807.4 354.3h11.6v12h-11.6zM1844.3 354.3h11.6v12h-11.6zM1893.5 354.3h11.6v12h-11.6zM1918.1 354.3h11.6v12h-11.6zM1942.7 354.3h11.6v12h-11.6zM1979.6 354.3h11.6v12h-11.6zM2102.6 354.3h11.6v12h-11.6zM2176.4 354.3h11.6v12h-11.6zM2287.1 354.3h11.6v12h-11.6zM2299.4 354.3h11.6v12h-11.6zM2311.7 354.3h11.6v12h-11.6zM2336.3 354.3h11.6v12h-11.6zM1672.1 367h11.6v12h-11.6zM1758.2 367h11.6v12h-11.6zM1979.6 367h11.6v12h-11.6zM1991.9 367h11.6v12h-11.6zM2114.9 367h11.6v12h-11.6zM2324 367h11.6v12h-11.6zM1672.1 379.7h11.6v12h-11.6zM1721.3 379.7h11.6v12h-11.6zM1733.6 379.7h11.6v12h-11.6zM1955 379.7h11.6v12h-11.6zM2004.2 379.7h11.6v12h-11.6zM2114.9 379.7h11.6v12h-11.6zM2237.9 379.7h11.6v12h-11.6zM2348.6 379.7h11.6v12h-11.6zM1610.6 392.5h11.6v12h-11.6zM1622.9 392.5h11.6v12h-11.6zM1672.1 392.5h11.6v12h-11.6zM1832 392.5h11.6v12h-11.6zM1844.3 392.5h11.6v12h-11.6zM1856.6 392.5h11.6v12h-11.6zM1868.9 392.5h11.6v12h-11.6zM1881.2 392.5h11.6v12h-11.6zM1893.5 392.5h11.6v12h-11.6zM1905.8 392.5h11.6v12h-11.6zM1967.3 392.5h11.6v12h-11.6zM2164.1 392.5h11.6v12h-11.6zM2188.7 392.5h11.6v12h-11.6zM2213.3 392.5h11.6v12h-11.6zM2225.6 392.5h11.6v12h-11.6zM2299.4 392.5h11.6v12h-11.6zM1672.1 405.2h11.6v12h-11.6zM1721.3 405.2h11.6v12h-11.6zM1782.8 405.2h11.6v12h-11.6zM1807.4 405.2h11.6v12h-11.6zM1905.8 405.2h11.6v12h-11.6zM1930.4 405.2h11.6v12h-11.6zM1967.3 405.2h11.6v12h-11.6zM2114.9 405.2h11.6v12h-11.6zM2188.7 405.2h11.6v12h-11.6zM2201 405.2h11.6v12h-11.6zM1610.6 417.9h11.6v12h-11.6zM1721.3 417.9h11.6v12h-11.6zM2348.6 417.9h11.6v12h-11.6zM1991.9 430.6h11.6v12h-11.6zM2324 430.6h11.6v12h-11.6zM1622.9 443.3h11.6v12h-11.6zM1955 443.3h11.6v12h-11.6zM1991.9 443.3h11.6v12h-11.6zM2065.7 443.3h11.6v12h-11.6zM2164.1 443.3h11.6v12h-11.6zM2225.6 443.3h11.6v12h-11.6zM2250.2 443.3h11.6v12h-11.6zM1647.5 456h11.6v12h-11.6zM1684.4 456h11.6v12h-11.6zM1721.3 456h11.6v12h-11.6zM1819.7 456h11.6v12h-11.6zM1905.8 456h11.6v12h-11.6zM1930.4 456h11.6v12h-11.6zM1979.6 456h11.6v12h-11.6zM2004.2 456h11.6v12h-11.6zM2016.5 456h11.6v12h-11.6zM2078 456h11.6v12h-11.6zM2102.6 456h11.6v12h-11.6zM1647.5 468.7h11.6v12h-11.6zM1696.7 468.7h11.6v12h-11.6zM1795.1 468.7h11.6v12h-11.6zM1819.7 468.7h11.6v12h-11.6zM1930.4 468.7h11.6v12h-11.6zM1991.9 468.7h11.6v12h-11.6zM2078 468.7h11.6v12h-11.6zM2090.3 468.7h11.6v12h-11.6zM1647.5 481.5h11.6v12h-11.6zM1709 481.5h11.6v12h-11.6zM1721.3 481.5h11.6v12h-11.6zM1745.9 481.5h11.6v12h-11.6zM1807.4 481.5h11.6v12h-11.6zM2041.1 481.5h11.6v12h-11.6zM2053.4 481.5h11.6v12h-11.6zM2139.5 481.5h11.6v12h-11.6zM2250.2 481.5h11.6v12h-11.6zM2348.6 481.5h11.6v12h-11.6zM1610.6 494.2h11.6v12h-11.6zM1721.3 494.2h11.6v12h-11.6zM2004.2 494.2h11.6v12h-11.6zM2065.7 494.2h11.6v12h-11.6zM2102.6 494.2h11.6v12h-11.6zM2114.9 494.2h11.6v12h-11.6zM2225.6 494.2h11.6v12h-11.6zM2237.9 494.2h11.6v12h-11.6zM2090.3 506.9h11.6v12h-11.6zM2102.6 506.9h11.6v12h-11.6zM2324 506.9h11.6v12h-11.6zM1622.9 519.6h11.6v12h-11.6zM1672.1 519.6h11.6v12h-11.6zM1709 519.6h11.6v12h-11.6zM1733.6 519.6h11.6v12h-11.6zM1770.5 519.6h11.6v12h-11.6zM1782.8 519.6h11.6v12h-11.6zM1807.4 519.6h11.6v12h-11.6zM1832 519.6h11.6v12h-11.6zM1856.6 519.6h11.6v12h-11.6zM1918.1 519.6h11.6v12h-11.6zM1979.6 519.6h11.6v12h-11.6zM1991.9 519.6h11.6v12h-11.6zM2041.1 519.6h11.6v12h-11.6zM2188.7 519.6h11.6v12h-11.6zM2225.6 519.6h11.6v12h-11.6zM2250.2 519.6h11.6v12h-11.6zM2348.6 519.6h11.6v12h-11.6zM1610.6 532.3h11.6v12h-11.6zM1856.6 532.3h11.6v12h-11.6zM1930.4 532.3h11.6v12h-11.6zM2090.3 532.3h11.6v12h-11.6zM2225.6 532.3h11.6v12h-11.6zM2348.6 532.3h11.6v12h-11.6zM1758.2 545h11.6v12h-11.6zM1991.9 545h11.6v12h-11.6zM2041.1 545h11.6v12h-11.6zM2053.4 545h11.6v12h-11.6zM2114.9 545h11.6v12h-11.6zM2225.6 545h11.6v12h-11.6zM2053.4 557.7h11.6v12h-11.6zM2090.3 557.7h11.6v12h-11.6zM2114.9 557.7h11.6v12h-11.6zM2237.9 557.7h11.6v12h-11.6zM2324 557.7h11.6v12h-11.6zM1721.3 570.5h11.6v12h-11.6zM2053.4 570.5h11.6v12h-11.6zM2324 570.5h11.6v12h-11.6zM2053.4 583.2h11.6v12h-11.6zM2114.9 583.2h11.6v12h-11.6zM2237.9 583.2h11.6v12h-11.6zM2324 583.2h11.6v12h-11.6zM1795.1 595.9h11.6v12h-11.6zM1918.1 595.9h11.6v12h-11.6zM1930.4 595.9h11.6v12h-11.6zM2053.4 595.9h11.6v12h-11.6zM2102.6 595.9h11.6v12h-11.6zM2114.9 595.9h11.6v12h-11.6zM2151.8 595.9h11.6v12h-11.6zM2237.9 595.9h11.6v12h-11.6zM2324 595.9h11.6v12h-11.6zM1795.1 608.6h11.6v12h-11.6zM2053.4 608.6h11.6v12h-11.6zM2090.3 608.6h11.6v12h-11.6zM2102.6 608.6h11.6v12h-11.6zM1721.3 621.3h11.6v12h-11.6zM1795.1 621.3h11.6v12h-11.6zM1930.4 621.3h11.6v12h-11.6zM2053.4 621.3h11.6v12h-11.6zM2102.6 621.3h11.6v12h-11.6zM2237.9 621.3h11.6v12h-11.6zM1696.7 634h11.6v12h-11.6zM1795.1 634h11.6v12h-11.6zM1979.6 634h11.6v12h-11.6zM1991.9 634h11.6v12h-11.6zM1795.1 646.8h11.6v12h-11.6zM1930.4 646.8h11.6v12h-11.6zM1967.3 646.8h11.6v12h-11.6zM2041.1 646.8h11.6v12h-11.6zM2090.3 646.8h11.6v12h-11.6zM2114.9 646.8h11.6v12h-11.6zM2237.9 646.8h11.6v12h-11.6zM1622.9 659.5h11.6v12h-11.6zM1721.3 659.5h11.6v12h-11.6zM1807.4 659.5h11.6v12h-11.6zM1819.7 659.5h11.6v12h-11.6zM1832 659.5h11.6v12h-11.6zM1844.3 659.5h11.6v12h-11.6zM1856.6 659.5h11.6v12h-11.6zM1979.6 659.5h11.6v12h-11.6zM2139.5 659.5h11.6v12h-11.6zM2164.1 659.5h11.6v12h-11.6zM2188.7 659.5h11.6v12h-11.6zM2225.6 659.5h11.6v12h-11.6zM2287.1 659.5h11.6v12h-11.6zM2299.4 659.5h11.6v12h-11.6zM1758.2 672.2h11.6v12h-11.6zM1930.4 672.2h11.6v12h-11.6zM2041.1 672.2h11.6v12h-11.6zM2102.6 672.2h11.6v12h-11.6zM2114.9 672.2h11.6v12h-11.6zM2139.5 672.2h11.6v12h-11.6zM2188.7 672.2h11.6v12h-11.6zM2225.6 672.2h11.6v12h-11.6zM1610.6 684.9h11.6v12h-11.6zM1721.3 684.9h11.6v12h-11.6zM1930.4 684.9h11.6v12h-11.6zM2114.9 684.9h11.6v12h-11.6zM2151.8 684.9h11.6v12h-11.6zM2324 684.9h11.6v12h-11.6zM1610.6 697.6h11.6v12h-11.6zM1745.9 697.6h11.6v12h-11.6zM1782.8 697.6h11.6v12h-11.6zM1905.8 697.6h11.6v12h-11.6zM2078 697.6h11.6v12h-11.6zM2151.8 697.6h11.6v12h-11.6zM2225.6 697.6h11.6v12h-11.6zM2348.6 697.6h11.6v12h-11.6zM1758.2 710.3h11.6v12h-11.6zM1967.3 710.3h11.6v12h-11.6zM2102.6 710.3h11.6v12h-11.6zM2237.9 710.3h11.6v12h-11.6zM2324 710.3h11.6v12h-11.6zM1610.6 723h11.6v12h-11.6zM1647.5 723h11.6v12h-11.6zM1721.3 723h11.6v12h-11.6zM1930.4 723h11.6v12h-11.6zM2065.7 723h11.6v12h-11.6zM1610.6 735.8h11.6v12h-11.6zM1622.9 735.8h11.6v12h-11.6zM1709 735.8h11.6v12h-11.6zM1733.6 735.8h11.6v12h-11.6zM1770.5 735.8h11.6v12h-11.6zM1795.1 735.8h11.6v12h-11.6zM1832 735.8h11.6v12h-11.6zM1881.2 735.8h11.6v12h-11.6zM1955 735.8h11.6v12h-11.6zM1967.3 735.8h11.6v12h-11.6zM1991.9 735.8h11.6v12h-11.6zM2028.8 735.8h11.6v12h-11.6zM2041.1 735.8h11.6v12h-11.6zM2065.7 735.8h11.6v12h-11.6zM2102.6 735.8h11.6v12h-11.6zM2114.9 735.8h11.6v12h-11.6zM2201 735.8h11.6v12h-11.6zM2225.6 735.8h11.6v12h-11.6zM2287.1 735.8h11.6v12h-11.6zM2299.4 735.8h11.6v12h-11.6zM1721.3 748.5h11.6v12h-11.6zM1930.4 748.5h11.6v12h-11.6zM1967.3 748.5h11.6v12h-11.6zM2348.6 748.5h11.6v12h-11.6zM1819.7 761.2h11.6v12h-11.6zM1979.6 761.2h11.6v12h-11.6zM1991.9 773.9h11.6v12h-11.6zM2090.3 773.9h11.6v12h-11.6zM1930.4 786.6h11.6v12h-11.6zM2041.1 786.6h11.6v12h-11.6zM2053.4 786.6h11.6v12h-11.6zM2065.7 786.6h11.6v12h-11.6zM2078 786.6h11.6v12h-11.6zM2324 786.6h11.6v12h-11.6zM1733.6 812h11.6v12h-11.6zM1967.3 812h11.6v12h-11.6zM1979.6 812h11.6v12h-11.6zM1991.9 812h11.6v12h-11.6zM2102.6 812h11.6v12h-11.6zM2151.8 812h11.6v12h-11.6zM2176.4 812h11.6v12h-11.6zM2225.6 812h11.6v12h-11.6zM2250.2 812h11.6v12h-11.6zM2348.6 812h11.6v12h-11.6zM2102.6 824.8h11.6v12h-11.6zM1721.3 837.5h11.6v12h-11.6zM1795.1 837.5h11.6v12h-11.6zM1930.4 837.5h11.6v12h-11.6zM2004.2 837.5h11.6v12h-11.6zM2053.4 837.5h11.6v12h-11.6zM2090.3 837.5h11.6v12h-11.6zM2102.6 837.5h11.6v12h-11.6zM2237.9 837.5h11.6v12h-11.6zM2324 837.5h11.6v12h-11.6zM1721.3 850.2h11.6v12h-11.6zM1733.6 850.2h11.6v12h-11.6zM1758.2 850.2h11.6v12h-11.6zM1770.5 850.2h11.6v12h-11.6zM1918.1 850.2h11.6v12h-11.6zM1955 850.2h11.6v12h-11.6zM2028.8 850.2h11.6v12h-11.6zM2053.4 850.2h11.6v12h-11.6zM2102.6 850.2h11.6v12h-11.6zM2274.8 850.2h11.6v12h-11.6zM2311.7 850.2h11.6v12h-11.6zM2237.9 862.9h11.6v12h-11.6z"/>
<path fill="#e0cbff" d="M1659.8 87.3h11.6v12h-11.6zM1684.4 87.3h11.6v12h-11.6zM1659.8 125.4h11.6v12h-11.6zM1684.4 125.4h11.6v12h-11.6zM1696.7 138.2h11.6v12h-11.6zM1819.7 138.2h11.6v12h-11.6zM1696.7 150.9h11.6v12h-11.6zM1819.7 150.9h11.6v12h-11.6zM1819.7 176.3h11.6v12h-11.6zM1659.8 189h11.6v12h-11.6zM1684.4 189h11.6v12h-11.6zM1684.4 214.4h11.6v12h-11.6zM1819.7 227.2h11.6v12h-11.6zM1979.6 227.2h11.6v12h-11.6zM1979.6 265.3h11.6v12h-11.6zM1684.4 290.7h11.6v12h-11.6zM1721.3 303.4h11.6v12h-11.6zM2041.1 303.4h11.6v12h-11.6zM1696.7 316.2h11.6v12h-11.6zM1819.7 316.2h11.6v12h-11.6zM1598.3 354.3h11.6v12h-11.6zM1672.1 354.3h11.6v12h-11.6zM1819.7 367h11.6v12h-11.6zM1659.8 379.7h11.6v12h-11.6zM1696.7 379.7h11.6v12h-11.6zM1684.4 392.5h11.6v12h-11.6zM2139.5 405.2h11.6v12h-11.6zM1819.7 417.9h11.6v12h-11.6zM1696.7 430.6h11.6v12h-11.6zM1659.8 443.3h11.6v12h-11.6zM1598.3 468.7h11.6v12h-11.6zM1610.6 468.7h11.6v12h-11.6zM1832 468.7h11.6v12h-11.6zM1844.3 468.7h11.6v12h-11.6zM1868.9 468.7h11.6v12h-11.6zM1893.5 468.7h11.6v12h-11.6zM2176.4 468.7h11.6v12h-11.6zM2213.3 468.7h11.6v12h-11.6zM1696.7 506.9h11.6v12h-11.6zM1819.7 506.9h11.6v12h-11.6zM1684.4 532.3h11.6v12h-11.6zM1696.7 557.7h11.6v12h-11.6zM1819.7 557.7h11.6v12h-11.6zM1979.6 557.7h11.6v12h-11.6zM1696.7 583.2h11.6v12h-11.6zM1819.7 583.2h11.6v12h-11.6zM1979.6 583.2h11.6v12h-11.6zM1696.7 608.6h11.6v12h-11.6zM1819.7 608.6h11.6v12h-11.6zM1979.6 608.6h11.6v12h-11.6zM1696.7 621.3h11.6v12h-11.6zM1819.7 621.3h11.6v12h-11.6zM1979.6 621.3h11.6v12h-11.6zM1598.3 634h11.6v12h-11.6zM1635.2 634h11.6v12h-11.6zM1832 634h11.6v12h-11.6zM1844.3 634h11.6v12h-11.6zM1868.9 634h11.6v12h-11.6zM1893.5 634h11.6v12h-11.6zM1942.7 634h11.6v12h-11.6zM2028.8 634h11.6v12h-11.6zM2078 634h11.6v12h-11.6zM2127.2 634h11.6v12h-11.6zM2213.3 634h11.6v12h-11.6zM2262.5 634h11.6v12h-11.6zM2287.1 634h11.6v12h-11.6zM2299.4 634h11.6v12h-11.6zM1659.8 710.3h11.6v12h-11.6zM1684.4 710.3h11.6v12h-11.6zM2139.5 735.8h11.6v12h-11.6zM1659.8 748.5h11.6v12h-11.6zM1684.4 748.5h11.6v12h-11.6zM1598.3 761.2h11.6v12h-11.6zM1635.2 761.2h11.6v12h-11.6zM1832 761.2h11.6v12h-11.6zM1844.3 761.2h11.6v12h-11.6zM1868.9 761.2h11.6v12h-11.6zM1893.5 761.2h11.6v12h-11.6zM1942.7 761.2h11.6v12h-11.6zM2016.5 761.2h11.6v12h-11.6zM2065.7 761.2h11.6v12h-11.6zM2127.2 761.2h11.6v12h-11.6zM2287.1 761.2h11.6v12h-11.6zM2299.4 761.2h11.6v12h-11.6zM1709 773.9h11.6v12h-11.6zM1745.9 773.9h11.6v12h-11.6zM1918.1 773.9h11.6v12h-11.6zM2053.4 773.9h11.6v12h-11.6zM2151.8 773.9h11.6v12h-11.6zM2225.6 773.9h11.6v12h-11.6zM2250.2 773.9h11.6v12h-11.6zM2311.7 773.9h11.6v12h-11.6zM2348.6 773.9h11.6v12h-11.6zM1659.8 786.6h11.6v12h-11.6zM2090.3 786.6h11.6v12h-11.6zM1610.6 799.3h11.6v12h-11.6zM1647.5 799.3h11.6v12h-11.6zM1672.1 799.3h11.6v12h-11.6zM1709 799.3h11.6v12h-11.6zM1745.9 799.3h11.6v12h-11.6zM2004.2 799.3h11.6v12h-11.6zM2065.7 799.3h11.6v12h-11.6zM2250.2 799.3h11.6v12h-11.6zM2311.7 799.3h11.6v12h-11.6zM2348.6 799.3h11.6v12h-11.6zM1659.8 812h11.6v12h-11.6zM1696.7 824.8h11.6v12h-11.6zM1819.7 824.8h11.6v12h-11.6zM1659.8 850.2h11.6v12h-11.6zM1979.6 850.2h11.6v12h-11.6zM1696.7 862.9h11.6v12h-11.6zM1819.7 862.9h11.6v12h-11.6zM1979.6 862.9h11.6v12h-11.6zM2090.3 862.9h11.6v12h-11.6z"/>
<path fill="#f6eeff" d="M1819.7 87.3h11.6v12h-11.6zM1979.6 100h11.6v12h-11.6zM1795.1 112.7h11.6v12h-11.6zM1819.7 112.7h11.6v12h-11.6zM1696.7 125.4h11.6v12h-11.6zM1721.3 125.4h11.6v12h-11.6zM1979.6 125.4h11.6v12h-11.6zM2041.1 125.4h11.6v12h-11.6zM2053.4 125.4h11.6v12h-11.6zM1696.7 163.6h11.6v12h-11.6zM1979.6 163.6h11.6v12h-11.6zM1991.9 176.3h11.6v12h-11.6zM1819.7 189h11.6v12h-11.6zM1696.7 201.7h11.6v12h-11.6zM2114.9 201.7h11.6v12h-11.6zM1979.6 214.4h11.6v12h-11.6zM1795.1 239.9h11.6v12h-11.6zM1721.3 252.6h11.6v12h-11.6zM1979.6 252.6h11.6v12h-11.6zM1696.7 265.3h11.6v12h-11.6zM2102.6 265.3h11.6v12h-11.6zM2041.1 290.7h11.6v12h-11.6zM2053.4 290.7h11.6v12h-11.6zM1610.6 303.4h11.6v12h-11.6zM1991.9 303.4h11.6v12h-11.6zM2114.9 303.4h11.6v12h-11.6zM1795.1 328.9h11.6v12h-11.6zM1819.7 328.9h11.6v12h-11.6zM1930.4 328.9h11.6v12h-11.6zM1979.6 328.9h11.6v12h-11.6zM2139.5 328.9h11.6v12h-11.6zM2237.9 328.9h11.6v12h-11.6zM1684.4 341.6h11.6v12h-11.6zM2176.4 341.6h11.6v12h-11.6zM2053.4 354.3h11.6v12h-11.6zM2053.4 379.7h11.6v12h-11.6zM1721.3 392.5h11.6v12h-11.6zM2065.7 392.5h11.6v12h-11.6zM2090.3 392.5h11.6v12h-11.6zM2151.8 392.5h11.6v12h-11.6zM2311.7 392.5h11.6v12h-11.6zM1696.7 405.2h11.6v12h-11.6zM1918.1 405.2h11.6v12h-11.6zM2028.8 405.2h11.6v12h-11.6zM2151.8 405.2h11.6v12h-11.6zM2311.7 405.2h11.6v12h-11.6zM1979.6 417.9h11.6v12h-11.6zM2041.1 417.9h11.6v12h-11.6zM1758.2 443.3h11.6v12h-11.6zM1770.5 443.3h11.6v12h-11.6zM1782.8 443.3h11.6v12h-11.6zM1598.3 456h11.6v12h-11.6zM1610.6 456h11.6v12h-11.6zM1622.9 456h11.6v12h-11.6zM1635.2 456h11.6v12h-11.6zM1672.1 456h11.6v12h-11.6zM1844.3 456h11.6v12h-11.6zM1856.6 456h11.6v12h-11.6zM1868.9 456h11.6v12h-11.6zM2139.5 456h11.6v12h-11.6zM2262.5 456h11.6v12h-11.6zM1709 468.7h11.6v12h-11.6zM1733.6 468.7h11.6v12h-11.6zM1770.5 468.7h11.6v12h-11.6zM1782.8 468.7h11.6v12h-11.6zM1807.4 468.7h11.6v12h-11.6zM1856.6 468.7h11.6v12h-11.6zM1918.1 468.7h11.6v12h-11.6zM1955 468.7h11.6v12h-11.6zM2028.8 468.7h11.6v12h-11.6zM2114.9 468.7h11.6v12h-11.6zM2188.7 468.7h11.6v12h-11.6zM2225.6 468.7h11.6v12h-11.6zM2274.8 468.7h11.6v12h-11.6zM2311.7 468.7h11.6v12h-11.6zM2336.3 468.7h11.6v12h-11.6zM1795.1 481.5h11.6v12h-11.6zM1819.7 481.5h11.6v12h-11.6zM1819.7 494.2h11.6v12h-11.6zM1979.6 494.2h11.6v12h-11.6zM2114.9 519.6h11.6v12h-11.6zM1696.7 532.3h11.6v12h-11.6zM1979.6 532.3h11.6v12h-11.6zM2041.1 532.3h11.6v12h-11.6zM1819.7 545h11.6v12h-11.6zM1696.7 570.5h11.6v12h-11.6zM1991.9 583.2h11.6v12h-11.6zM1696.7 595.9h11.6v12h-11.6zM1819.7 595.9h11.6v12h-11.6zM1979.6 595.9h11.6v12h-11.6zM1991.9 595.9h11.6v12h-11.6zM1991.9 608.6h11.6v12h-11.6zM1647.5 634h11.6v12h-11.6zM1709 634h11.6v12h-11.6zM1770.5 634h11.6v12h-11.6zM1782.8 634h11.6v12h-11.6zM1807.4 634h11.6v12h-11.6zM1856.6 634h11.6v12h-11.6zM1905.8 634h11.6v12h-11.6zM1955 634h11.6v12h-11.6zM1967.3 634h11.6v12h-11.6zM2114.9 634h11.6v12h-11.6zM2250.2 634h11.6v12h-11.6zM2324 634h11.6v12h-11.6zM2348.6 634h11.6v12h-11.6zM1819.7 646.8h11.6v12h-11.6zM1979.6 646.8h11.6v12h-11.6zM1745.9 659.5h11.6v12h-11.6zM1967.3 659.5h11.6v12h-11.6zM2114.9 659.5h11.6v12h-11.6zM2201 659.5h11.6v12h-11.6zM2324 659.5h11.6v12h-11.6zM1819.7 672.2h11.6v12h-11.6zM1979.6 672.2h11.6v12h-11.6zM2004.2 672.2h11.6v12h-11.6zM1696.7 684.9h11.6v12h-11.6zM1819.7 684.9h11.6v12h-11.6zM1979.6 684.9h11.6v12h-11.6zM2004.2 684.9h11.6v12h-11.6zM1684.4 697.6h11.6v12h-11.6zM2004.2 697.6h11.6v12h-11.6zM1696.7 710.3h11.6v12h-11.6zM1795.1 710.3h11.6v12h-11.6zM1979.6 723h11.6v12h-11.6zM1635.2 735.8h11.6v12h-11.6zM1672.1 735.8h11.6v12h-11.6zM2053.4 735.8h11.6v12h-11.6zM2188.7 735.8h11.6v12h-11.6zM2311.7 735.8h11.6v12h-11.6zM1696.7 748.5h11.6v12h-11.6zM1819.7 748.5h11.6v12h-11.6zM1979.6 748.5h11.6v12h-11.6zM1622.9 761.2h11.6v12h-11.6zM1709 761.2h11.6v12h-11.6zM1745.9 761.2h11.6v12h-11.6zM1770.5 761.2h11.6v12h-11.6zM1856.6 761.2h11.6v12h-11.6zM1881.2 761.2h11.6v12h-11.6zM1918.1 761.2h11.6v12h-11.6zM2041.1 761.2h11.6v12h-11.6zM2176.4 761.2h11.6v12h-11.6zM2237.9 761.2h11.6v12h-11.6zM2274.8 761.2h11.6v12h-11.6zM2311.7 761.2h11.6v12h-11.6zM1758.2 773.9h11.6v12h-11.6zM2102.6 773.9h11.6v12h-11.6zM1721.3 786.6h11.6v12h-11.6zM1991.9 786.6h11.6v12h-11.6zM1819.7 812h11.6v12h-11.6zM1721.3 824.8h11.6v12h-11.6zM1991.9 824.8h11.6v12h-11.6zM1696.7 837.5h11.6v12h-11.6zM1991.9 837.5h11.6v12h-11.6zM1991.9 850.2h11.6v12h-11.6zM2139.5 850.2h11.6v12h-11.6zM1991.9 862.9h11.6v12h-11.6z"/>
<path fill="#ffc0ab" d="M1635.2 100h11.6v12h-11.6zM1832 100h11.6v12h-11.6zM1868.9 100h11.6v12h-11.6zM1893.5 100h11.6v12h-11.6zM1942.7 100h11.6v12h-11.6zM2078 100h11.6v12h-11.6zM2127.2 100h11.6v12h-11.6zM2213.3 100h11.6v12h-11.6zM2262.5 100h11.6v12h-11.6zM2287.1 100h11.6v12h-11.6zM2299.4 100h11.6v12h-11.6zM1598.3 125.4h11.6v12h-11.6zM1635.2 125.4h11.6v12h-11.6zM1844.3 125.4h11.6v12h-11.6zM1868.9 125.4h11.6v12h-11.6zM1893.5 125.4h11.6v12h-11.6zM1918.1 125.4h11.6v12h-11.6zM1942.7 125.4h11.6v12h-11.6zM2028.8 125.4h11.6v12h-11.6zM2127.2 125.4h11.6v12h-11.6zM2262.5 125.4h11.6v12h-11.6zM2274.8 125.4h11.6v12h-11.6zM2287.1 125.4h11.6v12h-11.6zM2299.4 125.4h11.6v12h-11.6zM1610.6 138.2h11.6v12h-11.6zM1647.5 138.2h11.6v12h-11.6zM1709 138.2h11.6v12h-11.6zM1733.6 138.2h11.6v12h-11.6zM1745.9 138.2h11.6v12h-11.6zM1782.8 138.2h11.6v12h-11.6zM1856.6 138.2h11.6v12h-11.6zM1905.8 138.2h11.6v12h-11.6zM1918.1 138.2h11.6v12h-11.6zM2065.7 138.2h11.6v12h-11.6zM2311.7 138.2h11.6v12h-11.6zM2336.3 138.2h11.6v12h-11.6zM1610.6 150.9h11.6v12h-11.6zM1647.5 150.9h11.6v12h-11.6zM1709 150.9h11.6v12h-11.6zM1733.6 150.9h11.6v12h-11.6zM1782.8 150.9h11.6v12h-11.6zM1918.1 150.9h11.6v12h-11.6zM2041.1 150.9h11.6v12h-11.6zM2065.7 150.9h11.6v12h-11.6zM2311.7 150.9h11.6v12h-11.6zM2336.3 150.9h11.6v12h-11.6zM1622.9 163.6h11.6v12h-11.6zM1672.1 163.6h11.6v12h-11.6zM1709 163.6h11.6v12h-11.6zM1733.6 163.6h11.6v12h-11.6zM1745.9 163.6h11.6v12h-11.6zM1770.5 163.6h11.6v12h-11.6zM1807.4 163.6h11.6v12h-11.6zM1832 163.6h11.6v12h-11.6zM1881.2 163.6h11.6v12h-11.6zM1905.8 163.6h11.6v12h-11.6zM1942.7 163.6h11.6v12h-11.6zM2164.1 163.6h11.6v12h-11.6zM2176.4 163.6h11.6v12h-11.6zM2188.7 163.6h11.6v12h-11.6zM2201 163.6h11.6v12h-11.6zM2213.3 163.6h11.6v12h-11.6zM2311.7 163.6h11.6v12h-11.6zM1622.9 176.3h11.6v12h-11.6zM1709 176.3h11.6v12h-11.6zM1745.9 176.3h11.6v12h-11.6zM1782.8 176.3h11.6v12h-11.6zM1807.4 176.3h11.6v12h-11.6zM1856.6 176.3h11.6v12h-11.6zM1905.8 176.3h11.6v12h-11.6zM1918.1 176.3h11.6v12h-11.6zM1955 176.3h11.6v12h-11.6zM2188.7 176.3h11.6v12h-11.6zM2250.2 176.3h11.6v12h-11.6zM2311.7 176.3h11.6v12h-11.6zM2336.3 176.3h11.6v12h-11.6zM1868.9 189h11.6v12h-11.6zM1942.7 189h11.6v12h-11.6zM2262.5 189h11.6v12h-11.6zM1610.6 227.2h11.6v12h-11.6zM1672.1 227.2h11.6v12h-11.6zM1745.9 227.2h11.6v12h-11.6zM1770.5 227.2h11.6v12h-11.6zM1782.8 227.2h11.6v12h-11.6zM1807.4 227.2h11.6v12h-11.6zM1856.6 227.2h11.6v12h-11.6zM1881.2 227.2h11.6v12h-11.6zM1905.8 227.2h11.6v12h-11.6zM1918.1 227.2h11.6v12h-11.6zM1955 227.2h11.6v12h-11.6zM2065.7 227.2h11.6v12h-11.6zM2139.5 227.2h11.6v12h-11.6zM2188.7 227.2h11.6v12h-11.6zM2201 227.2h11.6v12h-11.6zM2274.8 227.2h11.6v12h-11.6zM2336.3 227.2h11.6v12h-11.6zM1622.9 239.9h11.6v12h-11.6zM1672.1 239.9h11.6v12h-11.6zM1745.9 239.9h11.6v12h-11.6zM1770.5 239.9h11.6v12h-11.6zM1807.4 239.9h11.6v12h-11.6zM1832 239.9h11.6v12h-11.6zM1881.2 239.9h11.6v12h-11.6zM1955 239.9h11.6v12h-11.6zM2016.5 239.9h11.6v12h-11.6zM2078 239.9h11.6v12h-11.6zM2127.2 239.9h11.6v12h-11.6zM2164.1 239.9h11.6v12h-11.6zM2176.4 239.9h11.6v12h-11.6zM2213.3 239.9h11.6v12h-11.6zM2274.8 239.9h11.6v12h-11.6zM1622.9 252.6h11.6v12h-11.6zM1672.1 252.6h11.6v12h-11.6zM1807.4 252.6h11.6v12h-11.6zM1832 252.6h11.6v12h-11.6zM1881.2 252.6h11.6v12h-11.6zM2016.5 252.6h11.6v12h-11.6zM2028.8 252.6h11.6v12h-11.6zM2078 252.6h11.6v12h-11.6zM2127.2 252.6h11.6v12h-11.6zM2139.5 252.6h11.6v12h-11.6zM2176.4 252.6h11.6v12h-11.6zM2213.3 252.6h11.6v12h-11.6zM2262.5 252.6h11.6v12h-11.6zM2274.8 252.6h11.6v12h-11.6zM1610.6 265.3h11.6v12h-11.6zM1622.9 265.3h11.6v12h-11.6zM1832 265.3h11.6v12h-11.6zM1881.2 265.3h11.6v12h-11.6zM2016.5 265.3h11.6v12h-11.6zM2028.8 265.3h11.6v12h-11.6zM2078 265.3h11.6v12h-11.6zM2127.2 265.3h11.6v12h-11.6zM2139.5 265.3h11.6v12h-11.6zM2164.1 265.3h11.6v12h-11.6zM2188.7 265.3h11.6v12h-11.6zM2201 265.3h11.6v12h-11.6zM2274.8 265.3h11.6v12h-11.6zM1598.3 278h11.6v12h-11.6zM1610.6 278h11.6v12h-11.6zM1622.9 278h11.6v12h-11.6zM1745.9 278h11.6v12h-11.6zM1770.5 278h11.6v12h-11.6zM1881.2 278h11.6v12h-11.6zM1918.1 278h11.6v12h-11.6zM1955 278h11.6v12h-11.6zM2028.8 278h11.6v12h-11.6zM2176.4 278h11.6v12h-11.6zM2201 278h11.6v12h-11.6zM2274.8 278h11.6v12h-11.6zM1647.5 303.4h11.6v12h-11.6zM1844.3 303.4h11.6v12h-11.6zM1881.2 303.4h11.6v12h-11.6zM1918.1 303.4h11.6v12h-11.6zM1942.7 303.4h11.6v12h-11.6zM2176.4 303.4h11.6v12h-11.6zM2188.7 303.4h11.6v12h-11.6zM2213.3 303.4h11.6v12h-11.6zM1622.9 316.2h11.6v12h-11.6zM1672.1 316.2h11.6v12h-11.6zM1709 316.2h11.6v12h-11.6zM1745.9 316.2h11.6v12h-11.6zM1770.5 316.2h11.6v12h-11.6zM1807.4 316.2h11.6v12h-11.6zM1856.6 316.2h11.6v12h-11.6zM1905.8 316.2h11.6v12h-11.6zM1918.1 316.2h11.6v12h-11.6zM1955 316.2h11.6v12h-11.6zM2004.2 316.2h11.6v12h-11.6zM2041.1 316.2h11.6v12h-11.6zM2176.4 316.2h11.6v12h-11.6zM2188.7 316.2h11.6v12h-11.6zM2201 316.2h11.6v12h-11.6zM2311.7 316.2h11.6v12h-11.6zM2336.3 316.2h11.6v12h-11.6zM2028.8 354.3h11.6v12h-11.6zM1622.9 367h11.6v12h-11.6zM1807.4 367h11.6v12h-11.6zM1881.2 367h11.6v12h-11.6zM1955 367h11.6v12h-11.6zM2065.7 367h11.6v12h-11.6zM2176.4 367h11.6v12h-11.6zM2188.7 367h11.6v12h-11.6zM2201 367h11.6v12h-11.6zM2336.3 367h11.6v12h-11.6zM1832 379.7h11.6v12h-11.6zM1844.3 379.7h11.6v12h-11.6zM1942.7 379.7h11.6v12h-11.6zM2078 379.7h11.6v12h-11.6zM2213.3 379.7h11.6v12h-11.6zM2287.1 379.7h11.6v12h-11.6zM2299.4 379.7h11.6v12h-11.6zM1647.5 392.5h11.6v12h-11.6zM1635.2 405.2h11.6v12h-11.6zM1647.5 405.2h11.6v12h-11.6zM1942.7 405.2h11.6v12h-11.6zM2127.2 405.2h11.6v12h-11.6zM2287.1 405.2h11.6v12h-11.6zM1622.9 417.9h11.6v12h-11.6zM1647.5 417.9h11.6v12h-11.6zM1709 417.9h11.6v12h-11.6zM1770.5 417.9h11.6v12h-11.6zM1807.4 417.9h11.6v12h-11.6zM1832 417.9h11.6v12h-11.6zM2016.5 417.9h11.6v12h-11.6zM2090.3 417.9h11.6v12h-11.6zM2164.1 417.9h11.6v12h-11.6zM2176.4 417.9h11.6v12h-11.6zM2188.7 417.9h11.6v12h-11.6zM2311.7 417.9h11.6v12h-11.6zM1610.6 430.6h11.6v12h-11.6zM1622.9 430.6h11.6v12h-11.6zM1647.5 430.6h11.6v12h-11.6zM1672.1 430.6h11.6v12h-11.6zM1745.9 430.6h11.6v12h-11.6zM1770.5 430.6h11.6v12h-11.6zM1807.4 430.6h11.6v12h-11.6zM1856.6 430.6h11.6v12h-11.6zM2004.2 430.6h11.6v12h-11.6zM2028.8 430.6h11.6v12h-11.6zM2176.4 430.6h11.6v12h-11.6zM2188.7 430.6h11.6v12h-11.6zM2201 430.6h11.6v12h-11.6zM1647.5 443.3h11.6v12h-11.6zM1795.1 443.3h11.6v12h-11.6zM1979.6 443.3h11.6v12h-11.6zM2016.5 443.3h11.6v12h-11.6zM2127.2 443.3h11.6v12h-11.6zM2004.2 468.7h11.6v12h-11.6zM1598.3 494.2h11.6v12h-11.6zM1672.1 494.2h11.6v12h-11.6zM1832 494.2h11.6v12h-11.6zM1905.8 494.2h11.6v12h-11.6zM2078 494.2h11.6v12h-11.6zM2127.2 494.2h11.6v12h-11.6zM2164.1 494.2h11.6v12h-11.6zM2201 494.2h11.6v12h-11.6zM2213.3 494.2h11.6v12h-11.6zM2262.5 494.2h11.6v12h-11.6zM1610.6 506.9h11.6v12h-11.6zM1709 506.9h11.6v12h-11.6zM1745.9 506.9h11.6v12h-11.6zM1770.5 506.9h11.6v12h-11.6zM1918.1 506.9h11.6v12h-11.6zM2041.1 506.9h11.6v12h-11.6zM2065.7 506.9h11.6v12h-11.6zM2139.5 506.9h11.6v12h-11.6zM2250.2 506.9h11.6v12h-11.6zM2274.8 506.9h11.6v12h-11.6zM2311.7 506.9h11.6v12h-11.6zM2336.3 506.9h11.6v12h-11.6zM1598.3 532.3h11.6v12h-11.6zM1635.2 532.3h11.6v12h-11.6zM1672.1 532.3h11.6v12h-11.6zM1709 532.3h11.6v12h-11.6zM1844.3 532.3h11.6v12h-11.6zM1868.9 532.3h11.6v12h-11.6zM1893.5 532.3h11.6v12h-11.6zM1942.7 532.3h11.6v12h-11.6zM2127.2 532.3h11.6v12h-11.6zM2139.5 532.3h11.6v12h-11.6zM2164.1 532.3h11.6v12h-11.6zM2213.3 532.3h11.6v12h-11.6zM2262.5 532.3h11.6v12h-11.6zM2287.1 532.3h11.6v12h-11.6zM2299.4 532.3h11.6v12h-11.6zM2311.7 532.3h11.6v12h-11.6zM1635.2 545h11.6v12h-11.6zM1844.3 545h11.6v12h-11.6zM1868.9 545h11.6v12h-11.6zM1893.5 545h11.6v12h-11.6zM1955 545h11.6v12h-11.6zM2127.2 545h11.6v12h-11.6zM2213.3 545h11.6v12h-11.6zM2262.5 545h11.6v12h-11.6zM2274.8 545h11.6v12h-11.6zM2299.4 545h11.6v12h-11.6zM1709 557.7h11.6v12h-11.6zM1745.9 557.7h11.6v12h-11.6zM1770.5 557.7h11.6v12h-11.6zM1856.6 557.7h11.6v12h-11.6zM1905.8 557.7h11.6v12h-11.6zM1918.1 557.7h11.6v12h-11.6zM2311.7 557.7h11.6v12h-11.6zM2336.3 557.7h11.6v12h-11.6zM1622.9 570.5h11.6v12h-11.6zM1745.9 570.5h11.6v12h-11.6zM1770.5 570.5h11.6v12h-11.6zM1782.8 570.5h11.6v12h-11.6zM1807.4 570.5h11.6v12h-11.6zM1832 570.5h11.6v12h-11.6zM1856.6 570.5h11.6v12h-11.6zM2078 570.5h11.6v12h-11.6zM2139.5 570.5h11.6v12h-11.6zM2164.1 570.5h11.6v12h-11.6zM2176.4 570.5h11.6v12h-11.6zM2188.7 570.5h11.6v12h-11.6zM2201 570.5h11.6v12h-11.6zM2213.3 570.5h11.6v12h-11.6zM2274.8 570.5h11.6v12h-11.6zM1610.6 583.2h11.6v12h-11.6zM1709 583.2h11.6v12h-11.6zM1745.9 583.2h11.6v12h-11.6zM1770.5 583.2h11.6v12h-11.6zM1856.6 583.2h11.6v12h-11.6zM1905.8 583.2h11.6v12h-11.6zM1918.1 583.2h11.6v12h-11.6zM2250.2 583.2h11.6v12h-11.6zM2311.7 583.2h11.6v12h-11.6zM2336.3 583.2h11.6v12h-11.6zM1635.2 595.9h11.6v12h-11.6zM1844.3 595.9h11.6v12h-11.6zM1868.9 595.9h11.6v12h-11.6zM1881.2 595.9h11.6v12h-11.6zM1893.5 595.9h11.6v12h-11.6zM2016.5 595.9h11.6v12h-11.6zM2127.2 595.9h11.6v12h-11.6zM2213.3 595.9h11.6v12h-11.6zM2262.5 595.9h11.6v12h-11.6zM2299.4 595.9h11.6v12h-11.6zM1610.6 608.6h11.6v12h-11.6zM1709 608.6h11.6v12h-11.6zM1856.6 608.6h11.6v12h-11.6zM1905.8 608.6h11.6v12h-11.6zM1918.1 608.6h11.6v12h-11.6zM2065.7 608.6h11.6v12h-11.6zM2139.5 608.6h11.6v12h-11.6zM2311.7 608.6h11.6v12h-11.6zM1610.6 621.3h11.6v12h-11.6zM1672.1 621.3h11.6v12h-11.6zM1745.9 621.3h11.6v12h-11.6zM1770.5 621.3h11.6v12h-11.6zM1807.4 621.3h11.6v12h-11.6zM1881.2 621.3h11.6v12h-11.6zM1955 621.3h11.6v12h-11.6zM2028.8 621.3h11.6v12h-11.6zM2065.7 621.3h11.6v12h-11.6zM2176.4 621.3h11.6v12h-11.6zM2188.7 621.3h11.6v12h-11.6zM2201 621.3h11.6v12h-11.6zM2274.8 621.3h11.6v12h-11.6zM2336.3 621.3h11.6v12h-11.6zM1635.2 646.8h11.6v12h-11.6zM1832 646.8h11.6v12h-11.6zM1881.2 646.8h11.6v12h-11.6zM2016.5 646.8h11.6v12h-11.6zM2028.8 646.8h11.6v12h-11.6zM2078 646.8h11.6v12h-11.6zM2127.2 646.8h11.6v12h-11.6zM2188.7 646.8h11.6v12h-11.6zM2201 646.8h11.6v12h-11.6zM2213.3 646.8h11.6v12h-11.6zM2262.5 646.8h11.6v12h-11.6zM2274.8 646.8h11.6v12h-11.6zM2004.2 659.5h11.6v12h-11.6zM1881.2 672.2h11.6v12h-11.6zM2213.3 672.2h11.6v12h-11.6zM2262.5 672.2h11.6v12h-11.6zM2287.1 672.2h11.6v12h-11.6zM2299.4 672.2h11.6v12h-11.6zM1598.3 684.9h11.6v12h-11.6zM1635.2 684.9h11.6v12h-11.6zM1832 684.9h11.6v12h-11.6zM1868.9 684.9h11.6v12h-11.6zM1881.2 684.9h11.6v12h-11.6zM1893.5 684.9h11.6v12h-11.6zM1942.7 684.9h11.6v12h-11.6zM2016.5 684.9h11.6v12h-11.6zM2028.8 684.9h11.6v12h-11.6zM2127.2 684.9h11.6v12h-11.6zM2164.1 684.9h11.6v12h-11.6zM2201 684.9h11.6v12h-11.6zM2213.3 684.9h11.6v12h-11.6zM2274.8 684.9h11.6v12h-11.6zM1598.3 710.3h11.6v12h-11.6zM1635.2 710.3h11.6v12h-11.6zM1672.1 710.3h11.6v12h-11.6zM1832 710.3h11.6v12h-11.6zM1868.9 710.3h11.6v12h-11.6zM1881.2 710.3h11.6v12h-11.6zM1893.5 710.3h11.6v12h-11.6zM1942.7 710.3h11.6v12h-11.6zM2016.5 710.3h11.6v12h-11.6zM2127.2 710.3h11.6v12h-11.6zM2164.1 710.3h11.6v12h-11.6zM2201 710.3h11.6v12h-11.6zM2213.3 710.3h11.6v12h-11.6zM2262.5 710.3h11.6v12h-11.6zM2274.8 710.3h11.6v12h-11.6zM2299.4 710.3h11.6v12h-11.6zM2274.8 723h11.6v12h-11.6zM2287.1 723h11.6v12h-11.6zM2299.4 723h11.6v12h-11.6zM1635.2 748.5h11.6v12h-11.6zM1844.3 748.5h11.6v12h-11.6zM1868.9 748.5h11.6v12h-11.6zM1893.5 748.5h11.6v12h-11.6zM1918.1 748.5h11.6v12h-11.6zM1942.7 748.5h11.6v12h-11.6zM2028.8 748.5h11.6v12h-11.6zM2127.2 748.5h11.6v12h-11.6zM2262.5 748.5h11.6v12h-11.6zM2274.8 748.5h11.6v12h-11.6zM2287.1 748.5h11.6v12h-11.6zM2299.4 748.5h11.6v12h-11.6zM1684.4 761.2h11.6v12h-11.6zM1696.7 773.9h11.6v12h-11.6zM1745.9 786.6h11.6v12h-11.6zM1832 786.6h11.6v12h-11.6zM1918.1 786.6h11.6v12h-11.6zM1955 786.6h11.6v12h-11.6zM2016.5 786.6h11.6v12h-11.6zM2127.2 786.6h11.6v12h-11.6zM2188.7 786.6h11.6v12h-11.6zM2201 786.6h11.6v12h-11.6zM2213.3 786.6h11.6v12h-11.6zM2274.8 786.6h11.6v12h-11.6zM2004.2 812h11.6v12h-11.6zM2016.5 812h11.6v12h-11.6zM2028.8 812h11.6v12h-11.6zM2041.1 812h11.6v12h-11.6zM2053.4 812h11.6v12h-11.6zM2139.5 812h11.6v12h-11.6zM2287.1 812h11.6v12h-11.6zM2299.4 812h11.6v12h-11.6zM1610.6 824.8h11.6v12h-11.6zM1709 824.8h11.6v12h-11.6zM1745.9 824.8h11.6v12h-11.6zM1770.5 824.8h11.6v12h-11.6zM1807.4 824.8h11.6v12h-11.6zM1856.6 824.8h11.6v12h-11.6zM1905.8 824.8h11.6v12h-11.6zM1918.1 824.8h11.6v12h-11.6zM2041.1 824.8h11.6v12h-11.6zM2311.7 824.8h11.6v12h-11.6zM2336.3 824.8h11.6v12h-11.6zM1598.3 837.5h11.6v12h-11.6zM1881.2 837.5h11.6v12h-11.6zM2016.5 837.5h11.6v12h-11.6zM2028.8 837.5h11.6v12h-11.6zM2078 837.5h11.6v12h-11.6zM2127.2 837.5h11.6v12h-11.6zM2164.1 837.5h11.6v12h-11.6zM2176.4 837.5h11.6v12h-11.6zM2188.7 837.5h11.6v12h-11.6zM2201 837.5h11.6v12h-11.6zM2262.5 837.5h11.6v12h-11.6zM2274.8 837.5h11.6v12h-11.6zM1635.2 850.2h11.6v12h-11.6zM1832 850.2h11.6v12h-11.6zM1844.3 850.2h11.6v12h-11.6zM1868.9 850.2h11.6v12h-11.6zM1942.7 850.2h11.6v12h-11.6zM2016.5 850.2h11.6v12h-11.6zM2164.1 850.2h11.6v12h-11.6zM2176.4 850.2h11.6v12h-11.6zM2213.3 850.2h11.6v12h-11.6zM2287.1 850.2h11.6v12h-11.6zM2299.4 850.2h11.6v12h-11.6zM1622.9 862.9h11.6v12h-11.6zM1745.9 862.9h11.6v12h-11.6zM1770.5 862.9h11.6v12h-11.6zM1918.1 862.9h11.6v12h-11.6zM1955 862.9h11.6v12h-11.6zM2164.1 862.9h11.6v12h-11.6zM2311.7 862.9h11.6v12h-11.6z"/>
<path fill="#d3b7ff" d="M1659.8 100h11.6v12h-11.6zM1684.4 100h11.6v12h-11.6zM1684.4 163.6h11.6v12h-11.6zM1659.8 252.6h11.6v12h-11.6zM1659.8 265.3h11.6v12h-11.6zM2004.2 265.3h11.6v12h-11.6zM1659.8 303.4h11.6v12h-11.6zM1684.4 303.4h11.6v12h-11.6zM2004.2 303.4h11.6v12h-11.6zM1659.8 392.5h11.6v12h-11.6zM1659.8 405.2h11.6v12h-11.6zM1684.4 405.2h11.6v12h-11.6zM1659.8 417.9h11.6v12h-11.6zM1684.4 417.9h11.6v12h-11.6zM2139.5 443.3h11.6v12h-11.6zM2176.4 443.3h11.6v12h-11.6zM1659.8 494.2h11.6v12h-11.6zM1684.4 494.2h11.6v12h-11.6zM1659.8 532.3h11.6v12h-11.6zM1659.8 545h11.6v12h-11.6zM1684.4 545h11.6v12h-11.6zM1659.8 595.9h11.6v12h-11.6zM1659.8 646.8h11.6v12h-11.6zM1684.4 646.8h11.6v12h-11.6zM1672.1 659.5h11.6v12h-11.6zM1659.8 684.9h11.6v12h-11.6zM1684.4 684.9h11.6v12h-11.6zM1610.6 773.9h11.6v12h-11.6zM1622.9 773.9h11.6v12h-11.6zM1647.5 773.9h11.6v12h-11.6zM1672.1 773.9h11.6v12h-11.6zM1770.5 773.9h11.6v12h-11.6zM1807.4 773.9h11.6v12h-11.6zM1905.8 773.9h11.6v12h-11.6zM1955 773.9h11.6v12h-11.6zM2028.8 773.9h11.6v12h-11.6zM2041.1 773.9h11.6v12h-11.6zM2139.5 773.9h11.6v12h-11.6zM2274.8 773.9h11.6v12h-11.6zM2336.3 773.9h11.6v12h-11.6zM1684.4 786.6h11.6v12h-11.6zM1795.1 786.6h11.6v12h-11.6zM1622.9 799.3h11.6v12h-11.6zM1770.5 799.3h11.6v12h-11.6zM1807.4 799.3h11.6v12h-11.6zM1856.6 799.3h11.6v12h-11.6zM1905.8 799.3h11.6v12h-11.6zM1918.1 799.3h11.6v12h-11.6zM1955 799.3h11.6v12h-11.6zM2028.8 799.3h11.6v12h-11.6zM2041.1 799.3h11.6v12h-11.6zM2053.4 799.3h11.6v12h-11.6zM2139.5 799.3h11.6v12h-11.6zM2176.4 799.3h11.6v12h-11.6zM2188.7 799.3h11.6v12h-11.6zM2336.3 799.3h11.6v12h-11.6zM1684.4 812h11.6v12h-11.6zM1659.8 837.5h11.6v12h-11.6zM1684.4 837.5h11.6v12h-11.6zM1684.4 850.2h11.6v12h-11.6z"/>
<path fill="#ecdeff" d="M1696.7 100h11.6v12h-11.6zM1819.7 100h11.6v12h-11.6zM1659.8 112.7h11.6v12h-11.6zM1684.4 112.7h11.6v12h-11.6zM1819.7 125.4h11.6v12h-11.6zM2004.2 125.4h11.6v12h-11.6zM1979.6 138.2h11.6v12h-11.6zM1979.6 150.9h11.6v12h-11.6zM1819.7 163.6h11.6v12h-11.6zM2004.2 163.6h11.6v12h-11.6zM1696.7 176.3h11.6v12h-11.6zM1979.6 176.3h11.6v12h-11.6zM1659.8 201.7h11.6v12h-11.6zM1684.4 201.7h11.6v12h-11.6zM1659.8 214.4h11.6v12h-11.6zM1696.7 227.2h11.6v12h-11.6zM1696.7 239.9h11.6v12h-11.6zM1819.7 239.9h11.6v12h-11.6zM1979.6 239.9h11.6v12h-11.6zM1696.7 252.6h11.6v12h-11.6zM1819.7 252.6h11.6v12h-11.6zM1819.7 265.3h11.6v12h-11.6zM2041.1 265.3h11.6v12h-11.6zM2053.4 265.3h11.6v12h-11.6zM1819.7 278h11.6v12h-11.6zM1979.6 278h11.6v12h-11.6zM1659.8 290.7h11.6v12h-11.6zM2004.2 290.7h11.6v12h-11.6zM1696.7 303.4h11.6v12h-11.6zM1819.7 303.4h11.6v12h-11.6zM2053.4 303.4h11.6v12h-11.6zM2102.6 303.4h11.6v12h-11.6zM1659.8 328.9h11.6v12h-11.6zM1684.4 328.9h11.6v12h-11.6zM1659.8 341.6h11.6v12h-11.6zM2139.5 341.6h11.6v12h-11.6zM1696.7 367h11.6v12h-11.6zM1819.7 379.7h11.6v12h-11.6zM1979.6 379.7h11.6v12h-11.6zM2028.8 392.5h11.6v12h-11.6zM2139.5 392.5h11.6v12h-11.6zM2176.4 392.5h11.6v12h-11.6zM2176.4 405.2h11.6v12h-11.6zM1696.7 417.9h11.6v12h-11.6zM2004.2 417.9h11.6v12h-11.6zM2053.4 417.9h11.6v12h-11.6zM1819.7 430.6h11.6v12h-11.6zM1979.6 430.6h11.6v12h-11.6zM1598.3 443.3h11.6v12h-11.6zM1672.1 443.3h11.6v12h-11.6zM1684.4 443.3h11.6v12h-11.6zM1733.6 443.3h11.6v12h-11.6zM1918.1 443.3h11.6v12h-11.6zM2028.8 443.3h11.6v12h-11.6zM2151.8 443.3h11.6v12h-11.6zM2274.8 443.3h11.6v12h-11.6zM2311.7 443.3h11.6v12h-11.6zM1622.9 468.7h11.6v12h-11.6zM1635.2 468.7h11.6v12h-11.6zM1672.1 468.7h11.6v12h-11.6zM1745.9 468.7h11.6v12h-11.6zM1881.2 468.7h11.6v12h-11.6zM1905.8 468.7h11.6v12h-11.6zM1942.7 468.7h11.6v12h-11.6zM2016.5 468.7h11.6v12h-11.6zM2065.7 468.7h11.6v12h-11.6zM2164.1 468.7h11.6v12h-11.6zM2201 468.7h11.6v12h-11.6zM2262.5 468.7h11.6v12h-11.6zM2287.1 468.7h11.6v12h-11.6zM2299.4 468.7h11.6v12h-11.6zM1659.8 481.5h11.6v12h-11.6zM1684.4 481.5h11.6v12h-11.6zM1696.7 494.2h11.6v12h-11.6zM1979.6 506.9h11.6v12h-11.6zM1659.8 519.6h11.6v12h-11.6zM1684.4 519.6h11.6v12h-11.6zM1819.7 532.3h11.6v12h-11.6zM2004.2 532.3h11.6v12h-11.6zM1696.7 545h11.6v12h-11.6zM1979.6 545h11.6v12h-11.6zM1795.1 570.5h11.6v12h-11.6zM1819.7 570.5h11.6v12h-11.6zM1979.6 570.5h11.6v12h-11.6zM1610.6 634h11.6v12h-11.6zM1622.9 634h11.6v12h-11.6zM1672.1 634h11.6v12h-11.6zM1745.9 634h11.6v12h-11.6zM1881.2 634h11.6v12h-11.6zM1918.1 634h11.6v12h-11.6zM2016.5 634h11.6v12h-11.6zM2065.7 634h11.6v12h-11.6zM2139.5 634h11.6v12h-11.6zM2164.1 634h11.6v12h-11.6zM2176.4 634h11.6v12h-11.6zM2188.7 634h11.6v12h-11.6zM2201 634h11.6v12h-11.6zM2274.8 634h11.6v12h-11.6zM2311.7 634h11.6v12h-11.6zM2336.3 634h11.6v12h-11.6zM1696.7 646.8h11.6v12h-11.6zM1598.3 659.5h11.6v12h-11.6zM1782.8 659.5h11.6v12h-11.6zM1881.2 659.5h11.6v12h-11.6zM1659.8 672.2h11.6v12h-11.6zM1684.4 672.2h11.6v12h-11.6zM1795.1 672.2h11.6v12h-11.6zM1659.8 697.6h11.6v12h-11.6zM1819.7 710.3h11.6v12h-11.6zM1979.6 710.3h11.6v12h-11.6zM1659.8 723h11.6v12h-11.6zM1684.4 723h11.6v12h-11.6zM2004.2 723h11.6v12h-11.6zM1598.3 735.8h11.6v12h-11.6zM1647.5 761.2h11.6v12h-11.6zM1672.1 761.2h11.6v12h-11.6zM1807.4 761.2h11.6v12h-11.6zM1905.8 761.2h11.6v12h-11.6zM1955 761.2h11.6v12h-11.6zM2028.8 761.2h11.6v12h-11.6zM2078 761.2h11.6v12h-11.6zM2139.5 761.2h11.6v12h-11.6zM2188.7 761.2h11.6v12h-11.6zM2201 761.2h11.6v12h-11.6zM2213.3 761.2h11.6v12h-11.6zM2262.5 761.2h11.6v12h-11.6zM2336.3 761.2h11.6v12h-11.6zM1733.6 773.9h11.6v12h-11.6zM1782.8 773.9h11.6v12h-11.6zM1930.4 773.9h11.6v12h-11.6zM1967.3 773.9h11.6v12h-11.6zM2004.2 773.9h11.6v12h-11.6zM2114.9 773.9h11.6v12h-11.6zM2237.9 773.9h11.6v12h-11.6zM2324 773.9h11.6v12h-11.6zM1696.7 786.6h11.6v12h-11.6zM1819.7 786.6h11.6v12h-11.6zM1979.6 786.6h11.6v12h-11.6zM2004.2 786.6h11.6v12h-11.6zM1733.6 799.3h11.6v12h-11.6zM1758.2 799.3h11.6v12h-11.6zM1782.8 799.3h11.6v12h-11.6zM1930.4 799.3h11.6v12h-11.6zM1967.3 799.3h11.6v12h-11.6zM2102.6 799.3h11.6v12h-11.6zM2114.9 799.3h11.6v12h-11.6zM2151.8 799.3h11.6v12h-11.6zM2225.6 799.3h11.6v12h-11.6zM2237.9 799.3h11.6v12h-11.6zM2324 799.3h11.6v12h-11.6zM1696.7 812h11.6v12h-11.6zM1979.6 824.8h11.6v12h-11.6zM1819.7 837.5h11.6v12h-11.6zM1979.6 837.5h11.6v12h-11.6zM1819.7 850.2h11.6v12h-11.6zM1721.3 862.9h11.6v12h-11.6zM1795.1 862.9h11.6v12h-11.6zM2004.2 862.9h11.6v12h-11.6z"/>
<path fill="#ffaa90" d="M1844.3 100h11.6v12h-11.6zM2139.5 125.4h11.6v12h-11.6zM1622.9 138.2h11.6v12h-11.6zM1672.1 138.2h11.6v12h-11.6zM1770.5 138.2h11.6v12h-11.6zM1807.4 138.2h11.6v12h-11.6zM1881.2 138.2h11.6v12h-11.6zM1955 138.2h11.6v12h-11.6zM2139.5 138.2h11.6v12h-11.6zM2164.1 138.2h11.6v12h-11.6zM2176.4 138.2h11.6v12h-11.6zM2188.7 138.2h11.6v12h-11.6zM2201 138.2h11.6v12h-11.6zM2274.8 138.2h11.6v12h-11.6zM1622.9 150.9h11.6v12h-11.6zM1745.9 150.9h11.6v12h-11.6zM1770.5 150.9h11.6v12h-11.6zM1807.4 150.9h11.6v12h-11.6zM1856.6 150.9h11.6v12h-11.6zM1881.2 150.9h11.6v12h-11.6zM1905.8 150.9h11.6v12h-11.6zM1955 150.9h11.6v12h-11.6zM2139.5 150.9h11.6v12h-11.6zM2164.1 150.9h11.6v12h-11.6zM2176.4 150.9h11.6v12h-11.6zM2188.7 150.9h11.6v12h-11.6zM2201 150.9h11.6v12h-11.6zM2274.8 150.9h11.6v12h-11.6zM1598.3 163.6h11.6v12h-11.6zM1635.2 163.6h11.6v12h-11.6zM1844.3 163.6h11.6v12h-11.6zM1868.9 163.6h11.6v12h-11.6zM1893.5 163.6h11.6v12h-11.6zM1918.1 163.6h11.6v12h-11.6zM2028.8 163.6h11.6v12h-11.6zM2127.2 163.6h11.6v12h-11.6zM2139.5 163.6h11.6v12h-11.6zM2262.5 163.6h11.6v12h-11.6zM2287.1 163.6h11.6v12h-11.6zM2299.4 163.6h11.6v12h-11.6zM1770.5 176.3h11.6v12h-11.6zM1832 176.3h11.6v12h-11.6zM1881.2 176.3h11.6v12h-11.6zM2016.5 176.3h11.6v12h-11.6zM2028.8 176.3h11.6v12h-11.6zM2078 176.3h11.6v12h-11.6zM2139.5 176.3h11.6v12h-11.6zM2164.1 176.3h11.6v12h-11.6zM2176.4 176.3h11.6v12h-11.6zM2201 176.3h11.6v12h-11.6zM2274.8 176.3h11.6v12h-11.6zM1598.3 227.2h11.6v12h-11.6zM1622.9 227.2h11.6v12h-11.6zM1832 227.2h11.6v12h-11.6zM2016.5 227.2h11.6v12h-11.6zM2028.8 227.2h11.6v12h-11.6zM2127.2 227.2h11.6v12h-11.6zM2164.1 227.2h11.6v12h-11.6zM2176.4 227.2h11.6v12h-11.6zM1598.3 239.9h11.6v12h-11.6zM1635.2 239.9h11.6v12h-11.6zM1844.3 239.9h11.6v12h-11.6zM1868.9 239.9h11.6v12h-11.6zM1893.5 239.9h11.6v12h-11.6zM1942.7 239.9h11.6v12h-11.6zM2262.5 239.9h11.6v12h-11.6zM2287.1 239.9h11.6v12h-11.6zM2299.4 239.9h11.6v12h-11.6zM1598.3 252.6h11.6v12h-11.6zM1635.2 252.6h11.6v12h-11.6zM1844.3 252.6h11.6v12h-11.6zM1868.9 252.6h11.6v12h-11.6zM1893.5 252.6h11.6v12h-11.6zM1942.7 252.6h11.6v12h-11.6zM2287.1 252.6h11.6v12h-11.6zM2299.4 252.6h11.6v12h-11.6zM1598.3 265.3h11.6v12h-11.6zM1635.2 265.3h11.6v12h-11.6zM1844.3 265.3h11.6v12h-11.6zM1868.9 265.3h11.6v12h-11.6zM1893.5 265.3h11.6v12h-11.6zM1942.7 265.3h11.6v12h-11.6zM2213.3 265.3h11.6v12h-11.6zM2262.5 265.3h11.6v12h-11.6zM2287.1 265.3h11.6v12h-11.6zM2299.4 265.3h11.6v12h-11.6zM1832 278h11.6v12h-11.6zM1893.5 278h11.6v12h-11.6zM2016.5 278h11.6v12h-11.6zM2078 278h11.6v12h-11.6zM2127.2 278h11.6v12h-11.6zM2213.3 278h11.6v12h-11.6zM2262.5 278h11.6v12h-11.6zM2287.1 278h11.6v12h-11.6zM2299.4 278h11.6v12h-11.6zM1598.3 303.4h11.6v12h-11.6zM1635.2 303.4h11.6v12h-11.6zM1868.9 303.4h11.6v12h-11.6zM1893.5 303.4h11.6v12h-11.6zM2028.8 303.4h11.6v12h-11.6zM2127.2 303.4h11.6v12h-11.6zM2262.5 303.4h11.6v12h-11.6zM2274.8 303.4h11.6v12h-11.6zM2287.1 303.4h11.6v12h-11.6zM2299.4 303.4h11.6v12h-11.6zM2311.7 303.4h11.6v12h-11.6zM1647.5 316.2h11.6v12h-11.6zM1832 316.2h11.6v12h-11.6zM1881.2 316.2h11.6v12h-11.6zM2053.4 316.2h11.6v12h-11.6zM2139.5 316.2h11.6v12h-11.6zM2164.1 316.2h11.6v12h-11.6zM2213.3 316.2h11.6v12h-11.6zM2274.8 316.2h11.6v12h-11.6zM2078 354.3h11.6v12h-11.6zM1647.5 367h11.6v12h-11.6zM1832 367h11.6v12h-11.6zM1868.9 367h11.6v12h-11.6zM1893.5 367h11.6v12h-11.6zM2004.2 367h11.6v12h-11.6zM2041.1 367h11.6v12h-11.6zM2053.4 367h11.6v12h-11.6zM2090.3 367h11.6v12h-11.6zM2164.1 367h11.6v12h-11.6zM2262.5 367h11.6v12h-11.6zM2016.5 392.5h11.6v12h-11.6zM2078 392.5h11.6v12h-11.6zM2127.2 392.5h11.6v12h-11.6zM2016.5 405.2h11.6v12h-11.6zM2078 405.2h11.6v12h-11.6zM1635.2 417.9h11.6v12h-11.6zM1844.3 417.9h11.6v12h-11.6zM1868.9 417.9h11.6v12h-11.6zM1893.5 417.9h11.6v12h-11.6zM1942.7 417.9h11.6v12h-11.6zM2139.5 417.9h11.6v12h-11.6zM2213.3 417.9h11.6v12h-11.6zM2262.5 417.9h11.6v12h-11.6zM2274.8 417.9h11.6v12h-11.6zM1598.3 430.6h11.6v12h-11.6zM1832 430.6h11.6v12h-11.6zM1881.2 430.6h11.6v12h-11.6zM1905.8 430.6h11.6v12h-11.6zM1955 430.6h11.6v12h-11.6zM2041.1 430.6h11.6v12h-11.6zM2053.4 430.6h11.6v12h-11.6zM2164.1 430.6h11.6v12h-11.6zM2213.3 430.6h11.6v12h-11.6zM2262.5 430.6h11.6v12h-11.6zM2078 443.3h11.6v12h-11.6zM1635.2 494.2h11.6v12h-11.6zM1844.3 494.2h11.6v12h-11.6zM1868.9 494.2h11.6v12h-11.6zM1893.5 494.2h11.6v12h-11.6zM1942.7 494.2h11.6v12h-11.6zM2016.5 494.2h11.6v12h-11.6zM2287.1 494.2h11.6v12h-11.6zM2299.4 494.2h11.6v12h-11.6zM1622.9 506.9h11.6v12h-11.6zM1647.5 506.9h11.6v12h-11.6zM1672.1 506.9h11.6v12h-11.6zM1807.4 506.9h11.6v12h-11.6zM1856.6 506.9h11.6v12h-11.6zM1881.2 506.9h11.6v12h-11.6zM1905.8 506.9h11.6v12h-11.6zM1955 506.9h11.6v12h-11.6zM2028.8 506.9h11.6v12h-11.6zM2176.4 506.9h11.6v12h-11.6zM2188.7 506.9h11.6v12h-11.6zM2201 506.9h11.6v12h-11.6zM2274.8 532.3h11.6v12h-11.6zM1942.7 545h11.6v12h-11.6zM2016.5 545h11.6v12h-11.6zM2287.1 545h11.6v12h-11.6zM1622.9 557.7h11.6v12h-11.6zM1672.1 557.7h11.6v12h-11.6zM1807.4 557.7h11.6v12h-11.6zM1881.2 557.7h11.6v12h-11.6zM1955 557.7h11.6v12h-11.6zM2028.8 557.7h11.6v12h-11.6zM2078 557.7h11.6v12h-11.6zM2139.5 557.7h11.6v12h-11.6zM2164.1 557.7h11.6v12h-11.6zM2176.4 557.7h11.6v12h-11.6zM2188.7 557.7h11.6v12h-11.6zM2201 557.7h11.6v12h-11.6zM2274.8 557.7h11.6v12h-11.6zM1598.3 570.5h11.6v12h-11.6zM1635.2 570.5h11.6v12h-11.6zM1672.1 570.5h11.6v12h-11.6zM1844.3 570.5h11.6v12h-11.6zM1868.9 570.5h11.6v12h-11.6zM1893.5 570.5h11.6v12h-11.6zM1942.7 570.5h11.6v12h-11.6zM2016.5 570.5h11.6v12h-11.6zM2127.2 570.5h11.6v12h-11.6zM2262.5 570.5h11.6v12h-11.6zM2287.1 570.5h11.6v12h-11.6zM2299.4 570.5h11.6v12h-11.6zM1622.9 583.2h11.6v12h-11.6zM1807.4 583.2h11.6v12h-11.6zM1881.2 583.2h11.6v12h-11.6zM1955 583.2h11.6v12h-11.6zM2028.8 583.2h11.6v12h-11.6zM2078 583.2h11.6v12h-11.6zM2139.5 583.2h11.6v12h-11.6zM2176.4 583.2h11.6v12h-11.6zM2188.7 583.2h11.6v12h-11.6zM2201 583.2h11.6v12h-11.6zM2274.8 583.2h11.6v12h-11.6zM1942.7 595.9h11.6v12h-11.6zM2287.1 595.9h11.6v12h-11.6zM1622.9 608.6h11.6v12h-11.6zM1672.1 608.6h11.6v12h-11.6zM1745.9 608.6h11.6v12h-11.6zM1770.5 608.6h11.6v12h-11.6zM1807.4 608.6h11.6v12h-11.6zM1881.2 608.6h11.6v12h-11.6zM1955 608.6h11.6v12h-11.6zM2028.8 608.6h11.6v12h-11.6zM2176.4 608.6h11.6v12h-11.6zM2188.7 608.6h11.6v12h-11.6zM2201 608.6h11.6v12h-11.6zM2274.8 608.6h11.6v12h-11.6zM2336.3 608.6h11.6v12h-11.6zM1598.3 621.3h11.6v12h-11.6zM1622.9 621.3h11.6v12h-11.6zM2016.5 621.3h11.6v12h-11.6zM2078 621.3h11.6v12h-11.6zM2127.2 621.3h11.6v12h-11.6zM2164.1 621.3h11.6v12h-11.6zM2213.3 621.3h11.6v12h-11.6zM2262.5 621.3h11.6v12h-11.6zM1844.3 646.8h11.6v12h-11.6zM1868.9 646.8h11.6v12h-11.6zM1893.5 646.8h11.6v12h-11.6zM1942.7 646.8h11.6v12h-11.6zM2287.1 646.8h11.6v12h-11.6zM2299.4 646.8h11.6v12h-11.6zM1844.3 684.9h11.6v12h-11.6zM2262.5 684.9h11.6v12h-11.6zM2287.1 684.9h11.6v12h-11.6zM2299.4 684.9h11.6v12h-11.6zM1844.3 710.3h11.6v12h-11.6zM2287.1 710.3h11.6v12h-11.6zM1635.2 786.6h11.6v12h-11.6zM1844.3 786.6h11.6v12h-11.6zM1881.2 786.6h11.6v12h-11.6zM1893.5 786.6h11.6v12h-11.6zM1942.7 786.6h11.6v12h-11.6zM2299.4 786.6h11.6v12h-11.6zM1635.2 812h11.6v12h-11.6zM1942.7 812h11.6v12h-11.6zM2078 812h11.6v12h-11.6zM2127.2 812h11.6v12h-11.6zM1622.9 824.8h11.6v12h-11.6zM1647.5 824.8h11.6v12h-11.6zM1672.1 824.8h11.6v12h-11.6zM1881.2 824.8h11.6v12h-11.6zM1955 824.8h11.6v12h-11.6zM2028.8 824.8h11.6v12h-11.6zM2139.5 824.8h11.6v12h-11.6zM2176.4 824.8h11.6v12h-11.6zM2188.7 824.8h11.6v12h-11.6zM2201 824.8h11.6v12h-11.6zM2274.8 824.8h11.6v12h-11.6zM1635.2 837.5h11.6v12h-11.6zM1832 837.5h11.6v12h-11.6zM1844.3 837.5h11.6v12h-11.6zM1868.9 837.5h11.6v12h-11.6zM1893.5 837.5h11.6v12h-11.6zM1942.7 837.5h11.6v12h-11.6zM2213.3 837.5h11.6v12h-11.6zM2287.1 837.5h11.6v12h-11.6zM2299.4 837.5h11.6v12h-11.6zM1832 862.9h11.6v12h-11.6zM1881.2 862.9h11.6v12h-11.6zM2016.5 862.9h11.6v12h-11.6zM2139.5 862.9h11.6v12h-11.6zM2176.4 862.9h11.6v12h-11.6zM2188.7 862.9h11.6v12h-11.6zM2201 862.9h11.6v12h-11.6zM2213.3 862.9h11.6v12h-11.6zM2274.8 862.9h11.6v12h-11.6z"/>
<path fill="#ff7a59" d="M1598.3 138.2h11.6v12h-11.6zM1635.2 138.2h11.6v12h-11.6zM1844.3 138.2h11.6v12h-11.6zM1868.9 138.2h11.6v12h-11.6zM1893.5 138.2h11.6v12h-11.6zM1942.7 138.2h11.6v12h-11.6zM2262.5 138.2h11.6v12h-11.6zM2287.1 138.2h11.6v12h-11.6zM1598.3 150.9h11.6v12h-11.6zM1893.5 150.9h11.6v12h-11.6zM2078 150.9h11.6v12h-11.6zM2127.2 150.9h11.6v12h-11.6zM2262.5 150.9h11.6v12h-11.6zM2299.4 150.9h11.6v12h-11.6zM1598.3 176.3h11.6v12h-11.6zM1635.2 176.3h11.6v12h-11.6zM1844.3 176.3h11.6v12h-11.6zM1868.9 176.3h11.6v12h-11.6zM1893.5 176.3h11.6v12h-11.6zM2287.1 176.3h11.6v12h-11.6zM2299.4 176.3h11.6v12h-11.6zM1635.2 316.2h11.6v12h-11.6zM1942.7 316.2h11.6v12h-11.6zM2078 316.2h11.6v12h-11.6zM2287.1 316.2h11.6v12h-11.6zM1942.7 367h11.6v12h-11.6zM2127.2 367h11.6v12h-11.6zM2287.1 367h11.6v12h-11.6zM2041.1 392.5h11.6v12h-11.6zM2053.4 405.2h11.6v12h-11.6zM1942.7 430.6h11.6v12h-11.6zM1868.9 506.9h11.6v12h-11.6zM1893.5 506.9h11.6v12h-11.6zM2016.5 506.9h11.6v12h-11.6zM2078 506.9h11.6v12h-11.6zM2127.2 506.9h11.6v12h-11.6zM2299.4 506.9h11.6v12h-11.6zM1598.3 557.7h11.6v12h-11.6zM1635.2 557.7h11.6v12h-11.6zM1868.9 557.7h11.6v12h-11.6zM1942.7 557.7h11.6v12h-11.6zM2262.5 557.7h11.6v12h-11.6zM2287.1 557.7h11.6v12h-11.6zM2299.4 557.7h11.6v12h-11.6zM1598.3 583.2h11.6v12h-11.6zM1635.2 583.2h11.6v12h-11.6zM1893.5 583.2h11.6v12h-11.6zM1942.7 583.2h11.6v12h-11.6zM2262.5 583.2h11.6v12h-11.6zM2299.4 583.2h11.6v12h-11.6zM1598.3 608.6h11.6v12h-11.6zM2262.5 608.6h11.6v12h-11.6zM2299.4 608.6h11.6v12h-11.6zM1598.3 786.6h11.6v12h-11.6zM1868.9 824.8h11.6v12h-11.6zM1893.5 824.8h11.6v12h-11.6zM2127.2 824.8h11.6v12h-11.6zM2262.5 824.8h11.6v12h-11.6zM2299.4 824.8h11.6v12h-11.6zM1672.1 862.9h11.6v12h-11.6zM1844.3 862.9h11.6v12h-11.6zM1868.9 862.9h11.6v12h-11.6zM1893.5 862.9h11.6v12h-11.6zM2262.5 862.9h11.6v12h-11.6zM2287.1 862.9h11.6v12h-11.6zM2299.4 862.9h11.6v12h-11.6z"/>
<path fill="#ab82ff" d="M1659.8 138.2h11.6v12h-11.6zM1684.4 138.2h11.6v12h-11.6zM1659.8 176.3h11.6v12h-11.6zM1684.4 176.3h11.6v12h-11.6zM1659.8 227.2h11.6v12h-11.6zM1684.4 227.2h11.6v12h-11.6zM1659.8 316.2h11.6v12h-11.6zM1684.4 316.2h11.6v12h-11.6zM1659.8 430.6h11.6v12h-11.6zM1684.4 430.6h11.6v12h-11.6zM1659.8 557.7h11.6v12h-11.6zM1684.4 557.7h11.6v12h-11.6zM1659.8 583.2h11.6v12h-11.6zM1684.4 583.2h11.6v12h-11.6zM1659.8 621.3h11.6v12h-11.6zM1868.9 773.9h11.6v12h-11.6zM1893.5 773.9h11.6v12h-11.6zM2016.5 773.9h11.6v12h-11.6zM2127.2 773.9h11.6v12h-11.6zM2213.3 773.9h11.6v12h-11.6zM2262.5 773.9h11.6v12h-11.6zM2299.4 773.9h11.6v12h-11.6zM1598.3 799.3h11.6v12h-11.6zM1832 799.3h11.6v12h-11.6zM1868.9 799.3h11.6v12h-11.6zM1893.5 799.3h11.6v12h-11.6zM2016.5 799.3h11.6v12h-11.6zM2127.2 799.3h11.6v12h-11.6zM2213.3 799.3h11.6v12h-11.6zM2262.5 799.3h11.6v12h-11.6zM2299.4 799.3h11.6v12h-11.6zM1659.8 862.9h11.6v12h-11.6z"/>
<path fill="#ff9475" d="M1832 138.2h11.6v12h-11.6zM2016.5 138.2h11.6v12h-11.6zM2028.8 138.2h11.6v12h-11.6zM2078 138.2h11.6v12h-11.6zM2127.2 138.2h11.6v12h-11.6zM2213.3 138.2h11.6v12h-11.6zM1672.1 150.9h11.6v12h-11.6zM1832 150.9h11.6v12h-11.6zM2016.5 150.9h11.6v12h-11.6zM2028.8 150.9h11.6v12h-11.6zM2213.3 150.9h11.6v12h-11.6zM1672.1 176.3h11.6v12h-11.6zM1942.7 176.3h11.6v12h-11.6zM2127.2 176.3h11.6v12h-11.6zM2213.3 176.3h11.6v12h-11.6zM1635.2 227.2h11.6v12h-11.6zM1844.3 227.2h11.6v12h-11.6zM1868.9 227.2h11.6v12h-11.6zM1893.5 227.2h11.6v12h-11.6zM1942.7 227.2h11.6v12h-11.6zM2078 227.2h11.6v12h-11.6zM2262.5 227.2h11.6v12h-11.6zM2287.1 227.2h11.6v12h-11.6zM2299.4 227.2h11.6v12h-11.6zM1635.2 278h11.6v12h-11.6zM1844.3 278h11.6v12h-11.6zM1868.9 278h11.6v12h-11.6zM1942.7 278h11.6v12h-11.6zM1598.3 316.2h11.6v12h-11.6zM1844.3 316.2h11.6v12h-11.6zM1868.9 316.2h11.6v12h-11.6zM1893.5 316.2h11.6v12h-11.6zM2016.5 316.2h11.6v12h-11.6zM2028.8 316.2h11.6v12h-11.6zM2262.5 316.2h11.6v12h-11.6zM2299.4 316.2h11.6v12h-11.6zM1635.2 367h11.6v12h-11.6zM1844.3 367h11.6v12h-11.6zM2016.5 367h11.6v12h-11.6zM2028.8 367h11.6v12h-11.6zM2213.3 367h11.6v12h-11.6zM2299.4 367h11.6v12h-11.6zM2078 417.9h11.6v12h-11.6zM2127.2 417.9h11.6v12h-11.6zM2287.1 417.9h11.6v12h-11.6zM2299.4 417.9h11.6v12h-11.6zM1635.2 430.6h11.6v12h-11.6zM1844.3 430.6h11.6v12h-11.6zM1868.9 430.6h11.6v12h-11.6zM1893.5 430.6h11.6v12h-11.6zM2078 430.6h11.6v12h-11.6zM2127.2 430.6h11.6v12h-11.6zM2287.1 430.6h11.6v12h-11.6zM2299.4 430.6h11.6v12h-11.6zM1598.3 506.9h11.6v12h-11.6zM1832 506.9h11.6v12h-11.6zM2164.1 506.9h11.6v12h-11.6zM2213.3 506.9h11.6v12h-11.6zM2262.5 506.9h11.6v12h-11.6zM1832 557.7h11.6v12h-11.6zM2016.5 557.7h11.6v12h-11.6zM2127.2 557.7h11.6v12h-11.6zM2213.3 557.7h11.6v12h-11.6zM1672.1 583.2h11.6v12h-11.6zM1832 583.2h11.6v12h-11.6zM2016.5 583.2h11.6v12h-11.6zM2127.2 583.2h11.6v12h-11.6zM2164.1 583.2h11.6v12h-11.6zM2213.3 583.2h11.6v12h-11.6zM1832 608.6h11.6v12h-11.6zM2016.5 608.6h11.6v12h-11.6zM2078 608.6h11.6v12h-11.6zM2127.2 608.6h11.6v12h-11.6zM2164.1 608.6h11.6v12h-11.6zM2213.3 608.6h11.6v12h-11.6zM1635.2 621.3h11.6v12h-11.6zM1844.3 621.3h11.6v12h-11.6zM1868.9 621.3h11.6v12h-11.6zM1893.5 621.3h11.6v12h-11.6zM1942.7 621.3h11.6v12h-11.6zM2287.1 621.3h11.6v12h-11.6zM2299.4 621.3h11.6v12h-11.6zM1647.5 659.5h11.6v12h-11.6zM1868.9 786.6h11.6v12h-11.6zM2262.5 786.6h11.6v12h-11.6zM2287.1 786.6h11.6v12h-11.6zM1795.1 812h11.6v12h-11.6zM1832 824.8h11.6v12h-11.6zM2016.5 824.8h11.6v12h-11.6zM2078 824.8h11.6v12h-11.6zM2164.1 824.8h11.6v12h-11.6zM2213.3 824.8h11.6v12h-11.6zM1942.7 862.9h11.6v12h-11.6zM2127.2 862.9h11.6v12h-11.6z"/>
<path fill="#ff5636" d="M1635.2 150.9h11.6v12h-11.6zM1844.3 150.9h11.6v12h-11.6zM1868.9 150.9h11.6v12h-11.6zM1942.7 150.9h11.6v12h-11.6zM2004.2 392.5h11.6v12h-11.6zM2004.2 405.2h11.6v12h-11.6zM2041.1 443.3h11.6v12h-11.6zM2053.4 443.3h11.6v12h-11.6zM1635.2 506.9h11.6v12h-11.6zM1844.3 506.9h11.6v12h-11.6zM2287.1 506.9h11.6v12h-11.6zM1844.3 557.7h11.6v12h-11.6zM1844.3 583.2h11.6v12h-11.6zM2287.1 583.2h11.6v12h-11.6zM1635.2 608.6h11.6v12h-11.6zM1868.9 608.6h11.6v12h-11.6zM1893.5 608.6h11.6v12h-11.6zM1942.7 608.6h11.6v12h-11.6zM2287.1 608.6h11.6v12h-11.6zM1659.8 773.9h11.6v12h-11.6zM1684.4 799.3h11.6v12h-11.6zM1598.3 824.8h11.6v12h-11.6zM1844.3 824.8h11.6v12h-11.6zM1942.7 824.8h11.6v12h-11.6zM2287.1 824.8h11.6v12h-11.6zM1635.2 862.9h11.6v12h-11.6z"/>
<path fill="#9164ff" d="M1659.8 150.9h11.6v12h-11.6zM1684.4 150.9h11.6v12h-11.6zM1659.8 506.9h11.6v12h-11.6zM1684.4 506.9h11.6v12h-11.6zM1659.8 608.6h11.6v12h-11.6zM1684.4 608.6h11.6v12h-11.6zM1684.4 621.3h11.6v12h-11.6zM1598.3 773.9h11.6v12h-11.6zM1635.2 773.9h11.6v12h-11.6zM1832 773.9h11.6v12h-11.6zM1844.3 773.9h11.6v12h-11.6zM1942.7 773.9h11.6v12h-11.6zM2287.1 773.9h11.6v12h-11.6zM1635.2 799.3h11.6v12h-11.6zM1844.3 799.3h11.6v12h-11.6zM1942.7 799.3h11.6v12h-11.6zM2287.1 799.3h11.6v12h-11.6zM1659.8 824.8h11.6v12h-11.6zM1684.4 824.8h11.6v12h-11.6zM1684.4 862.9h11.6v12h-11.6z"/>
<path fill="#c19dff" d="M1659.8 163.6h11.6v12h-11.6zM1659.8 239.9h11.6v12h-11.6zM1684.4 239.9h11.6v12h-11.6zM1684.4 252.6h11.6v12h-11.6zM1684.4 265.3h11.6v12h-11.6zM1659.8 278h11.6v12h-11.6zM1684.4 278h11.6v12h-11.6zM1659.8 367h11.6v12h-11.6zM1684.4 367h11.6v12h-11.6zM1684.4 379.7h11.6v12h-11.6zM1659.8 570.5h11.6v12h-11.6zM1684.4 570.5h11.6v12h-11.6zM1684.4 595.9h11.6v12h-11.6zM1856.6 773.9h11.6v12h-11.6zM1881.2 773.9h11.6v12h-11.6zM2065.7 773.9h11.6v12h-11.6zM2078 773.9h11.6v12h-11.6zM2164.1 773.9h11.6v12h-11.6zM2176.4 773.9h11.6v12h-11.6zM2188.7 773.9h11.6v12h-11.6zM2201 773.9h11.6v12h-11.6zM1881.2 799.3h11.6v12h-11.6zM2078 799.3h11.6v12h-11.6zM2164.1 799.3h11.6v12h-11.6zM2201 799.3h11.6v12h-11.6zM2274.8 799.3h11.6v12h-11.6z"/>
<rect x="1597.4" y="86.4" width="764.2" height="789.8" fill="none" stroke="#505050" stroke-width="1.2"/>
<path d="M1591.6 93.3h5.8M1591.6 106h5.8M1591.6 118.7h5.8M1591.6 131.4h5.8M1591.6 144.2h5.8M1591.6 156.9h5.8M1591.6 169.6h5.8M1591.6 182.3h5.8M1591.6 195h5.8M1591.6 207.7h5.8M1591.6 220.4h5.8M1591.6 233.2h5.8M1591.6 245.9h5.8M1591.6 258.6h5.8M1591.6 271.3h5.8M1591.6 284h5.8M1591.6 296.7h5.8M1591.6 309.5h5.8M1591.6 322.2h5.8M1591.6 334.9h5.8M1591.6 347.6h5.8M1591.6 360.3h5.8M1591.6 373h5.8M1591.6 385.7h5.8M1591.6 398.5h5.8M1591.6 411.2h5.8M1591.6 423.9h5.8M1591.6 436.6h5.8M1591.6 449.3h5.8M1591.6 462h5.8M1591.6 474.8h5.8M1591.6 487.5h5.8M1591.6 500.2h5.8M1591.6 512.9h5.8M1591.6 525.6h5.8M1591.6 538.3h5.8M1591.6 551h5.8M1591.6 563.8h5.8M1591.6 576.5h5.8M1591.6 589.2h5.8M1591.6 601.9h5.8M1591.6 614.6h5.8M1591.6 627.3h5.8M1591.6 640h5.8M1591.6 652.8h5.8M1591.6 665.5h5.8M1591.6 678.2h5.8M1591.6 690.9h5.8M1591.6 703.6h5.8M1591.6 716.3h5.8M1591.6 729h5.8M1591.6 741.8h5.8M1591.6 754.5h5.8M1591.6 767.2h5.8M1591.6 779.9h5.8M1591.6 792.6h5.8M1591.6 805.3h5.8M1591.6 818.1h5.8M1591.6 830.8h5.8M1591.6 843.5h5.8M1591.6 856.2h5.8M1591.6 868.9h5.8M1604.1 876.2v5.8M1616.4 876.2v5.8M1628.7 876.2v5.8M1641 876.2v5.8M1653.3 876.2v5.8M1665.6 876.2v5.8M1677.9 876.2v5.8M1690.2 876.2v5.8M1702.5 876.2v5.8M1714.8 876.2v5.8M1727.1 876.2v5.8M1739.4 876.2v5.8M1751.7 876.2v5.8M1764 876.2v5.8M1776.3 876.2v5.8M1788.6 876.2v5.8M1800.9 876.2v5.8M1813.2 876.2v5.8M1825.5 876.2v5.8M1837.8 876.2v5.8M1850.1 876.2v5.8M1862.4 876.2v5.8M1874.7 876.2v5.8M1887 876.2v5.8M1899.3 876.2v5.8M1911.6 876.2v5.8M1923.9 876.2v5.8M1936.2 876.2v5.8M1948.5 876.2v5.8M1960.8 876.2v5.8M1973.1 876.2v5.8M1985.4 876.2v5.8M1997.7 876.2v5.8M2010 876.2v5.8M2022.3 876.2v5.8M2034.6 876.2v5.8M2046.9 876.2v5.8M2059.2 876.2v5.8M2071.5 876.2v5.8M2083.8 876.2v5.8M2096.1 876.2v5.8M2108.4 876.2v5.8M2120.7 876.2v5.8M2133 876.2v5.8M2145.3 876.2v5.8M2157.6 876.2v5.8M2169.9 876.2v5.8M2182.2 876.2v5.8M2194.5 876.2v5.8M2206.8 876.2v5.8M2219.1 876.2v5.8M2231.4 876.2v5.8M2243.7 876.2v5.8M2256 876.2v5.8M2268.3 876.2v5.8M2280.6 876.2v5.8M2292.9 876.2v5.8M2305.2 876.2v5.8M2317.5 876.2v5.8M2329.8 876.2v5.8M2342.1 876.2v5.8M2354.4 876.2v5.8" stroke="#333" stroke-width="1.9" fill="none"/>
<g font-size="17.5" fill="#4d4d4d" text-anchor="end">
<text x="1587.8" y="99.5">fish_sebastes</text>
<text x="1587.8" y="112.2">fish_other</text>
<text x="1587.8" y="124.9">fish_myctophid</text>
<text x="1587.8" y="137.6">fish_engraulidae</text>
<text x="1587.8" y="150.4">chaetognath</text>
<text x="1587.8" y="163.1">appendicularian</text>
<text x="1587.8" y="175.8">tunicate_salp</text>
<text x="1587.8" y="188.5">tunicate_doliolid</text>
<text x="1587.8" y="201.2">pyrosome</text>
<text x="1587.8" y="213.9">echinoderm_pluteus</text>
<text x="1587.8" y="226.6">echinoderm_brachiolaria</text>
<text x="1587.8" y="239.4">pteropod</text>
<text x="1587.8" y="252.1">polychaete</text>
<text x="1587.8" y="264.8">polychaete_larvae</text>
<text x="1587.8" y="277.5">crustacean_other</text>
<text x="1587.8" y="290.2">crustacean_shrimp_euphausiid</text>
<text x="1587.8" y="302.9">crustacean_shrimp_caridean</text>
<text x="1587.8" y="315.7">crustacean_shrimp_mysids</text>
<text x="1587.8" y="328.4">crustacean_zoea</text>
<text x="1587.8" y="341.1">crustacean_megalopae</text>
<text x="1587.8" y="353.8">crustacean_amphipods</text>
<text x="1587.8" y="366.5">crustacean_ostracod</text>
<text x="1587.8" y="379.2">copepod_other</text>
<text x="1587.8" y="391.9">copepod_eucalaniid</text>
<text x="1587.8" y="404.7">copepod_calanoid_paraeuchaeta</text>
<text x="1587.8" y="417.4">copepod_calanoid_paracalanidae</text>
<text x="1587.8" y="430.1">copepod_poecilostomatoid</text>
<text x="1587.8" y="442.8">copepod_calanoid_other</text>
<text x="1587.8" y="455.5">copepod_calanoid_metridia</text>
<text x="1587.8" y="468.2">copepod_calanoid_mesocalanus</text>
<text x="1587.8" y="480.9">copepod_calanoid_diaptomoidea</text>
<text x="1587.8" y="493.7">copepod_calanoid_calanus</text>
<text x="1587.8" y="506.4">copepod_cyclopoid_oithona_eggs</text>
<text x="1587.8" y="519.1">copepod_cyclopoid_oithona</text>
<text x="1587.8" y="531.8">copepod_calanoid_pseudocalanus</text>
<text x="1587.8" y="544.5">ctenophore_beroe</text>
<text x="1587.8" y="557.2">ctenophore_lobate</text>
<text x="1587.8" y="570">ctenophore_cydippid</text>
<text x="1587.8" y="582.7">siphonophore_physonect</text>
<text x="1587.8" y="595.4">siphonophore_other</text>
<text x="1587.8" y="608.1">siphonophore_calycophoran_sphaeronectes</text>
<text x="1587.8" y="620.8">siphonophore_calycophoran_muggiaea</text>
<text x="1587.8" y="633.5">siphonophore_calycophoran_abylidae</text>
<text x="1587.8" y="646.2">hydromedusae_other</text>
<text x="1587.8" y="659">hydromedusae_unknown</text>
<text x="1587.8" y="671.7">hydromedusae_trachymedusae_arctapodema</text>
<text x="1587.8" y="684.4">hydromedusae_trachymedusae_aglantha</text>
<text x="1587.8" y="697.1">hydromedusae_narcomedusae_solmundella</text>
<text x="1587.8" y="709.8">hydromedusae_narcomedusae_solmaris</text>
<text x="1587.8" y="722.5">hydromedusae_narcomedusae_other</text>
<text x="1587.8" y="735.2">hydromedusae_leptomedusae_other</text>
<text x="1587.8" y="748">hydromedusae_anthomedusae_velella</text>
<text x="1587.8" y="760.7">hydromedusae_anthomedusae_other</text>
<text x="1587.8" y="773.4">foraminifera</text>
<text x="1587.8" y="786.1">protist_other</text>
<text x="1587.8" y="798.8">protist_radiolarian_other</text>
<text x="1587.8" y="811.5">protist_noctiluca</text>
<text x="1587.8" y="824.3">protist_acantharia</text>
<text x="1587.8" y="837">phytoplankton_diatom_chain</text>
<text x="1587.8" y="849.7">diatoms</text>
<text x="1587.8" y="862.4">crustacean_shrimp_molt</text>
<text x="1587.8" y="875.1">detritus</text>
</g>
<g font-size="12.4" fill="#4d4d4d" text-anchor="end">
<text transform="translate(1610.8,893.4) rotate(-45.85)">detritus</text>
<text transform="translate(1623.1,893.4) rotate(-45.85)">crustacean_shrimp_molt</text>
<text transform="translate(1635.4,893.4) rotate(-45.85)">diatoms</text>
<text transform="translate(1647.7,893.4) rotate(-45.85)">phytoplankton_diatom_chain</text>
<text transform="translate(1660,893.4) rotate(-45.85)">protist_acantharia</text>
<text transform="translate(1672.3,893.4) rotate(-45.85)">protist_noctiluca</text>
<text transform="translate(1684.6,893.4) rotate(-45.85)">protist_radiolarian_other</text>
<text transform="translate(1696.9,893.4) rotate(-45.85)">protist_other</text>
<text transform="translate(1709.2,893.4) rotate(-45.85)">foraminifera</text>
<text transform="translate(1721.5,893.4) rotate(-45.85)">hydromedusae_anthomedusae_other</text>
<text transform="translate(1733.8,893.4) rotate(-45.85)">hydromedusae_anthomedusae_velella</text>
<text transform="translate(1746.1,893.4) rotate(-45.85)">hydromedusae_leptomedusae_other</text>
<text transform="translate(1758.4,893.4) rotate(-45.85)">hydromedusae_narcomedusae_other</text>
<text transform="translate(1770.7,893.4) rotate(-45.85)">hydromedusae_narcomedusae_solmaris</text>
<text transform="translate(1783,893.4) rotate(-45.85)">hydromedusae_narcomedusae_solmundella</text>
<text transform="translate(1795.3,893.4) rotate(-45.85)">hydromedusae_trachymedusae_aglantha</text>
<text transform="translate(1807.6,893.4) rotate(-45.85)">hydromedusae_trachymedusae_arctapodema</text>
<text transform="translate(1819.9,893.4) rotate(-45.85)">hydromedusae_unknown</text>
<text transform="translate(1832.2,893.4) rotate(-45.85)">hydromedusae_other</text>
<text transform="translate(1844.5,893.4) rotate(-45.85)">siphonophore_calycophoran_abylidae</text>
<text transform="translate(1856.8,893.4) rotate(-45.85)">siphonophore_calycophoran_muggiaea</text>
<text transform="translate(1869.1,893.4) rotate(-45.85)">siphonophore_calycophoran_sphaeronectes</text>
<text transform="translate(1881.4,893.4) rotate(-45.85)">siphonophore_other</text>
<text transform="translate(1893.7,893.4) rotate(-45.85)">siphonophore_physonect</text>
<text transform="translate(1906,893.4) rotate(-45.85)">ctenophore_cydippid</text>
<text transform="translate(1918.3,893.4) rotate(-45.85)">ctenophore_lobate</text>
<text transform="translate(1930.6,893.4) rotate(-45.85)">ctenophore_beroe</text>
<text transform="translate(1942.9,893.4) rotate(-45.85)">copepod_calanoid_pseudocalanus</text>
<text transform="translate(1955.2,893.4) rotate(-45.85)">copepod_cyclopoid_oithona</text>
<text transform="translate(1967.5,893.4) rotate(-45.85)">copepod_cyclopoid_oithona_eggs</text>
<text transform="translate(1979.8,893.4) rotate(-45.85)">copepod_calanoid_calanus</text>
<text transform="translate(1992.1,893.4) rotate(-45.85)">copepod_calanoid_diaptomoidea</text>
<text transform="translate(2004.4,893.4) rotate(-45.85)">copepod_calanoid_mesocalanus</text>
<text transform="translate(2016.7,893.4) rotate(-45.85)">copepod_calanoid_metridia</text>
<text transform="translate(2029,893.4) rotate(-45.85)">copepod_calanoid_other</text>
<text transform="translate(2041.3,893.4) rotate(-45.85)">copepod_poecilostomatoid</text>
<text transform="translate(2053.6,893.4) rotate(-45.85)">copepod_calanoid_paracalanidae</text>
<text transform="translate(2065.9,893.4) rotate(-45.85)">copepod_calanoid_paraeuchaeta</text>
<text transform="translate(2078.2,893.4) rotate(-45.85)">copepod_eucalaniid</text>
<text transform="translate(2090.5,893.4) rotate(-45.85)">copepod_other</text>
<text transform="translate(2102.8,893.4) rotate(-45.85)">crustacean_ostracod</text>
<text transform="translate(2115.1,893.4) rotate(-45.85)">crustacean_amphipods</text>
<text transform="translate(2127.4,893.4) rotate(-45.85)">crustacean_megalopae</text>
<text transform="translate(2139.7,893.4) rotate(-45.85)">crustacean_zoea</text>
<text transform="translate(2152,893.4) rotate(-45.85)">crustacean_shrimp_mysids</text>
<text transform="translate(2164.3,893.4) rotate(-45.85)">crustacean_shrimp_caridean</text>
<text transform="translate(2176.6,893.4) rotate(-45.85)">crustacean_shrimp_euphausiid</text>
<text transform="translate(2188.9,893.4) rotate(-45.85)">crustacean_other</text>
<text transform="translate(2201.2,893.4) rotate(-45.85)">polychaete_larvae</text>
<text transform="translate(2213.5,893.4) rotate(-45.85)">polychaete</text>
<text transform="translate(2225.8,893.4) rotate(-45.85)">pteropod</text>
<text transform="translate(2238.1,893.4) rotate(-45.85)">echinoderm_brachiolaria</text>
<text transform="translate(2250.4,893.4) rotate(-45.85)">echinoderm_pluteus</text>
<text transform="translate(2262.7,893.4) rotate(-45.85)">pyrosome</text>
<text transform="translate(2275,893.4) rotate(-45.85)">tunicate_doliolid</text>
<text transform="translate(2287.3,893.4) rotate(-45.85)">tunicate_salp</text>
<text transform="translate(2299.6,893.4) rotate(-45.85)">appendicularian</text>
<text transform="translate(2311.9,893.4) rotate(-45.85)">chaetognath</text>
<text transform="translate(2324.2,893.4) rotate(-45.85)">fish_engraulidae</text>
<text transform="translate(2336.5,893.4) rotate(-45.85)">fish_myctophid</text>
<text transform="translate(2348.8,893.4) rotate(-45.85)">fish_other</text>
<text transform="translate(2361.1,893.4) rotate(-45.85)">fish_sebastes</text>
</g>
<rect x="1369.4" y="505.5" width="993.1" height="16.8" fill="none" stroke="#000" stroke-width="2.8"/>
<text x="2394" y="393" font-size="20.6" fill="#000">Spearman</text>
<text x="2394" y="417" font-size="20.6" fill="#000">Correlation</text>
<rect x="2393.2" y="430.7" width="30.4" height="155.3" fill="url(#div)"/>
<g stroke="#fff" stroke-width="0.9">
<line x1="2393.2" y1="547.2" x2="2399.2" y2="547.2"/><line x1="2417.6" y1="547.2" x2="2423.6" y2="547.2"/>
<line x1="2393.2" y1="469.5" x2="2399.2" y2="469.5"/><line x1="2417.6" y1="469.5" x2="2423.6" y2="469.5"/>
</g>
<g font-size="17.3" fill="#000">
<text x="2435.4" y="437.8">1.0</text>
<text x="2435.4" y="476.6">0.5</text>
<text x="2435.4" y="515.5">0.0</text>
<text x="2435.4" y="554.3">−0.5</text>
<text x="2435.4" y="593.1">−1.0</text>
</g>
</svg></body></html>
